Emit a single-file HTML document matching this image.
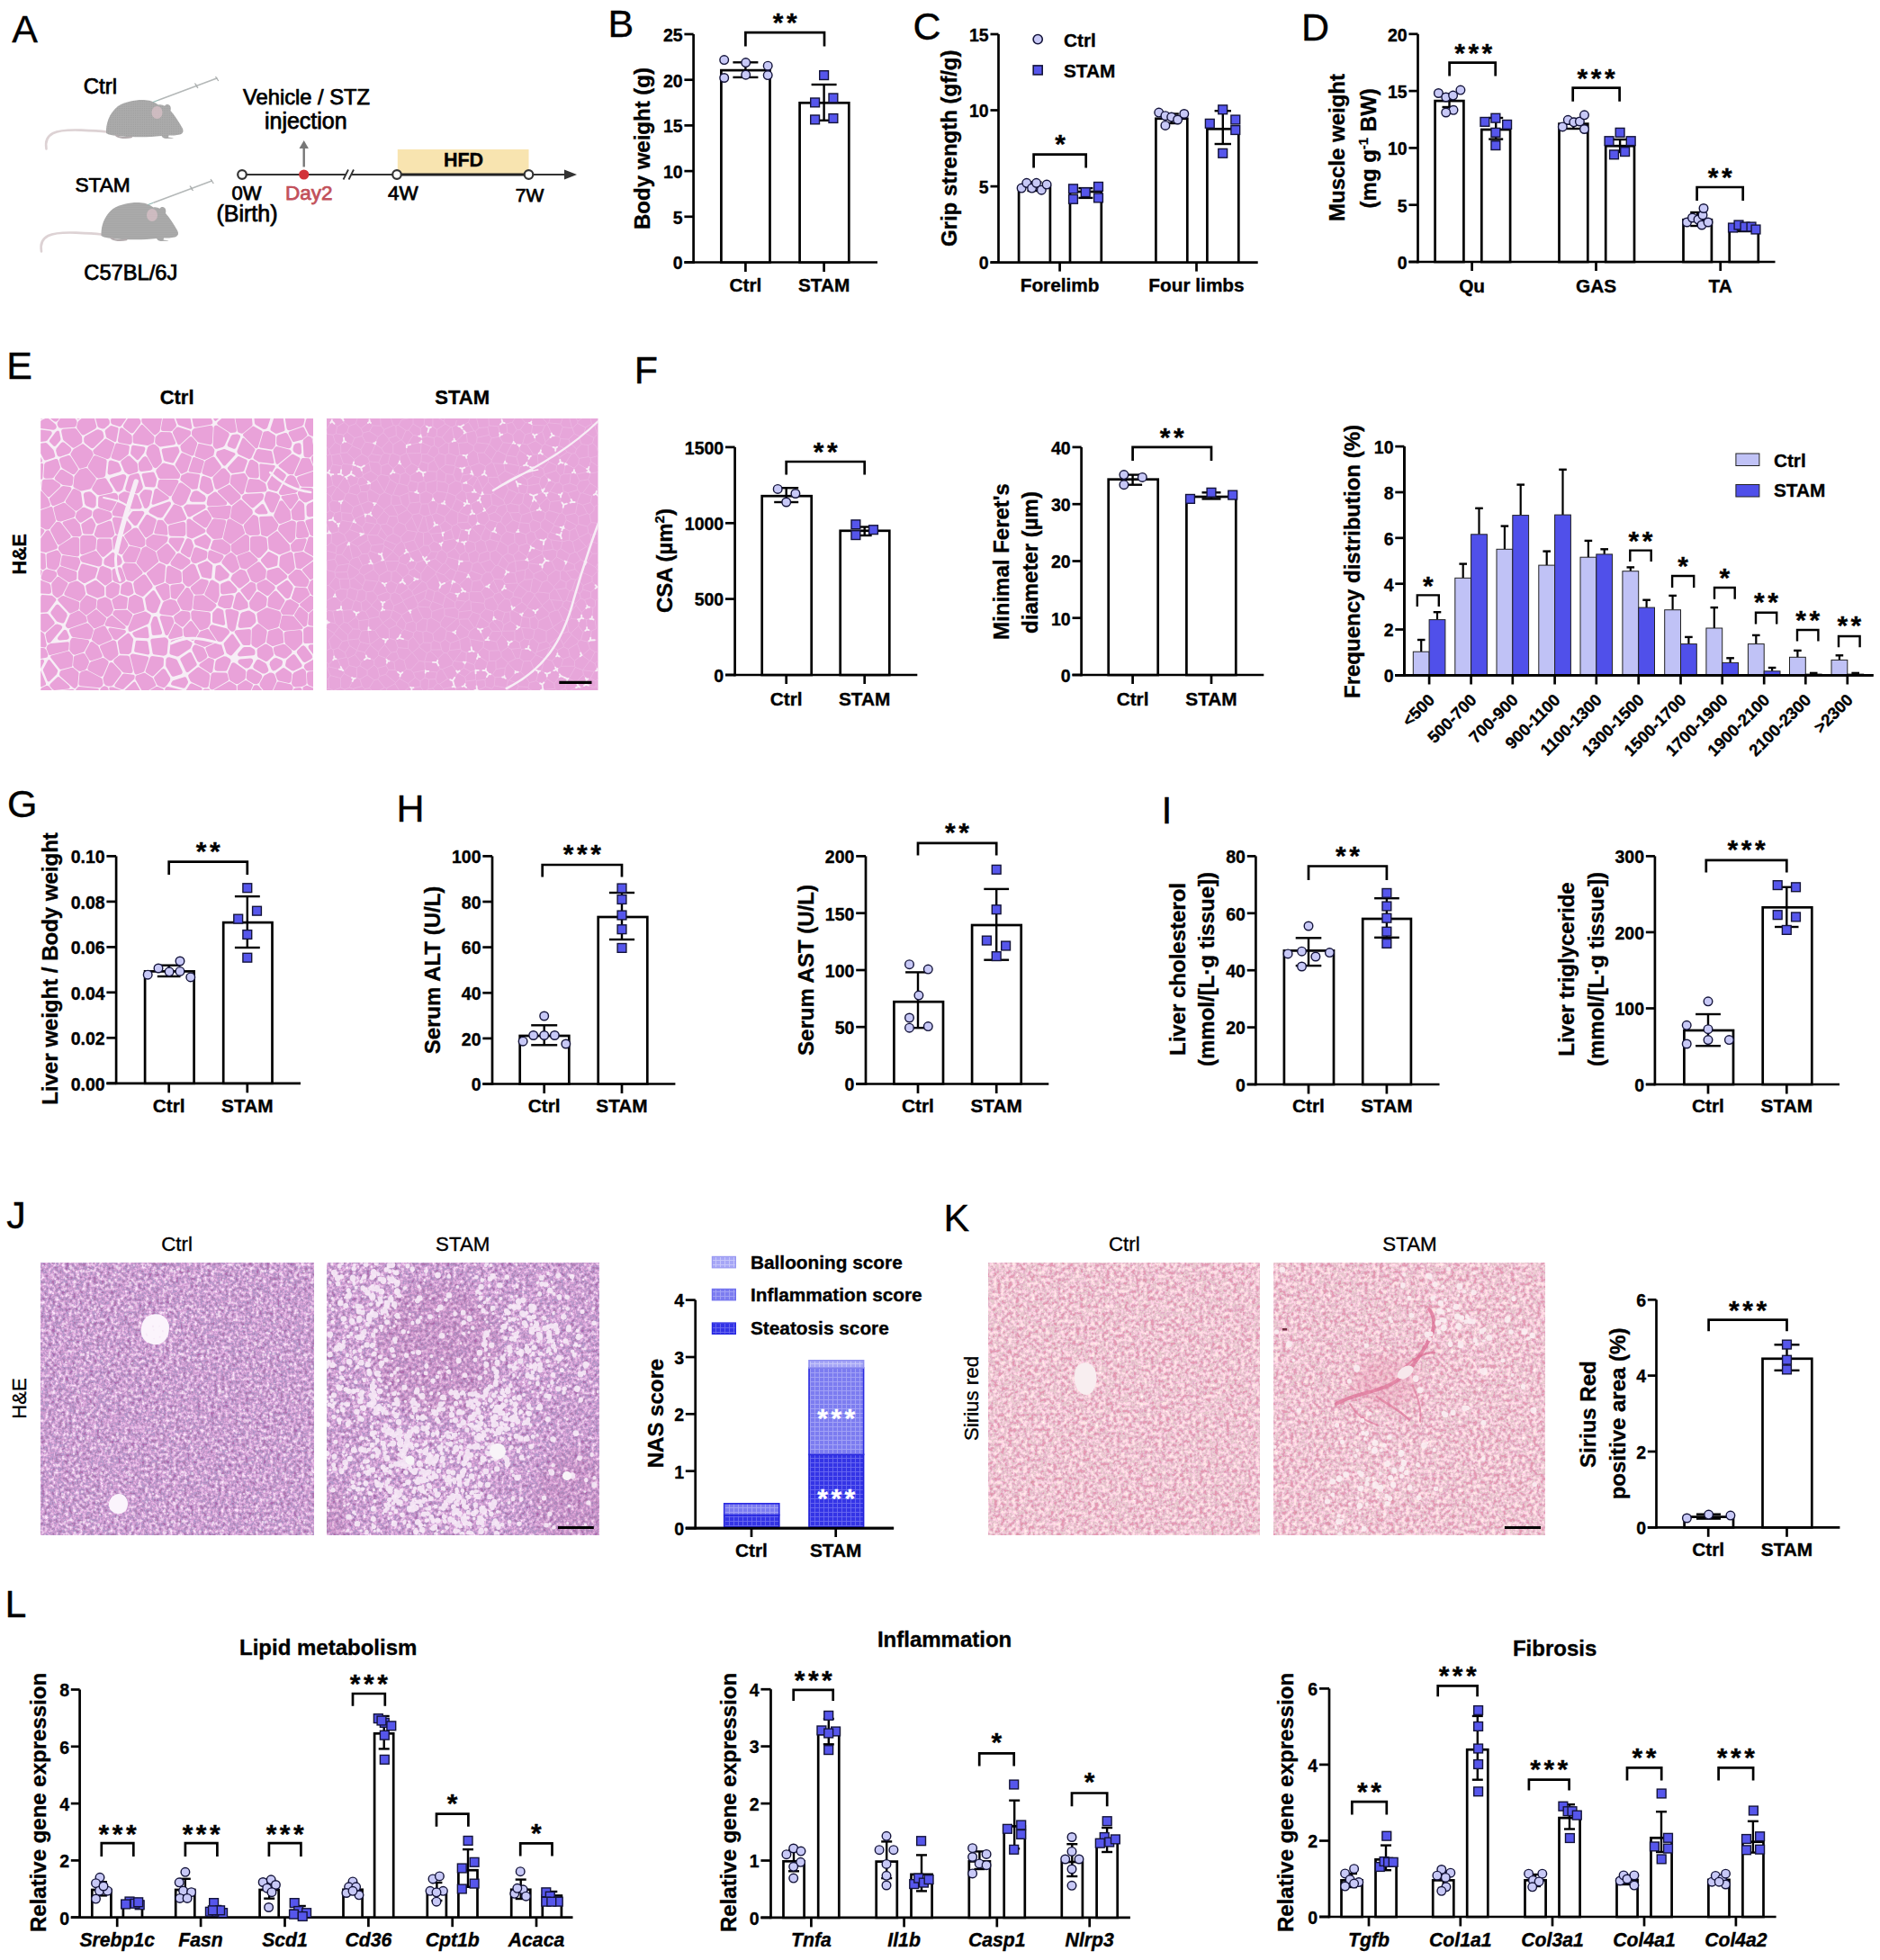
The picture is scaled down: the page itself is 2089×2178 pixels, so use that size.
<!DOCTYPE html><html><head><meta charset="utf-8"><title>Figure</title><style>html,body{margin:0;padding:0;background:#fff;width:2089px;height:2178px;overflow:hidden;}svg{display:block;}</style></head><body>
<svg width="2089" height="2178" viewBox="0 0 2089 2178" font-family="'Liberation Sans', Arial, Helvetica, sans-serif">
<rect width="2089" height="2178" fill="#fff"/>
<text x="13.2" y="46.8" font-size="43" stroke="#000" stroke-width="0.35">A</text>
<text x="675.5" y="40.7" font-size="43" stroke="#000" stroke-width="0.35">B</text>
<text x="1014.6" y="44.3" font-size="43" stroke="#000" stroke-width="0.35">C</text>
<text x="1445.9" y="44.7" font-size="43" stroke="#000" stroke-width="0.35">D</text>
<text x="7.3" y="420.5" font-size="43" stroke="#000" stroke-width="0.35">E</text>
<text x="704.8" y="426.4" font-size="43" stroke="#000" stroke-width="0.35">F</text>
<text x="8.0" y="907.5" font-size="43" stroke="#000" stroke-width="0.35">G</text>
<text x="440.5" y="913.3" font-size="43" stroke="#000" stroke-width="0.35">H</text>
<text x="1290.4" y="915.3" font-size="43" stroke="#000" stroke-width="0.35">I</text>
<text x="7.3" y="1364.5" font-size="43" stroke="#000" stroke-width="0.35">J</text>
<text x="1048.5" y="1367.9" font-size="43" stroke="#000" stroke-width="0.35">K</text>
<text x="5.5" y="1797.3" font-size="43" stroke="#000" stroke-width="0.35">L</text>
<line x1="770.6" y1="38.0" x2="770.6" y2="292.9" stroke="#000" stroke-width="2.7" stroke-linecap="butt"/>
<line x1="760.4" y1="291.5" x2="770.6" y2="291.5" stroke="#000" stroke-width="2.7" stroke-linecap="butt"/>
<text x="758.6" y="299.3" font-size="19.5" font-weight="bold" text-anchor="end" stroke="#000" stroke-width="0.35">0</text>
<line x1="760.4" y1="240.8" x2="770.6" y2="240.8" stroke="#000" stroke-width="2.7" stroke-linecap="butt"/>
<text x="758.6" y="248.6" font-size="19.5" font-weight="bold" text-anchor="end" stroke="#000" stroke-width="0.35">5</text>
<line x1="760.4" y1="190.1" x2="770.6" y2="190.1" stroke="#000" stroke-width="2.7" stroke-linecap="butt"/>
<text x="758.6" y="197.9" font-size="19.5" font-weight="bold" text-anchor="end" stroke="#000" stroke-width="0.35">10</text>
<line x1="760.4" y1="139.4" x2="770.6" y2="139.4" stroke="#000" stroke-width="2.7" stroke-linecap="butt"/>
<text x="758.6" y="147.2" font-size="19.5" font-weight="bold" text-anchor="end" stroke="#000" stroke-width="0.35">15</text>
<line x1="760.4" y1="88.7" x2="770.6" y2="88.7" stroke="#000" stroke-width="2.7" stroke-linecap="butt"/>
<text x="758.6" y="96.5" font-size="19.5" font-weight="bold" text-anchor="end" stroke="#000" stroke-width="0.35">20</text>
<line x1="760.4" y1="38.0" x2="770.6" y2="38.0" stroke="#000" stroke-width="2.7" stroke-linecap="butt"/>
<text x="758.6" y="45.8" font-size="19.5" font-weight="bold" text-anchor="end" stroke="#000" stroke-width="0.35">25</text>
<line x1="760.4" y1="291.5" x2="975.0" y2="291.5" stroke="#000" stroke-width="2.7" stroke-linecap="butt"/>
<line x1="828.4" y1="291.5" x2="828.4" y2="302.0" stroke="#000" stroke-width="2.7" stroke-linecap="butt"/>
<line x1="915.6" y1="291.5" x2="915.6" y2="302.0" stroke="#000" stroke-width="2.7" stroke-linecap="butt"/>
<rect x="801.4" y="78.1" width="54.1" height="213.4" fill="#fff" stroke="#000" stroke-width="2.7"/>
<rect x="888.6" y="114.3" width="54.7" height="177.2" fill="#fff" stroke="#000" stroke-width="2.7"/>
<line x1="828.4" y1="69.3" x2="828.4" y2="85.9" stroke="#000" stroke-width="2.4" stroke-linecap="butt"/>
<line x1="814.4" y1="69.3" x2="842.4" y2="69.3" stroke="#000" stroke-width="2.4" stroke-linecap="butt"/>
<line x1="814.4" y1="85.9" x2="842.4" y2="85.9" stroke="#000" stroke-width="2.4" stroke-linecap="butt"/>
<line x1="915.6" y1="94.0" x2="915.6" y2="133.8" stroke="#000" stroke-width="2.4" stroke-linecap="butt"/>
<line x1="901.6" y1="94.0" x2="929.6" y2="94.0" stroke="#000" stroke-width="2.4" stroke-linecap="butt"/>
<line x1="901.6" y1="133.8" x2="929.6" y2="133.8" stroke="#000" stroke-width="2.4" stroke-linecap="butt"/>
<circle cx="804.7" cy="66.6" r="4.8" fill="#c8c9f7" stroke="#14143a" stroke-width="1.4"/>
<circle cx="828.7" cy="69.6" r="4.8" fill="#c8c9f7" stroke="#14143a" stroke-width="1.4"/>
<circle cx="853.2" cy="73.2" r="4.8" fill="#c8c9f7" stroke="#14143a" stroke-width="1.4"/>
<circle cx="804.7" cy="86.5" r="4.8" fill="#c8c9f7" stroke="#14143a" stroke-width="1.4"/>
<circle cx="828.7" cy="83.2" r="4.8" fill="#c8c9f7" stroke="#14143a" stroke-width="1.4"/>
<circle cx="853.2" cy="83.6" r="4.8" fill="#c8c9f7" stroke="#14143a" stroke-width="1.4"/>
<rect x="910.7" y="78.7" width="9.8" height="9.8" fill="#5656ec" stroke="#14143a" stroke-width="1.4"/>
<rect x="900.7" y="109.0" width="9.8" height="9.8" fill="#5656ec" stroke="#14143a" stroke-width="1.4"/>
<rect x="921.0" y="104.0" width="9.8" height="9.8" fill="#5656ec" stroke="#14143a" stroke-width="1.4"/>
<rect x="900.7" y="128.0" width="9.8" height="9.8" fill="#5656ec" stroke="#14143a" stroke-width="1.4"/>
<rect x="921.0" y="126.6" width="9.8" height="9.8" fill="#5656ec" stroke="#14143a" stroke-width="1.4"/>
<polyline points="828.4,51.5 828.4,36.2 916.0,36.2 916.0,51.5" fill="none" stroke="#000" stroke-width="2.7" stroke-linejoin="miter"/>
<text x="874.0" y="35.0" font-size="30" font-weight="bold" text-anchor="middle" stroke="#000" stroke-width="0.35" letter-spacing="3.5">**</text>
<text x="828.4" y="323.7" font-size="20.8" font-weight="bold" text-anchor="middle" stroke="#000" stroke-width="0.35">Ctrl</text>
<text x="915.6" y="323.7" font-size="20.8" font-weight="bold" text-anchor="middle" stroke="#000" stroke-width="0.35">STAM</text>
<text transform="translate(722.4,165.0) rotate(-90)" font-size="24" font-weight="bold" text-anchor="middle" stroke="#000" stroke-width="0.35">Body weight (g)</text>
<line x1="1109.5" y1="38.0" x2="1109.5" y2="293.0" stroke="#000" stroke-width="2.7" stroke-linecap="butt"/>
<line x1="1100.5" y1="291.6" x2="1109.5" y2="291.6" stroke="#000" stroke-width="2.7" stroke-linecap="butt"/>
<text x="1098.7" y="299.4" font-size="19.5" font-weight="bold" text-anchor="end" stroke="#000" stroke-width="0.35">0</text>
<line x1="1100.5" y1="207.1" x2="1109.5" y2="207.1" stroke="#000" stroke-width="2.7" stroke-linecap="butt"/>
<text x="1098.7" y="214.9" font-size="19.5" font-weight="bold" text-anchor="end" stroke="#000" stroke-width="0.35">5</text>
<line x1="1100.5" y1="122.5" x2="1109.5" y2="122.5" stroke="#000" stroke-width="2.7" stroke-linecap="butt"/>
<text x="1098.7" y="130.3" font-size="19.5" font-weight="bold" text-anchor="end" stroke="#000" stroke-width="0.35">10</text>
<line x1="1100.5" y1="38.0" x2="1109.5" y2="38.0" stroke="#000" stroke-width="2.7" stroke-linecap="butt"/>
<text x="1098.7" y="45.8" font-size="19.5" font-weight="bold" text-anchor="end" stroke="#000" stroke-width="0.35">15</text>
<line x1="1100.5" y1="291.6" x2="1397.7" y2="291.6" stroke="#000" stroke-width="2.7" stroke-linecap="butt"/>
<line x1="1177.6" y1="291.6" x2="1177.6" y2="301.6" stroke="#000" stroke-width="2.7" stroke-linecap="butt"/>
<line x1="1329.5" y1="291.6" x2="1329.5" y2="301.6" stroke="#000" stroke-width="2.7" stroke-linecap="butt"/>
<rect x="1132.1" y="207.3" width="34.8" height="84.3" fill="#fff" stroke="#000" stroke-width="2.7"/>
<rect x="1189.0" y="213.0" width="34.8" height="78.6" fill="#fff" stroke="#000" stroke-width="2.7"/>
<rect x="1284.4" y="131.8" width="34.9" height="159.8" fill="#fff" stroke="#000" stroke-width="2.7"/>
<rect x="1341.4" y="143.3" width="34.9" height="148.3" fill="#fff" stroke="#000" stroke-width="2.7"/>
<line x1="1149.5" y1="202.5" x2="1149.5" y2="212.0" stroke="#000" stroke-width="2.4" stroke-linecap="butt"/>
<line x1="1141.5" y1="202.5" x2="1157.5" y2="202.5" stroke="#000" stroke-width="2.4" stroke-linecap="butt"/>
<line x1="1141.5" y1="212.0" x2="1157.5" y2="212.0" stroke="#000" stroke-width="2.4" stroke-linecap="butt"/>
<line x1="1206.4" y1="209.1" x2="1206.4" y2="219.9" stroke="#000" stroke-width="2.4" stroke-linecap="butt"/>
<line x1="1198.4" y1="209.1" x2="1214.4" y2="209.1" stroke="#000" stroke-width="2.4" stroke-linecap="butt"/>
<line x1="1198.4" y1="219.9" x2="1214.4" y2="219.9" stroke="#000" stroke-width="2.4" stroke-linecap="butt"/>
<line x1="1301.8" y1="126.5" x2="1301.8" y2="137.0" stroke="#000" stroke-width="2.4" stroke-linecap="butt"/>
<line x1="1293.8" y1="126.5" x2="1309.8" y2="126.5" stroke="#000" stroke-width="2.4" stroke-linecap="butt"/>
<line x1="1293.8" y1="137.0" x2="1309.8" y2="137.0" stroke="#000" stroke-width="2.4" stroke-linecap="butt"/>
<line x1="1358.8" y1="123.2" x2="1358.8" y2="160.0" stroke="#000" stroke-width="2.4" stroke-linecap="butt"/>
<line x1="1349.6" y1="123.2" x2="1368.0" y2="123.2" stroke="#000" stroke-width="2.4" stroke-linecap="butt"/>
<line x1="1349.6" y1="160.0" x2="1368.0" y2="160.0" stroke="#000" stroke-width="2.4" stroke-linecap="butt"/>
<circle cx="1135.1" cy="209.1" r="4.8" fill="#c8c9f7" stroke="#14143a" stroke-width="1.4"/>
<circle cx="1140.8" cy="203.3" r="4.8" fill="#c8c9f7" stroke="#14143a" stroke-width="1.4"/>
<circle cx="1146.6" cy="209.1" r="4.8" fill="#c8c9f7" stroke="#14143a" stroke-width="1.4"/>
<circle cx="1151.6" cy="203.3" r="4.8" fill="#c8c9f7" stroke="#14143a" stroke-width="1.4"/>
<circle cx="1157.3" cy="211.2" r="4.8" fill="#c8c9f7" stroke="#14143a" stroke-width="1.4"/>
<circle cx="1163.1" cy="205.1" r="4.8" fill="#c8c9f7" stroke="#14143a" stroke-width="1.4"/>
<rect x="1187.6" y="204.9" width="9.8" height="9.8" fill="#5656ec" stroke="#14143a" stroke-width="1.4"/>
<rect x="1187.6" y="216.4" width="9.8" height="9.8" fill="#5656ec" stroke="#14143a" stroke-width="1.4"/>
<rect x="1201.3" y="208.8" width="9.8" height="9.8" fill="#5656ec" stroke="#14143a" stroke-width="1.4"/>
<rect x="1215.6" y="202.5" width="9.8" height="9.8" fill="#5656ec" stroke="#14143a" stroke-width="1.4"/>
<rect x="1215.6" y="215.0" width="9.8" height="9.8" fill="#5656ec" stroke="#14143a" stroke-width="1.4"/>
<circle cx="1287.7" cy="125.1" r="4.8" fill="#c8c9f7" stroke="#14143a" stroke-width="1.4"/>
<circle cx="1294.9" cy="128.7" r="4.8" fill="#c8c9f7" stroke="#14143a" stroke-width="1.4"/>
<circle cx="1301.7" cy="130.1" r="4.8" fill="#c8c9f7" stroke="#14143a" stroke-width="1.4"/>
<circle cx="1308.6" cy="133.0" r="4.8" fill="#c8c9f7" stroke="#14143a" stroke-width="1.4"/>
<circle cx="1315.8" cy="126.5" r="4.8" fill="#c8c9f7" stroke="#14143a" stroke-width="1.4"/>
<circle cx="1294.9" cy="139.4" r="4.8" fill="#c8c9f7" stroke="#14143a" stroke-width="1.4"/>
<rect x="1353.8" y="116.9" width="9.8" height="9.8" fill="#5656ec" stroke="#14143a" stroke-width="1.4"/>
<rect x="1339.4" y="132.4" width="9.8" height="9.8" fill="#5656ec" stroke="#14143a" stroke-width="1.4"/>
<rect x="1367.9" y="128.1" width="9.8" height="9.8" fill="#5656ec" stroke="#14143a" stroke-width="1.4"/>
<rect x="1367.9" y="139.6" width="9.8" height="9.8" fill="#5656ec" stroke="#14143a" stroke-width="1.4"/>
<rect x="1353.8" y="165.4" width="9.8" height="9.8" fill="#5656ec" stroke="#14143a" stroke-width="1.4"/>
<polyline points="1148.6,186.5 1148.6,171.6 1206.7,171.6 1206.7,186.5" fill="none" stroke="#000" stroke-width="2.7" stroke-linejoin="miter"/>
<text x="1179.8" y="170.4" font-size="30" font-weight="bold" text-anchor="middle" stroke="#000" stroke-width="0.35" letter-spacing="3.5">*</text>
<circle cx="1153.2" cy="43.6" r="5.1" fill="#c8c9f7" stroke="#14143a" stroke-width="1.6"/>
<rect x="1148.2" y="72.9" width="10.0" height="10.0" fill="#5656ec" stroke="#14143a" stroke-width="1.6"/>
<text x="1182.0" y="51.8" font-size="20.8" font-weight="bold" stroke="#000" stroke-width="0.35">Ctrl</text>
<text x="1182.0" y="86.0" font-size="20.8" font-weight="bold" stroke="#000" stroke-width="0.35">STAM</text>
<text x="1177.6" y="324.4" font-size="20.8" font-weight="bold" text-anchor="middle" stroke="#000" stroke-width="0.35">Forelimb</text>
<text x="1329.5" y="324.4" font-size="20.8" font-weight="bold" text-anchor="middle" stroke="#000" stroke-width="0.35">Four limbs</text>
<text transform="translate(1063.0,164.8) rotate(-90)" font-size="24" font-weight="bold" text-anchor="middle" stroke="#000" stroke-width="0.35">Grip strength (gf/g)</text>
<line x1="1575.5" y1="37.8" x2="1575.5" y2="292.4" stroke="#000" stroke-width="2.7" stroke-linecap="butt"/>
<line x1="1565.4" y1="291.0" x2="1575.5" y2="291.0" stroke="#000" stroke-width="2.7" stroke-linecap="butt"/>
<text x="1563.6" y="298.8" font-size="19.5" font-weight="bold" text-anchor="end" stroke="#000" stroke-width="0.35">0</text>
<line x1="1565.4" y1="227.7" x2="1575.5" y2="227.7" stroke="#000" stroke-width="2.7" stroke-linecap="butt"/>
<text x="1563.6" y="235.5" font-size="19.5" font-weight="bold" text-anchor="end" stroke="#000" stroke-width="0.35">5</text>
<line x1="1565.4" y1="164.4" x2="1575.5" y2="164.4" stroke="#000" stroke-width="2.7" stroke-linecap="butt"/>
<text x="1563.6" y="172.2" font-size="19.5" font-weight="bold" text-anchor="end" stroke="#000" stroke-width="0.35">10</text>
<line x1="1565.4" y1="101.1" x2="1575.5" y2="101.1" stroke="#000" stroke-width="2.7" stroke-linecap="butt"/>
<text x="1563.6" y="108.9" font-size="19.5" font-weight="bold" text-anchor="end" stroke="#000" stroke-width="0.35">15</text>
<line x1="1565.4" y1="37.8" x2="1575.5" y2="37.8" stroke="#000" stroke-width="2.7" stroke-linecap="butt"/>
<text x="1563.6" y="45.6" font-size="19.5" font-weight="bold" text-anchor="end" stroke="#000" stroke-width="0.35">20</text>
<line x1="1565.4" y1="291.0" x2="1972.5" y2="291.0" stroke="#000" stroke-width="2.7" stroke-linecap="butt"/>
<line x1="1635.6" y1="291.0" x2="1635.6" y2="301.0" stroke="#000" stroke-width="2.7" stroke-linecap="butt"/>
<line x1="1773.5" y1="291.0" x2="1773.5" y2="301.0" stroke="#000" stroke-width="2.7" stroke-linecap="butt"/>
<line x1="1911.7" y1="291.0" x2="1911.7" y2="301.0" stroke="#000" stroke-width="2.7" stroke-linecap="butt"/>
<rect x="1594.6" y="112.1" width="31.8" height="178.9" fill="#fff" stroke="#000" stroke-width="2.7"/>
<rect x="1646.3" y="144.0" width="31.8" height="147.0" fill="#fff" stroke="#000" stroke-width="2.7"/>
<rect x="1732.5" y="137.6" width="31.8" height="153.4" fill="#fff" stroke="#000" stroke-width="2.7"/>
<rect x="1784.2" y="162.2" width="31.8" height="128.8" fill="#fff" stroke="#000" stroke-width="2.7"/>
<rect x="1870.5" y="244.2" width="31.4" height="46.8" fill="#fff" stroke="#000" stroke-width="2.7"/>
<rect x="1921.7" y="254.3" width="32.1" height="36.7" fill="#fff" stroke="#000" stroke-width="2.7"/>
<line x1="1610.5" y1="104.5" x2="1610.5" y2="119.0" stroke="#000" stroke-width="2.4" stroke-linecap="butt"/>
<line x1="1602.5" y1="104.5" x2="1618.5" y2="104.5" stroke="#000" stroke-width="2.4" stroke-linecap="butt"/>
<line x1="1602.5" y1="119.0" x2="1618.5" y2="119.0" stroke="#000" stroke-width="2.4" stroke-linecap="butt"/>
<line x1="1662.2" y1="131.0" x2="1662.2" y2="154.6" stroke="#000" stroke-width="2.4" stroke-linecap="butt"/>
<line x1="1654.2" y1="131.0" x2="1670.2" y2="131.0" stroke="#000" stroke-width="2.4" stroke-linecap="butt"/>
<line x1="1654.2" y1="154.6" x2="1670.2" y2="154.6" stroke="#000" stroke-width="2.4" stroke-linecap="butt"/>
<line x1="1748.4" y1="132.0" x2="1748.4" y2="143.0" stroke="#000" stroke-width="2.4" stroke-linecap="butt"/>
<line x1="1740.4" y1="132.0" x2="1756.4" y2="132.0" stroke="#000" stroke-width="2.4" stroke-linecap="butt"/>
<line x1="1740.4" y1="143.0" x2="1756.4" y2="143.0" stroke="#000" stroke-width="2.4" stroke-linecap="butt"/>
<line x1="1800.1" y1="155.0" x2="1800.1" y2="169.0" stroke="#000" stroke-width="2.4" stroke-linecap="butt"/>
<line x1="1792.1" y1="155.0" x2="1808.1" y2="155.0" stroke="#000" stroke-width="2.4" stroke-linecap="butt"/>
<line x1="1792.1" y1="169.0" x2="1808.1" y2="169.0" stroke="#000" stroke-width="2.4" stroke-linecap="butt"/>
<line x1="1886.2" y1="236.0" x2="1886.2" y2="251.0" stroke="#000" stroke-width="2.4" stroke-linecap="butt"/>
<line x1="1878.2" y1="236.0" x2="1894.2" y2="236.0" stroke="#000" stroke-width="2.4" stroke-linecap="butt"/>
<line x1="1878.2" y1="251.0" x2="1894.2" y2="251.0" stroke="#000" stroke-width="2.4" stroke-linecap="butt"/>
<line x1="1937.7" y1="250.0" x2="1937.7" y2="257.0" stroke="#000" stroke-width="2.4" stroke-linecap="butt"/>
<line x1="1929.7" y1="250.0" x2="1945.7" y2="250.0" stroke="#000" stroke-width="2.4" stroke-linecap="butt"/>
<line x1="1929.7" y1="257.0" x2="1945.7" y2="257.0" stroke="#000" stroke-width="2.4" stroke-linecap="butt"/>
<circle cx="1598.4" cy="103.5" r="4.8" fill="#c8c9f7" stroke="#14143a" stroke-width="1.4"/>
<circle cx="1606.7" cy="108.0" r="4.8" fill="#c8c9f7" stroke="#14143a" stroke-width="1.4"/>
<circle cx="1614.6" cy="106.1" r="4.8" fill="#c8c9f7" stroke="#14143a" stroke-width="1.4"/>
<circle cx="1622.9" cy="100.1" r="4.8" fill="#c8c9f7" stroke="#14143a" stroke-width="1.4"/>
<circle cx="1615.0" cy="122.3" r="4.8" fill="#c8c9f7" stroke="#14143a" stroke-width="1.4"/>
<circle cx="1606.7" cy="125.0" r="4.8" fill="#c8c9f7" stroke="#14143a" stroke-width="1.4"/>
<rect x="1645.0" y="130.5" width="9.8" height="9.8" fill="#5656ec" stroke="#14143a" stroke-width="1.4"/>
<rect x="1657.0" y="126.3" width="9.8" height="9.8" fill="#5656ec" stroke="#14143a" stroke-width="1.4"/>
<rect x="1669.7" y="133.5" width="9.8" height="9.8" fill="#5656ec" stroke="#14143a" stroke-width="1.4"/>
<rect x="1657.0" y="142.4" width="9.8" height="9.8" fill="#5656ec" stroke="#14143a" stroke-width="1.4"/>
<rect x="1657.0" y="156.7" width="9.8" height="9.8" fill="#5656ec" stroke="#14143a" stroke-width="1.4"/>
<circle cx="1736.3" cy="140.9" r="4.8" fill="#c8c9f7" stroke="#14143a" stroke-width="1.4"/>
<circle cx="1742.3" cy="133.3" r="4.8" fill="#c8c9f7" stroke="#14143a" stroke-width="1.4"/>
<circle cx="1748.8" cy="135.8" r="4.8" fill="#c8c9f7" stroke="#14143a" stroke-width="1.4"/>
<circle cx="1755.4" cy="135.0" r="4.8" fill="#c8c9f7" stroke="#14143a" stroke-width="1.4"/>
<circle cx="1760.5" cy="127.8" r="4.8" fill="#c8c9f7" stroke="#14143a" stroke-width="1.4"/>
<circle cx="1760.5" cy="143.5" r="4.8" fill="#c8c9f7" stroke="#14143a" stroke-width="1.4"/>
<rect x="1795.2" y="142.4" width="9.8" height="9.8" fill="#5656ec" stroke="#14143a" stroke-width="1.4"/>
<rect x="1783.1" y="151.8" width="9.8" height="9.8" fill="#5656ec" stroke="#14143a" stroke-width="1.4"/>
<rect x="1807.3" y="151.8" width="9.8" height="9.8" fill="#5656ec" stroke="#14143a" stroke-width="1.4"/>
<rect x="1800.7" y="163.7" width="9.8" height="9.8" fill="#5656ec" stroke="#14143a" stroke-width="1.4"/>
<rect x="1788.6" y="166.9" width="9.8" height="9.8" fill="#5656ec" stroke="#14143a" stroke-width="1.4"/>
<circle cx="1874.5" cy="247.0" r="4.8" fill="#c8c9f7" stroke="#14143a" stroke-width="1.4"/>
<circle cx="1880.5" cy="242.0" r="4.8" fill="#c8c9f7" stroke="#14143a" stroke-width="1.4"/>
<circle cx="1887.0" cy="244.0" r="4.8" fill="#c8c9f7" stroke="#14143a" stroke-width="1.4"/>
<circle cx="1892.0" cy="239.0" r="4.8" fill="#c8c9f7" stroke="#14143a" stroke-width="1.4"/>
<circle cx="1891.0" cy="250.0" r="4.8" fill="#c8c9f7" stroke="#14143a" stroke-width="1.4"/>
<circle cx="1898.0" cy="247.0" r="4.8" fill="#c8c9f7" stroke="#14143a" stroke-width="1.4"/>
<circle cx="1893.0" cy="231.5" r="4.8" fill="#c8c9f7" stroke="#14143a" stroke-width="1.4"/>
<rect x="1920.6" y="248.1" width="9.8" height="9.8" fill="#5656ec" stroke="#14143a" stroke-width="1.4"/>
<rect x="1927.1" y="245.1" width="9.8" height="9.8" fill="#5656ec" stroke="#14143a" stroke-width="1.4"/>
<rect x="1934.1" y="247.1" width="9.8" height="9.8" fill="#5656ec" stroke="#14143a" stroke-width="1.4"/>
<rect x="1941.1" y="247.1" width="9.8" height="9.8" fill="#5656ec" stroke="#14143a" stroke-width="1.4"/>
<rect x="1946.1" y="250.1" width="9.8" height="9.8" fill="#5656ec" stroke="#14143a" stroke-width="1.4"/>
<polyline points="1610.6,84.6 1610.6,69.6 1661.7,69.6 1661.7,84.6" fill="none" stroke="#000" stroke-width="2.7" stroke-linejoin="miter"/>
<text x="1639.0" y="69.1" font-size="30" font-weight="bold" text-anchor="middle" stroke="#000" stroke-width="0.35" letter-spacing="3.5">***</text>
<polyline points="1747.7,112.7 1747.7,97.7 1799.6,97.7 1799.6,112.7" fill="none" stroke="#000" stroke-width="2.7" stroke-linejoin="miter"/>
<text x="1775.3" y="96.6" font-size="30" font-weight="bold" text-anchor="middle" stroke="#000" stroke-width="0.35" letter-spacing="3.5">***</text>
<polyline points="1885.6,223.0 1885.6,208.0 1936.7,208.0 1936.7,223.0" fill="none" stroke="#000" stroke-width="2.7" stroke-linejoin="miter"/>
<text x="1913.0" y="207.1" font-size="30" font-weight="bold" text-anchor="middle" stroke="#000" stroke-width="0.35" letter-spacing="3.5">**</text>
<text x="1635.6" y="324.5" font-size="20.8" font-weight="bold" text-anchor="middle" stroke="#000" stroke-width="0.35">Qu</text>
<text x="1773.5" y="324.5" font-size="20.8" font-weight="bold" text-anchor="middle" stroke="#000" stroke-width="0.35">GAS</text>
<text x="1911.7" y="324.5" font-size="20.8" font-weight="bold" text-anchor="middle" stroke="#000" stroke-width="0.35">TA</text>
<text transform="translate(1493.5,164.0) rotate(-90)" font-size="24" font-weight="bold" text-anchor="middle" stroke="#000" stroke-width="0.35">Muscle weight</text>
<text transform="translate(1529.0,164.8) rotate(-90)" font-size="24" font-weight="bold" text-anchor="middle" stroke="#000" stroke-width="0.35">(mg g<tspan dy="-9" font-size="15">-1</tspan><tspan dy="9"> BW)</tspan></text>
<line x1="816.6" y1="496.9" x2="816.6" y2="751.4" stroke="#000" stroke-width="2.7" stroke-linecap="butt"/>
<line x1="806.0" y1="750.0" x2="816.6" y2="750.0" stroke="#000" stroke-width="2.7" stroke-linecap="butt"/>
<text x="804.2" y="757.8" font-size="19.5" font-weight="bold" text-anchor="end" stroke="#000" stroke-width="0.35">0</text>
<line x1="806.0" y1="665.6" x2="816.6" y2="665.6" stroke="#000" stroke-width="2.7" stroke-linecap="butt"/>
<text x="804.2" y="673.4" font-size="19.5" font-weight="bold" text-anchor="end" stroke="#000" stroke-width="0.35">500</text>
<line x1="806.0" y1="581.3" x2="816.6" y2="581.3" stroke="#000" stroke-width="2.7" stroke-linecap="butt"/>
<text x="804.2" y="589.1" font-size="19.5" font-weight="bold" text-anchor="end" stroke="#000" stroke-width="0.35">1000</text>
<line x1="806.0" y1="496.9" x2="816.6" y2="496.9" stroke="#000" stroke-width="2.7" stroke-linecap="butt"/>
<text x="804.2" y="504.7" font-size="19.5" font-weight="bold" text-anchor="end" stroke="#000" stroke-width="0.35">1500</text>
<line x1="806.0" y1="750.0" x2="1019.3" y2="750.0" stroke="#000" stroke-width="2.7" stroke-linecap="butt"/>
<line x1="873.7" y1="750.0" x2="873.7" y2="760.0" stroke="#000" stroke-width="2.7" stroke-linecap="butt"/>
<line x1="960.7" y1="750.0" x2="960.7" y2="760.0" stroke="#000" stroke-width="2.7" stroke-linecap="butt"/>
<rect x="846.7" y="551.2" width="55.0" height="198.8" fill="#fff" stroke="#000" stroke-width="2.7"/>
<rect x="933.7" y="589.8" width="54.6" height="160.2" fill="#fff" stroke="#000" stroke-width="2.7"/>
<line x1="873.7" y1="542.2" x2="873.7" y2="558.0" stroke="#000" stroke-width="2.4" stroke-linecap="butt"/>
<line x1="860.2" y1="542.2" x2="887.2" y2="542.2" stroke="#000" stroke-width="2.4" stroke-linecap="butt"/>
<line x1="860.2" y1="558.0" x2="887.2" y2="558.0" stroke="#000" stroke-width="2.4" stroke-linecap="butt"/>
<line x1="960.7" y1="585.5" x2="960.7" y2="595.0" stroke="#000" stroke-width="2.4" stroke-linecap="butt"/>
<line x1="952.7" y1="585.5" x2="968.7" y2="585.5" stroke="#000" stroke-width="2.4" stroke-linecap="butt"/>
<line x1="952.7" y1="595.0" x2="968.7" y2="595.0" stroke="#000" stroke-width="2.4" stroke-linecap="butt"/>
<circle cx="864.2" cy="543.4" r="4.8" fill="#c8c9f7" stroke="#14143a" stroke-width="1.4"/>
<circle cx="883.9" cy="548.5" r="4.8" fill="#c8c9f7" stroke="#14143a" stroke-width="1.4"/>
<circle cx="873.7" cy="558.0" r="4.8" fill="#c8c9f7" stroke="#14143a" stroke-width="1.4"/>
<rect x="946.0" y="577.9" width="9.8" height="9.8" fill="#5656ec" stroke="#14143a" stroke-width="1.4"/>
<rect x="946.0" y="589.7" width="9.8" height="9.8" fill="#5656ec" stroke="#14143a" stroke-width="1.4"/>
<rect x="965.6" y="583.8" width="9.8" height="9.8" fill="#5656ec" stroke="#14143a" stroke-width="1.4"/>
<polyline points="873.7,527.6 873.7,513.0 960.7,513.0 960.7,527.6" fill="none" stroke="#000" stroke-width="2.7" stroke-linejoin="miter"/>
<text x="919.0" y="511.6" font-size="30" font-weight="bold" text-anchor="middle" stroke="#000" stroke-width="0.35" letter-spacing="3.5">**</text>
<text x="873.7" y="783.5" font-size="20.8" font-weight="bold" text-anchor="middle" stroke="#000" stroke-width="0.35">Ctrl</text>
<text x="960.7" y="783.5" font-size="20.8" font-weight="bold" text-anchor="middle" stroke="#000" stroke-width="0.35">STAM</text>
<text transform="translate(746.5,623.0) rotate(-90)" font-size="24" font-weight="bold" text-anchor="middle" stroke="#000" stroke-width="0.35">CSA (µm<tspan dy="-9" font-size="15">2</tspan><tspan dy="9">)</tspan></text>
<line x1="1201.6" y1="496.9" x2="1201.6" y2="751.4" stroke="#000" stroke-width="2.7" stroke-linecap="butt"/>
<line x1="1191.5" y1="750.0" x2="1201.6" y2="750.0" stroke="#000" stroke-width="2.7" stroke-linecap="butt"/>
<text x="1189.7" y="757.8" font-size="19.5" font-weight="bold" text-anchor="end" stroke="#000" stroke-width="0.35">0</text>
<line x1="1191.5" y1="686.7" x2="1201.6" y2="686.7" stroke="#000" stroke-width="2.7" stroke-linecap="butt"/>
<text x="1189.7" y="694.5" font-size="19.5" font-weight="bold" text-anchor="end" stroke="#000" stroke-width="0.35">10</text>
<line x1="1191.5" y1="623.5" x2="1201.6" y2="623.5" stroke="#000" stroke-width="2.7" stroke-linecap="butt"/>
<text x="1189.7" y="631.2" font-size="19.5" font-weight="bold" text-anchor="end" stroke="#000" stroke-width="0.35">20</text>
<line x1="1191.5" y1="560.2" x2="1201.6" y2="560.2" stroke="#000" stroke-width="2.7" stroke-linecap="butt"/>
<text x="1189.7" y="568.0" font-size="19.5" font-weight="bold" text-anchor="end" stroke="#000" stroke-width="0.35">30</text>
<line x1="1191.5" y1="496.9" x2="1201.6" y2="496.9" stroke="#000" stroke-width="2.7" stroke-linecap="butt"/>
<text x="1189.7" y="504.7" font-size="19.5" font-weight="bold" text-anchor="end" stroke="#000" stroke-width="0.35">40</text>
<line x1="1191.5" y1="750.0" x2="1404.3" y2="750.0" stroke="#000" stroke-width="2.7" stroke-linecap="butt"/>
<line x1="1258.6" y1="750.0" x2="1258.6" y2="760.0" stroke="#000" stroke-width="2.7" stroke-linecap="butt"/>
<line x1="1346.0" y1="750.0" x2="1346.0" y2="760.0" stroke="#000" stroke-width="2.7" stroke-linecap="butt"/>
<rect x="1231.7" y="532.7" width="55.0" height="217.3" fill="#fff" stroke="#000" stroke-width="2.7"/>
<rect x="1318.4" y="552.0" width="54.9" height="198.0" fill="#fff" stroke="#000" stroke-width="2.7"/>
<line x1="1258.6" y1="527.6" x2="1258.6" y2="538.7" stroke="#000" stroke-width="2.4" stroke-linecap="butt"/>
<line x1="1248.1" y1="527.6" x2="1269.1" y2="527.6" stroke="#000" stroke-width="2.4" stroke-linecap="butt"/>
<line x1="1248.1" y1="538.7" x2="1269.1" y2="538.7" stroke="#000" stroke-width="2.4" stroke-linecap="butt"/>
<line x1="1346.0" y1="547.3" x2="1346.0" y2="554.4" stroke="#000" stroke-width="2.4" stroke-linecap="butt"/>
<line x1="1335.5" y1="547.3" x2="1356.5" y2="547.3" stroke="#000" stroke-width="2.4" stroke-linecap="butt"/>
<line x1="1335.5" y1="554.4" x2="1356.5" y2="554.4" stroke="#000" stroke-width="2.4" stroke-linecap="butt"/>
<circle cx="1248.9" cy="527.6" r="4.8" fill="#c8c9f7" stroke="#14143a" stroke-width="1.4"/>
<circle cx="1269.3" cy="530.4" r="4.8" fill="#c8c9f7" stroke="#14143a" stroke-width="1.4"/>
<circle cx="1248.9" cy="538.7" r="4.8" fill="#c8c9f7" stroke="#14143a" stroke-width="1.4"/>
<rect x="1317.6" y="549.5" width="9.8" height="9.8" fill="#5656ec" stroke="#14143a" stroke-width="1.4"/>
<rect x="1341.1" y="542.4" width="9.8" height="9.8" fill="#5656ec" stroke="#14143a" stroke-width="1.4"/>
<rect x="1364.8" y="545.2" width="9.8" height="9.8" fill="#5656ec" stroke="#14143a" stroke-width="1.4"/>
<polyline points="1258.6,511.9 1258.6,496.9 1346.0,496.9 1346.0,511.9" fill="none" stroke="#000" stroke-width="2.7" stroke-linejoin="miter"/>
<text x="1304.0" y="495.5" font-size="30" font-weight="bold" text-anchor="middle" stroke="#000" stroke-width="0.35" letter-spacing="3.5">**</text>
<text x="1258.6" y="783.5" font-size="20.8" font-weight="bold" text-anchor="middle" stroke="#000" stroke-width="0.35">Ctrl</text>
<text x="1346.0" y="783.5" font-size="20.8" font-weight="bold" text-anchor="middle" stroke="#000" stroke-width="0.35">STAM</text>
<text transform="translate(1121.0,624.0) rotate(-90)" font-size="24" font-weight="bold" text-anchor="middle" stroke="#000" stroke-width="0.35">Minimal Feret's</text>
<text transform="translate(1153.0,625.0) rotate(-90)" font-size="24" font-weight="bold" text-anchor="middle" stroke="#000" stroke-width="0.35">diameter (µm)</text>
<line x1="1560.4" y1="496.1" x2="1560.4" y2="751.8" stroke="#000" stroke-width="2.7" stroke-linecap="butt"/>
<line x1="1550.3" y1="750.4" x2="1560.4" y2="750.4" stroke="#000" stroke-width="2.7" stroke-linecap="butt"/>
<text x="1548.5" y="758.2" font-size="19.5" font-weight="bold" text-anchor="end" stroke="#000" stroke-width="0.35">0</text>
<line x1="1550.3" y1="699.5" x2="1560.4" y2="699.5" stroke="#000" stroke-width="2.7" stroke-linecap="butt"/>
<text x="1548.5" y="707.3" font-size="19.5" font-weight="bold" text-anchor="end" stroke="#000" stroke-width="0.35">2</text>
<line x1="1550.3" y1="648.7" x2="1560.4" y2="648.7" stroke="#000" stroke-width="2.7" stroke-linecap="butt"/>
<text x="1548.5" y="656.5" font-size="19.5" font-weight="bold" text-anchor="end" stroke="#000" stroke-width="0.35">4</text>
<line x1="1550.3" y1="597.8" x2="1560.4" y2="597.8" stroke="#000" stroke-width="2.7" stroke-linecap="butt"/>
<text x="1548.5" y="605.6" font-size="19.5" font-weight="bold" text-anchor="end" stroke="#000" stroke-width="0.35">6</text>
<line x1="1550.3" y1="547.0" x2="1560.4" y2="547.0" stroke="#000" stroke-width="2.7" stroke-linecap="butt"/>
<text x="1548.5" y="554.8" font-size="19.5" font-weight="bold" text-anchor="end" stroke="#000" stroke-width="0.35">8</text>
<line x1="1550.3" y1="496.1" x2="1560.4" y2="496.1" stroke="#000" stroke-width="2.7" stroke-linecap="butt"/>
<text x="1548.5" y="503.9" font-size="19.5" font-weight="bold" text-anchor="end" stroke="#000" stroke-width="0.35">10</text>
<line x1="1550.3" y1="750.4" x2="2081.6" y2="750.4" stroke="#000" stroke-width="2.7" stroke-linecap="butt"/>
<line x1="1579.2" y1="724.2" x2="1579.2" y2="711.0" stroke="#000" stroke-width="2.2" stroke-linecap="butt"/>
<line x1="1574.9" y1="711.0" x2="1583.5" y2="711.0" stroke="#000" stroke-width="2.4" stroke-linecap="butt"/>
<line x1="1597.0" y1="688.6" x2="1597.0" y2="680.2" stroke="#000" stroke-width="2.2" stroke-linecap="butt"/>
<line x1="1592.7" y1="680.2" x2="1601.3" y2="680.2" stroke="#000" stroke-width="2.4" stroke-linecap="butt"/>
<rect x="1570.3" y="724.2" width="17.8" height="26.2" fill="#c0c2f6" stroke="#222" stroke-width="1"/>
<rect x="1588.1" y="688.6" width="17.8" height="61.8" fill="#5050ea" stroke="#222" stroke-width="1"/>
<line x1="1625.7" y1="642.3" x2="1625.7" y2="626.6" stroke="#000" stroke-width="2.2" stroke-linecap="butt"/>
<line x1="1621.4" y1="626.6" x2="1630.0" y2="626.6" stroke="#000" stroke-width="2.4" stroke-linecap="butt"/>
<line x1="1643.5" y1="593.8" x2="1643.5" y2="564.8" stroke="#000" stroke-width="2.2" stroke-linecap="butt"/>
<line x1="1639.2" y1="564.8" x2="1647.8" y2="564.8" stroke="#000" stroke-width="2.4" stroke-linecap="butt"/>
<rect x="1616.8" y="642.3" width="17.8" height="108.1" fill="#c0c2f6" stroke="#222" stroke-width="1"/>
<rect x="1634.6" y="593.8" width="17.8" height="156.6" fill="#5050ea" stroke="#222" stroke-width="1"/>
<line x1="1671.9" y1="610.3" x2="1671.9" y2="584.6" stroke="#000" stroke-width="2.2" stroke-linecap="butt"/>
<line x1="1667.6" y1="584.6" x2="1676.2" y2="584.6" stroke="#000" stroke-width="2.4" stroke-linecap="butt"/>
<line x1="1689.7" y1="572.6" x2="1689.7" y2="538.6" stroke="#000" stroke-width="2.2" stroke-linecap="butt"/>
<line x1="1685.4" y1="538.6" x2="1694.0" y2="538.6" stroke="#000" stroke-width="2.4" stroke-linecap="butt"/>
<rect x="1663.0" y="610.3" width="17.8" height="140.1" fill="#c0c2f6" stroke="#222" stroke-width="1"/>
<rect x="1680.8" y="572.6" width="17.8" height="177.8" fill="#5050ea" stroke="#222" stroke-width="1"/>
<line x1="1718.7" y1="628.1" x2="1718.7" y2="612.6" stroke="#000" stroke-width="2.2" stroke-linecap="butt"/>
<line x1="1714.4" y1="612.6" x2="1723.0" y2="612.6" stroke="#000" stroke-width="2.4" stroke-linecap="butt"/>
<line x1="1736.5" y1="572.1" x2="1736.5" y2="521.8" stroke="#000" stroke-width="2.2" stroke-linecap="butt"/>
<line x1="1732.2" y1="521.8" x2="1740.8" y2="521.8" stroke="#000" stroke-width="2.4" stroke-linecap="butt"/>
<rect x="1709.8" y="628.1" width="17.8" height="122.3" fill="#c0c2f6" stroke="#222" stroke-width="1"/>
<rect x="1727.6" y="572.1" width="17.8" height="178.3" fill="#5050ea" stroke="#222" stroke-width="1"/>
<line x1="1764.9" y1="619.2" x2="1764.9" y2="600.9" stroke="#000" stroke-width="2.2" stroke-linecap="butt"/>
<line x1="1760.6" y1="600.9" x2="1769.2" y2="600.9" stroke="#000" stroke-width="2.4" stroke-linecap="butt"/>
<line x1="1782.7" y1="615.9" x2="1782.7" y2="610.3" stroke="#000" stroke-width="2.2" stroke-linecap="butt"/>
<line x1="1778.4" y1="610.3" x2="1787.0" y2="610.3" stroke="#000" stroke-width="2.4" stroke-linecap="butt"/>
<rect x="1756.0" y="619.2" width="17.8" height="131.2" fill="#c0c2f6" stroke="#222" stroke-width="1"/>
<rect x="1773.8" y="615.9" width="17.8" height="134.5" fill="#5050ea" stroke="#222" stroke-width="1"/>
<line x1="1811.8" y1="634.7" x2="1811.8" y2="630.4" stroke="#000" stroke-width="2.2" stroke-linecap="butt"/>
<line x1="1807.5" y1="630.4" x2="1816.1" y2="630.4" stroke="#000" stroke-width="2.4" stroke-linecap="butt"/>
<line x1="1829.6" y1="675.1" x2="1829.6" y2="666.7" stroke="#000" stroke-width="2.2" stroke-linecap="butt"/>
<line x1="1825.3" y1="666.7" x2="1833.9" y2="666.7" stroke="#000" stroke-width="2.4" stroke-linecap="butt"/>
<rect x="1802.9" y="634.7" width="17.8" height="115.7" fill="#c0c2f6" stroke="#222" stroke-width="1"/>
<rect x="1820.7" y="675.1" width="17.8" height="75.3" fill="#5050ea" stroke="#222" stroke-width="1"/>
<line x1="1858.6" y1="677.7" x2="1858.6" y2="661.9" stroke="#000" stroke-width="2.2" stroke-linecap="butt"/>
<line x1="1854.3" y1="661.9" x2="1862.9" y2="661.9" stroke="#000" stroke-width="2.4" stroke-linecap="butt"/>
<line x1="1876.4" y1="715.6" x2="1876.4" y2="707.9" stroke="#000" stroke-width="2.2" stroke-linecap="butt"/>
<line x1="1872.1" y1="707.9" x2="1880.7" y2="707.9" stroke="#000" stroke-width="2.4" stroke-linecap="butt"/>
<rect x="1849.7" y="677.7" width="17.8" height="72.7" fill="#c0c2f6" stroke="#222" stroke-width="1"/>
<rect x="1867.5" y="715.6" width="17.8" height="34.8" fill="#5050ea" stroke="#222" stroke-width="1"/>
<line x1="1904.8" y1="698.0" x2="1904.8" y2="675.1" stroke="#000" stroke-width="2.2" stroke-linecap="butt"/>
<line x1="1900.5" y1="675.1" x2="1909.1" y2="675.1" stroke="#000" stroke-width="2.4" stroke-linecap="butt"/>
<line x1="1922.6" y1="736.4" x2="1922.6" y2="731.3" stroke="#000" stroke-width="2.2" stroke-linecap="butt"/>
<line x1="1918.3" y1="731.3" x2="1926.9" y2="731.3" stroke="#000" stroke-width="2.4" stroke-linecap="butt"/>
<rect x="1895.9" y="698.0" width="17.8" height="52.4" fill="#c0c2f6" stroke="#222" stroke-width="1"/>
<rect x="1913.7" y="736.4" width="17.8" height="14.0" fill="#5050ea" stroke="#222" stroke-width="1"/>
<line x1="1951.3" y1="715.6" x2="1951.3" y2="705.9" stroke="#000" stroke-width="2.2" stroke-linecap="butt"/>
<line x1="1947.0" y1="705.9" x2="1955.6" y2="705.9" stroke="#000" stroke-width="2.4" stroke-linecap="butt"/>
<line x1="1969.1" y1="745.8" x2="1969.1" y2="742.0" stroke="#000" stroke-width="2.2" stroke-linecap="butt"/>
<line x1="1964.8" y1="742.0" x2="1973.4" y2="742.0" stroke="#000" stroke-width="2.4" stroke-linecap="butt"/>
<rect x="1942.4" y="715.6" width="17.8" height="34.8" fill="#c0c2f6" stroke="#222" stroke-width="1"/>
<rect x="1960.2" y="745.8" width="17.8" height="4.6" fill="#5050ea" stroke="#222" stroke-width="1"/>
<line x1="1997.4" y1="730.3" x2="1997.4" y2="722.9" stroke="#000" stroke-width="2.2" stroke-linecap="butt"/>
<line x1="1993.1" y1="722.9" x2="2001.7" y2="722.9" stroke="#000" stroke-width="2.4" stroke-linecap="butt"/>
<line x1="2015.2" y1="749.1" x2="2015.2" y2="747.9" stroke="#000" stroke-width="2.2" stroke-linecap="butt"/>
<line x1="2010.9" y1="747.9" x2="2019.5" y2="747.9" stroke="#000" stroke-width="2.4" stroke-linecap="butt"/>
<rect x="1988.5" y="730.3" width="17.8" height="20.1" fill="#c0c2f6" stroke="#222" stroke-width="1"/>
<rect x="2006.3" y="749.1" width="17.8" height="1.3" fill="#5050ea" stroke="#222" stroke-width="1"/>
<line x1="2043.9" y1="733.4" x2="2043.9" y2="728.3" stroke="#000" stroke-width="2.2" stroke-linecap="butt"/>
<line x1="2039.6" y1="728.3" x2="2048.2" y2="728.3" stroke="#000" stroke-width="2.4" stroke-linecap="butt"/>
<line x1="2061.7" y1="749.1" x2="2061.7" y2="747.9" stroke="#000" stroke-width="2.2" stroke-linecap="butt"/>
<line x1="2057.4" y1="747.9" x2="2066.0" y2="747.9" stroke="#000" stroke-width="2.4" stroke-linecap="butt"/>
<rect x="2035.0" y="733.4" width="17.8" height="17.0" fill="#c0c2f6" stroke="#222" stroke-width="1"/>
<rect x="2052.8" y="749.1" width="17.8" height="1.3" fill="#5050ea" stroke="#222" stroke-width="1"/>
<line x1="1550.3" y1="750.4" x2="2081.6" y2="750.4" stroke="#000" stroke-width="2.7" stroke-linecap="butt"/>
<line x1="1560.4" y1="496.1" x2="1560.4" y2="751.7" stroke="#000" stroke-width="2.7" stroke-linecap="butt"/>
<line x1="1588.1" y1="750.4" x2="1588.1" y2="760.5" stroke="#000" stroke-width="2.7" stroke-linecap="butt"/>
<line x1="1634.6" y1="750.4" x2="1634.6" y2="760.5" stroke="#000" stroke-width="2.7" stroke-linecap="butt"/>
<line x1="1680.8" y1="750.4" x2="1680.8" y2="760.5" stroke="#000" stroke-width="2.7" stroke-linecap="butt"/>
<line x1="1727.6" y1="750.4" x2="1727.6" y2="760.5" stroke="#000" stroke-width="2.7" stroke-linecap="butt"/>
<line x1="1773.8" y1="750.4" x2="1773.8" y2="760.5" stroke="#000" stroke-width="2.7" stroke-linecap="butt"/>
<line x1="1820.7" y1="750.4" x2="1820.7" y2="760.5" stroke="#000" stroke-width="2.7" stroke-linecap="butt"/>
<line x1="1867.5" y1="750.4" x2="1867.5" y2="760.5" stroke="#000" stroke-width="2.7" stroke-linecap="butt"/>
<line x1="1913.7" y1="750.4" x2="1913.7" y2="760.5" stroke="#000" stroke-width="2.7" stroke-linecap="butt"/>
<line x1="1960.2" y1="750.4" x2="1960.2" y2="760.5" stroke="#000" stroke-width="2.7" stroke-linecap="butt"/>
<line x1="2006.3" y1="750.4" x2="2006.3" y2="760.5" stroke="#000" stroke-width="2.7" stroke-linecap="butt"/>
<line x1="2052.8" y1="750.4" x2="2052.8" y2="760.5" stroke="#000" stroke-width="2.7" stroke-linecap="butt"/>
<polyline points="1574.8,674.1 1574.8,661.4 1598.8,661.4 1598.8,674.1" fill="none" stroke="#000" stroke-width="2.4" stroke-linejoin="miter"/>
<text x="1588.5" y="660.8" font-size="30" font-weight="bold" text-anchor="middle" stroke="#000" stroke-width="0.35" letter-spacing="3.5">*</text>
<polyline points="1811.3,624.0 1811.3,611.6 1834.7,611.6 1834.7,624.0" fill="none" stroke="#000" stroke-width="2.4" stroke-linejoin="miter"/>
<text x="1824.8" y="610.6" font-size="30" font-weight="bold" text-anchor="middle" stroke="#000" stroke-width="0.35" letter-spacing="3.5">**</text>
<polyline points="1858.1,653.0 1858.1,640.0 1882.2,640.0 1882.2,653.0" fill="none" stroke="#000" stroke-width="2.4" stroke-linejoin="miter"/>
<text x="1871.9" y="639.1" font-size="30" font-weight="bold" text-anchor="middle" stroke="#000" stroke-width="0.35" letter-spacing="3.5">*</text>
<polyline points="1905.0,665.8 1905.0,653.0 1927.7,653.0 1927.7,665.8" fill="none" stroke="#000" stroke-width="2.4" stroke-linejoin="miter"/>
<text x="1918.1" y="652.1" font-size="30" font-weight="bold" text-anchor="middle" stroke="#000" stroke-width="0.35" letter-spacing="3.5">*</text>
<polyline points="1951.0,693.5 1951.0,680.8 1974.2,680.8 1974.2,693.5" fill="none" stroke="#000" stroke-width="2.4" stroke-linejoin="miter"/>
<text x="1964.3" y="679.1" font-size="30" font-weight="bold" text-anchor="middle" stroke="#000" stroke-width="0.35" letter-spacing="3.5">**</text>
<polyline points="1997.0,712.6 1997.0,700.0 2020.4,700.0 2020.4,712.6" fill="none" stroke="#000" stroke-width="2.4" stroke-linejoin="miter"/>
<text x="2010.5" y="699.1" font-size="30" font-weight="bold" text-anchor="middle" stroke="#000" stroke-width="0.35" letter-spacing="3.5">**</text>
<polyline points="2043.0,719.3 2043.0,707.0 2066.6,707.0 2066.6,719.3" fill="none" stroke="#000" stroke-width="2.4" stroke-linejoin="miter"/>
<text x="2056.6" y="704.9" font-size="30" font-weight="bold" text-anchor="middle" stroke="#000" stroke-width="0.35" letter-spacing="3.5">**</text>
<rect x="1928.9" y="504" width="26" height="13.5" fill="#c0c2f6" stroke="#222" stroke-width="1"/>
<rect x="1928.9" y="538.5" width="26" height="13.5" fill="#5050ea" stroke="#222" stroke-width="1"/>
<text x="1970.9" y="518.5" font-size="20.8" font-weight="bold" stroke="#000" stroke-width="0.35">Ctrl</text>
<text x="1970.9" y="552.0" font-size="20.8" font-weight="bold" stroke="#000" stroke-width="0.35">STAM</text>
<text transform="translate(1510.5,624.0) rotate(-90)" font-size="24" font-weight="bold" text-anchor="middle" stroke="#000" stroke-width="0.35">Frequency distribution (%)</text>
<text transform="translate(1595.4,779.0) rotate(-45)" font-size="18.5" font-weight="bold" text-anchor="end" stroke="#000" stroke-width="0.35">&lt;500</text>
<text transform="translate(1641.9,779.0) rotate(-45)" font-size="18.5" font-weight="bold" text-anchor="end" stroke="#000" stroke-width="0.35">500-700</text>
<text transform="translate(1688.1,779.0) rotate(-45)" font-size="18.5" font-weight="bold" text-anchor="end" stroke="#000" stroke-width="0.35">700-900</text>
<text transform="translate(1734.9,779.0) rotate(-45)" font-size="18.5" font-weight="bold" text-anchor="end" stroke="#000" stroke-width="0.35">900-1100</text>
<text transform="translate(1781.1,779.0) rotate(-45)" font-size="18.5" font-weight="bold" text-anchor="end" stroke="#000" stroke-width="0.35">1100-1300</text>
<text transform="translate(1828.0,779.0) rotate(-45)" font-size="18.5" font-weight="bold" text-anchor="end" stroke="#000" stroke-width="0.35">1300-1500</text>
<text transform="translate(1874.8,779.0) rotate(-45)" font-size="18.5" font-weight="bold" text-anchor="end" stroke="#000" stroke-width="0.35">1500-1700</text>
<text transform="translate(1921.0,779.0) rotate(-45)" font-size="18.5" font-weight="bold" text-anchor="end" stroke="#000" stroke-width="0.35">1700-1900</text>
<text transform="translate(1967.5,779.0) rotate(-45)" font-size="18.5" font-weight="bold" text-anchor="end" stroke="#000" stroke-width="0.35">1900-2100</text>
<text transform="translate(2013.6,779.0) rotate(-45)" font-size="18.5" font-weight="bold" text-anchor="end" stroke="#000" stroke-width="0.35">2100-2300</text>
<text transform="translate(2060.1,779.0) rotate(-45)" font-size="18.5" font-weight="bold" text-anchor="end" stroke="#000" stroke-width="0.35">&gt;2300</text>
<line x1="129.1" y1="951.4" x2="129.1" y2="1205.1" stroke="#000" stroke-width="2.7" stroke-linecap="butt"/>
<line x1="118.4" y1="1203.8" x2="129.1" y2="1203.8" stroke="#000" stroke-width="2.7" stroke-linecap="butt"/>
<text x="116.6" y="1211.6" font-size="19.5" font-weight="bold" text-anchor="end" stroke="#000" stroke-width="0.35">0.00</text>
<line x1="118.4" y1="1153.3" x2="129.1" y2="1153.3" stroke="#000" stroke-width="2.7" stroke-linecap="butt"/>
<text x="116.6" y="1161.1" font-size="19.5" font-weight="bold" text-anchor="end" stroke="#000" stroke-width="0.35">0.02</text>
<line x1="118.4" y1="1102.8" x2="129.1" y2="1102.8" stroke="#000" stroke-width="2.7" stroke-linecap="butt"/>
<text x="116.6" y="1110.6" font-size="19.5" font-weight="bold" text-anchor="end" stroke="#000" stroke-width="0.35">0.04</text>
<line x1="118.4" y1="1052.4" x2="129.1" y2="1052.4" stroke="#000" stroke-width="2.7" stroke-linecap="butt"/>
<text x="116.6" y="1060.2" font-size="19.5" font-weight="bold" text-anchor="end" stroke="#000" stroke-width="0.35">0.06</text>
<line x1="118.4" y1="1001.9" x2="129.1" y2="1001.9" stroke="#000" stroke-width="2.7" stroke-linecap="butt"/>
<text x="116.6" y="1009.7" font-size="19.5" font-weight="bold" text-anchor="end" stroke="#000" stroke-width="0.35">0.08</text>
<line x1="118.4" y1="951.4" x2="129.1" y2="951.4" stroke="#000" stroke-width="2.7" stroke-linecap="butt"/>
<text x="116.6" y="959.2" font-size="19.5" font-weight="bold" text-anchor="end" stroke="#000" stroke-width="0.35">0.10</text>
<line x1="118.4" y1="1203.8" x2="334.0" y2="1203.8" stroke="#000" stroke-width="2.7" stroke-linecap="butt"/>
<line x1="187.7" y1="1203.8" x2="187.7" y2="1214.3" stroke="#000" stroke-width="2.7" stroke-linecap="butt"/>
<line x1="274.8" y1="1203.8" x2="274.8" y2="1214.3" stroke="#000" stroke-width="2.7" stroke-linecap="butt"/>
<rect x="161.1" y="1079.4" width="54.5" height="124.4" fill="#fff" stroke="#000" stroke-width="2.7"/>
<rect x="248.2" y="1025.1" width="54.3" height="178.7" fill="#fff" stroke="#000" stroke-width="2.7"/>
<line x1="187.7" y1="1072.7" x2="187.7" y2="1085.0" stroke="#000" stroke-width="2.4" stroke-linecap="butt"/>
<line x1="174.8" y1="1072.7" x2="200.5" y2="1072.7" stroke="#000" stroke-width="2.4" stroke-linecap="butt"/>
<line x1="174.8" y1="1085.0" x2="200.5" y2="1085.0" stroke="#000" stroke-width="2.4" stroke-linecap="butt"/>
<line x1="274.8" y1="996.1" x2="274.8" y2="1053.0" stroke="#000" stroke-width="2.4" stroke-linecap="butt"/>
<line x1="260.9" y1="996.1" x2="288.8" y2="996.1" stroke="#000" stroke-width="2.4" stroke-linecap="butt"/>
<line x1="260.9" y1="1053.0" x2="288.8" y2="1053.0" stroke="#000" stroke-width="2.4" stroke-linecap="butt"/>
<circle cx="164.2" cy="1083.2" r="4.8" fill="#c8c9f7" stroke="#14143a" stroke-width="1.4"/>
<circle cx="176.0" cy="1076.0" r="4.8" fill="#c8c9f7" stroke="#14143a" stroke-width="1.4"/>
<circle cx="188.1" cy="1079.8" r="4.8" fill="#c8c9f7" stroke="#14143a" stroke-width="1.4"/>
<circle cx="200.0" cy="1068.0" r="4.8" fill="#c8c9f7" stroke="#14143a" stroke-width="1.4"/>
<circle cx="200.0" cy="1079.4" r="4.8" fill="#c8c9f7" stroke="#14143a" stroke-width="1.4"/>
<circle cx="211.8" cy="1085.9" r="4.8" fill="#c8c9f7" stroke="#14143a" stroke-width="1.4"/>
<rect x="269.9" y="981.8" width="9.8" height="9.8" fill="#5656ec" stroke="#14143a" stroke-width="1.4"/>
<rect x="280.6" y="1007.3" width="9.8" height="9.8" fill="#5656ec" stroke="#14143a" stroke-width="1.4"/>
<rect x="259.8" y="1016.2" width="9.8" height="9.8" fill="#5656ec" stroke="#14143a" stroke-width="1.4"/>
<rect x="269.9" y="1033.6" width="9.8" height="9.8" fill="#5656ec" stroke="#14143a" stroke-width="1.4"/>
<rect x="269.9" y="1059.3" width="9.8" height="9.8" fill="#5656ec" stroke="#14143a" stroke-width="1.4"/>
<polyline points="187.7,972.0 187.7,957.6 274.8,957.6 274.8,972.0" fill="none" stroke="#000" stroke-width="2.7" stroke-linejoin="miter"/>
<text x="233.0" y="955.9" font-size="30" font-weight="bold" text-anchor="middle" stroke="#000" stroke-width="0.35" letter-spacing="3.5">**</text>
<text x="187.7" y="1236.2" font-size="20.8" font-weight="bold" text-anchor="middle" stroke="#000" stroke-width="0.35">Ctrl</text>
<text x="274.8" y="1236.2" font-size="20.8" font-weight="bold" text-anchor="middle" stroke="#000" stroke-width="0.35">STAM</text>
<text transform="translate(63.5,1076.5) rotate(-90)" font-size="24" font-weight="bold" text-anchor="middle" stroke="#000" stroke-width="0.35">Liver weight / Body weight</text>
<line x1="547.0" y1="951.4" x2="547.0" y2="1205.8" stroke="#000" stroke-width="2.7" stroke-linecap="butt"/>
<line x1="536.3" y1="1204.5" x2="547.0" y2="1204.5" stroke="#000" stroke-width="2.7" stroke-linecap="butt"/>
<text x="534.5" y="1212.3" font-size="19.5" font-weight="bold" text-anchor="end" stroke="#000" stroke-width="0.35">0</text>
<line x1="536.3" y1="1153.9" x2="547.0" y2="1153.9" stroke="#000" stroke-width="2.7" stroke-linecap="butt"/>
<text x="534.5" y="1161.7" font-size="19.5" font-weight="bold" text-anchor="end" stroke="#000" stroke-width="0.35">20</text>
<line x1="536.3" y1="1103.3" x2="547.0" y2="1103.3" stroke="#000" stroke-width="2.7" stroke-linecap="butt"/>
<text x="534.5" y="1111.1" font-size="19.5" font-weight="bold" text-anchor="end" stroke="#000" stroke-width="0.35">40</text>
<line x1="536.3" y1="1052.6" x2="547.0" y2="1052.6" stroke="#000" stroke-width="2.7" stroke-linecap="butt"/>
<text x="534.5" y="1060.4" font-size="19.5" font-weight="bold" text-anchor="end" stroke="#000" stroke-width="0.35">60</text>
<line x1="536.3" y1="1002.0" x2="547.0" y2="1002.0" stroke="#000" stroke-width="2.7" stroke-linecap="butt"/>
<text x="534.5" y="1009.8" font-size="19.5" font-weight="bold" text-anchor="end" stroke="#000" stroke-width="0.35">80</text>
<line x1="536.3" y1="951.4" x2="547.0" y2="951.4" stroke="#000" stroke-width="2.7" stroke-linecap="butt"/>
<text x="534.5" y="959.2" font-size="19.5" font-weight="bold" text-anchor="end" stroke="#000" stroke-width="0.35">100</text>
<line x1="536.3" y1="1204.5" x2="750.4" y2="1204.5" stroke="#000" stroke-width="2.7" stroke-linecap="butt"/>
<line x1="604.7" y1="1204.5" x2="604.7" y2="1215.0" stroke="#000" stroke-width="2.7" stroke-linecap="butt"/>
<line x1="691.0" y1="1204.5" x2="691.0" y2="1215.0" stroke="#000" stroke-width="2.7" stroke-linecap="butt"/>
<rect x="577.7" y="1151.0" width="54.6" height="53.5" fill="#fff" stroke="#000" stroke-width="2.7"/>
<rect x="664.7" y="1019.0" width="54.6" height="185.5" fill="#fff" stroke="#000" stroke-width="2.7"/>
<line x1="604.7" y1="1139.3" x2="604.7" y2="1161.3" stroke="#000" stroke-width="2.4" stroke-linecap="butt"/>
<line x1="590.2" y1="1139.3" x2="619.2" y2="1139.3" stroke="#000" stroke-width="2.4" stroke-linecap="butt"/>
<line x1="590.2" y1="1161.3" x2="619.2" y2="1161.3" stroke="#000" stroke-width="2.4" stroke-linecap="butt"/>
<line x1="691.0" y1="992.0" x2="691.0" y2="1044.0" stroke="#000" stroke-width="2.4" stroke-linecap="butt"/>
<line x1="676.9" y1="992.0" x2="705.1" y2="992.0" stroke="#000" stroke-width="2.4" stroke-linecap="butt"/>
<line x1="676.9" y1="1044.0" x2="705.1" y2="1044.0" stroke="#000" stroke-width="2.4" stroke-linecap="butt"/>
<circle cx="581.1" cy="1157.2" r="4.8" fill="#c8c9f7" stroke="#14143a" stroke-width="1.4"/>
<circle cx="592.7" cy="1150.5" r="4.8" fill="#c8c9f7" stroke="#14143a" stroke-width="1.4"/>
<circle cx="604.7" cy="1129.0" r="4.8" fill="#c8c9f7" stroke="#14143a" stroke-width="1.4"/>
<circle cx="604.7" cy="1150.5" r="4.8" fill="#c8c9f7" stroke="#14143a" stroke-width="1.4"/>
<circle cx="616.3" cy="1150.5" r="4.8" fill="#c8c9f7" stroke="#14143a" stroke-width="1.4"/>
<circle cx="628.8" cy="1160.0" r="4.8" fill="#c8c9f7" stroke="#14143a" stroke-width="1.4"/>
<rect x="686.1" y="982.1" width="9.8" height="9.8" fill="#5656ec" stroke="#14143a" stroke-width="1.4"/>
<rect x="686.1" y="994.6" width="9.8" height="9.8" fill="#5656ec" stroke="#14143a" stroke-width="1.4"/>
<rect x="686.1" y="1012.1" width="9.8" height="9.8" fill="#5656ec" stroke="#14143a" stroke-width="1.4"/>
<rect x="686.1" y="1027.8" width="9.8" height="9.8" fill="#5656ec" stroke="#14143a" stroke-width="1.4"/>
<rect x="686.1" y="1048.5" width="9.8" height="9.8" fill="#5656ec" stroke="#14143a" stroke-width="1.4"/>
<polyline points="602.7,974.6 602.7,961.0 691.0,961.0 691.0,974.6" fill="none" stroke="#000" stroke-width="2.7" stroke-linejoin="miter"/>
<text x="648.6" y="959.1" font-size="30" font-weight="bold" text-anchor="middle" stroke="#000" stroke-width="0.35" letter-spacing="3.5">***</text>
<text x="604.7" y="1236.2" font-size="20.8" font-weight="bold" text-anchor="middle" stroke="#000" stroke-width="0.35">Ctrl</text>
<text x="691.0" y="1236.2" font-size="20.8" font-weight="bold" text-anchor="middle" stroke="#000" stroke-width="0.35">STAM</text>
<text transform="translate(488.5,1078.0) rotate(-90)" font-size="24" font-weight="bold" text-anchor="middle" stroke="#000" stroke-width="0.35">Serum ALT (U/L)</text>
<line x1="962.0" y1="951.4" x2="962.0" y2="1205.8" stroke="#000" stroke-width="2.7" stroke-linecap="butt"/>
<line x1="951.2" y1="1204.5" x2="962.0" y2="1204.5" stroke="#000" stroke-width="2.7" stroke-linecap="butt"/>
<text x="949.4" y="1212.3" font-size="19.5" font-weight="bold" text-anchor="end" stroke="#000" stroke-width="0.35">0</text>
<line x1="951.2" y1="1141.2" x2="962.0" y2="1141.2" stroke="#000" stroke-width="2.7" stroke-linecap="butt"/>
<text x="949.4" y="1149.0" font-size="19.5" font-weight="bold" text-anchor="end" stroke="#000" stroke-width="0.35">50</text>
<line x1="951.2" y1="1078.0" x2="962.0" y2="1078.0" stroke="#000" stroke-width="2.7" stroke-linecap="butt"/>
<text x="949.4" y="1085.8" font-size="19.5" font-weight="bold" text-anchor="end" stroke="#000" stroke-width="0.35">100</text>
<line x1="951.2" y1="1014.7" x2="962.0" y2="1014.7" stroke="#000" stroke-width="2.7" stroke-linecap="butt"/>
<text x="949.4" y="1022.5" font-size="19.5" font-weight="bold" text-anchor="end" stroke="#000" stroke-width="0.35">150</text>
<line x1="951.2" y1="951.4" x2="962.0" y2="951.4" stroke="#000" stroke-width="2.7" stroke-linecap="butt"/>
<text x="949.4" y="959.2" font-size="19.5" font-weight="bold" text-anchor="end" stroke="#000" stroke-width="0.35">200</text>
<line x1="951.2" y1="1204.5" x2="1165.3" y2="1204.5" stroke="#000" stroke-width="2.7" stroke-linecap="butt"/>
<line x1="1020.0" y1="1204.5" x2="1020.0" y2="1215.0" stroke="#000" stroke-width="2.7" stroke-linecap="butt"/>
<line x1="1107.2" y1="1204.5" x2="1107.2" y2="1215.0" stroke="#000" stroke-width="2.7" stroke-linecap="butt"/>
<rect x="993.4" y="1113.2" width="54.6" height="91.3" fill="#fff" stroke="#000" stroke-width="2.7"/>
<rect x="1080.1" y="1028.0" width="54.6" height="176.5" fill="#fff" stroke="#000" stroke-width="2.7"/>
<line x1="1020.0" y1="1080.4" x2="1020.0" y2="1142.2" stroke="#000" stroke-width="2.4" stroke-linecap="butt"/>
<line x1="1006.1" y1="1080.4" x2="1033.9" y2="1080.4" stroke="#000" stroke-width="2.4" stroke-linecap="butt"/>
<line x1="1006.1" y1="1142.2" x2="1033.9" y2="1142.2" stroke="#000" stroke-width="2.4" stroke-linecap="butt"/>
<line x1="1107.2" y1="987.9" x2="1107.2" y2="1066.7" stroke="#000" stroke-width="2.4" stroke-linecap="butt"/>
<line x1="1093.3" y1="987.9" x2="1121.1" y2="987.9" stroke="#000" stroke-width="2.4" stroke-linecap="butt"/>
<line x1="1093.3" y1="1066.7" x2="1121.1" y2="1066.7" stroke="#000" stroke-width="2.4" stroke-linecap="butt"/>
<circle cx="1010.5" cy="1071.7" r="4.8" fill="#c8c9f7" stroke="#14143a" stroke-width="1.4"/>
<circle cx="1031.3" cy="1077.1" r="4.8" fill="#c8c9f7" stroke="#14143a" stroke-width="1.4"/>
<circle cx="1020.9" cy="1106.1" r="4.8" fill="#c8c9f7" stroke="#14143a" stroke-width="1.4"/>
<circle cx="1010.5" cy="1131.0" r="4.8" fill="#c8c9f7" stroke="#14143a" stroke-width="1.4"/>
<circle cx="1010.5" cy="1142.2" r="4.8" fill="#c8c9f7" stroke="#14143a" stroke-width="1.4"/>
<circle cx="1031.3" cy="1140.6" r="4.8" fill="#c8c9f7" stroke="#14143a" stroke-width="1.4"/>
<rect x="1102.3" y="961.4" width="9.8" height="9.8" fill="#5656ec" stroke="#14143a" stroke-width="1.4"/>
<rect x="1102.3" y="1005.8" width="9.8" height="9.8" fill="#5656ec" stroke="#14143a" stroke-width="1.4"/>
<rect x="1091.5" y="1040.2" width="9.8" height="9.8" fill="#5656ec" stroke="#14143a" stroke-width="1.4"/>
<rect x="1112.7" y="1046.1" width="9.8" height="9.8" fill="#5656ec" stroke="#14143a" stroke-width="1.4"/>
<rect x="1102.3" y="1057.7" width="9.8" height="9.8" fill="#5656ec" stroke="#14143a" stroke-width="1.4"/>
<polyline points="1020.0,950.5 1020.0,936.8 1107.2,936.8 1107.2,950.5" fill="none" stroke="#000" stroke-width="2.7" stroke-linejoin="miter"/>
<text x="1065.3" y="935.4" font-size="30" font-weight="bold" text-anchor="middle" stroke="#000" stroke-width="0.35" letter-spacing="3.5">**</text>
<text x="1020.0" y="1236.2" font-size="20.8" font-weight="bold" text-anchor="middle" stroke="#000" stroke-width="0.35">Ctrl</text>
<text x="1107.2" y="1236.2" font-size="20.8" font-weight="bold" text-anchor="middle" stroke="#000" stroke-width="0.35">STAM</text>
<text transform="translate(903.5,1078.0) rotate(-90)" font-size="24" font-weight="bold" text-anchor="middle" stroke="#000" stroke-width="0.35">Serum AST (U/L)</text>
<line x1="1395.4" y1="951.4" x2="1395.4" y2="1206.3" stroke="#000" stroke-width="2.7" stroke-linecap="butt"/>
<line x1="1385.7" y1="1205.0" x2="1395.4" y2="1205.0" stroke="#000" stroke-width="2.7" stroke-linecap="butt"/>
<text x="1383.9" y="1212.8" font-size="19.5" font-weight="bold" text-anchor="end" stroke="#000" stroke-width="0.35">0</text>
<line x1="1385.7" y1="1141.6" x2="1395.4" y2="1141.6" stroke="#000" stroke-width="2.7" stroke-linecap="butt"/>
<text x="1383.9" y="1149.4" font-size="19.5" font-weight="bold" text-anchor="end" stroke="#000" stroke-width="0.35">20</text>
<line x1="1385.7" y1="1078.2" x2="1395.4" y2="1078.2" stroke="#000" stroke-width="2.7" stroke-linecap="butt"/>
<text x="1383.9" y="1086.0" font-size="19.5" font-weight="bold" text-anchor="end" stroke="#000" stroke-width="0.35">40</text>
<line x1="1385.7" y1="1014.8" x2="1395.4" y2="1014.8" stroke="#000" stroke-width="2.7" stroke-linecap="butt"/>
<text x="1383.9" y="1022.6" font-size="19.5" font-weight="bold" text-anchor="end" stroke="#000" stroke-width="0.35">60</text>
<line x1="1385.7" y1="951.4" x2="1395.4" y2="951.4" stroke="#000" stroke-width="2.7" stroke-linecap="butt"/>
<text x="1383.9" y="959.2" font-size="19.5" font-weight="bold" text-anchor="end" stroke="#000" stroke-width="0.35">80</text>
<line x1="1385.7" y1="1205.0" x2="1599.5" y2="1205.0" stroke="#000" stroke-width="2.7" stroke-linecap="butt"/>
<line x1="1454.0" y1="1205.0" x2="1454.0" y2="1215.5" stroke="#000" stroke-width="2.7" stroke-linecap="butt"/>
<line x1="1540.9" y1="1205.0" x2="1540.9" y2="1215.5" stroke="#000" stroke-width="2.7" stroke-linecap="butt"/>
<rect x="1426.9" y="1056.4" width="55.1" height="148.6" fill="#fff" stroke="#000" stroke-width="2.7"/>
<rect x="1514.2" y="1021.0" width="53.7" height="184.0" fill="#fff" stroke="#000" stroke-width="2.7"/>
<line x1="1454.0" y1="1042.3" x2="1454.0" y2="1073.1" stroke="#000" stroke-width="2.4" stroke-linecap="butt"/>
<line x1="1439.7" y1="1042.3" x2="1468.3" y2="1042.3" stroke="#000" stroke-width="2.4" stroke-linecap="butt"/>
<line x1="1439.7" y1="1073.1" x2="1468.3" y2="1073.1" stroke="#000" stroke-width="2.4" stroke-linecap="butt"/>
<line x1="1540.9" y1="998.2" x2="1540.9" y2="1041.8" stroke="#000" stroke-width="2.4" stroke-linecap="butt"/>
<line x1="1527.1" y1="998.2" x2="1554.8" y2="998.2" stroke="#000" stroke-width="2.4" stroke-linecap="butt"/>
<line x1="1527.1" y1="1041.8" x2="1554.8" y2="1041.8" stroke="#000" stroke-width="2.4" stroke-linecap="butt"/>
<circle cx="1431.1" cy="1059.9" r="4.8" fill="#c8c9f7" stroke="#14143a" stroke-width="1.4"/>
<circle cx="1446.5" cy="1057.2" r="4.8" fill="#c8c9f7" stroke="#14143a" stroke-width="1.4"/>
<circle cx="1454.0" cy="1029.0" r="4.8" fill="#c8c9f7" stroke="#14143a" stroke-width="1.4"/>
<circle cx="1461.9" cy="1063.0" r="4.8" fill="#c8c9f7" stroke="#14143a" stroke-width="1.4"/>
<circle cx="1477.4" cy="1058.6" r="4.8" fill="#c8c9f7" stroke="#14143a" stroke-width="1.4"/>
<circle cx="1446.5" cy="1074.0" r="4.8" fill="#c8c9f7" stroke="#14143a" stroke-width="1.4"/>
<rect x="1536.0" y="987.5" width="9.8" height="9.8" fill="#5656ec" stroke="#14143a" stroke-width="1.4"/>
<rect x="1536.0" y="1002.1" width="9.8" height="9.8" fill="#5656ec" stroke="#14143a" stroke-width="1.4"/>
<rect x="1536.0" y="1015.3" width="9.8" height="9.8" fill="#5656ec" stroke="#14143a" stroke-width="1.4"/>
<rect x="1536.0" y="1030.3" width="9.8" height="9.8" fill="#5656ec" stroke="#14143a" stroke-width="1.4"/>
<rect x="1536.0" y="1043.5" width="9.8" height="9.8" fill="#5656ec" stroke="#14143a" stroke-width="1.4"/>
<polyline points="1454.0,977.9 1454.0,962.5 1540.9,962.5 1540.9,977.9" fill="none" stroke="#000" stroke-width="2.7" stroke-linejoin="miter"/>
<text x="1499.2" y="961.4" font-size="30" font-weight="bold" text-anchor="middle" stroke="#000" stroke-width="0.35" letter-spacing="3.5">**</text>
<text x="1454.0" y="1236.2" font-size="20.8" font-weight="bold" text-anchor="middle" stroke="#000" stroke-width="0.35">Ctrl</text>
<text x="1540.9" y="1236.2" font-size="20.8" font-weight="bold" text-anchor="middle" stroke="#000" stroke-width="0.35">STAM</text>
<text transform="translate(1316.5,1077.0) rotate(-90)" font-size="24" font-weight="bold" text-anchor="middle" stroke="#000" stroke-width="0.35">Liver cholesterol</text>
<text transform="translate(1349.0,1077.0) rotate(-90)" font-size="24" font-weight="bold" text-anchor="middle" stroke="#000" stroke-width="0.35">(mmol/[L·g tissue])</text>
<line x1="1838.9" y1="951.4" x2="1838.9" y2="1206.3" stroke="#000" stroke-width="2.7" stroke-linecap="butt"/>
<line x1="1828.8" y1="1205.0" x2="1838.9" y2="1205.0" stroke="#000" stroke-width="2.7" stroke-linecap="butt"/>
<text x="1827.0" y="1212.8" font-size="19.5" font-weight="bold" text-anchor="end" stroke="#000" stroke-width="0.35">0</text>
<line x1="1828.8" y1="1120.5" x2="1838.9" y2="1120.5" stroke="#000" stroke-width="2.7" stroke-linecap="butt"/>
<text x="1827.0" y="1128.3" font-size="19.5" font-weight="bold" text-anchor="end" stroke="#000" stroke-width="0.35">100</text>
<line x1="1828.8" y1="1035.9" x2="1838.9" y2="1035.9" stroke="#000" stroke-width="2.7" stroke-linecap="butt"/>
<text x="1827.0" y="1043.7" font-size="19.5" font-weight="bold" text-anchor="end" stroke="#000" stroke-width="0.35">200</text>
<line x1="1828.8" y1="951.4" x2="1838.9" y2="951.4" stroke="#000" stroke-width="2.7" stroke-linecap="butt"/>
<text x="1827.0" y="959.2" font-size="19.5" font-weight="bold" text-anchor="end" stroke="#000" stroke-width="0.35">300</text>
<line x1="1828.8" y1="1205.0" x2="2044.0" y2="1205.0" stroke="#000" stroke-width="2.7" stroke-linecap="butt"/>
<line x1="1898.0" y1="1205.0" x2="1898.0" y2="1215.5" stroke="#000" stroke-width="2.7" stroke-linecap="butt"/>
<line x1="1985.3" y1="1205.0" x2="1985.3" y2="1215.5" stroke="#000" stroke-width="2.7" stroke-linecap="butt"/>
<rect x="1871.4" y="1145.0" width="54.6" height="60.0" fill="#fff" stroke="#000" stroke-width="2.7"/>
<rect x="1958.7" y="1008.3" width="54.6" height="196.7" fill="#fff" stroke="#000" stroke-width="2.7"/>
<line x1="1898.0" y1="1127.0" x2="1898.0" y2="1162.2" stroke="#000" stroke-width="2.4" stroke-linecap="butt"/>
<line x1="1884.1" y1="1127.0" x2="1911.9" y2="1127.0" stroke="#000" stroke-width="2.4" stroke-linecap="butt"/>
<line x1="1884.1" y1="1162.2" x2="1911.9" y2="1162.2" stroke="#000" stroke-width="2.4" stroke-linecap="butt"/>
<line x1="1985.3" y1="985.8" x2="1985.3" y2="1030.0" stroke="#000" stroke-width="2.4" stroke-linecap="butt"/>
<line x1="1972.0" y1="985.8" x2="1998.5" y2="985.8" stroke="#000" stroke-width="2.4" stroke-linecap="butt"/>
<line x1="1972.0" y1="1030.0" x2="1998.5" y2="1030.0" stroke="#000" stroke-width="2.4" stroke-linecap="butt"/>
<circle cx="1898.0" cy="1112.8" r="4.8" fill="#c8c9f7" stroke="#14143a" stroke-width="1.4"/>
<circle cx="1874.2" cy="1139.3" r="4.8" fill="#c8c9f7" stroke="#14143a" stroke-width="1.4"/>
<circle cx="1898.0" cy="1143.7" r="4.8" fill="#c8c9f7" stroke="#14143a" stroke-width="1.4"/>
<circle cx="1921.4" cy="1155.6" r="4.8" fill="#c8c9f7" stroke="#14143a" stroke-width="1.4"/>
<circle cx="1874.2" cy="1160.0" r="4.8" fill="#c8c9f7" stroke="#14143a" stroke-width="1.4"/>
<circle cx="1898.0" cy="1155.6" r="4.8" fill="#c8c9f7" stroke="#14143a" stroke-width="1.4"/>
<rect x="1970.3" y="978.7" width="9.8" height="9.8" fill="#5656ec" stroke="#14143a" stroke-width="1.4"/>
<rect x="1990.6" y="980.9" width="9.8" height="9.8" fill="#5656ec" stroke="#14143a" stroke-width="1.4"/>
<rect x="1970.3" y="1011.8" width="9.8" height="9.8" fill="#5656ec" stroke="#14143a" stroke-width="1.4"/>
<rect x="1990.6" y="1014.0" width="9.8" height="9.8" fill="#5656ec" stroke="#14143a" stroke-width="1.4"/>
<rect x="1980.4" y="1028.5" width="9.8" height="9.8" fill="#5656ec" stroke="#14143a" stroke-width="1.4"/>
<polyline points="1895.8,969.5 1895.8,955.8 1985.3,955.8 1985.3,969.5" fill="none" stroke="#000" stroke-width="2.7" stroke-linejoin="miter"/>
<text x="1942.3" y="954.1" font-size="30" font-weight="bold" text-anchor="middle" stroke="#000" stroke-width="0.35" letter-spacing="3.5">***</text>
<text x="1898.0" y="1236.2" font-size="20.8" font-weight="bold" text-anchor="middle" stroke="#000" stroke-width="0.35">Ctrl</text>
<text x="1985.3" y="1236.2" font-size="20.8" font-weight="bold" text-anchor="middle" stroke="#000" stroke-width="0.35">STAM</text>
<text transform="translate(1749.0,1077.0) rotate(-90)" font-size="24" font-weight="bold" text-anchor="middle" stroke="#000" stroke-width="0.35">Liver triglyceride</text>
<text transform="translate(1781.5,1077.0) rotate(-90)" font-size="24" font-weight="bold" text-anchor="middle" stroke="#000" stroke-width="0.35">(mmol/[L·g tissue])</text>
<line x1="1840.5" y1="1444.3" x2="1840.5" y2="1698.6" stroke="#000" stroke-width="2.7" stroke-linecap="butt"/>
<line x1="1830.8" y1="1697.3" x2="1840.5" y2="1697.3" stroke="#000" stroke-width="2.7" stroke-linecap="butt"/>
<text x="1829.0" y="1705.1" font-size="19.5" font-weight="bold" text-anchor="end" stroke="#000" stroke-width="0.35">0</text>
<line x1="1830.8" y1="1613.0" x2="1840.5" y2="1613.0" stroke="#000" stroke-width="2.7" stroke-linecap="butt"/>
<text x="1829.0" y="1620.8" font-size="19.5" font-weight="bold" text-anchor="end" stroke="#000" stroke-width="0.35">2</text>
<line x1="1830.8" y1="1528.6" x2="1840.5" y2="1528.6" stroke="#000" stroke-width="2.7" stroke-linecap="butt"/>
<text x="1829.0" y="1536.4" font-size="19.5" font-weight="bold" text-anchor="end" stroke="#000" stroke-width="0.35">4</text>
<line x1="1830.8" y1="1444.3" x2="1840.5" y2="1444.3" stroke="#000" stroke-width="2.7" stroke-linecap="butt"/>
<text x="1829.0" y="1452.1" font-size="19.5" font-weight="bold" text-anchor="end" stroke="#000" stroke-width="0.35">6</text>
<line x1="1830.8" y1="1697.3" x2="2044.4" y2="1697.3" stroke="#000" stroke-width="2.7" stroke-linecap="butt"/>
<line x1="1898.2" y1="1697.3" x2="1898.2" y2="1707.8" stroke="#000" stroke-width="2.7" stroke-linecap="butt"/>
<line x1="1985.5" y1="1697.3" x2="1985.5" y2="1707.8" stroke="#000" stroke-width="2.7" stroke-linecap="butt"/>
<rect x="1871.6" y="1685.6" width="54.4" height="11.7" fill="#fff" stroke="#000" stroke-width="2.7"/>
<rect x="1958.5" y="1509.8" width="54.8" height="187.5" fill="#fff" stroke="#000" stroke-width="2.7"/>
<line x1="1898.5" y1="1682.7" x2="1898.5" y2="1687.6" stroke="#000" stroke-width="2.4" stroke-linecap="butt"/>
<line x1="1885.0" y1="1682.7" x2="1912.0" y2="1682.7" stroke="#000" stroke-width="2.4" stroke-linecap="butt"/>
<line x1="1885.0" y1="1687.6" x2="1912.0" y2="1687.6" stroke="#000" stroke-width="2.4" stroke-linecap="butt"/>
<line x1="1985.5" y1="1494.3" x2="1985.5" y2="1522.8" stroke="#000" stroke-width="2.4" stroke-linecap="butt"/>
<line x1="1971.5" y1="1494.3" x2="1999.5" y2="1494.3" stroke="#000" stroke-width="2.4" stroke-linecap="butt"/>
<line x1="1971.5" y1="1522.8" x2="1999.5" y2="1522.8" stroke="#000" stroke-width="2.4" stroke-linecap="butt"/>
<circle cx="1874.4" cy="1687.0" r="4.8" fill="#c8c9f7" stroke="#14143a" stroke-width="1.4"/>
<circle cx="1898.6" cy="1683.1" r="4.8" fill="#c8c9f7" stroke="#14143a" stroke-width="1.4"/>
<circle cx="1922.9" cy="1684.1" r="4.8" fill="#c8c9f7" stroke="#14143a" stroke-width="1.4"/>
<rect x="1980.6" y="1489.2" width="9.8" height="9.8" fill="#5656ec" stroke="#14143a" stroke-width="1.4"/>
<rect x="1980.6" y="1506.3" width="9.8" height="9.8" fill="#5656ec" stroke="#14143a" stroke-width="1.4"/>
<rect x="1980.6" y="1517.0" width="9.8" height="9.8" fill="#5656ec" stroke="#14143a" stroke-width="1.4"/>
<polyline points="1898.6,1479.2 1898.6,1466.6 1985.5,1466.6 1985.5,1479.2" fill="none" stroke="#000" stroke-width="2.7" stroke-linejoin="miter"/>
<text x="1943.8" y="1465.7" font-size="30" font-weight="bold" text-anchor="middle" stroke="#000" stroke-width="0.35" letter-spacing="3.5">***</text>
<text x="1898.2" y="1729.3" font-size="20.8" font-weight="bold" text-anchor="middle" stroke="#000" stroke-width="0.35">Ctrl</text>
<text x="1985.5" y="1729.3" font-size="20.8" font-weight="bold" text-anchor="middle" stroke="#000" stroke-width="0.35">STAM</text>
<text transform="translate(1773.0,1571.7) rotate(-90)" font-size="24" font-weight="bold" text-anchor="middle" stroke="#000" stroke-width="0.35">Sirius Red</text>
<text transform="translate(1805.5,1571.0) rotate(-90)" font-size="24" font-weight="bold" text-anchor="middle" stroke="#000" stroke-width="0.35">positive area (%)</text>
<defs>
<pattern id="gridS" width="5" height="5" patternUnits="userSpaceOnUse"><rect width="5" height="5" fill="#3434e6"/><path d="M0 0.5H5M0.5 0V5" stroke="#6a6af0" stroke-width="0.9"/></pattern>
<pattern id="gridI" width="5" height="5" patternUnits="userSpaceOnUse"><rect width="5" height="5" fill="#7c7cf0"/><path d="M0 0.5H5M0.5 0V5" stroke="#a4a4f6" stroke-width="0.9"/></pattern>
<pattern id="gridB" width="5" height="5" patternUnits="userSpaceOnUse"><rect width="5" height="5" fill="#a6a6f6"/><path d="M0 0.5H5M0.5 0V5" stroke="#c8c8fa" stroke-width="0.9"/></pattern>
</defs>
<line x1="772.7" y1="1444.6" x2="772.7" y2="1699.4" stroke="#000" stroke-width="2.7" stroke-linecap="butt"/>
<line x1="761.8" y1="1698.1" x2="772.7" y2="1698.1" stroke="#000" stroke-width="2.7" stroke-linecap="butt"/>
<text x="760.0" y="1705.9" font-size="19.5" font-weight="bold" text-anchor="end" stroke="#000" stroke-width="0.35">0</text>
<line x1="761.8" y1="1634.7" x2="772.7" y2="1634.7" stroke="#000" stroke-width="2.7" stroke-linecap="butt"/>
<text x="760.0" y="1642.5" font-size="19.5" font-weight="bold" text-anchor="end" stroke="#000" stroke-width="0.35">1</text>
<line x1="761.8" y1="1571.3" x2="772.7" y2="1571.3" stroke="#000" stroke-width="2.7" stroke-linecap="butt"/>
<text x="760.0" y="1579.1" font-size="19.5" font-weight="bold" text-anchor="end" stroke="#000" stroke-width="0.35">2</text>
<line x1="761.8" y1="1508.0" x2="772.7" y2="1508.0" stroke="#000" stroke-width="2.7" stroke-linecap="butt"/>
<text x="760.0" y="1515.8" font-size="19.5" font-weight="bold" text-anchor="end" stroke="#000" stroke-width="0.35">3</text>
<line x1="761.8" y1="1444.6" x2="772.7" y2="1444.6" stroke="#000" stroke-width="2.7" stroke-linecap="butt"/>
<text x="760.0" y="1452.4" font-size="19.5" font-weight="bold" text-anchor="end" stroke="#000" stroke-width="0.35">4</text>
<line x1="761.8" y1="1698.1" x2="993.1" y2="1698.1" stroke="#000" stroke-width="2.7" stroke-linecap="butt"/>
<line x1="835.0" y1="1698.1" x2="835.0" y2="1708.0" stroke="#000" stroke-width="2.7" stroke-linecap="butt"/>
<line x1="928.7" y1="1698.1" x2="928.7" y2="1708.0" stroke="#000" stroke-width="2.7" stroke-linecap="butt"/>
<rect x="804.7" y="1683.5" width="61.1" height="13.3" fill="url(#gridS)" stroke="#2020d8" stroke-width="1.6"/>
<rect x="804.7" y="1670.8" width="61.1" height="12.7" fill="url(#gridI)" stroke="#2a2ae0" stroke-width="1.6"/>
<rect x="899.0" y="1616.3" width="60.6" height="80.5" fill="url(#gridS)" stroke="#2020d8" stroke-width="1.6"/>
<rect x="899.0" y="1520.0" width="60.6" height="96.3" fill="url(#gridI)" stroke="#2a2ae0" stroke-width="1.6"/>
<rect x="899.0" y="1511.8" width="60.6" height="8.2" fill="url(#gridB)" stroke="#9090f0" stroke-width="1.6"/>
<line x1="761.8" y1="1698.1" x2="993.1" y2="1698.1" stroke="#000" stroke-width="2.7" stroke-linecap="butt"/>
<text x="931.0" y="1586.2" font-size="30" font-weight="bold" text-anchor="middle" fill="#fff" stroke="#fff" stroke-width="0.35" letter-spacing="3.5">***</text>
<text x="931.0" y="1674.6" font-size="30" font-weight="bold" text-anchor="middle" fill="#fff" stroke="#fff" stroke-width="0.35" letter-spacing="3.5">***</text>
<rect x="791.4" y="1396.4" width="26" height="12.4" fill="url(#gridB)" stroke="#9a9af2" stroke-width="1.2"/>
<text x="834.0" y="1409.8" font-size="20.8" font-weight="bold" stroke="#000" stroke-width="0.35">Ballooning score</text>
<rect x="791.4" y="1432.4" width="26" height="12.4" fill="url(#gridI)" stroke="#7070ee" stroke-width="1.2"/>
<text x="834.0" y="1445.8" font-size="20.8" font-weight="bold" stroke="#000" stroke-width="0.35">Inflammation score</text>
<rect x="791.4" y="1470.0" width="26" height="12.4" fill="url(#gridS)" stroke="#2a2ae0" stroke-width="1.2"/>
<text x="834.0" y="1483.4" font-size="20.8" font-weight="bold" stroke="#000" stroke-width="0.35">Steatosis score</text>
<text x="835.0" y="1729.6" font-size="20.8" font-weight="bold" text-anchor="middle" stroke="#000" stroke-width="0.35">Ctrl</text>
<text x="928.7" y="1729.6" font-size="20.8" font-weight="bold" text-anchor="middle" stroke="#000" stroke-width="0.35">STAM</text>
<text transform="translate(737.0,1570.6) rotate(-90)" font-size="24" font-weight="bold" text-anchor="middle" stroke="#000" stroke-width="0.35">NAS score</text>
<line x1="88.6" y1="1877.5" x2="88.6" y2="2132.0" stroke="#000" stroke-width="2.7" stroke-linecap="butt"/>
<line x1="78.8" y1="2130.7" x2="88.6" y2="2130.7" stroke="#000" stroke-width="2.7" stroke-linecap="butt"/>
<text x="77.0" y="2138.5" font-size="19.5" font-weight="bold" text-anchor="end" stroke="#000" stroke-width="0.35">0</text>
<line x1="78.8" y1="2067.4" x2="88.6" y2="2067.4" stroke="#000" stroke-width="2.7" stroke-linecap="butt"/>
<text x="77.0" y="2075.2" font-size="19.5" font-weight="bold" text-anchor="end" stroke="#000" stroke-width="0.35">2</text>
<line x1="78.8" y1="2004.1" x2="88.6" y2="2004.1" stroke="#000" stroke-width="2.7" stroke-linecap="butt"/>
<text x="77.0" y="2011.9" font-size="19.5" font-weight="bold" text-anchor="end" stroke="#000" stroke-width="0.35">4</text>
<line x1="78.8" y1="1940.8" x2="88.6" y2="1940.8" stroke="#000" stroke-width="2.7" stroke-linecap="butt"/>
<text x="77.0" y="1948.6" font-size="19.5" font-weight="bold" text-anchor="end" stroke="#000" stroke-width="0.35">6</text>
<line x1="78.8" y1="1877.5" x2="88.6" y2="1877.5" stroke="#000" stroke-width="2.7" stroke-linecap="butt"/>
<text x="77.0" y="1885.3" font-size="19.5" font-weight="bold" text-anchor="end" stroke="#000" stroke-width="0.35">8</text>
<line x1="78.8" y1="2130.7" x2="636.5" y2="2130.7" stroke="#000" stroke-width="2.7" stroke-linecap="butt"/>
<line x1="130.2" y1="2130.7" x2="130.2" y2="2141.2" stroke="#000" stroke-width="2.7" stroke-linecap="butt"/>
<line x1="223.1" y1="2130.7" x2="223.1" y2="2141.2" stroke="#000" stroke-width="2.7" stroke-linecap="butt"/>
<line x1="316.5" y1="2130.7" x2="316.5" y2="2141.2" stroke="#000" stroke-width="2.7" stroke-linecap="butt"/>
<line x1="409.4" y1="2130.7" x2="409.4" y2="2141.2" stroke="#000" stroke-width="2.7" stroke-linecap="butt"/>
<line x1="502.7" y1="2130.7" x2="502.7" y2="2141.2" stroke="#000" stroke-width="2.7" stroke-linecap="butt"/>
<line x1="596.0" y1="2130.7" x2="596.0" y2="2141.2" stroke="#000" stroke-width="2.7" stroke-linecap="butt"/>
<rect x="102.3" y="2100.0" width="21.1" height="30.7" fill="#fff" stroke="#000" stroke-width="2.7"/>
<rect x="136.9" y="2112.3" width="21.1" height="18.4" fill="#fff" stroke="#000" stroke-width="2.7"/>
<line x1="112.9" y1="2091.2" x2="112.9" y2="2106.4" stroke="#000" stroke-width="2.4" stroke-linecap="butt"/>
<line x1="106.9" y1="2091.2" x2="118.9" y2="2091.2" stroke="#000" stroke-width="2.4" stroke-linecap="butt"/>
<line x1="106.9" y1="2106.4" x2="118.9" y2="2106.4" stroke="#000" stroke-width="2.4" stroke-linecap="butt"/>
<line x1="147.5" y1="2110.0" x2="147.5" y2="2117.0" stroke="#000" stroke-width="2.4" stroke-linecap="butt"/>
<line x1="141.5" y1="2110.0" x2="153.5" y2="2110.0" stroke="#000" stroke-width="2.4" stroke-linecap="butt"/>
<line x1="141.5" y1="2117.0" x2="153.5" y2="2117.0" stroke="#000" stroke-width="2.4" stroke-linecap="butt"/>
<circle cx="111.0" cy="2086.3" r="4.8" fill="#c8c9f7" stroke="#14143a" stroke-width="1.4"/>
<circle cx="106.5" cy="2092.7" r="4.8" fill="#c8c9f7" stroke="#14143a" stroke-width="1.4"/>
<circle cx="110.5" cy="2101.2" r="4.8" fill="#c8c9f7" stroke="#14143a" stroke-width="1.4"/>
<circle cx="119.5" cy="2101.2" r="4.8" fill="#c8c9f7" stroke="#14143a" stroke-width="1.4"/>
<circle cx="106.5" cy="2110.1" r="4.8" fill="#c8c9f7" stroke="#14143a" stroke-width="1.4"/>
<circle cx="115.0" cy="2096.0" r="4.8" fill="#c8c9f7" stroke="#14143a" stroke-width="1.4"/>
<rect x="139.1" y="2108.1" width="9.8" height="9.8" fill="#5656ec" stroke="#14143a" stroke-width="1.4"/>
<rect x="150.3" y="2111.9" width="9.8" height="9.8" fill="#5656ec" stroke="#14143a" stroke-width="1.4"/>
<rect x="145.1" y="2110.4" width="9.8" height="9.8" fill="#5656ec" stroke="#14143a" stroke-width="1.4"/>
<rect x="134.7" y="2111.1" width="9.8" height="9.8" fill="#5656ec" stroke="#14143a" stroke-width="1.4"/>
<rect x="148.8" y="2108.9" width="9.8" height="9.8" fill="#5656ec" stroke="#14143a" stroke-width="1.4"/>
<polyline points="112.8,2063.0 112.8,2048.2 148.3,2048.2 148.3,2063.0" fill="none" stroke="#000" stroke-width="2.7" stroke-linejoin="miter"/>
<text x="132.3" y="2048.1" font-size="30" font-weight="bold" text-anchor="middle" stroke="#000" stroke-width="0.35" letter-spacing="3.5">***</text>
<text x="130.2" y="2163.2" font-size="21.2" font-weight="bold" text-anchor="middle" stroke="#000" stroke-width="0.35" font-style="italic">Srebp1c</text>
<rect x="195.2" y="2100.0" width="21.1" height="30.7" fill="#fff" stroke="#000" stroke-width="2.7"/>
<rect x="229.8" y="2121.7" width="21.1" height="9.0" fill="#fff" stroke="#000" stroke-width="2.7"/>
<line x1="205.8" y1="2087.8" x2="205.8" y2="2112.0" stroke="#000" stroke-width="2.4" stroke-linecap="butt"/>
<line x1="199.8" y1="2087.8" x2="211.8" y2="2087.8" stroke="#000" stroke-width="2.4" stroke-linecap="butt"/>
<line x1="199.8" y1="2112.0" x2="211.8" y2="2112.0" stroke="#000" stroke-width="2.4" stroke-linecap="butt"/>
<line x1="240.4" y1="2118.0" x2="240.4" y2="2125.0" stroke="#000" stroke-width="2.4" stroke-linecap="butt"/>
<line x1="234.4" y1="2118.0" x2="246.4" y2="2118.0" stroke="#000" stroke-width="2.4" stroke-linecap="butt"/>
<line x1="234.4" y1="2125.0" x2="246.4" y2="2125.0" stroke="#000" stroke-width="2.4" stroke-linecap="butt"/>
<circle cx="205.9" cy="2080.3" r="4.8" fill="#c8c9f7" stroke="#14143a" stroke-width="1.4"/>
<circle cx="199.2" cy="2091.8" r="4.8" fill="#c8c9f7" stroke="#14143a" stroke-width="1.4"/>
<circle cx="203.6" cy="2101.2" r="4.8" fill="#c8c9f7" stroke="#14143a" stroke-width="1.4"/>
<circle cx="212.6" cy="2102.7" r="4.8" fill="#c8c9f7" stroke="#14143a" stroke-width="1.4"/>
<circle cx="199.9" cy="2109.4" r="4.8" fill="#c8c9f7" stroke="#14143a" stroke-width="1.4"/>
<circle cx="208.1" cy="2109.4" r="4.8" fill="#c8c9f7" stroke="#14143a" stroke-width="1.4"/>
<rect x="232.7" y="2109.7" width="9.8" height="9.8" fill="#5656ec" stroke="#14143a" stroke-width="1.4"/>
<rect x="228.5" y="2119.4" width="9.8" height="9.8" fill="#5656ec" stroke="#14143a" stroke-width="1.4"/>
<rect x="236.0" y="2119.4" width="9.8" height="9.8" fill="#5656ec" stroke="#14143a" stroke-width="1.4"/>
<rect x="242.7" y="2120.8" width="9.8" height="9.8" fill="#5656ec" stroke="#14143a" stroke-width="1.4"/>
<rect x="239.7" y="2117.9" width="9.8" height="9.8" fill="#5656ec" stroke="#14143a" stroke-width="1.4"/>
<rect x="231.5" y="2117.9" width="9.8" height="9.8" fill="#5656ec" stroke="#14143a" stroke-width="1.4"/>
<polyline points="205.9,2063.0 205.9,2048.2 241.4,2048.2 241.4,2063.0" fill="none" stroke="#000" stroke-width="2.7" stroke-linejoin="miter"/>
<text x="225.4" y="2048.1" font-size="30" font-weight="bold" text-anchor="middle" stroke="#000" stroke-width="0.35" letter-spacing="3.5">***</text>
<text x="223.1" y="2163.2" font-size="21.2" font-weight="bold" text-anchor="middle" stroke="#000" stroke-width="0.35" font-style="italic">Fasn</text>
<rect x="288.6" y="2100.0" width="21.1" height="30.7" fill="#fff" stroke="#000" stroke-width="2.7"/>
<rect x="323.2" y="2122.8" width="21.1" height="7.9" fill="#fff" stroke="#000" stroke-width="2.7"/>
<line x1="299.2" y1="2090.5" x2="299.2" y2="2109.7" stroke="#000" stroke-width="2.4" stroke-linecap="butt"/>
<line x1="293.2" y1="2090.5" x2="305.2" y2="2090.5" stroke="#000" stroke-width="2.4" stroke-linecap="butt"/>
<line x1="293.2" y1="2109.7" x2="305.2" y2="2109.7" stroke="#000" stroke-width="2.4" stroke-linecap="butt"/>
<line x1="333.8" y1="2118.0" x2="333.8" y2="2127.0" stroke="#000" stroke-width="2.4" stroke-linecap="butt"/>
<line x1="327.8" y1="2118.0" x2="339.8" y2="2118.0" stroke="#000" stroke-width="2.4" stroke-linecap="butt"/>
<line x1="327.8" y1="2127.0" x2="339.8" y2="2127.0" stroke="#000" stroke-width="2.4" stroke-linecap="butt"/>
<circle cx="292.2" cy="2091.5" r="4.8" fill="#c8c9f7" stroke="#14143a" stroke-width="1.4"/>
<circle cx="301.2" cy="2088.8" r="4.8" fill="#c8c9f7" stroke="#14143a" stroke-width="1.4"/>
<circle cx="306.4" cy="2094.5" r="4.8" fill="#c8c9f7" stroke="#14143a" stroke-width="1.4"/>
<circle cx="296.7" cy="2098.2" r="4.8" fill="#c8c9f7" stroke="#14143a" stroke-width="1.4"/>
<circle cx="302.0" cy="2102.7" r="4.8" fill="#c8c9f7" stroke="#14143a" stroke-width="1.4"/>
<circle cx="298.6" cy="2119.5" r="4.8" fill="#c8c9f7" stroke="#14143a" stroke-width="1.4"/>
<rect x="322.3" y="2109.7" width="9.8" height="9.8" fill="#5656ec" stroke="#14143a" stroke-width="1.4"/>
<rect x="326.8" y="2118.6" width="9.8" height="9.8" fill="#5656ec" stroke="#14143a" stroke-width="1.4"/>
<rect x="335.7" y="2120.8" width="9.8" height="9.8" fill="#5656ec" stroke="#14143a" stroke-width="1.4"/>
<rect x="321.6" y="2122.3" width="9.8" height="9.8" fill="#5656ec" stroke="#14143a" stroke-width="1.4"/>
<rect x="331.3" y="2124.6" width="9.8" height="9.8" fill="#5656ec" stroke="#14143a" stroke-width="1.4"/>
<polyline points="298.9,2063.0 298.9,2048.2 334.4,2048.2 334.4,2063.0" fill="none" stroke="#000" stroke-width="2.7" stroke-linejoin="miter"/>
<text x="318.4" y="2048.1" font-size="30" font-weight="bold" text-anchor="middle" stroke="#000" stroke-width="0.35" letter-spacing="3.5">***</text>
<text x="316.5" y="2163.2" font-size="21.2" font-weight="bold" text-anchor="middle" stroke="#000" stroke-width="0.35" font-style="italic">Scd1</text>
<rect x="381.5" y="2099.8" width="21.1" height="30.9" fill="#fff" stroke="#000" stroke-width="2.7"/>
<rect x="416.1" y="1926.3" width="21.1" height="204.4" fill="#fff" stroke="#000" stroke-width="2.7"/>
<line x1="392.1" y1="2095.0" x2="392.1" y2="2104.0" stroke="#000" stroke-width="2.4" stroke-linecap="butt"/>
<line x1="386.1" y1="2095.0" x2="398.1" y2="2095.0" stroke="#000" stroke-width="2.4" stroke-linecap="butt"/>
<line x1="386.1" y1="2104.0" x2="398.1" y2="2104.0" stroke="#000" stroke-width="2.4" stroke-linecap="butt"/>
<line x1="426.7" y1="1907.0" x2="426.7" y2="1943.4" stroke="#000" stroke-width="2.4" stroke-linecap="butt"/>
<line x1="420.7" y1="1907.0" x2="432.7" y2="1907.0" stroke="#000" stroke-width="2.4" stroke-linecap="butt"/>
<line x1="420.7" y1="1943.4" x2="432.7" y2="1943.4" stroke="#000" stroke-width="2.4" stroke-linecap="butt"/>
<circle cx="392.0" cy="2090.9" r="4.8" fill="#c8c9f7" stroke="#14143a" stroke-width="1.4"/>
<circle cx="387.6" cy="2096.8" r="4.8" fill="#c8c9f7" stroke="#14143a" stroke-width="1.4"/>
<circle cx="395.6" cy="2096.8" r="4.8" fill="#c8c9f7" stroke="#14143a" stroke-width="1.4"/>
<circle cx="384.9" cy="2103.5" r="4.8" fill="#c8c9f7" stroke="#14143a" stroke-width="1.4"/>
<circle cx="399.0" cy="2105.8" r="4.8" fill="#c8c9f7" stroke="#14143a" stroke-width="1.4"/>
<circle cx="392.0" cy="2101.3" r="4.8" fill="#c8c9f7" stroke="#14143a" stroke-width="1.4"/>
<rect x="415.4" y="1904.7" width="9.8" height="9.8" fill="#5656ec" stroke="#14143a" stroke-width="1.4"/>
<rect x="422.4" y="1909.5" width="9.8" height="9.8" fill="#5656ec" stroke="#14143a" stroke-width="1.4"/>
<rect x="429.9" y="1912.9" width="9.8" height="9.8" fill="#5656ec" stroke="#14143a" stroke-width="1.4"/>
<rect x="422.4" y="1923.3" width="9.8" height="9.8" fill="#5656ec" stroke="#14143a" stroke-width="1.4"/>
<rect x="422.4" y="1950.4" width="9.8" height="9.8" fill="#5656ec" stroke="#14143a" stroke-width="1.4"/>
<rect x="419.1" y="1907.1" width="9.8" height="9.8" fill="#5656ec" stroke="#14143a" stroke-width="1.4"/>
<polyline points="392.0,1895.7 392.0,1882.0 427.8,1882.0 427.8,1895.7" fill="none" stroke="#000" stroke-width="2.7" stroke-linejoin="miter"/>
<text x="411.6" y="1881.1" font-size="30" font-weight="bold" text-anchor="middle" stroke="#000" stroke-width="0.35" letter-spacing="3.5">***</text>
<text x="409.4" y="2163.2" font-size="21.2" font-weight="bold" text-anchor="middle" stroke="#000" stroke-width="0.35" font-style="italic">Cd36</text>
<rect x="474.8" y="2104.3" width="21.1" height="26.4" fill="#fff" stroke="#000" stroke-width="2.7"/>
<rect x="509.4" y="2078.2" width="21.1" height="52.5" fill="#fff" stroke="#000" stroke-width="2.7"/>
<line x1="485.4" y1="2092.0" x2="485.4" y2="2112.0" stroke="#000" stroke-width="2.4" stroke-linecap="butt"/>
<line x1="479.4" y1="2092.0" x2="491.4" y2="2092.0" stroke="#000" stroke-width="2.4" stroke-linecap="butt"/>
<line x1="479.4" y1="2112.0" x2="491.4" y2="2112.0" stroke="#000" stroke-width="2.4" stroke-linecap="butt"/>
<line x1="520.0" y1="2055.1" x2="520.0" y2="2096.8" stroke="#000" stroke-width="2.4" stroke-linecap="butt"/>
<line x1="514.0" y1="2055.1" x2="526.0" y2="2055.1" stroke="#000" stroke-width="2.4" stroke-linecap="butt"/>
<line x1="514.0" y1="2096.8" x2="526.0" y2="2096.8" stroke="#000" stroke-width="2.4" stroke-linecap="butt"/>
<circle cx="481.0" cy="2087.9" r="4.8" fill="#c8c9f7" stroke="#14143a" stroke-width="1.4"/>
<circle cx="488.4" cy="2084.9" r="4.8" fill="#c8c9f7" stroke="#14143a" stroke-width="1.4"/>
<circle cx="478.0" cy="2101.3" r="4.8" fill="#c8c9f7" stroke="#14143a" stroke-width="1.4"/>
<circle cx="492.4" cy="2101.3" r="4.8" fill="#c8c9f7" stroke="#14143a" stroke-width="1.4"/>
<circle cx="485.0" cy="2102.8" r="4.8" fill="#c8c9f7" stroke="#14143a" stroke-width="1.4"/>
<circle cx="485.0" cy="2113.2" r="4.8" fill="#c8c9f7" stroke="#14143a" stroke-width="1.4"/>
<rect x="515.2" y="2040.5" width="9.8" height="9.8" fill="#5656ec" stroke="#14143a" stroke-width="1.4"/>
<rect x="522.2" y="2064.4" width="9.8" height="9.8" fill="#5656ec" stroke="#14143a" stroke-width="1.4"/>
<rect x="508.4" y="2071.1" width="9.8" height="9.8" fill="#5656ec" stroke="#14143a" stroke-width="1.4"/>
<rect x="522.2" y="2088.2" width="9.8" height="9.8" fill="#5656ec" stroke="#14143a" stroke-width="1.4"/>
<rect x="508.4" y="2094.1" width="9.8" height="9.8" fill="#5656ec" stroke="#14143a" stroke-width="1.4"/>
<polyline points="485.0,2029.8 485.0,2015.6 520.4,2015.6 520.4,2029.8" fill="none" stroke="#000" stroke-width="2.7" stroke-linejoin="miter"/>
<text x="504.4" y="2014.1" font-size="30" font-weight="bold" text-anchor="middle" stroke="#000" stroke-width="0.35" letter-spacing="3.5">*</text>
<text x="502.7" y="2163.2" font-size="21.2" font-weight="bold" text-anchor="middle" stroke="#000" stroke-width="0.35" font-style="italic">Cpt1b</text>
<rect x="568.2" y="2099.8" width="21.1" height="30.9" fill="#fff" stroke="#000" stroke-width="2.7"/>
<rect x="602.8" y="2106.5" width="21.1" height="24.2" fill="#fff" stroke="#000" stroke-width="2.7"/>
<line x1="578.7" y1="2088.6" x2="578.7" y2="2110.0" stroke="#000" stroke-width="2.4" stroke-linecap="butt"/>
<line x1="572.7" y1="2088.6" x2="584.7" y2="2088.6" stroke="#000" stroke-width="2.4" stroke-linecap="butt"/>
<line x1="572.7" y1="2110.0" x2="584.7" y2="2110.0" stroke="#000" stroke-width="2.4" stroke-linecap="butt"/>
<line x1="613.3" y1="2102.0" x2="613.3" y2="2111.0" stroke="#000" stroke-width="2.4" stroke-linecap="butt"/>
<line x1="607.3" y1="2102.0" x2="619.3" y2="2102.0" stroke="#000" stroke-width="2.4" stroke-linecap="butt"/>
<line x1="607.3" y1="2111.0" x2="619.3" y2="2111.0" stroke="#000" stroke-width="2.4" stroke-linecap="butt"/>
<circle cx="578.2" cy="2079.7" r="4.8" fill="#c8c9f7" stroke="#14143a" stroke-width="1.4"/>
<circle cx="581.2" cy="2099.8" r="4.8" fill="#c8c9f7" stroke="#14143a" stroke-width="1.4"/>
<circle cx="571.8" cy="2104.3" r="4.8" fill="#c8c9f7" stroke="#14143a" stroke-width="1.4"/>
<circle cx="584.5" cy="2107.2" r="4.8" fill="#c8c9f7" stroke="#14143a" stroke-width="1.4"/>
<circle cx="574.8" cy="2098.3" r="4.8" fill="#c8c9f7" stroke="#14143a" stroke-width="1.4"/>
<rect x="601.9" y="2097.9" width="9.8" height="9.8" fill="#5656ec" stroke="#14143a" stroke-width="1.4"/>
<rect x="606.4" y="2102.3" width="9.8" height="9.8" fill="#5656ec" stroke="#14143a" stroke-width="1.4"/>
<rect x="615.3" y="2108.3" width="9.8" height="9.8" fill="#5656ec" stroke="#14143a" stroke-width="1.4"/>
<rect x="601.9" y="2108.3" width="9.8" height="9.8" fill="#5656ec" stroke="#14143a" stroke-width="1.4"/>
<rect x="607.9" y="2108.3" width="9.8" height="9.8" fill="#5656ec" stroke="#14143a" stroke-width="1.4"/>
<polyline points="578.2,2062.6 578.2,2048.4 613.5,2048.4 613.5,2062.6" fill="none" stroke="#000" stroke-width="2.7" stroke-linejoin="miter"/>
<text x="597.6" y="2046.9" font-size="30" font-weight="bold" text-anchor="middle" stroke="#000" stroke-width="0.35" letter-spacing="3.5">*</text>
<text x="596.0" y="2163.2" font-size="21.2" font-weight="bold" text-anchor="middle" stroke="#000" stroke-width="0.35" font-style="italic">Acaca</text>
<text x="364.7" y="1838.5" font-size="24" font-weight="bold" text-anchor="middle" stroke="#000" stroke-width="0.35">Lipid metabolism</text>
<text transform="translate(50.5,2003.0) rotate(-90)" font-size="24" font-weight="bold" text-anchor="middle" stroke="#000" stroke-width="0.35">Relative gene expression</text>
<line x1="856.5" y1="1877.2" x2="856.5" y2="2132.2" stroke="#000" stroke-width="2.7" stroke-linecap="butt"/>
<line x1="845.4" y1="2130.9" x2="856.5" y2="2130.9" stroke="#000" stroke-width="2.7" stroke-linecap="butt"/>
<text x="843.6" y="2138.7" font-size="19.5" font-weight="bold" text-anchor="end" stroke="#000" stroke-width="0.35">0</text>
<line x1="845.4" y1="2067.5" x2="856.5" y2="2067.5" stroke="#000" stroke-width="2.7" stroke-linecap="butt"/>
<text x="843.6" y="2075.3" font-size="19.5" font-weight="bold" text-anchor="end" stroke="#000" stroke-width="0.35">1</text>
<line x1="845.4" y1="2004.1" x2="856.5" y2="2004.1" stroke="#000" stroke-width="2.7" stroke-linecap="butt"/>
<text x="843.6" y="2011.9" font-size="19.5" font-weight="bold" text-anchor="end" stroke="#000" stroke-width="0.35">2</text>
<line x1="845.4" y1="1940.6" x2="856.5" y2="1940.6" stroke="#000" stroke-width="2.7" stroke-linecap="butt"/>
<text x="843.6" y="1948.4" font-size="19.5" font-weight="bold" text-anchor="end" stroke="#000" stroke-width="0.35">3</text>
<line x1="845.4" y1="1877.2" x2="856.5" y2="1877.2" stroke="#000" stroke-width="2.7" stroke-linecap="butt"/>
<text x="843.6" y="1885.0" font-size="19.5" font-weight="bold" text-anchor="end" stroke="#000" stroke-width="0.35">4</text>
<line x1="845.4" y1="2130.9" x2="1255.9" y2="2130.9" stroke="#000" stroke-width="2.7" stroke-linecap="butt"/>
<line x1="901.4" y1="2130.9" x2="901.4" y2="2141.4" stroke="#000" stroke-width="2.7" stroke-linecap="butt"/>
<line x1="1004.6" y1="2130.9" x2="1004.6" y2="2141.4" stroke="#000" stroke-width="2.7" stroke-linecap="butt"/>
<line x1="1107.8" y1="2130.9" x2="1107.8" y2="2141.4" stroke="#000" stroke-width="2.7" stroke-linecap="butt"/>
<line x1="1210.7" y1="2130.9" x2="1210.7" y2="2141.4" stroke="#000" stroke-width="2.7" stroke-linecap="butt"/>
<rect x="870.5" y="2068.3" width="23.1" height="62.6" fill="#fff" stroke="#000" stroke-width="2.7"/>
<rect x="909.2" y="1927.1" width="23.1" height="203.8" fill="#fff" stroke="#000" stroke-width="2.7"/>
<line x1="882.0" y1="2056.0" x2="882.0" y2="2079.3" stroke="#000" stroke-width="2.4" stroke-linecap="butt"/>
<line x1="876.0" y1="2056.0" x2="888.0" y2="2056.0" stroke="#000" stroke-width="2.4" stroke-linecap="butt"/>
<line x1="876.0" y1="2079.3" x2="888.0" y2="2079.3" stroke="#000" stroke-width="2.4" stroke-linecap="butt"/>
<line x1="920.8" y1="1910.0" x2="920.8" y2="1938.3" stroke="#000" stroke-width="2.4" stroke-linecap="butt"/>
<line x1="914.8" y1="1910.0" x2="926.8" y2="1910.0" stroke="#000" stroke-width="2.4" stroke-linecap="butt"/>
<line x1="914.8" y1="1938.3" x2="926.8" y2="1938.3" stroke="#000" stroke-width="2.4" stroke-linecap="butt"/>
<circle cx="881.7" cy="2054.0" r="4.8" fill="#c8c9f7" stroke="#14143a" stroke-width="1.4"/>
<circle cx="873.9" cy="2060.7" r="4.8" fill="#c8c9f7" stroke="#14143a" stroke-width="1.4"/>
<circle cx="890.0" cy="2057.1" r="4.8" fill="#c8c9f7" stroke="#14143a" stroke-width="1.4"/>
<circle cx="889.6" cy="2069.3" r="4.8" fill="#c8c9f7" stroke="#14143a" stroke-width="1.4"/>
<circle cx="881.7" cy="2074.3" r="4.8" fill="#c8c9f7" stroke="#14143a" stroke-width="1.4"/>
<circle cx="881.7" cy="2087.1" r="4.8" fill="#c8c9f7" stroke="#14143a" stroke-width="1.4"/>
<rect x="915.8" y="1901.5" width="9.8" height="9.8" fill="#5656ec" stroke="#14143a" stroke-width="1.4"/>
<rect x="908.0" y="1918.0" width="9.8" height="9.8" fill="#5656ec" stroke="#14143a" stroke-width="1.4"/>
<rect x="923.7" y="1919.1" width="9.8" height="9.8" fill="#5656ec" stroke="#14143a" stroke-width="1.4"/>
<rect x="915.8" y="1921.1" width="9.8" height="9.8" fill="#5656ec" stroke="#14143a" stroke-width="1.4"/>
<rect x="915.8" y="1939.7" width="9.8" height="9.8" fill="#5656ec" stroke="#14143a" stroke-width="1.4"/>
<polyline points="881.7,1890.0 881.7,1877.9 925.7,1877.9 925.7,1890.0" fill="none" stroke="#000" stroke-width="2.7" stroke-linejoin="miter"/>
<text x="905.5" y="1877.1" font-size="30" font-weight="bold" text-anchor="middle" stroke="#000" stroke-width="0.35" letter-spacing="3.5">***</text>
<text x="901.4" y="2163.2" font-size="21.2" font-weight="bold" text-anchor="middle" stroke="#000" stroke-width="0.35" font-style="italic">Tnfa</text>
<rect x="973.7" y="2068.6" width="23.1" height="62.3" fill="#fff" stroke="#000" stroke-width="2.7"/>
<rect x="1012.5" y="2082.9" width="23.1" height="48.0" fill="#fff" stroke="#000" stroke-width="2.7"/>
<line x1="985.2" y1="2046.4" x2="985.2" y2="2087.1" stroke="#000" stroke-width="2.4" stroke-linecap="butt"/>
<line x1="979.2" y1="2046.4" x2="991.2" y2="2046.4" stroke="#000" stroke-width="2.4" stroke-linecap="butt"/>
<line x1="979.2" y1="2087.1" x2="991.2" y2="2087.1" stroke="#000" stroke-width="2.4" stroke-linecap="butt"/>
<line x1="1024.0" y1="2061.4" x2="1024.0" y2="2101.4" stroke="#000" stroke-width="2.4" stroke-linecap="butt"/>
<line x1="1018.0" y1="2061.4" x2="1030.0" y2="2061.4" stroke="#000" stroke-width="2.4" stroke-linecap="butt"/>
<line x1="1018.0" y1="2101.4" x2="1030.0" y2="2101.4" stroke="#000" stroke-width="2.4" stroke-linecap="butt"/>
<circle cx="985.0" cy="2040.3" r="4.8" fill="#c8c9f7" stroke="#14143a" stroke-width="1.4"/>
<circle cx="977.1" cy="2055.7" r="4.8" fill="#c8c9f7" stroke="#14143a" stroke-width="1.4"/>
<circle cx="992.9" cy="2055.7" r="4.8" fill="#c8c9f7" stroke="#14143a" stroke-width="1.4"/>
<circle cx="985.0" cy="2071.4" r="4.8" fill="#c8c9f7" stroke="#14143a" stroke-width="1.4"/>
<circle cx="985.0" cy="2084.3" r="4.8" fill="#c8c9f7" stroke="#14143a" stroke-width="1.4"/>
<circle cx="985.0" cy="2095.0" r="4.8" fill="#c8c9f7" stroke="#14143a" stroke-width="1.4"/>
<rect x="1018.7" y="2040.8" width="9.8" height="9.8" fill="#5656ec" stroke="#14143a" stroke-width="1.4"/>
<rect x="1010.8" y="2088.7" width="9.8" height="9.8" fill="#5656ec" stroke="#14143a" stroke-width="1.4"/>
<rect x="1015.8" y="2082.2" width="9.8" height="9.8" fill="#5656ec" stroke="#14143a" stroke-width="1.4"/>
<rect x="1021.5" y="2087.2" width="9.8" height="9.8" fill="#5656ec" stroke="#14143a" stroke-width="1.4"/>
<rect x="1027.2" y="2083.7" width="9.8" height="9.8" fill="#5656ec" stroke="#14143a" stroke-width="1.4"/>
<text x="1004.6" y="2163.2" font-size="21.2" font-weight="bold" text-anchor="middle" stroke="#000" stroke-width="0.35" font-style="italic">Il1b</text>
<rect x="1076.8" y="2068.4" width="23.1" height="62.5" fill="#fff" stroke="#000" stroke-width="2.7"/>
<rect x="1115.7" y="2029.4" width="23.1" height="101.5" fill="#fff" stroke="#000" stroke-width="2.7"/>
<line x1="1088.4" y1="2057.4" x2="1088.4" y2="2077.0" stroke="#000" stroke-width="2.4" stroke-linecap="butt"/>
<line x1="1082.4" y1="2057.4" x2="1094.4" y2="2057.4" stroke="#000" stroke-width="2.4" stroke-linecap="butt"/>
<line x1="1082.4" y1="2077.0" x2="1094.4" y2="2077.0" stroke="#000" stroke-width="2.4" stroke-linecap="butt"/>
<line x1="1127.2" y1="2000.7" x2="1127.2" y2="2054.3" stroke="#000" stroke-width="2.4" stroke-linecap="butt"/>
<line x1="1121.2" y1="2000.7" x2="1133.2" y2="2000.7" stroke="#000" stroke-width="2.4" stroke-linecap="butt"/>
<line x1="1121.2" y1="2054.3" x2="1133.2" y2="2054.3" stroke="#000" stroke-width="2.4" stroke-linecap="butt"/>
<circle cx="1080.6" cy="2053.7" r="4.8" fill="#c8c9f7" stroke="#14143a" stroke-width="1.4"/>
<circle cx="1080.6" cy="2063.5" r="4.8" fill="#c8c9f7" stroke="#14143a" stroke-width="1.4"/>
<circle cx="1096.1" cy="2060.4" r="4.8" fill="#c8c9f7" stroke="#14143a" stroke-width="1.4"/>
<circle cx="1088.2" cy="2070.9" r="4.8" fill="#c8c9f7" stroke="#14143a" stroke-width="1.4"/>
<circle cx="1096.1" cy="2072.7" r="4.8" fill="#c8c9f7" stroke="#14143a" stroke-width="1.4"/>
<circle cx="1080.6" cy="2081.9" r="4.8" fill="#c8c9f7" stroke="#14143a" stroke-width="1.4"/>
<rect x="1121.8" y="1978.1" width="9.8" height="9.8" fill="#5656ec" stroke="#14143a" stroke-width="1.4"/>
<rect x="1114.5" y="2027.4" width="9.8" height="9.8" fill="#5656ec" stroke="#14143a" stroke-width="1.4"/>
<rect x="1129.8" y="2023.1" width="9.8" height="9.8" fill="#5656ec" stroke="#14143a" stroke-width="1.4"/>
<rect x="1129.8" y="2033.5" width="9.8" height="9.8" fill="#5656ec" stroke="#14143a" stroke-width="1.4"/>
<rect x="1121.8" y="2050.4" width="9.8" height="9.8" fill="#5656ec" stroke="#14143a" stroke-width="1.4"/>
<polyline points="1088.2,1962.5 1088.2,1948.4 1126.7,1948.4 1126.7,1962.5" fill="none" stroke="#000" stroke-width="2.7" stroke-linejoin="miter"/>
<text x="1109.2" y="1946.3" font-size="30" font-weight="bold" text-anchor="middle" stroke="#000" stroke-width="0.35" letter-spacing="3.5">*</text>
<text x="1107.8" y="2163.2" font-size="21.2" font-weight="bold" text-anchor="middle" stroke="#000" stroke-width="0.35" font-style="italic">Casp1</text>
<rect x="1179.8" y="2069.0" width="23.1" height="61.9" fill="#fff" stroke="#000" stroke-width="2.7"/>
<rect x="1218.6" y="2044.5" width="23.1" height="86.4" fill="#fff" stroke="#000" stroke-width="2.7"/>
<line x1="1191.3" y1="2049.2" x2="1191.3" y2="2085.0" stroke="#000" stroke-width="2.4" stroke-linecap="butt"/>
<line x1="1185.3" y1="2049.2" x2="1197.3" y2="2049.2" stroke="#000" stroke-width="2.4" stroke-linecap="butt"/>
<line x1="1185.3" y1="2085.0" x2="1197.3" y2="2085.0" stroke="#000" stroke-width="2.4" stroke-linecap="butt"/>
<line x1="1230.1" y1="2031.0" x2="1230.1" y2="2058.0" stroke="#000" stroke-width="2.4" stroke-linecap="butt"/>
<line x1="1224.1" y1="2031.0" x2="1236.1" y2="2031.0" stroke="#000" stroke-width="2.4" stroke-linecap="butt"/>
<line x1="1224.1" y1="2058.0" x2="1236.1" y2="2058.0" stroke="#000" stroke-width="2.4" stroke-linecap="butt"/>
<circle cx="1191.0" cy="2041.5" r="4.8" fill="#c8c9f7" stroke="#14143a" stroke-width="1.4"/>
<circle cx="1191.0" cy="2057.4" r="4.8" fill="#c8c9f7" stroke="#14143a" stroke-width="1.4"/>
<circle cx="1183.7" cy="2066.0" r="4.8" fill="#c8c9f7" stroke="#14143a" stroke-width="1.4"/>
<circle cx="1199.0" cy="2066.0" r="4.8" fill="#c8c9f7" stroke="#14143a" stroke-width="1.4"/>
<circle cx="1191.0" cy="2077.0" r="4.8" fill="#c8c9f7" stroke="#14143a" stroke-width="1.4"/>
<circle cx="1191.0" cy="2095.3" r="4.8" fill="#c8c9f7" stroke="#14143a" stroke-width="1.4"/>
<rect x="1225.3" y="2018.8" width="9.8" height="9.8" fill="#5656ec" stroke="#14143a" stroke-width="1.4"/>
<rect x="1222.3" y="2036.6" width="9.8" height="9.8" fill="#5656ec" stroke="#14143a" stroke-width="1.4"/>
<rect x="1217.4" y="2043.3" width="9.8" height="9.8" fill="#5656ec" stroke="#14143a" stroke-width="1.4"/>
<rect x="1227.8" y="2042.1" width="9.8" height="9.8" fill="#5656ec" stroke="#14143a" stroke-width="1.4"/>
<rect x="1234.5" y="2039.0" width="9.8" height="9.8" fill="#5656ec" stroke="#14143a" stroke-width="1.4"/>
<polyline points="1191.0,2007.2 1191.0,1992.5 1230.2,1992.5 1230.2,2007.2" fill="none" stroke="#000" stroke-width="2.7" stroke-linejoin="miter"/>
<text x="1212.3" y="1990.4" font-size="30" font-weight="bold" text-anchor="middle" stroke="#000" stroke-width="0.35" letter-spacing="3.5">*</text>
<text x="1210.7" y="2163.2" font-size="21.2" font-weight="bold" text-anchor="middle" stroke="#000" stroke-width="0.35" font-style="italic">Nlrp3</text>
<text x="1049.6" y="1829.8" font-size="24" font-weight="bold" text-anchor="middle" stroke="#000" stroke-width="0.35">Inflammation</text>
<text transform="translate(817.5,2003.0) rotate(-90)" font-size="24" font-weight="bold" text-anchor="middle" stroke="#000" stroke-width="0.35">Relative gene expression</text>
<line x1="1477.0" y1="1876.4" x2="1477.0" y2="2131.3" stroke="#000" stroke-width="2.7" stroke-linecap="butt"/>
<line x1="1466.0" y1="2130.0" x2="1477.0" y2="2130.0" stroke="#000" stroke-width="2.7" stroke-linecap="butt"/>
<text x="1464.2" y="2137.8" font-size="19.5" font-weight="bold" text-anchor="end" stroke="#000" stroke-width="0.35">0</text>
<line x1="1466.0" y1="2045.5" x2="1477.0" y2="2045.5" stroke="#000" stroke-width="2.7" stroke-linecap="butt"/>
<text x="1464.2" y="2053.3" font-size="19.5" font-weight="bold" text-anchor="end" stroke="#000" stroke-width="0.35">2</text>
<line x1="1466.0" y1="1960.9" x2="1477.0" y2="1960.9" stroke="#000" stroke-width="2.7" stroke-linecap="butt"/>
<text x="1464.2" y="1968.7" font-size="19.5" font-weight="bold" text-anchor="end" stroke="#000" stroke-width="0.35">4</text>
<line x1="1466.0" y1="1876.4" x2="1477.0" y2="1876.4" stroke="#000" stroke-width="2.7" stroke-linecap="butt"/>
<text x="1464.2" y="1884.2" font-size="19.5" font-weight="bold" text-anchor="end" stroke="#000" stroke-width="0.35">6</text>
<line x1="1466.0" y1="2130.0" x2="1973.6" y2="2130.0" stroke="#000" stroke-width="2.7" stroke-linecap="butt"/>
<line x1="1521.0" y1="2130.0" x2="1521.0" y2="2140.5" stroke="#000" stroke-width="2.7" stroke-linecap="butt"/>
<line x1="1622.8" y1="2130.0" x2="1622.8" y2="2140.5" stroke="#000" stroke-width="2.7" stroke-linecap="butt"/>
<line x1="1725.0" y1="2130.0" x2="1725.0" y2="2140.5" stroke="#000" stroke-width="2.7" stroke-linecap="butt"/>
<line x1="1827.0" y1="2130.0" x2="1827.0" y2="2140.5" stroke="#000" stroke-width="2.7" stroke-linecap="butt"/>
<line x1="1928.9" y1="2130.0" x2="1928.9" y2="2140.5" stroke="#000" stroke-width="2.7" stroke-linecap="butt"/>
<rect x="1490.5" y="2089.4" width="23.1" height="40.6" fill="#fff" stroke="#000" stroke-width="2.7"/>
<rect x="1528.5" y="2066.3" width="23.1" height="63.7" fill="#fff" stroke="#000" stroke-width="2.7"/>
<line x1="1502.0" y1="2082.0" x2="1502.0" y2="2097.0" stroke="#000" stroke-width="2.4" stroke-linecap="butt"/>
<line x1="1496.0" y1="2082.0" x2="1508.0" y2="2082.0" stroke="#000" stroke-width="2.4" stroke-linecap="butt"/>
<line x1="1496.0" y1="2097.0" x2="1508.0" y2="2097.0" stroke="#000" stroke-width="2.4" stroke-linecap="butt"/>
<line x1="1540.0" y1="2050.6" x2="1540.0" y2="2078.2" stroke="#000" stroke-width="2.4" stroke-linecap="butt"/>
<line x1="1534.0" y1="2050.6" x2="1546.0" y2="2050.6" stroke="#000" stroke-width="2.4" stroke-linecap="butt"/>
<line x1="1534.0" y1="2078.2" x2="1546.0" y2="2078.2" stroke="#000" stroke-width="2.4" stroke-linecap="butt"/>
<circle cx="1504.6" cy="2076.7" r="4.8" fill="#c8c9f7" stroke="#14143a" stroke-width="1.4"/>
<circle cx="1494.6" cy="2081.9" r="4.8" fill="#c8c9f7" stroke="#14143a" stroke-width="1.4"/>
<circle cx="1500.1" cy="2088.6" r="4.8" fill="#c8c9f7" stroke="#14143a" stroke-width="1.4"/>
<circle cx="1509.8" cy="2091.6" r="4.8" fill="#c8c9f7" stroke="#14143a" stroke-width="1.4"/>
<circle cx="1504.6" cy="2093.1" r="4.8" fill="#c8c9f7" stroke="#14143a" stroke-width="1.4"/>
<circle cx="1494.6" cy="2096.1" r="4.8" fill="#c8c9f7" stroke="#14143a" stroke-width="1.4"/>
<rect x="1535.9" y="2035.3" width="9.8" height="9.8" fill="#5656ec" stroke="#14143a" stroke-width="1.4"/>
<rect x="1528.4" y="2069.6" width="9.8" height="9.8" fill="#5656ec" stroke="#14143a" stroke-width="1.4"/>
<rect x="1533.2" y="2063.6" width="9.8" height="9.8" fill="#5656ec" stroke="#14143a" stroke-width="1.4"/>
<rect x="1537.7" y="2064.4" width="9.8" height="9.8" fill="#5656ec" stroke="#14143a" stroke-width="1.4"/>
<rect x="1543.3" y="2064.4" width="9.8" height="9.8" fill="#5656ec" stroke="#14143a" stroke-width="1.4"/>
<polyline points="1502.3,2016.4 1502.3,2002.2 1540.8,2002.2 1540.8,2016.4" fill="none" stroke="#000" stroke-width="2.7" stroke-linejoin="miter"/>
<text x="1523.3" y="2000.9" font-size="30" font-weight="bold" text-anchor="middle" stroke="#000" stroke-width="0.35" letter-spacing="3.5">**</text>
<text x="1521.0" y="2163.2" font-size="21.2" font-weight="bold" text-anchor="middle" stroke="#000" stroke-width="0.35" font-style="italic">Tgfb</text>
<rect x="1592.2" y="2089.4" width="23.1" height="40.6" fill="#fff" stroke="#000" stroke-width="2.7"/>
<rect x="1630.2" y="1944.2" width="23.1" height="185.8" fill="#fff" stroke="#000" stroke-width="2.7"/>
<line x1="1603.8" y1="2080.0" x2="1603.8" y2="2098.0" stroke="#000" stroke-width="2.4" stroke-linecap="butt"/>
<line x1="1597.8" y1="2080.0" x2="1609.8" y2="2080.0" stroke="#000" stroke-width="2.4" stroke-linecap="butt"/>
<line x1="1597.8" y1="2098.0" x2="1609.8" y2="2098.0" stroke="#000" stroke-width="2.4" stroke-linecap="butt"/>
<line x1="1641.8" y1="1906.9" x2="1641.8" y2="1977.7" stroke="#000" stroke-width="2.4" stroke-linecap="butt"/>
<line x1="1635.8" y1="1906.9" x2="1647.8" y2="1906.9" stroke="#000" stroke-width="2.4" stroke-linecap="butt"/>
<line x1="1635.8" y1="1977.7" x2="1647.8" y2="1977.7" stroke="#000" stroke-width="2.4" stroke-linecap="butt"/>
<circle cx="1601.8" cy="2077.5" r="4.8" fill="#c8c9f7" stroke="#14143a" stroke-width="1.4"/>
<circle cx="1596.9" cy="2084.2" r="4.8" fill="#c8c9f7" stroke="#14143a" stroke-width="1.4"/>
<circle cx="1611.8" cy="2081.2" r="4.8" fill="#c8c9f7" stroke="#14143a" stroke-width="1.4"/>
<circle cx="1606.3" cy="2086.4" r="4.8" fill="#c8c9f7" stroke="#14143a" stroke-width="1.4"/>
<circle cx="1606.9" cy="2096.8" r="4.8" fill="#c8c9f7" stroke="#14143a" stroke-width="1.4"/>
<circle cx="1601.8" cy="2101.3" r="4.8" fill="#c8c9f7" stroke="#14143a" stroke-width="1.4"/>
<rect x="1637.7" y="1895.6" width="9.8" height="9.8" fill="#5656ec" stroke="#14143a" stroke-width="1.4"/>
<rect x="1637.7" y="1913.5" width="9.8" height="9.8" fill="#5656ec" stroke="#14143a" stroke-width="1.4"/>
<rect x="1637.7" y="1938.1" width="9.8" height="9.8" fill="#5656ec" stroke="#14143a" stroke-width="1.4"/>
<rect x="1637.7" y="1955.6" width="9.8" height="9.8" fill="#5656ec" stroke="#14143a" stroke-width="1.4"/>
<rect x="1637.7" y="1985.9" width="9.8" height="9.8" fill="#5656ec" stroke="#14143a" stroke-width="1.4"/>
<polyline points="1597.7,1885.3 1597.7,1873.4 1641.6,1873.4 1641.6,1885.3" fill="none" stroke="#000" stroke-width="2.7" stroke-linejoin="miter"/>
<text x="1621.4" y="1872.1" font-size="30" font-weight="bold" text-anchor="middle" stroke="#000" stroke-width="0.35" letter-spacing="3.5">***</text>
<text x="1622.8" y="2163.2" font-size="21.2" font-weight="bold" text-anchor="middle" stroke="#000" stroke-width="0.35" font-style="italic">Col1a1</text>
<rect x="1694.5" y="2089.4" width="23.1" height="40.6" fill="#fff" stroke="#000" stroke-width="2.7"/>
<rect x="1732.5" y="2020.1" width="23.1" height="109.9" fill="#fff" stroke="#000" stroke-width="2.7"/>
<line x1="1706.0" y1="2083.0" x2="1706.0" y2="2096.0" stroke="#000" stroke-width="2.4" stroke-linecap="butt"/>
<line x1="1700.0" y1="2083.0" x2="1712.0" y2="2083.0" stroke="#000" stroke-width="2.4" stroke-linecap="butt"/>
<line x1="1700.0" y1="2096.0" x2="1712.0" y2="2096.0" stroke="#000" stroke-width="2.4" stroke-linecap="butt"/>
<line x1="1744.0" y1="2005.2" x2="1744.0" y2="2032.5" stroke="#000" stroke-width="2.4" stroke-linecap="butt"/>
<line x1="1738.0" y1="2005.2" x2="1750.0" y2="2005.2" stroke="#000" stroke-width="2.4" stroke-linecap="butt"/>
<line x1="1738.0" y1="2032.5" x2="1750.0" y2="2032.5" stroke="#000" stroke-width="2.4" stroke-linecap="butt"/>
<circle cx="1698.6" cy="2082.2" r="4.8" fill="#c8c9f7" stroke="#14143a" stroke-width="1.4"/>
<circle cx="1713.8" cy="2082.2" r="4.8" fill="#c8c9f7" stroke="#14143a" stroke-width="1.4"/>
<circle cx="1703.4" cy="2089.4" r="4.8" fill="#c8c9f7" stroke="#14143a" stroke-width="1.4"/>
<circle cx="1710.1" cy="2090.9" r="4.8" fill="#c8c9f7" stroke="#14143a" stroke-width="1.4"/>
<circle cx="1702.7" cy="2096.8" r="4.8" fill="#c8c9f7" stroke="#14143a" stroke-width="1.4"/>
<rect x="1732.0" y="2002.3" width="9.8" height="9.8" fill="#5656ec" stroke="#14143a" stroke-width="1.4"/>
<rect x="1737.2" y="2007.8" width="9.8" height="9.8" fill="#5656ec" stroke="#14143a" stroke-width="1.4"/>
<rect x="1742.1" y="2007.8" width="9.8" height="9.8" fill="#5656ec" stroke="#14143a" stroke-width="1.4"/>
<rect x="1747.4" y="2012.2" width="9.8" height="9.8" fill="#5656ec" stroke="#14143a" stroke-width="1.4"/>
<rect x="1739.5" y="2037.6" width="9.8" height="9.8" fill="#5656ec" stroke="#14143a" stroke-width="1.4"/>
<polyline points="1698.9,1989.6 1698.9,1977.7 1743.6,1977.7 1743.6,1989.6" fill="none" stroke="#000" stroke-width="2.7" stroke-linejoin="miter"/>
<text x="1723.0" y="1976.4" font-size="30" font-weight="bold" text-anchor="middle" stroke="#000" stroke-width="0.35" letter-spacing="3.5">***</text>
<text x="1725.0" y="2163.2" font-size="21.2" font-weight="bold" text-anchor="middle" stroke="#000" stroke-width="0.35" font-style="italic">Col3a1</text>
<rect x="1796.5" y="2088.9" width="23.1" height="41.1" fill="#fff" stroke="#000" stroke-width="2.7"/>
<rect x="1834.5" y="2042.3" width="23.1" height="87.7" fill="#fff" stroke="#000" stroke-width="2.7"/>
<line x1="1808.0" y1="2084.0" x2="1808.0" y2="2094.0" stroke="#000" stroke-width="2.4" stroke-linecap="butt"/>
<line x1="1802.0" y1="2084.0" x2="1814.0" y2="2084.0" stroke="#000" stroke-width="2.4" stroke-linecap="butt"/>
<line x1="1802.0" y1="2094.0" x2="1814.0" y2="2094.0" stroke="#000" stroke-width="2.4" stroke-linecap="butt"/>
<line x1="1846.0" y1="2013.2" x2="1846.0" y2="2058.0" stroke="#000" stroke-width="2.4" stroke-linecap="butt"/>
<line x1="1840.0" y1="2013.2" x2="1852.0" y2="2013.2" stroke="#000" stroke-width="2.4" stroke-linecap="butt"/>
<line x1="1840.0" y1="2058.0" x2="1852.0" y2="2058.0" stroke="#000" stroke-width="2.4" stroke-linecap="butt"/>
<circle cx="1800.2" cy="2090.0" r="4.8" fill="#c8c9f7" stroke="#14143a" stroke-width="1.4"/>
<circle cx="1804.1" cy="2083.9" r="4.8" fill="#c8c9f7" stroke="#14143a" stroke-width="1.4"/>
<circle cx="1808.0" cy="2088.0" r="4.8" fill="#c8c9f7" stroke="#14143a" stroke-width="1.4"/>
<circle cx="1815.9" cy="2083.9" r="4.8" fill="#c8c9f7" stroke="#14143a" stroke-width="1.4"/>
<circle cx="1815.9" cy="2095.1" r="4.8" fill="#c8c9f7" stroke="#14143a" stroke-width="1.4"/>
<rect x="1841.3" y="1988.1" width="9.8" height="9.8" fill="#5656ec" stroke="#14143a" stroke-width="1.4"/>
<rect x="1848.6" y="2037.4" width="9.8" height="9.8" fill="#5656ec" stroke="#14143a" stroke-width="1.4"/>
<rect x="1833.5" y="2047.0" width="9.8" height="9.8" fill="#5656ec" stroke="#14143a" stroke-width="1.4"/>
<rect x="1848.6" y="2049.2" width="9.8" height="9.8" fill="#5656ec" stroke="#14143a" stroke-width="1.4"/>
<rect x="1841.3" y="2061.0" width="9.8" height="9.8" fill="#5656ec" stroke="#14143a" stroke-width="1.4"/>
<polyline points="1808.0,1978.4 1808.0,1964.3 1846.2,1964.3 1846.2,1978.4" fill="none" stroke="#000" stroke-width="2.7" stroke-linejoin="miter"/>
<text x="1828.8" y="1963.1" font-size="30" font-weight="bold" text-anchor="middle" stroke="#000" stroke-width="0.35" letter-spacing="3.5">**</text>
<text x="1827.0" y="2163.2" font-size="21.2" font-weight="bold" text-anchor="middle" stroke="#000" stroke-width="0.35" font-style="italic">Col4a1</text>
<rect x="1898.4" y="2088.9" width="23.1" height="41.1" fill="#fff" stroke="#000" stroke-width="2.7"/>
<rect x="1936.4" y="2046.7" width="23.1" height="83.3" fill="#fff" stroke="#000" stroke-width="2.7"/>
<line x1="1909.9" y1="2085.0" x2="1909.9" y2="2093.0" stroke="#000" stroke-width="2.4" stroke-linecap="butt"/>
<line x1="1903.9" y1="2085.0" x2="1915.9" y2="2085.0" stroke="#000" stroke-width="2.4" stroke-linecap="butt"/>
<line x1="1903.9" y1="2093.0" x2="1915.9" y2="2093.0" stroke="#000" stroke-width="2.4" stroke-linecap="butt"/>
<line x1="1947.9" y1="2023.8" x2="1947.9" y2="2058.6" stroke="#000" stroke-width="2.4" stroke-linecap="butt"/>
<line x1="1941.9" y1="2023.8" x2="1953.9" y2="2023.8" stroke="#000" stroke-width="2.4" stroke-linecap="butt"/>
<line x1="1941.9" y1="2058.6" x2="1953.9" y2="2058.6" stroke="#000" stroke-width="2.4" stroke-linecap="butt"/>
<circle cx="1902.3" cy="2091.2" r="4.8" fill="#c8c9f7" stroke="#14143a" stroke-width="1.4"/>
<circle cx="1906.3" cy="2084.4" r="4.8" fill="#c8c9f7" stroke="#14143a" stroke-width="1.4"/>
<circle cx="1913.6" cy="2087.8" r="4.8" fill="#c8c9f7" stroke="#14143a" stroke-width="1.4"/>
<circle cx="1917.5" cy="2082.2" r="4.8" fill="#c8c9f7" stroke="#14143a" stroke-width="1.4"/>
<circle cx="1917.5" cy="2094.0" r="4.8" fill="#c8c9f7" stroke="#14143a" stroke-width="1.4"/>
<circle cx="1910.2" cy="2091.2" r="4.8" fill="#c8c9f7" stroke="#14143a" stroke-width="1.4"/>
<rect x="1943.5" y="2007.1" width="9.8" height="9.8" fill="#5656ec" stroke="#14143a" stroke-width="1.4"/>
<rect x="1935.6" y="2038.6" width="9.8" height="9.8" fill="#5656ec" stroke="#14143a" stroke-width="1.4"/>
<rect x="1950.7" y="2035.8" width="9.8" height="9.8" fill="#5656ec" stroke="#14143a" stroke-width="1.4"/>
<rect x="1935.6" y="2050.9" width="9.8" height="9.8" fill="#5656ec" stroke="#14143a" stroke-width="1.4"/>
<rect x="1950.7" y="2050.3" width="9.8" height="9.8" fill="#5656ec" stroke="#14143a" stroke-width="1.4"/>
<polyline points="1909.6,1978.4 1909.6,1964.3 1948.1,1964.3 1948.1,1978.4" fill="none" stroke="#000" stroke-width="2.7" stroke-linejoin="miter"/>
<text x="1930.6" y="1963.1" font-size="30" font-weight="bold" text-anchor="middle" stroke="#000" stroke-width="0.35" letter-spacing="3.5">***</text>
<text x="1928.9" y="2163.2" font-size="21.2" font-weight="bold" text-anchor="middle" stroke="#000" stroke-width="0.35" font-style="italic">Col4a2</text>
<text x="1727.6" y="1840.3" font-size="24" font-weight="bold" text-anchor="middle" stroke="#000" stroke-width="0.35">Fibrosis</text>
<text transform="translate(1437.0,2003.0) rotate(-90)" font-size="24" font-weight="bold" text-anchor="middle" stroke="#000" stroke-width="0.35">Relative gene expression</text>
<defs>
<filter id="fJ1" x="0" y="0" width="1" height="1" color-interpolation-filters="sRGB"><feTurbulence type="fractalNoise" baseFrequency="0.26" numOctaves="3" seed="3"/><feColorMatrix type="matrix" values="1 0 0 0 0 1 0 0 0 0 1 0 0 0 0 0 0 0 0 1"/><feComponentTransfer><feFuncR type="table" tableValues="0.6 0.6 0.7 0.7 0.7 0.8 0.9 0.9 1 1 1"/><feFuncG type="table" tableValues="0.4 0.4 0.4 0.5 0.6 0.6 0.7 0.8 0.9 0.9 1"/><feFuncB type="table" tableValues="0.6 0.7 0.7 0.7 0.8 0.8 0.9 0.9 1 1 1"/></feComponentTransfer><feGaussianBlur stdDeviation="0.45"/></filter>
<filter id="fJ2" x="0" y="0" width="1" height="1" color-interpolation-filters="sRGB"><feTurbulence type="fractalNoise" baseFrequency="0.26" numOctaves="3" seed="9"/><feColorMatrix type="matrix" values="1 0 0 0 0 1 0 0 0 0 1 0 0 0 0 0 0 0 0 1"/><feComponentTransfer><feFuncR type="table" tableValues="0.6 0.6 0.7 0.7 0.7 0.8 0.9 0.9 1 1 1"/><feFuncG type="table" tableValues="0.4 0.4 0.4 0.5 0.6 0.6 0.7 0.8 0.9 0.9 1"/><feFuncB type="table" tableValues="0.6 0.7 0.7 0.7 0.8 0.8 0.9 0.9 1 1 1"/></feComponentTransfer><feGaussianBlur stdDeviation="0.45"/></filter>
<filter id="fK1" x="0" y="0" width="1" height="1" color-interpolation-filters="sRGB"><feTurbulence type="fractalNoise" baseFrequency="0.24" numOctaves="3" seed="4"/><feColorMatrix type="matrix" values="1 0 0 0 0 1 0 0 0 0 1 0 0 0 0 0 0 0 0 1"/><feComponentTransfer><feFuncR type="table" tableValues="0.8 0.8 0.9 0.9 0.9 0.9 1 1 1 1 1"/><feFuncG type="table" tableValues="0.5 0.6 0.6 0.6 0.7 0.8 0.8 0.9 0.9 1 1"/><feFuncB type="table" tableValues="0.6 0.6 0.7 0.7 0.8 0.8 0.9 0.9 0.9 1 1"/></feComponentTransfer><feGaussianBlur stdDeviation="0.6"/></filter>
<filter id="fK2" x="0" y="0" width="1" height="1" color-interpolation-filters="sRGB"><feTurbulence type="fractalNoise" baseFrequency="0.24" numOctaves="3" seed="12"/><feColorMatrix type="matrix" values="1 0 0 0 0 1 0 0 0 0 1 0 0 0 0 0 0 0 0 1"/><feComponentTransfer><feFuncR type="table" tableValues="0.8 0.8 0.9 0.9 0.9 0.9 1 1 1 1 1"/><feFuncG type="table" tableValues="0.5 0.6 0.6 0.6 0.7 0.8 0.8 0.9 0.9 1 1"/><feFuncB type="table" tableValues="0.6 0.6 0.7 0.7 0.8 0.8 0.9 0.9 0.9 1 1"/></feComponentTransfer><feGaussianBlur stdDeviation="0.6"/></filter>
<filter id="blur1" x="-0.2" y="-0.2" width="1.4" height="1.4"><feGaussianBlur stdDeviation="0.6"/></filter>
<filter id="blur05" x="-0.05" y="-0.05" width="1.1" height="1.1"><feGaussianBlur stdDeviation="0.45"/></filter>
<filter id="blur3" x="-0.5" y="-0.5" width="2" height="2"><feGaussianBlur stdDeviation="6"/></filter>
</defs>
<clipPath id="cE1"><rect x="45.2" y="465" width="302.8" height="302"/></clipPath>
<g clip-path="url(#cE1)"><rect x="45.2" y="465" width="302.8" height="302" fill="#f7eef6"/>
<path d="M41.5,445.1L42.3,446.1L51.3,451.6L52.4,451.8L53.4,451.4L57.9,447.9L58.6,446.4L57.5,425.6L56.9,424.3L55.5,423.9L54.3,424.6L41.2,441.5L40.9,443.1ZM191.6,428.2L190.4,427.6L189,428L188.3,429.2L185.4,442.7L185.5,443.7L189.1,455.1L190,456.2L191.5,456.4L192.6,455.5L201.5,441.2L201.8,440L201.3,438.8ZM40.1,446.8L40.5,444.9L40,443.1L39.1,442L29.5,436.5L28,436.4L26.8,437.4L18.3,455.9L18.3,457.5L19.5,458.6L20.3,458.8L21.4,458.7L31.8,455.1L32.5,454.6ZM42.4,447.4L41.4,447.1L40.4,447.6L34.3,454L33.8,455.2L34.4,456.4L44.4,465.2L46.1,465.4L51.3,462.9L52.2,461.4L52,454L51.2,452.7ZM53.9,452.2L52.8,454.4L53,461.3L54,463.4L60.1,468.2L62.2,468.8L64.1,467.6L73.4,453.8L73.9,452.1L73.1,450.4L71.5,449.5L60.4,448.1L58.4,448.6ZM75.8,449.4L75.5,450.6L75.5,451.8L75.9,452.7L85.6,465.2L86.7,465.8L88,465.4L91.4,462.5L91.9,460.8L87.6,444.5L86.9,443.5L83.9,441.8L82.8,441.6L81.8,442.2ZM93.1,459.9L94,461.2L95.6,461.5L103.1,460.7L104.6,460L109.1,454.7L109.6,453.7L110.5,448.7L110.4,447.4L109.5,446.4L106.6,444.6L105.5,444.2L91.9,443.7L90.1,444.5L89.7,446.5ZM130.2,456.4L130.6,455.1L128.9,448.1L127.9,447L118.3,444.5L117.3,444.6L112.4,447.1L111.6,448.1L110.6,453.5L111.1,454.8L121.2,464.2L122.3,464.6L123.3,464.1ZM146.7,462.3L148.2,461.3L148.5,459.5L145.7,445.9L144.7,444.4L141,441.9L138.5,441.8L131.3,446.1L130.3,447.2L130.2,448.7L131.6,454.9L132.5,456.2L140.9,462.8L142.9,463.2ZM165,442L164.4,441.3L163.4,441.2L147.8,444.6L146.9,445.2L146.7,446.3L149.8,461.1L150.6,462.1L155.6,464.3L157.1,464L166.7,456.2L167.2,454.9L165.4,443L165.3,442.6ZM184.3,445.7L183.7,444.9L182.9,444.6L169.3,444.2L168.1,444.7L167.7,446L168.9,453.8L169.9,455L180.7,458.6L181.7,458.6L186.3,456.9L187.1,456.1L187.2,455ZM195.3,454.1L195,455.1L195.5,456L196.4,456.4L210.5,458.1L211.9,457.5L214.4,454.1L214.7,453.4L216.1,443.3L215.8,442.1L214.7,441.6L204.2,441.1L202.9,441.8ZM221.7,441.5L220.1,441.8L219.3,443.1L218.1,451.5L218.4,452.8L219.3,453.6L229.1,457.8L231,457.7L231.9,456.1L232.4,446L231.7,444.3L230.5,443.3L229.5,442.8ZM238.1,467.1L239.1,467.9L240.3,467.5L251.2,457.9L251.7,457.2L251.6,456.4L248.5,447.6L247.3,446.7L237.5,446L236.5,446.3L236,447.3L235.3,461.2L235.5,461.9ZM259.3,456.9L260.6,456.9L265.1,455.7L266.4,454.8L267,453.3L267.2,451.1L266.6,449.2L259,440.1L256.7,439.1L254.7,440.4L252.3,444.3L252.1,446.5L255,454.7L256.9,456.4ZM269.2,455.3L269.5,456.4L270.3,457.1L279,461.2L281,460.9L286.9,455.7L287.5,454.1L286.5,445.3L286,444.2L280.3,438.6L278.8,438.1L277.5,438.8L270,449.1L269.7,450ZM308.2,454.9L309,453.7L309.5,446.3L308.9,445L300.4,438.6L299.6,438.3L298.8,438.5L288.6,444.5L287.9,445.9L288.7,453.2L289.1,454.1L290,454.5L304.5,456.4L305.4,456.3ZM315.3,456.8L316.2,457L328.3,456.7L329.3,456.2L329.8,455.2L331,440.5L330.5,439.2L329.1,438.9L315.7,442.3L315,442.8L312.5,445.3L312.1,446.3L311.6,453.5L312.3,454.9ZM337.4,438.1L336.2,437.9L335.1,438.5L334.6,439.6L333.3,456.2L334,457.8L339,461.4L340.8,461.6L346.1,459.3L347.2,458L349.9,446.5L349.8,445.3L349,444.4ZM355.8,463.9L356.9,464.2L361.2,464.4L362.7,464L363.7,462.7L369.3,444.9L369,442.7L367.1,441.6L360,441L358.6,441.3L353.8,443.8L352.5,445.5L349.5,458.3L349.6,459.9L350.7,461.1ZM34,474.8L35.7,475.7L37.5,474.9L43,468.2L43.6,466.6L42.8,465L33.3,456.7L31.1,456.2L24.7,458.5L23.2,460L23.6,462.1ZM62.1,476.2L62.8,475L62.7,473.6L61.9,471.7L61.2,470.9L53.6,464.8L51.3,464.6L46.2,467.1L45.5,467.7L41.6,472.3L41.1,473.8L41.7,475.2L43.1,475.9L59.2,477.8L60.9,477.2ZM64.7,474.2L65.9,475.4L66.5,475.6L67.6,475.8L82.5,474.7L83.8,474.2L84.6,473L85.6,469.4L85.2,467.3L76.5,456.2L74.6,455.3L72.8,456.3L63.8,469.6L63.6,471.8ZM94.3,462.4L92.9,463L87.4,467.8L86.5,469.1L85.2,473.8L85.6,476.1L90.4,482.5L91.9,483.5L93.8,483.2L105.9,476.4L107.1,475.1L107.2,473.4L104.6,463.5L103.5,462L101.7,461.6ZM106,460.3L105.5,462.4L108.5,473.7L110,475.3L113.8,476.6L116.1,476.2L121,472.1L121.9,470L121.6,467.3L120.8,465.9L111.7,457.4L110,456.8L108.3,457.6ZM139.9,465.7L140.2,464.2L139.4,463L132.9,457.9L131.5,457.5L130.2,458.1L123.5,465.5L123,467.1L123.3,469.9L124.7,471.6L132.4,473.9L133.6,473.9L133.9,473.8L134.9,473ZM156.1,467L154.5,465L150.3,463.3L148.7,463.1L143.1,464.4L141.6,465.5L137.3,471.9L136.8,473.7L137.8,475.4L144.9,481L146.8,481.5L148.6,480.5L156,470.8L156.4,468.8ZM158.1,464.2L157.2,466.7L157.6,469.1L158.4,470.5L170.3,482.6L172.2,483.4L174,482.6L177,479.7L177.7,478.3L180.4,462.8L180.1,461L178.7,459.9L169.2,456.7L166.7,457.2ZM191.3,459.2L190.2,458L188.6,458L182.7,460.2L181.4,461.8L178.8,476.5L179.3,478.2L180.8,479L189.7,479.3L191.3,478.7L195.6,474.2L196.1,472ZM195.6,458.8L194.5,459.1L193.8,459.9L193.8,461.1L197.7,471.6L198.8,472.6L211.2,476.7L212.2,476.7L213.1,476.1L213.1,476L213.4,474.7L211,461.8L210.5,460.9L209.5,460.5ZM214.9,472.7L215.9,474.4L217.9,474.8L234.3,471.8L236.2,470.4L236.2,468.1L233.7,463.2L232.4,461.9L217.8,455.6L216.1,455.5L214.6,456.5L213.1,458.6L212.6,460.6ZM259.9,460.7L259.4,459.7L258.5,459.2L254.9,458.4L253.3,458.8L241.7,469.1L241.1,470.6L241.9,471.9L255.6,480.8L256.9,481.1L261.4,480.4L262.6,479.6L262.9,478.3ZM280.1,473.2L280.6,471.8L279.8,463.3L278.9,462L269.3,457.5L268.2,457.4L261.9,459.1L261,459.8L260.7,460.9L263.9,479.2L264.9,480.4L268.4,481.7L269.9,481.4ZM292.2,476.7L293.5,477L295.3,476.8L297.1,475.3L301.5,461.8L301.3,459.9L299.7,458.9L289.6,457.5L287.9,458.1L283.1,462.2L282.4,464.1L283,470.4L284.1,472.1ZM306.1,481.7L307.9,481.8L315.2,479.3L316.4,478.4L316.6,477L314.1,460.4L313.2,459L310.8,457.5L308.8,457.3L307.1,458.2L306,459.4L300.5,476.3L300.5,477.7L301.4,478.7ZM318.5,476.1L319.8,478L322.1,478.2L335.6,473.5L337.3,471.5L338.5,466.3L337.5,463.4L331.7,459.3L330,458.8L319,459.1L317,460.1L316.4,462.3ZM355.2,466.2L354.2,464.4L349.5,461.8L347.7,461.7L341.3,464.5L340.2,465.9L338.6,472.6L338.8,473.9L343,482.5L343.8,483.4L346.1,484.6L347.7,484.7L353.4,482.7L354.3,482L354.7,480.9ZM359.1,465.1L357.4,465.8L356.6,467.5L356.1,480.6L356.6,482.1L358,483L362.4,484.1L364.4,483.7L375.4,475.6L376.3,474.2L376.1,472.6L375,471.5L363.7,465.6L362.7,465.3ZM35.2,490.1L36.3,491.5L38,491.9L50.9,490.2L52.6,489.2L57.3,482.8L57.8,481.1L57.1,479.5L55.5,478.8L38.3,476.8L36.5,477.3L35.5,478.8L34.2,485.4L34.2,486.7ZM65.9,479.8L65.3,478.9L64.3,478.5L63.2,478.9L61.9,480L61.7,480.3L55.2,489.1L54.8,490.2L55.3,491.3L59.4,495.5L60.6,496L61.9,495.4L67.2,489.2L67.5,487.7ZM70.1,476.8L68.5,477.6L68.1,479.4L69.9,487.9L70.6,489.2L80.2,497.2L81.4,497.7L82.7,497.4L90.4,492.8L91.4,490.8L91.1,485.6L90.7,484.5L85,476.7L83.1,475.8ZM109.2,477.3L107.3,477.5L94.3,484.8L93.1,487L93.3,490.8L94.2,492.4L100.9,497.8L102.4,498.3L104,497.7L114.9,487.3L115.5,485.1L114.4,480.3L112.9,478.6ZM123.9,473L122.6,473.3L117.1,477.8L116.6,479.3L118,485.5L118.7,486.4L127.2,490.9L128.5,490.9L129.3,489.9L131.6,476.7L131.4,475.7L130.6,475.1ZM136.4,475.7L135.1,475.3L133.7,475.8L133,477L130.9,489.5L131.2,491L132.5,491.9L143.6,494.1L145.3,493.8L145.9,493.3L146.8,491.6L146.7,484.9L145.9,483.3ZM163.5,495.1L164.5,495L170,492.5L171,491.2L171.6,485.9L171.1,484.6L158.8,472.2L157.6,471.7L156.4,472.4L147.9,483.4L147.6,484.4L147.7,491.1L148.1,492.1L149.1,492.7ZM179.1,479.9L177.5,480.5L173.3,484.7L172.6,486L172.1,491.1L172.8,492.9L176.6,496.1L178.2,496.6L193.5,494.3L195,493.3L195.1,491.4L190.9,481.5L189.1,480.3ZM212.1,480.4L211.8,479.3L210.9,478.5L198.2,474.4L196.4,474.8L192.3,479L191.9,481L197.2,493.2L198.2,494.2L198.3,494.2L200.1,493.9L211.3,483.7L211.9,482.6ZM216.1,476L214.6,476.9L213.6,478.2L213.1,479.4L212.9,482.3L213.5,484.2L219.7,491.1L221,491.8L233,494.3L234.9,493.9L235.9,492.1L236.8,475.2L235.9,473.3L233.9,472.7ZM241.8,472.9L240,472.5L238.4,473.3L237.6,475L236.6,494.4L237.1,496L238.1,497.6L239.5,498.7L241.2,498.7L247.8,496.7L249.5,495.2L254.6,483.9L254.7,482L253.6,480.5ZM267.1,486L267,484.3L265.8,483.2L264,482.5L262.9,482.4L258.5,483L256.9,484.3L252.7,493.6L252.7,495.3L253.9,496.5L259.5,498.7L261.2,498.7L262.3,497.5ZM291.6,480.6L291.5,479.6L290.9,478.8L282.1,473.8L281.3,473.6L280.4,474L270.4,482.1L269.9,483.6L270,483.8L270.4,484.6L283.7,497.9L284.6,498.3L285.5,498.1L286,497.8L286.7,496.9ZM293.8,479.6L292.5,480.6L288,495.7L288.2,496.9L289.2,497.6L301.6,499.6L303.1,499L305.6,495.5L305.9,494.6L306.2,484.9L305.5,483.5L298.6,479.3L297.6,479.1ZM319.7,482.4L318.3,481.1L316.3,481L309.1,483.5L307.8,484.5L307.3,486.1L307.1,492.6L307.6,494.3L309.1,495.4L320.2,498.2L322.4,497.9L323.6,496.2L324.4,493L324.1,491.1ZM335.5,488.8L336.2,488.4L340.9,484.4L341.5,483.5L341.3,482.5L337.9,475.4L337,474.6L335.9,474.6L321.6,479.6L320.7,480.5L320.7,481.9L324.9,490.1L325.7,490.9L326.8,491ZM349.5,498.8L350.4,500.4L352.1,501L353.8,500.3L363.1,492L363.9,489.7L363.5,487L362.9,485.6L361.6,484.8L356.3,483.5L354.8,483.6L349.3,485.5L347.9,486.6L347.6,488.4ZM37.3,494.1L35.8,493.1L34,493.6L30.2,497.2L29.6,498.4L27.1,510.9L27.4,512.5L28.6,514.3L30.6,515.2L45,514L46.3,513.4L47,512.2L46.7,510.8ZM59.6,500.5L59.2,499.7L52.2,492.6L50.7,492.1L41.9,493.2L40.5,494.2L40.5,495.9L48.9,510.7L49.8,511.5L51,511.5L60.1,508.4L61.2,507.5L61.3,506.2ZM63.5,505.7L64.8,507.2L66.8,507.4L76.2,504.2L77.5,503.2L79,500.9L79.3,499.2L78.5,497.6L71.5,491.8L69.7,491.3L68,492.1L62.6,498.5L62.1,500.8ZM87.8,520.2L88.5,520.8L89.4,520.8L95.7,519.1L96.6,518.4L103.6,505.7L103.7,504.4L102.4,501.4L102,500.8L92.8,493.5L92,493.2L91.2,493.4L81.9,499L81.4,499.4L78.5,503.9L78.5,505.4ZM103.8,500.1L103.3,501L103.4,502L104.3,504.1L105.3,505.1L118.7,509.9L119.9,509.9L121.4,509.3L122.4,508.3L127.2,494.1L127.2,492.9L126.4,492.1L118.4,487.8L117.4,487.6L116.4,488.1ZM143.9,497L143.6,495.5L142.3,494.7L130.7,492.4L129.5,492.5L129.3,492.6L128.1,493.8L123.6,507.1L123.7,508.7L124.9,509.7L132,512.1L133.8,511.8L142.2,505.3L142.9,504ZM159.9,503.6L160.2,503L161.4,498.9L161.2,497.5L160,496.6L148.4,494.7L147,495L146.8,495.2L146.1,496.4L145.1,503.5L145.6,505L151.6,510.7L153,511.2L154.2,510.6ZM162.4,503L162.6,505.1L170.4,518.9L172.3,520.3L174.6,519.5L179.3,514.7L180,512.3L176.9,498.4L176,497L172.5,494L169.7,493.6L165.6,495.5L164.1,497.2ZM198.3,497.5L197.6,496.5L196.3,496.2L181.1,498.5L179.9,499.2L179.6,500.7L182,511.2L183.4,512.6L191.4,514.4L192.6,514.3L193.4,513.5L199.3,502.5L199.4,501.1ZM213.8,485.7L212.3,485L210.8,485.5L200.9,494.5L200.3,496.6L201.5,500.8L202.7,502.1L212.7,506.5L214.4,506.5L215.5,505.2L219.2,493.3L218.7,491.2ZM236.1,496.4L235.2,495.7L221.7,492.9L220.6,493.1L220,493.9L216.4,505.5L216.5,506.6L217.4,507.4L227,510.9L228.3,510.8L236.6,506.4L237.4,505.4L238.4,500.6L238.2,499.4ZM240.1,505.3L240.3,506.5L248,517.1L248.8,517.6L249,517.7L250.5,517.3L261.1,505.7L261.5,504.9L261.3,504.1L261.3,504L260.6,503.3L249.7,499.1L248.8,499.1L241.7,501.2L240.7,502.3ZM283.3,500.2L283.5,499.4L283.1,498.6L271.4,487L270.6,486.6L269.7,486.8L269.1,487.5L263.4,501.2L263.5,502.4L264.6,504.4L265.3,505L276.3,509.9L277.5,509.9L278.8,509.3L279.5,508.6ZM287.6,498.9L286.6,499.1L285.6,499.7L285,500.3L281.5,508L281.5,509L282.1,509.9L287.7,513.4L288.3,513.6L303,515.3L304.3,514.8L304.6,513.5L302.2,502.2L301.7,501.4L300.9,501ZM306.4,514.5L307,515.5L308.2,515.9L309.3,515.5L323.2,504.2L323.8,503.3L323.8,502.2L323.4,501L322.1,499.8L307.8,496.1L306.7,496.2L305.8,496.8L303.8,499.7L303.5,501.2ZM334.6,494.5L333.6,492.6L331.5,492.2L328.2,493L326.4,494.9L325.5,498.8L325.6,500.2L326,501.3L327.2,502.7L331.4,505L333.2,505.3L334.6,504.3L335.1,502.6ZM337.3,488.6L336.6,490.4L337.5,506.1L338.2,507.5L339.6,508.2L343.5,508.4L345.1,507.8L348.8,504.1L349.4,502.2L346.7,487.2L345.6,485.7L343.9,484.8L342.6,484.6L341.5,485.1ZM370,508.7L372.3,508.3L374.1,507L375.2,505.2L374.5,503.2L366.2,493.8L364.4,492.9L362.5,493.6L355.3,500L354.5,501.6L354.9,503.4L356.3,504.5ZM45.3,532.7L46.6,532.5L47.3,531.3L48.2,516.4L47.7,515.2L46.5,514.8L30.9,516.2L29.9,516.7L29.5,517.7L29.3,526.9L29.6,527.9L30.4,528.4ZM50.8,513.7L49.2,515.8L48.4,529.3L49,531.1L50.9,531.8L57.6,531.6L59.5,530.7L66.6,521.1L67,518.9L64.7,511.5L63.4,510.1L61.6,510ZM86.4,522.8L86.9,521.4L86.6,520L78.4,507L77.1,506L75.5,506L67.4,508.7L66.1,509.9L65.9,511.7L68.2,518.9L69.2,520.3L80.3,527L82,527.3L83.4,526.4ZM97.9,517.6L97.6,519.1L98.2,520.5L106.9,530.6L109.3,531.4L115.1,530.4L116.4,529.6L117.1,528.2L118.7,512.7L118.3,511.1L117,510.1L106.5,506.3L104.8,506.3L103.5,507.5ZM119.5,524.9L119.8,526.4L121,527.4L122.6,527.4L133.2,524.2L134.7,522.9L134.7,521L132.3,515.2L130.9,513.8L123.8,511.4L121.7,511.7L120.6,513.5ZM152.7,515.5L152.1,514.2L144.5,507L143.2,506.4L141.8,506.8L135,512.1L134.3,513.2L134.4,514.5L138.1,523.5L138.8,524.4L142.2,526.9L144,527.2L152.1,524.7L153.2,523.8L153.5,522.5ZM154.4,521.7L155.4,523.5L157.4,524L167.3,522.8L169.4,521.3L169.4,518.8L163.5,508.3L161.4,506.9L159,507.9L154.3,513.7L153.7,515.7ZM176,530.7L177.8,531.9L197.7,532.1L198.9,531.7L199.6,530.7L200.2,528.7L200,527L193.8,517.7L192.5,516.9L182.1,514.6L180.2,515.2L173.7,521.8L173.2,523.9ZM202.9,503.3L201.9,503.3L201.1,504L194.7,515.8L194.8,517.3L200.6,526L201.3,526.6L202.3,526.5L207.3,524.3L208.1,523.5L212.9,509.1L212.8,508.1L212.1,507.3ZM216,507.9L214.9,508L214.1,508.9L209.6,522.4L209.7,523.7L210.8,524.4L221.8,525.9L222.9,525.7L223.5,524.8L226.8,513.3L226.6,512.2L225.8,511.5ZM238.7,508.3L237.5,507.5L236,507.7L228.8,511.4L227.7,512.8L224.5,524.3L224.6,525.8L225.8,526.9L234,530L236.3,529.5L245.3,520.5L245.9,519.2L245.5,517.7ZM253.2,519.2L252.7,520.4L253.2,521.6L256.4,525.3L258,526L269.9,524.2L271.3,523L274.8,513L274.8,511.7L273.8,510.8L265.9,507.3L264.8,507.1L263.8,507.7ZM272.9,523.8L273.3,526.2L275.6,529.6L277.5,530.8L284.9,531.6L287,530.9L287.9,528.8L287.2,516.3L285.9,514.1L280.9,511L278.6,510.7L276.9,512.4ZM305.7,519.1L305.9,518.2L305.5,517.4L304.7,517L289.8,515.3L288.7,515.6L288.3,516.7L289,531.6L289.7,532.7L294.1,535.5L295.2,535.7L296.1,535ZM325.8,504.7L324.1,504.9L310,516.4L309.4,517.6L310.1,518.8L320.1,526.6L320.9,526.9L324.8,527.2L325.8,527L326.4,526.3L333.4,510.4L333.4,509.3L332.7,508.4ZM327.4,526.6L327.4,528L328.3,529L329.7,529L347.7,522.9L348.7,522L348.8,520.6L344.7,510.4L343.1,509.2L337.6,508.9L337.1,508.9L336,509.1L334.7,510.2ZM351.9,504L349.2,504.7L346.3,507.7L345.7,510.5L349.8,520.8L351,522.1L352.7,522.5L365.2,520.5L367.2,518.8L369.8,512.4L369.7,510.3L368.1,508.9ZM30,529.7L28,529.9L27.3,530.4L26.2,532.7L27.1,541.4L27.7,542.8L29.2,543.6L41.7,545L43.1,544.7L43.5,544.5L44.9,542.5L45.4,536.2L45,534.6L43.7,533.7ZM48.8,532.8L47.5,533.4L46.8,534.7L46,543.4L46.5,545L52.4,551.6L53.9,552.3L55.4,551.8L66.7,541.1L67.4,539.4L66.5,537.8L59.5,532.9L58.2,532.5ZM81.6,530.6L80.4,528.3L70,522L68.2,521.7L66.7,522.6L61.2,530L60.7,531.8L61.7,533.5L68.9,538.5L69.9,538.9L78,540.1L79.9,539.7L80.8,538ZM81.4,539.9L81.7,541.2L82.7,542.1L89.5,545.4L91,545.6L99.8,543.5L101.2,542.5L106.5,533.6L106.8,532.2L106.3,531L97.3,520.6L95.1,519.9L89.1,521.6L87.9,522.3L83,528.5L82.5,529.6ZM118.2,532.3L117.1,531.3L115.6,531.2L109.1,532.4L107.4,533.5L102.5,541.8L102.2,543.4L102.9,544.9L108.1,549.7L110.3,550.3L123.6,547.5L125.4,546.1L125.2,543.8ZM140.3,530.4L140.2,529L139.5,528L138.4,527.2L136.4,526.9L123.3,530.9L121.9,532.2L122.1,534.2L128.8,545.2L129.6,546L130.5,546.5L132.8,546.5L135.5,544.8L136.4,543.5ZM144.7,528.1L143,529.9L139.3,542.6L139.5,544.6L141.1,545.9L151.5,548.5L154,547.8L158.2,543.5L158.9,541L155,527.7L153.8,526.1L151.8,525.9ZM171.5,525.6L170.8,524.8L169.8,524.6L158.9,525.9L157.7,526.7L157.5,528.1L160.9,539.8L161.4,540.7L162.4,541L170.4,541.6L171.2,541.5L171.9,541.1L172.8,540L174.3,533.1L174.2,532.1ZM174.9,540.4L175.8,542.6L187.5,551.2L189.3,551.6L190.8,550.4L198.2,536.3L198.4,534.8L197.6,533.5L196.2,533L178.3,532.8L176.9,533.3L176.1,534.6ZM200.3,532.4L200.3,533L200.3,533.1L200.8,534L213,543.4L214,543.7L218.3,543.4L219.2,543L219.6,542.2L222.2,528.5L222,527.4L221,526.9L208.8,525.2L208.1,525.3L202.1,527.9L201.3,528.8ZM227,529L224.8,529.1L223.6,530.9L221.6,541.6L222.6,544.2L229.4,548.8L230.8,549.2L232.3,548.7L236.3,546L237.2,544.8L237.3,543.3L234.7,533.1L233.2,531.3ZM238.7,542.1L240.1,543.8L242.3,543.7L253.6,537.7L254.9,535.9L255.9,528.7L255.3,526.7L250.7,521.3L249.6,520.5L248.6,520.2L246.1,520.8L236.9,530L236.3,532.4ZM258,527.6L257.2,528L256.7,528.9L255.6,536.5L256,537.8L267.5,549.2L268.5,549.6L269.5,549.3L270.5,548.5L271,547.7L275.3,531.9L275.1,530.7L272.2,526.3L270.8,525.7ZM295.9,545.5L296.5,543.4L295.2,538.1L294.2,536.8L288.8,533.4L287.9,533.1L278.3,532L276.8,532.4L275.9,533.6L272.8,544.7L273.2,546.7L275.1,547.6L294.1,546.5L295.5,545.9ZM309.4,520.7L307.8,520.3L306.5,521.2L297.3,536.4L297.1,537.9L298.3,542.7L299.6,544.1L306.5,546L307.7,545.9L308.7,545.1L317.7,529.2L317.9,527.9L317.2,526.7ZM332.5,542.4L332.6,539.9L328.4,530.8L327.7,529.9L326.8,529L325.2,528.3L322.2,528.1L319.6,529.5L310.2,546L309.9,547.8L310.7,549.3L310.9,549.6L313.3,550.3L328.2,547.8L330.2,546.5ZM347.1,540.9L348.7,540.3L350.1,538.9L350.8,537.2L350.4,526L349.4,524.3L347.4,524L331.5,529.4L330.1,530.7L330.1,532.5L333.4,539.5L335.4,540.8ZM367.3,522.5L366.4,521.6L365.2,521.4L353,523.3L351.8,524L351.3,525.4L351.7,536.1L352.3,537.4L353.5,538.1L372.6,540.4L374,540L374.9,538.8L374.7,537.4ZM38.7,550.2L39.3,548.4L38.5,546.6L36.8,545.8L28.1,544.8L25.7,545.7L20.2,552.5L19.6,554.6L20.9,556.5L24.8,559L26.5,559.4L30.7,559L32.5,558ZM46.8,546.3L45.4,545.5L43.7,545.8L43.3,546L42.4,546.7L34.1,557.3L33.6,559.2L34.5,560.9L41.1,566.2L43.5,566.6L54.2,563L55.7,561.7L55.8,559.7L53.7,554.4L53.2,553.6ZM57.2,560.9L58.5,562.2L60.2,562.1L70.6,557.7L71.6,556.8L79.1,544.5L79.5,543.1L78.9,541.8L77.6,541.1L70.4,540L68.5,540.6L55.6,552.9L54.9,554L55,555.3ZM83.6,543.3L81.8,543.1L80.4,544.2L73.1,555.9L72.8,557.6L73.6,559.2L83.1,567.2L84.6,567.8L86.2,567.3L91,563.5L92,561.2L90.1,547.6L88.7,545.7ZM101.3,546.8L99,546.2L94.8,547.1L93.3,548.2L92.8,550L94.2,559.8L95.8,561.9L101.8,564.5L104.1,564.4L105.3,563.8L106.7,561.5L106.8,553.1L106,551.1ZM131.2,551.2L129.9,548.8L128.6,548L126.7,547.7L111.3,550.9L109.8,551.8L109.2,553.4L109,562L109.5,563.6L110.9,564.6L121.8,567.9L123.5,567.8L124.9,566.6L130.7,555.7L131.1,554.6ZM138.8,546.2L137.1,546.4L132.9,549L131.9,550.7L131.8,554L132.6,555.8L145.5,565.2L146.8,565.6L155.7,565.5L157.4,564.6L157.7,562.7L153.2,550.8L151.8,549.5ZM159.8,563.6L160.7,564.8L162.2,565.1L163.6,564.4L165.5,562.3L166.1,561.2L169.1,547.1L168.7,545.3L167,544.4L161.5,544L159.6,544.6L155.6,548.8L155.1,551.2ZM174.9,543.1L173.2,543L172.3,543.4L171.5,544.6L168.5,558.8L168.6,559.9L169.5,560.7L170.6,560.7L186.8,555L187.7,554.2L187.8,553.1L187.2,552.1ZM190.8,552.3L190.9,555.1L192.9,558.3L194.2,559.4L200.5,561.9L203.2,561.5L206.1,559.3L207,558.1L211.9,546.4L212,544.6L211,543.1L202.6,536.7L200.3,536.2L198.4,537.6ZM228.9,553.6L227.8,550.8L220.3,545.8L218.6,545.3L215.9,545.5L213.6,547.2L210.7,554L211,556.5L213.2,557.7L225.9,557.8L227.6,557.2L228.5,555.6ZM240.7,547L239.4,546.4L237.9,546.7L231.9,550.9L231,552.3L229.7,558.8L229.7,559.6L230,560.8L230.8,562.1L232.2,562.5L250.3,561.4L251.8,560.7L252.3,559.1L251.7,557.6ZM242.6,544.7L241.8,545.8L242.2,547.1L256.2,560.7L257.2,561.2L258.2,560.8L266.7,554.2L267.2,553.3L267.6,551.7L267.2,550.3L255.8,538.9L254.9,538.5L254,538.7ZM268.8,552.5L269.5,554.8L279.1,563.8L280.7,564.4L282.3,563.8L291.4,555.7L292.2,554.6L293.2,551.1L292.7,548.9L290.7,548L272.3,549.1L270.9,549.7L269.8,550.6L269,551.9ZM300,568.4L301.5,569.6L303.5,569.6L304.8,568.2L311,553.5L311.2,551.9L310.4,550.6L308.7,548.9L307.6,548.3L299.1,545.9L296.5,546.5L296.2,546.8L295.5,548L293.6,554.6L293.8,556.6ZM313.7,551.1L312.8,551.6L312.5,552.4L312.8,553.3L321.7,565.2L322.8,565.8L324,565.2L331.5,555.1L331.6,553.8L330,549.5L329.4,548.8L328.4,548.6ZM348.1,543.9L347.3,542.5L345.7,541.9L335.5,541.8L333.3,543.1L331,547.1L330.9,549.2L332.6,553.6L333.4,554.6L337.5,558.1L340.1,558.4L348.1,554.7L349.3,553.6L349.6,552ZM353.3,540.3L351,541.1L350.3,543.4L351.9,552.4L352.8,554L355.7,556.4L358.1,556.9L365.3,555.1L367.1,553.5L370.2,545.7L370,543.3L368,542ZM28.4,560.2L26.7,561.1L26,562.9L26.3,574L26.9,575.6L28.3,576.5L34.4,578.1L36.3,578L37.5,576.7L40.7,569.4L40.8,567.8L39.9,566.4L32.7,560.5L30.8,560ZM58.5,564.2L57.9,563.3L57.8,563.3L56.4,563.1L43.1,567.6L42.1,568.4L37.7,578.6L37.8,580L39.1,582.3L39.8,582.9L50.9,588.4L51.7,588.5L54.1,588.3L55.1,587.7L61.7,579.5L62,578.2ZM60.6,563L59.6,563.9L59.5,565.2L62.6,577.5L64.1,579L67,579.5L67.9,579.4L81.8,575.1L83.1,573.7L83.9,570.3L83.3,568.3L72.4,559L70.4,558.7ZM93.7,563.8L91.6,564.1L85.6,568.8L84.8,569.9L83.9,573.8L84.3,575.7L87.9,580L89.2,580.7L90.7,580.4L101.1,573.9L102.1,572.3L102.4,569.1L102.2,567.8L101.2,566.9ZM124.1,570.8L122.1,568.7L109.8,565L107.7,565.2L104.8,566.8L103.3,569L103,572.7L103.3,574.3L106.6,580.5L108.1,581.8L110.1,581.8L122.5,577.1L124.2,575.2L124.5,574.2L124.5,572.8ZM133.2,557.1L131.7,556.8L130.5,557.7L124.8,568.3L124.6,569.6L125.1,571.9L125.7,572.8L126.7,573.3L138,575L139.8,574.2L144.4,567.6L144.7,566.2L144,565ZM147.9,567.9L146.6,568.7L142.5,574.5L142.2,575.5L142.6,576.5L148.5,583.6L150,584.2L151.1,584.1L152.4,583.3L160.1,570.9L160.4,569.7L159.8,568.7L159,568.1L157.9,567.8ZM165.8,566.7L165.2,568.6L166.4,570.3L174.9,574.8L175.8,575.1L178.9,575.4L180.9,574.4L189.8,560.8L190.1,559L189,557.6L187.2,557.5L168.8,564L167.9,564.6ZM182.4,576.6L182.2,577.5L182.5,578.3L185.7,582.2L187.2,582.7L205.8,578L206.7,577.3L207.1,576.6L207.1,575.3L201.9,563.9L201.1,563.1L194.4,560.5L193.4,560.4L192.6,561ZM228.3,561.8L227.8,560.9L226.9,560.6L208,560.5L207.1,560.8L204.7,562.7L204.2,563.5L204.3,564.4L208.5,573.7L209.9,574.6L210.4,574.6L211.1,574.4L227.9,564.9L228.6,563.7L228.6,563.3L228.6,563ZM235,577L235,574.6L230.9,568L229.5,566.9L227.8,567.1L215.3,574.2L214.3,575.3L214.2,576.9L215.1,578.1L226.8,586.2L228.6,586.6L230.1,585.5ZM232,563.2L230.9,563.7L230.4,564.7L230.6,565.8L236,574.8L237.4,575.6L251.6,577L252.6,576.8L254.3,575.9L255.2,574.6L256.9,563.8L256.5,562.3L255.1,561.8ZM258.4,561.9L257.6,563.2L256,574L256.2,575.3L257.1,576.2L268.1,582.4L269.5,582.7L270.7,582L280.4,571.5L280.9,569.6L280.5,567.3L279.8,566.1L269,555.9L267.6,555.3L266.2,555.7ZM283.5,566.5L283,568.1L283.1,568.6L284,569.8L287.4,571.4L288.2,571.5L296,571.2L297,570.8L297.5,569.9L297.3,568.8L293.1,560.8L291.9,559.9L290.6,560.3ZM322.5,568.1L322,567L314.6,557.1L313.2,556.2L311.5,556.4L310.4,557.6L304.2,572.2L304.5,574.6L309.2,581.2L310.5,582.1L312.1,582L321.9,578.2L323.1,577.2L323.4,575.6ZM338.1,560.8L337.4,559.4L334,556.6L332.5,556.2L331.3,556.9L323.8,566.9L323.5,568.2L324.5,576L325,577.1L325.9,577.6L329.3,578.4L329.8,578.4L336.9,578L338.2,577.4L338.7,576.1ZM351.6,557.4L348.7,557L342,560L340.4,562.6L340.7,572L341.8,574.1L344.1,574.6L349.7,573.3L351.7,571.2L354.1,561.4L353.1,558.7ZM358.8,560.3L357.6,561.5L355,572.2L355.1,573.2L355.8,574L365.4,579.5L366.9,579.6L375.6,575.4L376.5,574.3L376.3,573L367.7,559.2L366.9,558.6L365.8,558.5ZM37.1,580.5L35.7,579.5L26.8,577.1L25.1,577.3L14.4,583.5L13.3,585L13.7,586.8L21,596.6L22.5,597.5L24.1,597.1L30.6,592.5L31,592.1L37.5,584.2L38,582.9L37.7,581.6ZM49.1,591.1L49.4,589.5L48.4,588.2L40.6,584.3L39.3,584.2L38.2,584.9L33.4,590.7L33,592.3L34,593.6L42,598L43.3,598.2L44.5,597.4ZM67.7,580.9L66.5,580.2L64,579.7L62.1,580.4L56.3,587.7L56.1,589.8L63.7,604.4L65,605.4L66.6,605.2L77.9,597.7L78.8,596.3L78.4,594.8ZM88.7,582.6L88.3,581.9L83.7,576.4L81.8,575.9L70.7,579.4L69.5,580.6L69.8,582.2L80.1,595.5L81.4,596.2L87.9,596.3L89.1,595.9L90.2,594.9L90.9,593.1ZM103.1,576.8L101.9,575.8L100.3,576.1L91.2,581.7L90.4,582.6L90.3,583.8L92,591.9L92.7,593.1L93.9,593.5L101.5,593.8L102.7,593.4L103.5,592.4L106.3,584.1L106.2,582.5ZM123.2,597.4L124.9,596.7L126.5,595.2L127.3,592.7L124.4,580.5L123.1,578.8L121,578.7L109.2,583.2L107.6,584.7L104.9,592.9L104.8,594.4L105.7,595.7L107.2,597L108.8,597.6ZM127.8,574.4L125.5,575.2L124.8,577.6L128.2,591.9L129,593.4L130.6,594L135.7,594.3L137.4,593.8L145.3,588L146.3,586.2L145.7,584.1L139.7,576.8L138,575.9ZM160.9,596.6L162.2,597.4L163.7,597.1L169,593.6L169.8,592.5L173.8,578.8L173.7,577.4L172.8,576.4L164.6,572L163.1,571.8L161.9,572.7L154.3,584.8L154.4,587ZM171.3,591.2L171.4,592.5L172.6,593.2L184.7,594.8L186,594.4L186.5,593.1L185.6,584.2L185.2,583.3L181.3,578.6L180.2,578L176.5,577.7L175.5,578L174.8,578.8ZM187.6,593.6L188.5,595.2L190.1,595.8L203.9,595.9L205.7,595.1L206.4,593.3L206.3,582.1L205.3,580.2L203.2,579.7L188.8,583.3L187.3,584.3L186.9,586ZM207.6,578L207.4,578.9L207.5,595.1L207.8,596.1L208.7,596.8L212.4,598.3L213.9,598.2L227.4,591.9L228.4,590.2L228.5,589.7L227.7,588.2L211.4,576.8L210.4,576.5L209.5,576.5L207.8,577.5ZM251.2,580.1L250.8,578.3L249.3,577.5L237.9,576.3L235.8,577.4L229.7,588.1L229.4,589.1L229.4,590.7L230,592.2L236.2,598.5L237.8,599.1L245.3,598.5L246.5,598L247.2,596.9ZM256.1,576.5L254.7,576.5L253.1,577.3L252.4,578.3L247.8,597.7L248.4,599.2L255.2,604.2L256.1,604.5L257,604.2L271.5,593.6L272.1,592.9L272.1,591.9L269.5,584.5L268.9,583.7ZM283.1,572.2L281.7,572L280.4,572.7L271.2,582.8L270.7,585.1L273,591.9L274.1,593.2L276.9,594.7L278.1,595L286.7,594.7L288.4,593.9L288.9,592.1L287,575.2L285.7,573.4ZM309.3,584.1L309.1,582.6L303.1,574.3L302.5,573.8L302.1,573.6L301.4,573.5L289.5,574L288.4,574.5L288.1,575.7L290.1,593.7L290.5,594.5L291.2,595L296.1,596.3L297.4,596.1L307.2,588.9L307.7,588.3ZM324.9,578.4L323.6,578.5L311.5,583.2L310.2,584.5L309,587.6L309.4,589.9L320.8,602.6L322.4,603.3L324.1,602.7L327.4,599.3L328.1,597.8L328.9,581.3L328.4,579.8L327.1,578.9ZM338.6,580.5L337.6,579.3L336.2,578.9L332,579.2L330.4,579.9L329.7,581.5L329,595.7L329.8,597.6L331.7,598.2L341.1,597.3L342.5,596.6L342.7,596.4L343.3,593.8ZM340.8,577.7L339.5,578.7L339.4,580.2L344.4,594.1L345.6,595.2L355.9,598.8L357.1,598.8L358.1,598.1L362.9,591.7L363.2,591L365.1,583.6L365,582.4L364.2,581.5L353.3,575.2L351.9,575ZM25.3,598.6L24.4,599.9L24.6,601.4L25.7,602.5L36.2,607.3L38,607.4L39.2,606.2L41,602L41,600.4L40,599.1L32.5,595.1L30.1,595.2ZM62.8,610.1L63.7,608.9L63.9,607.6L63.8,606.7L55.1,590.1L54.5,589.5L53.6,589.3L52.2,589.5L51.2,590.1L44.2,599.6L44.1,599.9L40,609.6L40.1,610.9L40.3,611.2L41.2,611.9L50.4,614.1L51.3,614.1ZM68.3,615.1L69.8,616L85.6,618.5L87.5,617.9L88.3,616.1L88.3,599.4L87.6,597.8L86,597.1L81.2,597L79.9,597.4L65.8,606.6L64.8,608.3L64.7,609.1L65.1,610.9ZM107.2,599.4L106.5,597.6L104.1,595.6L102.8,595.1L92.5,594.8L91.1,595.3L89.9,596.3L89.1,597.9L89.1,614.4L90,616.1L91.9,616.3L105.1,611.3L106.4,609.5ZM124.1,600.6L123.4,599.1L121.8,598.5L110.3,598.6L108.7,599.2L108,600.7L107.3,610.1L107.8,611.7L112.7,618L114.3,618.9L116,618.4L124.1,611.6L125,609.7ZM125.7,597.3L125,599.2L125.9,609.7L126.9,611.5L133.5,615.8L135.2,616.2L136.7,615.2L142.2,607.3L142.3,604.7L137.2,596.3L135.3,595.2L129.4,594.8L127.6,595.5ZM161.4,599.7L161,598.5L153.5,587.4L151.6,586.5L149,586.8L147.9,587.2L138.9,593.9L138.1,595.1L138.4,596.6L143.4,604.8L144.7,605.8L156.7,608.4L158.2,608.1L160.4,606.8L161.4,605.1ZM163.1,598.5L162.2,600.2L162.2,605.1L163.3,606.9L172.1,611.8L173.3,612.1L174.4,611.6L185,602.8L185.7,601.8L186.7,598.4L186.5,596.7L185,595.8L170.8,593.9L169.4,594.2ZM187.4,601.5L187.8,602.9L196.3,612.4L197.7,612.9L197.9,612.8L199,612L204.7,599.7L204.8,598.8L204.3,597.9L203.4,597.6L189.7,597.6L188.8,597.9L188.3,598.6ZM209.4,598.3L208,598.3L206.9,599.2L200.9,612.1L200.8,613.4L201.6,614.5L208.9,619.2L210.6,619.4L211.8,618.2L215.2,607.4L215.1,606.2L213,600.4L211.9,599.3ZM216.4,599.4L215.6,600.2L215.6,601.3L216.9,604.9L217.9,605.8L229.5,610.2L230.5,610.2L231.3,609.6L231.4,609.6L231.6,609.1L234.5,600.9L234.2,599.3L229.4,594.5L228.6,594L227.6,594.1ZM255.9,606.3L255.1,605L247.6,599.5L246.4,599.2L238.2,599.8L236.5,601.1L234,608.2L234,609.6L235,610.6L249.7,616.4L251.5,616.2L255.5,613.3L256.3,611.6ZM261.7,616.5L263.5,616.9L275.8,612.5L276.7,611.8L277.1,610.7L277,596.9L276.1,595.2L273.9,594.1L271.9,594.2L257.3,604.8L256.5,606.5L257,611.9L257.7,613.1ZM277.9,610.8L278.8,612.9L285.7,619.4L287.7,620.1L289.7,619.2L296.8,611.6L297.5,609.4L296.6,599.4L296,597.9L294.6,597L290.2,595.7L289.3,595.6L280.6,595.9L278.7,596.8L277.9,598.7ZM321.6,612.3L322.4,611.6L322.6,610.6L321.9,605.8L321.5,604.9L308.8,590.8L307.8,590.3L306.7,590.6L298.2,596.8L297.6,598.2L298.6,609.6L299.5,610.9L310,616.3L311.3,616.3ZM325.4,613.1L326.6,613.4L335.7,612.2L337.2,611L340.6,600.7L340.6,599.5L339.8,598.6L338.7,598.3L329.3,599.3L328.2,599.8L323.5,604.5L322.9,606.1L323.6,611.2L324.4,612.4ZM345.3,596.3L343.7,596.6L342.8,597.5L342.4,598.2L338.2,611L338.2,612L338.9,612.9L347.8,618L348.8,618.1L349.7,617.7L358.2,609.8L358.6,608.3L357.2,601.1L356.1,599.9ZM365.9,593.5L364,593.2L362.3,594.3L358.8,599L358.3,601.2L359.6,607.6L361.2,609.5L366.6,612L368.7,612.1L380.9,607.4L382.4,606L382.6,604L381.3,602.4ZM32.8,625.6L34,624.3L38.9,613.9L39,611.7L37.5,610.2L24.9,604.4L23.1,604.2L21.6,605.2L12.4,616.5L11.9,618.8L13.2,620.7L25.8,627.9L28.5,628ZM50.2,632.1L51.2,630.5L50.5,616.5L50.1,615.5L49.2,614.9L41.9,613.2L40.7,613.3L39.9,614.1L35.3,624L35.2,625.2L36,626.1L46.9,632.9L48.6,633ZM67.9,617.5L67.4,615.4L65.1,612.3L63.8,611.4L62.1,611.4L53.3,614.5L51.9,615.5L51.5,617.2L52.1,629.5L52.7,631.1L54.2,632L60.5,633.4L62.1,633.2L63.3,632.2L65.6,628.9L66,627.8ZM70.4,616.9L69.3,617.2L68.7,618.1L67.1,627.1L67.3,628.1L68.1,628.7L84.4,634L85.4,633.9L86.2,633.2L89.2,625.3L89.2,624.3L88,620.5L86.9,619.5ZM90.5,617.7L89.1,619L89,620.8L89.7,623.1L91.5,624.8L109.3,629.6L111.4,629.3L112.1,628.8L113.2,626.9L113.6,621.7L113,619.9L107.7,613.1L106.4,612.2L104.8,612.3ZM133.1,627.9L134.3,627.1L135.4,625.8L135.7,623.6L134.4,619.5L133.5,618.3L127.1,614.1L125.7,613.7L124.3,614.2L116.4,620.8L115.6,622.4L115.3,625.5L115.7,626.9L116.8,627.9L123.2,630.3L124.7,630.4ZM137.8,623.5L138.5,624.4L139.6,624.8L149.3,625.1L150.4,624.7L151.1,623.8L156.2,611.5L156.1,609.8L154.8,608.8L145,606.7L143.9,606.8L143,607.5L136.4,616.9L136.2,618.7ZM159.7,635.8L160.8,636.3L161.9,636L175.6,624.7L176.1,623.9L176.1,623.1L173.2,613.7L172.5,612.8L162.7,607.3L161.1,607.4L158.3,609L157.7,609.8L151.6,624.6L151.8,626.1ZM175.1,611.9L174.3,613.1L174.3,614.6L176.8,622.8L178.2,624.3L184.4,627L185.8,627.2L185.9,627.2L187.5,626.2L194.7,616L195.2,614.4L194.6,612.9L187.4,604.9L185.7,604.1L183.9,604.7ZM197.8,614.7L196.1,615.7L189.8,624.6L189.4,626.8L190.8,628.5L200.4,633L203.1,632.6L210.8,626.4L211.6,625.1L211.5,623.5L211.2,622.6L210.2,621.4L200.2,615L198.4,614.6ZM212.8,624L214.3,625.5L216.3,626.1L218.1,626.1L228.4,621.7L230,619.6L230.5,614.6L230.1,613L228.9,612L218.7,608.2L216.7,608.3L215.4,609.8L212,620.5L212.1,622.2ZM234.8,611.4L232.7,611.6L231.5,613.4L230.8,619.8L231.8,621.9L237.1,625.9L239.2,626.3L243.9,624.9L245.2,624L248.2,619.9L248.5,617.8L247.1,616.3ZM265,632.4L265.9,631.2L265.9,629.8L262.3,618.5L261.6,617.4L258.2,614.5L256.7,613.9L255.3,614.4L251.3,617.2L250.8,617.7L246.7,623.5L246.3,625.1L246.9,626.5L256.4,636.1L257.9,636.8L259.4,636.4ZM285.8,623.8L286.6,622.4L286,620.9L278.1,613.5L276.2,613.1L264.6,617.2L263.6,618.2L263.4,619.6L266.9,630.3L268.2,631.5L272.5,632.6L274,632.3ZM290.3,621.3L289.8,622.6L290.3,623.9L296.1,630.8L298,631.5L306.9,629L307.9,628.4L308.3,627.3L309,619.3L308.8,618.2L308,617.4L299.8,613.2L298.6,613L297.5,613.6ZM318.6,637.3L320.1,637.9L321.7,637.4L327,632.8L327.8,630.7L325.5,615.2L324.5,613.7L324.3,613.5L322.1,613.3L312.5,617L311,619L310.2,628.4L310.9,630.3ZM328.2,614.2L327.1,614.9L326.8,616.2L328.9,630.3L329.4,631.3L330.4,631.8L333.6,632.2L334.8,631.9L347.6,622.6L348.3,621.3L348.3,620.5L347.4,619L337.5,613.4L336.4,613.1ZM367.6,614.2L366.5,612.9L360.6,610.3L359.5,610.1L358.5,610.6L349.8,618.8L349.2,620.1L349.2,621.7L349.5,622.9L357.2,634.5L358.5,635.4L360,635L369.6,627.7L370.3,625.7ZM46.6,636L46.6,634.4L45.6,633.1L35.3,626.7L32.8,626.6L28.7,628.9L27.5,631L27.5,635.8L28.4,637.6L37.7,645.7L39.3,646.3L40.8,645.8L43.3,644L44.1,642.9ZM62.6,636.1L60.7,634.4L52.7,632.6L51,632.8L49,633.9L47.7,635.2L45.6,641.2L45.7,643.1L47.1,644.4L54.8,647.2L56.3,647.3L57.6,646.5L62.7,640.4L63.2,638.1ZM63.5,633.5L63.2,635.3L64.2,638.5L65.1,639.7L75.7,646.8L77.6,647L83.9,644.8L84.9,644.1L85.3,642.9L85.5,636.8L85.1,635.6L84,634.8L68.1,629.6L66.7,629.6L65.7,630.4ZM86.8,643L87.6,644.6L92.8,648L94.7,648.1L105.1,642.6L105.9,641.5L108.5,633L108.4,631.6L107.3,630.7L92.1,626.6L90.8,626.7L89.9,627.7L87.2,634.9L87,635.5ZM123.8,646.2L124.5,644.7L123.6,633.7L122.5,632.2L114.4,629.1L112.8,629.3L111.3,630.3L110.7,631.2L107.5,641.8L107.5,642.8L108,643.6L116.1,650.2L117.1,650.5L118.2,650.2ZM135.5,632L134.1,630.5L132.1,630.3L126.4,631.9L124.9,633L124.4,634.8L125.2,643.9L126.9,646.2L132.5,648.3L134.9,648.1L138.2,646.2L139.3,644.7L139.3,642.9ZM136,628.4L135.7,630.3L140.5,643.7L141.9,645L146.1,646L147.8,645.7L157.8,638L158.6,636.6L158.1,635.1L151.2,626.7L149.7,625.9L139.2,625.6L137.6,626.4ZM170.9,650L171.8,650.6L172.8,650.6L181.7,647.2L182.7,645.9L184,629.4L183.8,628.4L183.1,627.8L177.8,625.5L176.2,625.7L163.4,636.3L162.9,637.2L163.1,638.3ZM189,628.7L186.5,628.8L185.2,630.9L184,645.3L184.4,646.9L185.6,648L187.9,648.9L189.2,649.1L199.7,647.7L201.5,646.7L202.1,644.9L201.6,636.2L200,633.9ZM206.7,650.9L207.7,651.5L209.1,651.9L211.3,651.5L221.2,643.6L222,642.4L221.9,640.9L217.2,628.4L215.7,626.9L214.3,626.5L212,626.9L203.5,633.8L202.6,635.8L203.2,646.6L203.9,648.1ZM233.8,643L234.7,642.5L235.1,641.6L236.3,628.8L235.7,627.4L230.7,623.6L229.1,623.4L220.6,627L219.7,627.9L219.7,629.1L224,640.6L225.2,641.6L233.1,643.1L233.7,643.1ZM252.8,642.6L253.8,641.6L254.7,639.6L254.9,638.5L254.4,637.5L245.2,628.2L243.4,627.7L241,628.4L240.1,629L239.7,630.1L238.6,641.8L239.5,643.6L243.2,645.7L244.9,645.8ZM273.2,635L271.7,633.7L268.1,632.7L266.2,633.1L258.9,638.3L258.2,639.1L256.6,642.3L256.4,643.6L257,644.9L264.6,653L266.1,653.7L267.7,653.2L276.4,646.4L277.3,645.1L277.1,643.6ZM293.9,643.4L295.2,641.5L295.9,634.5L295.4,632.7L289.1,625.1L287.5,624.2L285.8,624.7L275.4,632.2L274.4,633.5L274.6,635.1L278.8,644.5L279.9,645.7L283.5,647.4L285.6,647.4ZM296.1,641.6L296.9,643.5L305.3,649.7L306.5,650.2L307.7,649.8L318.4,642.5L319.3,641.1L319.3,640.8L318.7,638.9L310.2,631.1L308.2,630.7L298.2,633.4L297.2,634.1L296.7,635.2ZM339.3,652.4L340.7,652.1L341.7,651L343.5,646.5L343.2,644.1L334.8,634L333.3,633.2L329.8,632.7L327.9,633.3L321.1,639.2L320.4,640.6L320.3,641.2L320.8,643L327.1,650.8L328.7,651.6ZM356.8,638.6L357.7,637.4L357.7,637.4L357.4,636.4L349.6,624.5L348.6,623.9L347.4,624.1L336.5,632L335.9,633.1L336.2,634.2L344,643.5L344.8,644L345.8,643.9ZM358.5,637.9L358.8,639L361.3,642.3L362.6,642.9L402.2,641.2L403.2,640.8L403.6,639.9L403.4,638.9L402.6,638.2L371.8,627.8L370.4,628L359.1,636.5L358.5,637.6ZM21.6,661L24.2,661L35.9,654.7L37.3,652.7L37.8,649.3L36.9,646.8L29.1,640.1L27.3,639.4L25.4,640.2L12.7,652.5L11.9,654.8L13.4,656.9ZM45.4,644.8L43.2,645.1L40.5,647.1L39.6,648.7L38.9,653.1L39.7,655.3L44.3,659L45.6,659.5L54.6,660L56.5,659.3L57.1,657.4L56.2,650.2L54.7,648.3ZM57.6,647.8L57.1,649.4L58.4,659.8L59.1,661.1L62.5,663.9L63.7,664.3L64.9,664L68.9,661.3L69.6,660.6L75.2,649.6L75.4,648.1L74.5,647L65.7,641L64.3,640.7L63,641.4ZM87.2,667.7L88.7,667.8L90,666.9L94.6,661.4L95.1,659.3L93.5,651.2L92.4,649.7L86.6,645.8L84.4,645.5L77.8,647.8L76.4,649.1L71.5,658.7L71.4,660.7L72.9,662.1ZM114.7,662.5L115.7,661.8L116.1,660.5L116,653L115.3,651.4L107.6,645.2L105.3,645L96.2,649.8L95.3,650.8L95.2,652.1L96.6,658.8L97.8,660.3L107.3,664.3L108.7,664.4ZM131.2,660.9L132.3,659.1L133.1,651.4L132.7,649.9L131.5,648.9L126.3,646.9L124,647.2L118.6,651L117.6,653L117.7,661.2L118.9,663.2L122.2,665.1L124.7,665ZM133.8,658.4L134.1,659.6L135.1,660.3L141.9,662.3L143.3,662.2L147.5,660L148.3,659.1L148.5,658L146.6,648.7L145.3,647.3L141.4,646.3L140,646.5L135.5,649.3L134.6,650.7ZM162.3,639.5L160.4,638.3L158.3,638.9L149.1,645.9L148.1,648.7L150,658.1L151.5,660.1L156.9,662.6L158.6,662.9L160.1,662.1L168.9,653.5L169.7,651.8L169.2,649.9ZM174,651.4L172.9,652.5L173,654L180.4,666.6L181.3,667.4L182.6,667.4L187.8,665.3L188.6,664.6L188.9,663.6L188.2,650.9L187.1,649.4L184,648.1L182.7,648.1ZM189.8,663L190.3,664.3L191.5,665L194.1,665.7L195.4,665.7L196.5,664.9L204.9,653.5L205.4,652L204.7,650.6L203.2,649.1L201.4,648.5L191.1,649.8L189.7,650.6L189.2,652.2ZM212.5,651.8L211.7,653.2L212,654.8L215,659.6L217,660.7L224.7,660.6L226.8,659.2L231.7,647.5L231.6,645.6L230,644.4L224.4,643.3L222.5,643.8ZM239,669.7L240.5,669.9L241.6,668.8L243.7,662L243.8,661.5L243.5,649.6L242.7,648.2L236.8,644.8L235.7,644.6L234.6,644.8L233.4,645.8L227.5,659.6L227.4,660.7L228,661.6ZM262.8,657.5L263.6,655.7L263,653.8L255.9,646.2L254.6,645.5L253,645.6L246.4,648.3L245.2,649.3L244.8,650.8L245,658L245.9,659.9L247.9,660.5L260.3,659.1L261.7,658.5ZM267.8,654.9L267.3,655.9L267.6,657L275,666.5L276.2,667.1L277.4,666.4L284.6,655.9L284.8,654.9L284.1,649.5L283.3,648.3L279.8,646.7L278.2,646.8ZM296.5,644.5L294.1,644.3L286.6,647.8L285.6,648.8L285.3,650.2L285.9,654.2L286.9,655.8L296,661.7L297.5,662.1L298.9,661.4L305.1,655L305.7,653.6L305.8,652.8L304.9,650.8ZM308.6,651.4L307.6,653.1L307.6,653.2L308.2,655L317.1,664.6L319.4,665.2L320.9,664.8L322.4,663.3L325.7,653.4L325.3,651.3L320.7,645.7L319.3,644.8L317.6,645.2ZM343.5,661.7L344.1,660.8L344,659.7L341.4,654.3L340,653.3L329.1,652.5L328,652.8L327.4,653.7L324,664L324,665.1L324.7,665.9L331.4,670L332.4,670.3L333.3,669.9ZM345,660L346.1,661.1L351.3,663.8L353.7,663.7L362.4,658.3L363.3,657.3L363.5,655.9L361.3,644L360.8,643L359.1,640.7L357.8,639.8L356.1,640L345.8,645L344.6,646.3L342.2,652L342.2,653.9ZM39.1,677.4L40.7,677.4L41.6,676.1L44.1,661.1L43.5,659.5L38.9,655.8L37,655.6L24.7,662.3L23.9,663.2L23.8,664.4L26,670.3L26.8,671.3ZM52,680.3L53.2,679.6L62.1,667.4L62.5,666.2L61.8,665.1L58.1,662.1L57.2,661.7L47,661.1L45.8,661.4L45.2,662.5L42.6,678L42.9,679.3L43.6,680.2L45.1,680.8ZM65,664.9L64.1,666.3L64.6,667.8L76.7,680.9L77.7,681.5L78.9,681.4L86.6,678L87.7,676.4L88.4,670.5L88.1,669.3L87.2,668.5L70.7,662.1L68.9,662.3ZM105.9,676.5L106.6,675.5L107.5,667.1L107.3,666.2L106.6,665.5L97,661.4L96,661.4L95.2,661.9L89.6,668.6L89.2,669.4L88.4,676.8L88.9,678.2L94.8,683.2L95.8,683.5L96.7,683.3ZM117.8,685.2L119.1,685.7L120.4,685.3L123.5,682.8L124.1,682L125.9,678.2L126,676.8L123.3,667.4L122.4,666.2L117.9,663.8L116.3,663.6L109.6,665.7L108.2,667.4L107.4,675.1L108.1,676.8ZM133.5,661.3L132.1,661.5L125.1,665.8L124.4,666.7L124.4,667.8L126.7,675.8L127.4,676.7L128.4,677L139.2,676.8L140.4,676.4L140.9,675.3L142,665.3L141.8,664.2L140.8,663.5ZM144.1,663.5L143.1,664.9L141.9,676L142.5,677.6L147.5,681.6L149.2,681.9L159.3,679L160.4,678.2L160.7,676.9L158.5,665.4L157.4,664.1L150.7,660.9L149,660.9ZM172.1,656.9L170.8,656L169.3,656.5L161.6,664.1L161.1,665.7L163.2,676.9L164,678.2L168.7,681L169.8,681.2L172.9,680.9L174.4,679.8L178.5,669.3L178.4,667.7ZM177.3,679.4L177.4,681.6L179.3,682.8L190.9,684.3L192.6,683.8L199,679.3L200,677.8L199.8,676.1L195.9,668.3L194.3,667L190.2,665.9L188.6,666L182.5,668.3L181,669.8ZM208.7,652.9L207.2,652.9L205.9,653.9L197.3,665.6L197,668.2L201.2,676.5L203.2,677.9L210.5,678.7L212.3,678.2L212.4,678.1L213.4,676.4L214.9,662.1L214.6,660.4L210.6,654.2L209.2,653ZM239.9,674.3L240.5,672.6L239.6,671.1L226.9,661.7L225.7,661.3L217.7,661.4L216.3,662L215.6,663.3L214.3,675.3L214.8,676.8L216.2,677.6L233.5,679.4L235.2,678.9ZM242.1,670.5L242.2,672.4L243.6,673.7L249.2,675.9L250.2,676L254.8,675.9L256.4,675.4L257.3,674L259.8,664.1L259.3,661.8L257.1,660.9L246.3,662.1L244.1,663.9ZM275.4,670L275,669L267.1,658.9L265.7,658.1L264.2,658.6L262.7,660L262.1,660.9L258.7,674.1L258.9,675.5L260,676.4L265.6,678.3L266.8,678.3L274.4,676.1L275.5,675.3L275.8,674.1ZM296.8,665.4L295.6,662.9L287.9,657.8L285.9,657.4L284.2,658.6L277.4,668.4L277,670.2L277.4,674.6L278.7,676.7L283.5,679.6L286.2,679.6L294.7,674.8L296,672.8ZM298.7,663.1L298.1,664.5L297.2,672.2L297.6,673.7L298.8,674.7L309,677.8L310.6,677.7L311.7,676.7L316.2,668.6L316.5,667.2L315.9,665.9L307.8,657.2L306.1,656.5L304.4,657.2ZM323.5,666.2L322.4,666.1L318.5,667.3L317.7,667.9L311.9,678.3L311.8,679.6L313.1,682.1L314.3,682.9L325,683.6L326.3,682.9L332,673.2L332.2,672.3L332.1,672.1L331.5,671.1ZM333.5,670.8L333,671.9L333.5,673.1L341.9,680.2L342.9,680.5L343.9,680.2L352.5,672.8L353,671.4L352.3,666L351.5,664.8L346,661.9L344.3,662.1ZM353.8,671.4L354.4,672.8L361.6,680.1L362.9,680.8L364.3,680.6L386.5,670.1L387.8,668.7L387.6,666.8L386.3,665.6L365.4,658.5L363.4,658.7L354.3,664.4L353.2,666.7ZM19.7,685.9L19.6,688L21,689.5L32.7,694.6L34.9,694.6L35.5,694.3L36.8,693.1L41.7,683.5L41.5,680.7L41.1,680.2L40.2,679.5L28.8,673.8L26.7,673.6L25.2,674.9ZM60.1,693.8L60.8,692.4L60.3,690.8L53.8,682.6L51.9,681.8L45.2,682.3L43.4,683.5L38.6,692.9L38.4,694.4L39.2,695.6L48.1,702.2L49.5,702.6L50.9,702.1ZM62.9,690.2L64.1,691L68.8,692.5L70.6,692.4L71.8,691.1L74.7,684.2L74.2,681.6L65.7,672.4L63.7,671.6L61.9,672.6L56.8,679.6L56.3,681.1L56.9,682.6ZM95.7,691.6L96.7,690.8L96.8,689.6L95.6,685.1L95,684.2L88.7,678.9L86.9,678.6L78.4,682.4L77.6,683.3L72.9,694.4L72.8,695.4L73.2,696.3L74.9,697.9L76.7,698.3ZM114.8,694.4L115.6,693.7L118.1,688L118.2,687.1L117.7,686.3L107.7,677.6L106.8,677.2L105.8,677.5L97,683.9L96.5,684.6L96.5,685.5L97.9,690.8L98.2,691.4L104.1,697.9L104.9,698.3L105.8,698.3ZM116.7,693.1L116.6,694.3L117.2,695.3L117.3,695.4L118.2,695.8L137.7,698.9L139.2,698.5L139.8,697.1L139.1,695.7L125.4,684.3L124.3,683.8L123.1,684.2L119.7,686.9L119.2,687.6ZM139.8,695.2L141.5,695.6L142.8,694.5L147.1,684.2L147.2,683L146.5,682L141.6,678.1L140.3,677.7L128.2,677.9L126.5,679L125.4,681.3L125.3,682.6L125.9,683.6ZM142.6,697.3L142.4,698L142.5,699.7L142.6,700.2L142.8,700.8L143.4,701.7L143.5,701.7L145.1,701.9L164.2,693.6L165.2,692.6L167.8,684.7L167.7,683.6L167,682.8L162.2,679.8L160.8,679.6L149.3,682.9L148.2,683.9ZM183.4,704.7L184.4,705.9L186,706L187.2,705L193.3,692.3L193.4,690.8L192,686.6L190.3,685.2L179.8,683.9L178.5,684.2L177.6,685.2L177.6,686.6ZM194.1,684.1L193.2,685.4L193.2,687L194.3,690.5L195.2,691.7L200.9,696.1L202.7,696.7L204.4,695.8L210.9,688.6L211.6,686.7L211.3,681.9L210.5,680.3L209,679.5L202.6,678.8L200.8,679.3ZM214.9,678.3L213,679L212.2,680.9L212.6,687.1L213.1,688.4L221.3,699.4L222.5,700.3L224,700.2L230.2,697.9L231.4,696.9L233.5,693.6L233.8,692.4L234,682.6L233.4,681L231.9,680.2ZM248,695L249.6,694.6L250.2,693.1L248.2,678.8L247.1,677.4L242.8,675.7L240.9,676.1L236.8,680.2L236.2,681.4L236,690.5L236.4,691.6L237.3,692.2ZM261,700.3L261.6,699.3L265.4,681.4L265.2,680L264.1,679.1L257.5,676.9L256.8,676.8L252.2,676.9L250.8,677.5L250.3,679.1L252.8,697.1L253.3,698.2L256.3,701.2L257.8,701.8L258.9,701.7L260,701.2ZM283.5,683.2L282.3,681.5L277.6,678.7L275.7,678.4L268.9,680.4L267.2,682.2L264.5,695.1L265.1,697.2L267.1,698L277.7,697.1L279.2,696.5L283.8,692.3L284.5,690.1ZM297.4,675.2L295.6,675.4L286.6,680.5L285.6,681.5L285.4,682.8L286.6,690.9L287.5,692.4L296.7,699.5L298.7,699.9L308.4,697.3L310,695.6L312.7,684.1L312.5,682.5L311.3,680.1L309.9,678.9ZM335,699.2L336.1,698.7L336.6,697.6L336.2,696.5L326.4,685L325.2,684.4L314.9,683.7L313.8,684L313.1,685L310.6,696.1L311.1,697.8L314.4,700.5L315.6,700.9ZM340.4,695.6L341.2,694.3L342.4,682.5L341.8,681.1L334.3,674.8L332.9,674.4L331.8,675.2L327.2,683.1L327,684L327.4,685L336.8,696L337.7,696.6L338.8,696.4ZM342.2,692.8L342.7,694.5L344.3,695.3L355.6,696.3L356.9,696L359.1,694.9L360.3,693.2L362,683.1L361.4,681.1L355,674.5L353.4,673.8L351.8,674.4L344,681.1L343.2,682.6ZM30.5,708.3L31,710.1L38.2,717.4L39.2,717.9L49.4,719.5L50.5,719.2L51.3,718.3L51.7,717.2L51.8,716.2L49.3,704.8L48.6,703.8L37.9,695.9L36.1,695.7L34.9,696.2L34,697.3ZM63.7,693.5L61.3,694L51.2,703.2L50.5,705.5L52.1,712.8L53.4,714.5L55.6,714.4L55.6,714.4L56.3,713.8L68.8,698.6L69.3,696.4L67.7,694.7ZM74.2,701.1L73.2,700L71.8,699.8L70.5,700.6L64.4,708L63.9,709.6L64.7,711.1L66.3,711.6L74.7,710.8L76.5,709.5L76.7,709L76.8,707.2ZM99.1,710.4L100.5,710.1L101.4,708.9L103.9,700.4L103.4,698.4L98.4,692.9L96.2,692.3L78.3,698.6L77,699.7L77,701.4L79.2,706.6L80.8,707.9ZM101.9,709.9L102,710.9L102.6,711.8L108.8,716.5L110.6,716.7L123.5,711.3L124.5,710.3L124.4,708.8L117.4,696.6L117,696.2L116.4,695.6L114.5,695.4L105.8,699.1L104.7,700.2ZM125.9,709.7L127,710.6L128.3,711L130.2,710.7L139.2,703.6L140,702.2L139.6,700.8L138.3,700L122.7,697.5L121.3,697.8L120.4,699L120.6,700.5ZM164.5,697.8L163.6,696.5L162.1,696.4L148.2,702.5L147.2,703.6L147.5,705L149.6,707.8L150.9,708.5L164,709.2L165.3,708.7L165.7,707.3ZM174.8,686.2L174.1,685.2L172.9,685L171.4,685.1L169.9,686.3L167.5,693.4L167.5,694.2L168.8,704.5L169.5,705.7L170.8,706.1L178.6,705.2L179.9,704.3L180.1,702.8ZM195.7,693.3L194.4,693L193.5,693.8L187.1,707.2L187.3,708.8L188.1,709.8L189.6,710.3L201.9,707.2L202.8,706.6L203,705.6L202.5,699.2L201.9,698.1ZM203.9,698L203.5,699.2L204.1,705.9L204.9,707.3L213.4,711.8L214.6,712L215.6,711.2L220.9,702.5L220.8,700.6L213.4,690.5L212.1,689.9L210.8,690.4ZM215.9,712.6L215.8,714L216.8,715L226.5,718.7L227.8,718.7L239.1,713.7L240,712.7L239.8,711.3L231.9,699.6L231,699L230,699L223,701.6L222.1,702.3ZM254.5,704L255.1,702.3L254.4,700.6L252.7,698.9L251.6,698.3L236.3,694.3L234.8,694.4L233.6,695.4L232.8,696.7L232.8,699.3L241.3,712L242.6,712.9L244.3,713.5L246.9,712.8ZM262.5,700.3L261.5,700.8L261.2,701L260.6,702.1L260.9,703.3L269.5,716.2L270.9,717L276.8,716.9L278,716.4L278.5,715.3L278.9,700.8L278.3,699.5L277,699.1ZM287.8,693.6L286.5,693.2L285.3,693.7L280.3,698.3L279.7,699.6L279.3,715.8L280.3,717.5L283.9,719.7L285.9,719.7L294.1,714.6L295,713.3L296.8,701.9L296.1,700.1ZM302.4,718L303.6,718.1L314.3,714.8L315.1,714.2L315.3,713.3L314.3,702.2L313.8,701.2L310.4,698.3L309.2,698L298.9,700.7L297.9,701.9L296.1,713.2L296.2,714.1L296.8,714.7ZM324.8,722.3L326.8,723L328.7,722.2L335.3,715.7L336.1,713.7L336,702.9L335.1,700.8L332.9,700.1L318,701.4L316.1,702.4L315.5,704.4L316.3,713.6L317.2,715.4ZM342.3,696.3L341.2,696.5L338.5,697.9L337.8,698.6L337.4,699.1L337.1,700.2L337.2,713.1L337.6,714.3L338.6,715L338.6,715L339.3,715.1L353.9,714.7L355.3,714L355.8,712.6L355.6,699.3L355.1,698L353.8,697.3ZM360.7,719.3L362.2,720.1L363.8,719.8L383.4,709L384.6,707.5L384.5,705.7L383.2,704.3L361.6,695.5L359.4,695.6L358.1,696.2L356.8,698.6L357,714.2L357.7,715.9ZM14.3,716.5L13.2,717.6L13.5,719.1L22.6,730.5L23.8,731.2L25.1,730.6L35,719.5L35.4,718.4L35,717.3L29.9,712.1L28.2,711.7ZM27.4,731.1L26.8,733L27.8,734.7L29.7,735.1L51.4,730.8L52.6,730.2L52.8,730L53.4,727.4L51.3,721.9L49.4,720.3L39.8,718.9L37.6,719.7ZM53.2,716.7L52.5,717.5L51.7,719.7L51.7,720.8L54.1,727.2L54.9,728L56,728.1L75.3,722.9L76.1,722.3L76.4,721.5L76.8,714.8L76.3,713.6L75.1,713.2L56.8,714.9L56.2,715.1ZM99.1,714.1L99.2,712.2L97.6,711.1L81.1,708.8L79.8,709.1L79,710L77.9,712.3L77.7,713.1L77.2,721.9L77.7,723.3L80.9,727.1L83.1,727.8L92.6,724.8L93.8,723.8ZM109.4,718.3L108.8,717.5L103.3,713.3L101.6,713L100.2,714L94.8,723.9L94.8,725.9L99.1,733.2L100.2,734.1L101.5,734.2L112.4,730.7L113.7,729.6L113.7,727.9ZM126.7,711.5L125.2,711.5L112,717L111,718.1L111,719.6L115.4,729.5L116,730.3L121.1,734L122.7,734.3L123.7,734.1L124.5,733.7L130.9,728.5L131.6,726.6L129.2,713.5L128,712ZM131.5,711.8L130.8,713.5L132.9,725.4L133.5,726.4L134.7,726.8L142.9,726.9L143.9,726.6L145.2,725.6L145.9,724.5L148.1,710.8L147.8,709.5L143.9,704.3L142.8,703.6L141.4,703.9ZM152.3,711.7L151.2,712.1L150.7,713L149.1,722.9L149.4,724L150.4,724.7L164.4,727.4L165.8,727L166.3,725.6L164.3,713.6L163.8,712.7L162.8,712.3ZM168.9,709.8L167.7,710.6L167.3,712L169.6,725.7L170.1,726.8L171.1,727.3L181.7,728.8L182.9,728.5L184.8,727.5L185.7,726L187,712.2L186.6,710.8L185.5,709.5L184.9,709.1L183.8,708.4L182.7,708.2ZM210.9,721.1L211.7,720.2L213.5,716.1L213.6,714.6L212.6,713.4L204.1,708.9L202.6,708.7L191.1,711.6L190.1,712.2L189.6,713.4L188.4,725.3L188.8,726.7L189.9,727.5L196.7,729.6L198.5,729.3ZM229.3,731.4L230.3,730L230.2,728.3L227.2,720.9L225.7,719.5L218,716.5L216.1,716.5L214.7,717.9L213.5,720.5L213.6,722.7L219.5,734.7L221.2,736L223.3,735.6ZM246,715.9L244.7,714.6L242.2,713.8L240.8,713.9L229.5,718.9L228.5,719.9L228.5,721.4L231.7,729.2L232.9,730.3L237.8,732L239.3,731.9L248,727.8L249,726.8L249,725.4ZM259.4,705.2L258.2,704.6L257,705.1L248.8,714.4L248.6,715.9L251.6,725.4L252.3,726.3L255.9,728.4L256.9,728.6L257.8,728.1L266.5,718L266.9,717.1L266.7,716.2ZM264.5,726L264,727.6L264.7,729.1L266.4,729.6L281.5,728.3L283,727.5L283.5,726L283.4,723.1L282.3,721.3L278.9,719.2L277.7,718.9L271.6,718.9L269.9,719.7ZM285.9,728.7L286.9,730.4L295.1,734.9L296.3,735.1L297.5,734.6L303.6,728.7L304.1,726.8L302.6,720.1L301.6,718.9L296.4,715.8L294.3,715.8L286.5,720.6L285.6,722.4ZM305.6,718.4L304.1,719.6L303.8,721.5L305,726.5L306.6,728.4L315.2,731.8L318,731.3L323.7,726.2L324.6,724.2L323.7,722.2L317.1,716.2L314.5,715.7ZM339.2,718.4L337.3,717.3L335.2,718.1L330.5,722.8L329.7,724.4L330.2,726.2L336.4,735L338,736L339.8,735.7L345.9,732.2L347.2,730.5L346.7,728.3ZM357.9,730.4L359.6,729.7L360.4,728.2L361.2,722.6L360.6,720.5L357.2,716.8L355.2,716L344.9,716.3L343.3,717L342.5,718.6L343,720.4L349.9,729.5L352,730.5ZM30.9,736L29.6,736.8L29.3,738.3L30.1,739.6L36.2,743.9L37.6,744.3L43.9,743.6L45.4,742.5L48.9,735.8L49.1,734.3L48.2,733.1L46.7,732.8ZM52.7,756.8L53.7,757.6L54.9,757.3L62.8,749.6L63.1,749.1L64.2,745.8L64,744.5L55.4,733.6L54.7,733.1L53.8,733.2L53.1,733.9L47.9,743.7L47.9,744.9ZM57,728.6L56.3,729.1L56,730L56.3,730.8L66.3,743.5L67.7,744L79.4,740.9L80.1,740.5L80.4,739.7L81.2,729.4L80.9,728.4L77.2,724L75.7,723.5ZM87.2,745.5L89.6,746L94.6,744.4L96.2,742.9L98.9,736.5L98.7,734.1L94.6,727.1L93.3,726L91.5,725.9L83.7,728.4L82.4,729.3L81.8,730.7L81.1,739.4L82.2,741.7ZM120.5,737L120.6,735.3L119.6,733.9L116.2,731.5L113.9,731.1L101.2,735.2L99.6,736.7L97.4,741.9L97.4,743.8L98.6,745.2L111.1,751.8L113.2,751.9L114.7,750.5ZM127,732.7L126.1,734.5L126.7,736.5L136,746.6L137.6,747.5L144.9,748.3L147.2,747.5L147.7,745.1L144,730.3L143.1,728.9L141.5,728.4L133.3,728.3L131.7,728.9ZM145.4,727.5L144.7,728.3L144.7,729.5L149.4,748.1L150.3,749.3L151.9,749.5L159.2,746.9L160.4,745.8L165.1,732.1L165,730.5L163.7,729.6L147.7,726.5L146.3,726.8ZM169.3,729.1L168.1,729.3L167.5,729.7L166.8,730.6L161.7,745.3L161.7,746.6L162.5,747.6L168.5,751.3L169.7,751.6L170.8,751.1L181.1,740.8L181.7,739.6L182,732.6L181.5,731.3L180.3,730.6ZM196.9,733.7L195.5,732.5L188.2,730.2L186.3,730.4L185.6,730.8L184.4,732.8L184.2,739.4L184.5,740.7L190.5,750.8L191.7,751.8L193.2,751.8L201.3,749.2L202.7,748L202.7,746ZM206.6,746.2L207.8,747.2L209.4,746.8L218.1,739.8L218.7,738.8L218.6,737.6L212.7,725.6L211.6,724.7L210.1,724.9L201,730.9L200.3,731.9L200.4,733.2ZM221.9,737.8L221.2,739.2L222,740.6L233.1,747.7L234.1,748L235.1,747.6L235.8,747L236.3,746L238,734.3L237.7,733.2L236.8,732.5L232.6,731.1L231.1,731.3ZM241.1,732.8L239.5,735L238.4,742.5L239,744.7L241.1,745.7L250,745.8L251.6,745.4L252.6,744.1L256.4,735.2L256.4,733.3L255.2,731.7L251.3,729.4L248.7,729.3ZM266.8,732.6L264.9,733.6L264.3,735.7L265.5,737.6L272.6,742.4L275.6,742.5L277.1,741.6L278.1,740.6L280.9,735.7L281.2,733.8L280.2,732.1L278.3,731.6ZM281.5,739.6L281.3,741.5L282.4,743L291.7,748.4L294.2,748.5L297.1,746.9L298.3,745.6L298.3,743.8L296,738L294.8,736.7L288.2,733L286.2,732.8L284.7,734ZM303.5,745.4L306,745.1L312.5,740.3L313.5,738.8L314.1,736.1L313.8,734.4L312.5,733.2L307,731L304.3,731.6L300.1,735.6L299.5,738.4L301.6,743.8L303.1,745.3ZM317.1,738.8L317.2,740L318,741L324.2,745.3L326.4,745.4L334.5,741.5L335.7,740.1L335.3,738.3L328.1,728L326.5,727.1L324.8,727.7L318.7,733.1L318,734.3ZM357.2,734L357,732.2L355.4,731.4L351,731.5L350.1,731.7L338.7,738.3L337.8,739.9L337.8,741.1L338.1,742.2L340,744.8L341.6,745.6L352,745.3L353,744.9L353.7,744ZM361.8,732.1L360.3,731.8L359.2,732.8L355.1,744.6L355.3,746.1L359.1,751.2L360.3,751.8L361.5,751.4L372,742.4L372.5,741.1L371.9,739.8ZM25.9,738.3L24.5,738L23.2,738.8L14.1,753L13.8,754.3L14.5,755.5L16.6,757.1L17.8,757.5L33,757.3L34.2,756.8L34.8,755.6L35.9,746.5L35.1,744.8ZM38.4,745.4L37.3,745.9L36.8,747L35.8,756.5L36.6,758.2L44.5,763.2L46.2,763.3L50,761.6L51,760.7L51,759.3L45.6,745.9L44.9,745L43.8,744.8ZM76,765.4L77.3,764.7L77.7,763.4L77.1,762.1L66.1,752.5L64.9,752L63.6,752.5L55.8,760.1L55.2,761.4L55.7,762.7L58.7,766.3L60.4,767ZM81.6,764.6L83,765.1L84.2,764.4L85.8,762.6L86.3,761.6L87.6,748L86.8,746.4L81.3,742.1L79.7,741.8L68.1,744.9L66.8,746.1L65.9,749.2L66.4,751.1ZM87.4,759.7L87.9,761.5L89.6,762.3L110.3,764.2L112.1,763.6L113.8,762.1L114.6,759.8L113.7,755L112.5,753.3L96.9,745.1L95,745L90.1,746.5L88.4,748.6ZM125.8,736.9L124.2,736L122.4,736.3L121.2,737.7L114.7,752.9L114.5,754.5L115.5,759.3L117.3,761.4L120,762.4L120.9,762.5L123.6,762.4L125.7,761.3L134.4,749.6L134.9,747.8L134.2,746.1ZM137.8,748.5L136.1,749.2L127.6,760.8L127.3,762.3L128.4,763.5L135.3,766.1L137.2,765.7L148.9,754.8L149.4,753.8L149.7,751.8L149.4,750.4L148.2,749.7ZM150.4,754.1L150.5,755.1L158.5,769L159.5,769.7L160.6,769.6L172.7,762.6L173.4,761.8L173.3,760.7L169.8,753.5L169.2,752.9L161,747.8L159.8,747.7L151.7,750.4L150.7,751.6ZM183.8,744.2L181.9,743L179.9,743.7L171.8,751.7L171.1,753.1L171.3,754.6L174.4,760.8L175.6,762L180.7,764.1L182.1,764.2L183.4,763.5L184.9,762L185.2,761.7L189.1,756L189.2,753.3ZM207,753.1L206.1,752.3L204.9,752.2L192.4,756.2L191.5,756.9L190.2,758.9L190,760.5L191.2,761.5L203.9,764.7L204.9,764.6L205.8,763.9L208.9,758.9L209,757.2ZM210.1,748.9L209.1,750.4L209.4,752.2L211.7,756.9L213,758.1L225.9,764.1L227.1,764.3L229.2,764.3L230.9,763.6L231.8,762L233.4,750.9L232.2,748.3L221.9,741.7L220.3,741.3L218.8,741.9ZM252.7,749L252,747.9L250.8,747.4L237.6,747.2L236.1,747.7L235.1,748.6L234.5,749.9L232.6,763.4L233.4,765.3L234.2,766L234.8,766.3L235,766.3L236.7,766.2L253,756.8L253.9,755.9L254,754.6ZM273.4,746.7L272.4,744.4L260.8,736.5L258.7,736.2L257.1,737.6L253.4,746.3L253.3,747.9L254.9,755L256.1,756.6L262,760L264.6,760L271.5,755.6L272.7,753.7ZM275.6,744.6L274.3,746.6L273.6,753.2L274.9,755.8L281.7,759.7L282.8,760.1L285.1,760.3L287.7,758.9L291.1,752.9L291.3,750.9L290.1,749.3L280.1,743.5L277.4,743.5ZM288.5,759.5L288.7,762.1L295.6,770.8L297.1,771.6L299,771.8L300.4,771.6L301.4,770.5L307.2,757.4L307.3,755.7L305.1,749.6L303.8,748.2L301.5,747.4L299.6,747.5L293.9,750.5L293,751.4ZM308.1,755.1L309.7,756.5L320.7,759L322.5,758.6L323.5,757.1L324.4,749.3L323.5,747.2L316.4,742.4L315.1,742L313.8,742.4L307,747.4L306.2,748.6L306.3,750ZM324,758.9L324.6,760.9L325.7,762.5L328.2,763.5L335.3,763L336.2,762.8L339,761.6L340.3,760.5L340.7,758.8L340.1,746.9L339.6,745.5L338.6,744.2L337,743.1L335.1,743.3L326.8,747.3L325.2,749.5ZM341.4,759.2L343,761.5L351.5,765.1L354.1,764.8L357.4,762.5L358.5,760.7L359.5,755.4L359,753.3L354.3,747.1L352,746L343.5,746.2L341.6,747.1L340.9,749.1ZM43.7,766.4L43.9,764.5L42.8,763L35.7,758.6L34.3,758.2L21.4,758.4L19.8,758.9L18.9,760.3L19.1,762L25.8,777L27.8,778.5L35.1,779.3L36.6,779L37.6,777.9ZM39.4,776.4L39.1,778.1L40.1,779.6L41.7,780.2L58.7,779.9L60.7,778.9L61.1,776.7L58.8,768.5L58.3,767.5L54.4,762.8L53,762L51.4,762.1L46.5,764.2L45.2,765.4ZM80.4,780.5L82.4,779.8L83.2,777.9L83.2,768.4L82.4,766.5L80.4,765.8L62.6,767.7L60.7,768.8L60.4,770.9L62.1,777.2L63,778.5L64.4,779.1ZM84.6,765.8L84.1,767L84.1,778.4L84.4,779.4L85.2,780L95.4,784L97.3,783.7L106.9,775L107.4,774.3L109.9,767.3L109.7,765.7L108.4,764.9L87.9,763.1L86.4,763.7ZM112.3,764.6L111.7,765.4L108.7,773.9L109.1,775.8L118.4,786.4L120.2,787L123.4,786.3L124.7,785.5L124.9,784L120.1,764.5L118.9,763.2L116.4,762.3L114.6,762.7ZM125.4,763.5L124.9,763.4L122.6,763.4L121.5,764L121.3,765.2L126.3,785.4L127.1,786.4L133.1,788.7L134.1,788.7L134.8,788.1L140.7,778.4L140.7,777L136.5,768L135.7,767.3ZM138.8,766.7L138.3,767.5L138.4,768.5L141.8,775.6L143.3,776.5L155.2,776.2L156.1,775.9L156.6,775.1L157.7,771.6L157.6,770.4L150.6,758.2L149.5,757.5L148.2,757.9ZM160.3,770.7L159.3,771.9L157.9,776.3L158.1,778.1L158.2,778.3L159.7,779.3L176.7,782.1L177.9,781.9L183.5,779.3L184.6,778.3L184.8,776.8L182.2,766.7L180.9,765.2L175.4,763L173.5,763.1ZM185.8,777.3L186.8,778.7L188.5,779.1L201.1,777.4L203.1,775.7L204.8,770.1L204.6,768.2L203,767L186.9,763L184.6,763.6L183.8,764.5L183.1,766.8ZM224.3,767L224.6,765.4L223.5,764.1L213.5,759.5L212.1,759.4L211,760.2L206.6,767.3L206.4,767.8L203.9,776.1L203.9,777.3L204.5,778.3L208.3,781.3L210.2,781.7L214.8,780.3L215.9,779.5ZM233.2,767.9L233.2,766.8L232.6,765.9L232.3,765.7L231.2,765.4L227.6,765.5L226.1,766.2L217.6,778.9L217.3,780.2L218.1,781.3L224.7,785.8L226.3,786L227.4,784.9ZM238.3,766.3L237.6,767.3L238,768.6L248.9,781L249.8,781.5L250.7,781.4L262.1,776.2L263,774.8L262.8,762.5L262.1,761.2L255.6,757.3L254.1,757.3ZM280.9,762.1L281,760.8L280.2,759.9L273.9,756.2L272.1,756.3L264.6,761L263.8,762.5L264,774.8L264.9,776.3L271,779.4L272.4,779.5L273.4,778.6ZM274.7,778.2L274.8,780.3L276.6,781.4L281.5,781.6L283,781.2L293.3,773.3L294.1,771.8L293.7,770.1L287.4,762.2L285.8,761.3L284.1,761.2L282.7,761.5L281.8,762.5ZM302,771.2L301.8,772.5L302.4,773.6L304.1,775.3L305.6,775.9L319.4,776L321.4,774.7L325.6,765.2L325.4,763.1L323.8,761L322.6,760.2L310.1,757.4L308.6,757.6L307.6,758.6ZM322.2,775.1L322.4,777.3L326.5,783.8L327.9,784.8L329.6,784.6L335.6,781.3L336.7,779.1L335.5,766.1L334.7,764.6L333.1,764.1L328.3,764.5L326.3,765.8ZM342,761.9L340.3,761.8L337.8,762.9L336.7,763.8L336.4,765.1L337.7,778.4L338.4,779.8L339.9,780.4L349.3,780L350.5,779.6L351.7,778.7L352.5,776.9L352.5,767.8L351.2,765.8ZM354.6,765.6L353.5,767.7L353.5,776.6L354.7,778.7L359.3,781.7L361.9,781.8L378.5,772.4L379.7,770.9L379.4,768.9L377.9,767.7L359.9,762.9L357.8,763.3ZM108.7,777L107.7,776.5L106.6,776.9L98.1,784.5L97.6,785.3L97.7,786.2L103.8,801L104.4,801.8L105.4,801.9L106.3,801.5L117.3,788.8L117.7,787.8L117.3,786.8ZM237.6,769.6L236.1,768.8L234.5,769.1L233.4,770.4L227.7,787.2L227.7,788.8L236.3,813.7L237.7,815.2L239.7,815.1L241,813.5L248.7,783.9L248.2,781.6ZM301.4,773.7L299.9,772.9L297,772.6L295.2,773.1L285,780.9L284,782.5L284.4,784.3L298,805.3L299.7,806.4L301.8,805.9L302.7,804L304.1,777.5L303.3,775.6Z" fill="#e9a2d9"/>
<g stroke="#f7eef6" fill="none" stroke-linecap="round"><path d="M151.2,535 C143.2,560 135.2,585 129.2,613" stroke-width="5.5"/><path d="M129.2,613 C127.2,625 129.2,635 133.2,645" stroke-width="3"/><path d="M143.2,563 C135.2,557 125.2,555 115.2,553" stroke-width="2.2"/><path d="M190.2,715 C210.2,705 225.2,710 245.2,715" stroke-width="3"/><path d="M300.2,525 C315.2,540 330.2,545 345.2,547" stroke-width="2.5"/></g>
</g>
<clipPath id="cE2"><rect x="362.8" y="465" width="301.9" height="302"/></clipPath>
<g clip-path="url(#cE2)"><rect x="362.8" y="465" width="301.9" height="302" fill="#e7a6da"/>
<path d="M360.2,684.1L364.2,678.4M360.2,684.1L364,691.3M364,691.3L372.4,692.6M372.4,692.6L369.8,679M369.8,679L364.2,678.4M603.2,766L604.1,766.6M603.2,766L602.5,760.6M604.1,766.6L616.6,765.2M616.6,765.2L615.8,759.5M615.8,759.5L607.8,754.3M602.5,760.6L607.8,754.3M513.2,723.3L504.7,734.6M513.2,723.3L518.2,725.1M518.2,725.1L517.9,735.4M504.7,734.6L516.9,736M516.9,736L517.9,735.4M549.2,762L550.1,752.6M549.2,762L562.7,764.4M550.1,752.6L560.3,752.5M560.3,752.5L564.6,756.2M562.7,764.4L564.6,756.2M563.1,766.1L559.4,772.2M563.1,766.1L562.7,764.4M549.2,762L546.6,765.3M530,766.3L531.4,766.8M530,766.3L529,756.3M531.4,766.8L539.6,763M539.6,763L538.9,755.4M538.9,755.4L529,756.3M362.3,697.9L371.4,703.8M365.2,711.4L371.3,704.8M371.3,704.8L371.4,703.8M360.2,684.1L358,684.8M364,691.3L362.3,697.9M358,684.8L350.6,688.9M420.4,724.3L411.4,716.7M420.4,724.3L427.4,716.4M427.4,716.4L429,711.1M421.8,708.5L429,711.1M421.8,708.5L411.3,716.2M411.3,716.2L411.4,716.7M434.6,725.2L427.4,716.4M434.6,725.2L428.7,731.3M420.4,724.3L420.7,728.3M420.7,728.3L428.7,731.3M440.5,724.1L434.6,725.2M440.5,724.1L443.5,731.4M428.7,731.3L430.4,734.2M430.4,734.2L437.9,735.5M443.5,731.4L437.9,735.5M668.8,722.8L679.3,718.3M668.8,722.8L666.8,711M666.8,711L670.2,705.9M572.6,770.1L575.3,774.6M572.6,770.1L576.2,762.8M576.2,762.8L587.1,763.6M587.1,763.6L587.5,765.3M587.5,765.3L581.8,774.5M603.2,766L595.4,769.6M602.5,760.6L595.8,756.7M595.8,756.7L588.2,758.6M587.1,763.6L588.2,758.6M587.5,765.3L595.4,769.6M515.6,602.7L520,600.7M515.6,602.7L517.4,612.7M528.7,611.2L527.8,603M528.7,611.2L520.4,615.1M517.4,612.7L520.4,615.1M527.8,603L520,600.7M524.4,585.5L530.9,581.8M524.4,585.5L524.1,586.4M530.9,581.8L538.8,583.6M538.8,583.6L539.3,586M524.1,586.4L534.3,596.6M539.3,586L534.3,596.6M527.8,603L534.4,599.5M520,600.7L521.2,589.8M524.1,586.4L521.2,589.8M534.3,596.6L534.4,599.5M360.4,578.1L351.1,581.8M360.4,578.1L360.1,571.9M496.5,614.9L497.4,619.1M496.5,614.9L505.3,609.1M497.4,619.1L509.8,622.6M505.3,609.1L511.1,616.8M511.1,616.8L509.8,622.6M515.6,602.7L509.1,601.8M509.1,601.8L505.3,609.1M517.4,612.7L511.1,616.8M358.1,635.9L357.6,641.3M598.9,715L607.1,712.6M598.9,715L592.3,709.2M607.1,712.6L607,701.2M592.3,709.2L594.1,699.8M607,701.2L597.6,697.9M597.6,697.9L594.1,699.8M621.4,707.6L610.4,715.4M621.4,707.6L621.8,704.9M610.4,715.4L607.1,712.6M614.3,697.3L621.8,704.9M614.3,697.3L607,701.2M611.5,718.2L610.4,715.4M611.5,718.2L611,719.1M598.9,715L596,724.8M611,719.1L596,724.8M588.9,711.1L586.9,720.6M588.9,711.1L592.3,709.2M586.9,720.6L595.1,726.6M596,724.8L595.1,726.6M568.1,721.4L573,731.9M568.1,721.4L578.5,720.1M578.5,720.1L579.5,721.5M579.5,721.5L577.4,731.4M573,731.9L577.4,731.4M588.9,711.1L582.4,709.8M586.9,720.6L579.5,721.5M578.5,720.1L577.1,713.8M577.1,713.8L582.4,709.8M564.2,719.2L568.1,721.4M564.2,719.2L565.6,714.3M565.6,714.3L572,711.1M577.1,713.8L572,711.1M589.2,698.1L579.5,697.4M589.2,698.1L594.1,699.8M582.4,709.8L579.5,697.4M589.2,698.1L588.5,686.7M580.2,685L578,696.5M580.2,685L588.5,686.7M579.5,697.4L578,696.5M531.4,728.9L526.9,738.6M531.4,728.9L530.8,725.3M518.2,725.1L524.3,723.2M526.9,738.6L517.9,735.4M530.8,725.3L524.3,723.2M563.1,766.1L572.6,770.1M573.4,746.7L565.7,755.8M573.4,746.7L578.6,746.7M578.6,746.7L582.8,751.1M582.8,751.1L574.5,758.8M565.7,755.8L574.5,758.8M576.2,762.8L574.5,758.8M583.9,751.4L588.2,758.6M583.9,751.4L582.8,751.1M564.6,756.2L565.7,755.8M564.2,719.2L556.6,724.6M565.6,714.3L557.6,705.1M557.6,705.1L551.6,713.1M556.6,724.6L554.5,722.8M551.6,713.1L554.5,722.8M556.6,724.6L557.2,729.9M573,731.9L564.4,736.4M557.2,729.9L564.4,736.4M560.3,752.5L561.4,742M573.4,746.7L564.4,736.8M561.4,742L564.4,736.8M581.6,734.8L577.4,731.4M581.6,734.8L578.6,746.7M564.4,736.4L564.4,736.8M503.7,735.1L502.5,739M503.7,735.1L504.7,734.6M516.9,736L515.4,742.3M502.5,739L508.3,747.1M515.4,742.3L508.3,747.1M528.5,744.8L523,746.5M528.5,744.8L528.5,744.9M528.5,744.9L528.6,755.6M523,746.5L516.6,752.3M528.6,755.6L517.8,757M517.8,757L516.6,752.3M526.9,738.6L528.5,744.8M515.4,742.3L523,746.5M508.3,747.1L508.4,747.8M508.4,747.8L516.6,752.3M524.8,646.1L523.2,657.3M524.8,646.1L520.6,640M523.2,657.3L521.2,658.8M520.6,640L510.6,649.6M510.6,649.6L514.8,656.6M521.2,658.8L514.8,656.6M499.5,658.3L508.8,660.3M499.5,658.3L503.1,645.7M510.6,649.6L503.1,645.7M514.8,656.6L508.8,660.3M360.6,543L355.8,538.1M360.6,543L360.6,546M370.1,539.2L360.6,543M370.1,539.2L374,541.5M374,541.5L368,551.8M360.6,546L368,551.8M358.5,730.9L359,724.3M358.5,730.9L365.3,738.2M365.3,738.2L371.5,731.9M371.5,731.9L370.2,721.9M359,724.3L367.9,720.5M367.9,720.5L370.2,721.9M365.2,711.4L367.9,720.5M371.3,704.8L380.4,712.5M375.8,720.1L380.4,712.5M375.8,720.1L370.2,721.9M360.7,670.5L351.6,670.6M360.7,670.5L361.4,668.4M361.4,668.4L356.8,655.5M360.7,670.5L364.2,678.4M358,684.8L349.5,675.3M396.6,722.6L400.4,713.4M396.6,722.6L388.5,717.5M388.5,717.5L386.5,711.5M398.6,709.9L400.4,713.4M398.6,709.9L386.7,711.2M386.7,711.2L386.5,711.5M411.3,716.2L411.2,716M411.4,716.7L405.4,724.9M405.4,724.9L396.7,722.8M396.7,722.8L396.6,722.6M411.2,716L400.4,713.4M375.8,720.1L383.4,725.3M383.4,725.3L388.5,717.5M380.4,712.5L386.5,711.5M411.2,716L409,700.3M409,700.3L401.5,701.1M401.5,701.1L398.6,709.9M402.3,762.6L405.4,765.6M402.3,762.6L399.9,754.9M415.8,755.7L410.2,764.7M415.8,755.7L408.1,750M408.1,750L399.9,754.9M405.4,765.6L410.2,764.7M408.1,745L399.9,739.8M408.1,745L415.9,738.9M407.7,731.1L415.7,733.5M407.7,731.1L401.2,735.7M401.2,735.7L399.9,739.8M415.7,733.5L415.9,738.9M408.1,750L408.1,745M399.9,754.9L396.5,753.1M396.5,753.1L396.3,741.7M396.3,741.7L399.9,739.8M421.8,751.4L420,754.8M421.8,751.4L419.6,742.5M420,754.8L415.8,755.7M419.6,742.5L415.9,738.9M405.4,724.9L407.7,731.1M420.7,728.3L415.7,733.5M396.7,722.8L394.5,727.5M394.5,727.5L401.2,735.7M419.6,742.5L429.1,739.7M429.1,739.7L430.4,734.2M420,754.8L427.3,764M410.2,764.7L416.6,770.3M416.6,770.3L427.3,764M393.1,754.1L396.5,753.1M393.1,754.1L388,764.1M402.3,762.6L392.4,765.3M388,764.1L392.4,765.3M393.1,754.1L382.1,748.5M378.5,753.6L382.1,748.5M378.5,753.6L378.6,764.1M388,764.1L383,766.2M378.6,764.1L383,766.2M384.9,730.4L375.2,732.7M384.9,730.4L386.5,731.6M386.5,731.6L388,739.5M375.2,732.7L380.2,744.4M388,739.5L382.2,745.7M380.2,744.4L382.2,745.7M383.4,725.3L384.9,730.4M371.5,731.9L375.2,732.7M394.5,727.5L386.5,731.6M396.3,741.7L388,739.5M365,740.8L380.2,744.4M365,740.8L365.3,738.2M382.1,748.5L382.2,745.7M365,740.8L363.8,742.8M378.5,753.6L366.9,750.5M363.8,742.8L366.9,750.5M363.8,742.8L358.2,744.3M365.6,765.2L370.7,767.2M365.6,765.2L365.1,754.7M370.7,767.2L378.6,764.1M365.1,754.7L366.9,750.5M663.7,482.6L660.9,473.3M668.8,469.1L660.9,473.3M662.7,496.2L658.4,492.3M658.4,492.3L660.1,486.5M660.1,486.5L663.7,482.6M655.7,463.8L657.5,470.9M657.5,470.9L660.9,473.3M531.4,766.8L537.7,777.2M539.6,763L546.6,765.3M416.7,771.8L416.6,770.3M416.7,771.8L426.2,777M427.3,764L429.5,764.8M429.5,764.8L430.6,774.3M537.3,461.4L542.9,464.1M655.6,536.8L647.5,547.8M655.6,536.8L663.8,542.2M647.5,547.8L657.5,551.1M663.8,542.2L662.2,548.6M657.5,551.1L662.2,548.6M659.9,763.9L651,760.6M645.6,764.4L651,760.6M595.4,769.6L595.1,778.9M604.1,766.6L606.1,773.5M619.6,768.1L619.1,771.1M619.6,768.1L616.6,765.2M619.1,771.1L612.1,775.6M619.1,771.1L623.6,780.2M647,728.2L655.1,734.3M647,728.2L646.1,728.1M646.1,728.1L638.4,734.4M638.4,734.4L638.6,740.2M655.1,734.3L647.5,744.7M647.5,744.7L639.2,741.5M639.2,741.5L638.6,740.2M641.5,715.2L646.1,728.1M641.5,715.2L631.4,721.2M638.4,734.4L633.3,729.5M631.4,721.2L633.3,729.5M621.4,707.6L626,716.4M626,716.4L626.3,718.9M611.5,718.2L619.8,722.2M626.3,718.9L619.8,722.2M647.6,744.8L660.1,746.1M647.6,744.8L648.3,749.7M648.3,749.7L651.7,754.9M651.7,754.9L656.1,753.8M656.1,753.8L660.1,746.1M519.8,580.1L520.4,573.1M519.8,580.1L508.6,581M509.7,569.3L520.4,573.1M509.7,569.3L508.9,569.5M508.9,569.5L508.6,581M476.4,606.2L482,601.3M476.4,606.2L479,612.8M491,610.7L487,613.1M491,610.7L490,604.7M479,612.8L487,613.1M482,601.3L490,604.7M509.1,601.8L508.8,601.4M521.2,589.8L512.3,588.2M512.3,588.2L508.8,601.4M524.4,585.5L519.8,580.1M508.6,581L507.6,582.5M512.3,588.2L507.6,582.5M509.7,569.3L517.6,559.9M517.6,559.9L506.9,554.1M508.9,569.5L501.7,565.9M506.9,554.1L501.7,565.9M572.4,528.4L561.2,523.3M572.4,528.4L571.4,530.6M571.4,530.6L562.9,538.8M561.2,523.3L553.5,529.2M562.9,538.8L556.6,537.4M556.6,537.4L553.2,530.2M553.5,529.2L553.2,530.2M575.8,525.9L577.7,518.8M575.8,525.9L572.4,528.4M577.7,518.8L576.7,517.6M559.8,515.3L560.8,514.4M559.8,515.3L561.2,523.3M576.7,517.6L560.8,514.4M559.8,515.3L548.3,514.9M548.3,514.9L553.5,529.2M565.1,543.8L574.8,548M565.1,543.8L562.9,538.8M574.8,548L577.1,547.7M571.4,530.6L574.8,537.3M574.8,537.3L577.1,547.7M565.1,543.8L559.5,555.9M574.8,548L567.1,559.5M567.1,559.5L562.4,561.2M562.4,561.2L561,560.2M559.5,555.9L561,560.2M550.3,543.5L556.6,537.4M550.3,543.5L548.1,548.3M559.5,555.9L548.1,548.3M549,590.4L545.8,590.8M549,590.4L552.8,580.4M538.8,583.6L543.7,577.8M539.3,586L545.8,590.8M543.7,577.8L552.8,580.4M545.8,590.8L544.2,599.4M534.4,599.5L538.8,601.6M544.2,599.4L538.8,601.6M557.5,595.5L555.7,601.1M557.5,595.5L549,590.4M555.7,601.1L554.3,602.1M544.2,599.4L554.3,602.1M532.8,615.6L528.7,611.2M532.8,615.6L541.8,612.2M538.8,601.6L541.8,612.2M608,644.8L608.8,639.8M608,644.8L602.6,646.9M608.8,639.8L602.5,633.4M602.6,646.9L593.1,641.9M593.1,641.9L592.9,637.8M592.9,637.8L602.5,633.4M574.8,537.3L586.7,539.9M577.1,547.7L582.4,549M586.7,539.9L585.3,547.6M585.3,547.6L582.4,549M608.8,639.8L617.4,633.3M606.2,622.7L613.1,624M606.2,622.7L602.6,627.6M602.5,633.4L602.6,627.6M613.1,624L617.4,633.3M557.5,595.5L562.9,590.5M552.8,580.4L556.4,579.9M556.4,579.9L561.2,585.1M561.2,585.1L562.9,590.5M555.7,601.1L564.3,606.9M564.3,606.9L572,602.6M562.9,590.5L571.6,592.8M572,602.6L571.6,592.8M608,644.8L615.3,651.8M615.3,651.8L622.6,643.9M617.4,633.3L622.6,634.7M622.6,643.9L622.6,634.7M618.3,618.9L613.1,624M618.3,618.9L629.3,624.5M629.3,624.5L625.6,633.4M625.6,633.4L622.6,634.7M360.4,578.1L362.1,579.2M366.1,592.1L362.1,579.2M371.6,570L378.2,568.2M371.6,570L366.7,567.4M378.2,568.2L379,557.6M366.7,567.4L365.3,559.5M379,557.6L369.3,556.2M365.3,559.5L369.3,556.2M360.1,571.9L366.7,567.4M362.1,579.2L369.6,577.5M369.6,577.5L371.6,570M368,551.8L369.3,556.2M376.1,582.9L369.6,577.5M376.1,582.9L379.8,578.3M378.2,568.2L379.7,569.7M379.8,578.3L379.7,569.7M374,541.5L375.1,541.6M375.1,541.6L384.1,549.2M379,557.6L382,555.2M382,555.2L384.1,549.2M379.7,569.7L390.5,570.4M390.5,570.4L392.8,563.4M382,555.2L392.8,563.4M511.8,721.2L499.3,722.7M511.8,721.2L510.7,710.9M510.7,710.9L500.4,714.6M499.3,722.7L500.4,714.6M503.7,735.1L496.7,725.8M496.7,725.8L499.3,722.7M513.2,723.3L511.8,721.2M490,696L480.8,704M490,696L494.6,698.8M480.8,704L481.9,711.4M494.6,710.5L496.3,701M494.6,710.5L488.9,714M488.9,714L481.9,711.4M494.6,698.8L496.3,701M510.8,710.7L505.1,702.8M510.8,710.7L510.7,710.9M494.6,710.5L500.4,714.6M496.3,701L505.1,702.8M490,696L488.9,692M475.2,688.1L479.1,686.5M475.2,688.1L473.7,701.2M473.7,701.2L480.8,704M488.9,692L479.1,686.5M464.2,670.7L471.8,665.3M464.2,670.7L460.1,661.8M460.1,661.8L474.1,655.8M471.8,665.3L474.1,655.8M361.4,668.4L372.1,662.2M362.4,650.6L365.4,650.6M372.1,662.2L372.5,657M365.4,650.6L372.5,657M369.8,679L378.9,677.1M372.1,662.2L379,669.3M378.9,677.1L379,669.3M386.3,655.1L385.4,663.9M386.3,655.1L378.5,654.3M378.5,654.3L372.5,657M379,669.3L385.4,663.9M371.4,703.8L376.7,696.8M386.7,711.2L386.7,705.8M386.7,705.8L376.7,696.8M399,699.2L392.1,698.9M399,699.2L401.5,701.1M386.7,705.8L392.1,698.9M372.4,692.6L376.8,696.2M376.8,696.2L376.7,696.8M421.8,708.5L416.6,700.5M409,700.3L409.5,700M409.5,700L416.6,700.5M448,667.4L444.2,660.9M448,667.4L459.4,661.3M444.2,660.9L454,654.1M454,654.1L457.8,657M459.4,661.3L457.8,657M580.2,685L579.5,683.1M588.5,686.7L594.7,684.7M579.5,683.1L586.2,675.3M586.2,675.3L595,679.3M595,679.3L594.7,684.7M597.6,697.9L598.3,689.9M594.7,684.7L598.3,689.9M614.3,697.3L614.5,696.7M629.9,690.2L625.5,689.1M629.9,690.2L631.7,701.9M631.7,701.9L621.8,704.9M614.5,696.7L625.5,689.1M598.3,689.9L609.6,684.3M614.5,696.7L609.6,684.3M602.4,673.6L610.4,680.9M602.4,673.6L595,679.3M609.6,684.3L610.4,680.9M586.2,675.3L585.9,673.5M585.9,673.5L594.2,661.5M602.4,673.6L602.4,672.7M602.4,672.7L594.2,661.5M602.6,646.9L597.6,657.9M593.1,641.9L591.5,643.7M591.5,643.7L589.3,657.4M589.3,657.4L594,660.2M597.6,657.9L594,660.2M625.5,689.1L620.3,678M610.4,680.9L617.2,678.3M620.3,678L617.2,678.3M634.7,687.5L633.7,680.6M634.7,687.5L643.5,688.3M633.7,680.6L640.2,672.6M643.5,688.3L646.3,686.7M646.3,686.7L646.2,680.4M646.2,680.4L640.2,672.6M629.9,690.2L634.7,687.5M624.5,673.4L620.3,678M624.5,673.4L633.7,680.6M629.3,667.4L639.7,670.3M629.3,667.4L626.1,668.8M639.7,670.3L640.2,672.6M624.5,673.4L626.1,668.8M569.2,677.9L569.3,676.6M569.2,677.9L579.5,683.1M585.9,673.5L580,669.1M569.3,676.6L580,669.1M586,657.1L589.3,657.4M586,657.1L579.2,665M594.2,661.5L594,660.2M579.2,665L580,669.1M533.3,682.6L539.5,676.6M533.3,682.6L525.2,680.2M523.1,668.8L523.6,678.3M523.1,668.8L537.9,670.3M537.9,670.3L539.5,676.6M523.6,678.3L525.2,680.2M539.1,666.1L534.5,657.6M539.1,666.1L537.9,670.3M534.5,657.6L523.2,657.3M521.3,666.3L521.2,658.8M521.3,666.3L523.1,668.8M539.1,666.1L547.8,663M547.8,663L553.3,673M553.3,673L552.5,677.3M552.5,677.3L548.5,679.3M548.5,679.3L539.5,676.6M550.9,734.3L551.1,743.5M550.9,734.3L543.6,734.6M541.8,735.6L539.6,745.1M541.8,735.6L543.6,734.6M551.1,743.5L547.1,749.7M539.6,745.1L543,748.8M547.1,749.7L543,748.8M557.2,729.9L550.9,734.3M561.4,742L551.1,743.5M554.5,722.8L543.6,723.2M543.6,723.2L543.6,734.6M531.4,728.9L541.8,735.6M528.5,744.9L539.6,745.1M530.8,725.3L536.9,719.5M543.6,723.2L536.9,719.5M550.1,752.6L547.1,749.7M538.9,755.4L543,748.8M529,756.3L528.6,755.6M510.6,623.8L521.7,623.6M510.6,623.8L508.3,634.2M508.3,634.2L520.3,637.5M525.2,626.3L523.2,634.1M525.2,626.3L521.7,623.6M523.2,634.1L520.3,637.5M520.4,615.1L521.7,623.6M509.8,622.6L510.6,623.8M532.8,615.6L530.8,624.3M530.8,624.3L525.2,626.3M483.8,620.7L473.7,624.3M483.8,620.7L491.7,627.1M485,635.6L474.8,627.7M485,635.6L485.1,635.6M473.7,624.3L474.8,627.7M485.1,635.6L491.7,627.1M491,610.7L496.5,614.9M497.4,619.1L494.8,625.5M487,613.1L483.8,620.7M494.8,625.5L491.7,627.1M500,644.9L493.3,638.9M500,644.9L502.9,645.4M502.9,645.4L507.2,634.8M493.3,638.9L500.6,631.5M507.2,634.8L500.6,631.5M520.6,640L520.3,637.5M503.1,645.7L502.9,645.4M508.3,634.2L507.2,634.8M485.1,635.6L493.3,638.9M494.8,625.5L500.6,631.5M499.5,658.3L494.7,661.7M494.7,661.7L494.9,662.5M494.9,662.5L505.6,669.4M508.8,660.3L507.6,666.9M505.6,669.4L507.6,666.9M521.3,666.3L517.7,668.3M507.6,666.9L517.7,668.3M564.3,606.9L564.3,614.8M554.3,602.1L550.8,611.4M564.3,614.8L558.6,617.9M558.6,617.9L558.5,617.9M558.5,617.9L550.8,611.4M530.8,624.3L533.4,625.6M533.4,625.6L544.8,621.7M541.8,612.2L544.3,613.5M544.8,621.7L544.3,613.5M544.3,613.5L550.8,611.4M403.2,771.7L398,774.8M416.7,771.8L412.4,781.7M405.4,765.6L403.2,771.7M392.4,765.3L398,774.8M383,766.2L384.4,770.6M439.5,758.5L443.9,754.1M439.5,758.5L428.7,749.4M443.9,754.1L445.1,749M445.1,749L439.1,744.5M439.1,744.5L431.6,744.4M428.7,749.4L431.6,744.4M439,759.7L445.9,771.3M439,759.7L439.5,758.5M445.9,771.3L454.9,763M454.9,763L453.6,759.5M453.6,759.5L443.9,754.1M421.8,751.4L428.7,749.4M439,759.7L429.5,764.8M443.5,731.4L449,733.7M437.9,735.5L439.1,744.5M449,733.7L451.5,743.6M451.5,743.6L445.1,749M429.1,739.7L431.6,744.4M358.2,744.3L354.1,752M365.6,765.2L357.4,766.8M365.1,754.7L354.9,754.7M370.6,770.8L375.5,784.3M370.6,770.8L360.5,782.7M370.7,767.2L370.6,770.8M384.4,770.6L375.5,784.3M644.2,534.4L653.7,532.8M644.2,534.4L640.7,526.9M640.7,526.9L654.5,524M653.7,532.8L656.2,525.9M656.2,525.9L654.5,524M640.9,539.8L642,544.4M640.9,539.8L644.2,534.4M655.6,536.8L653.7,532.8M647.5,547.8L644.8,548.1M644.8,548.1L642,544.4M640.9,539.8L632.9,537.1M632.9,537.1L634.3,526.5M634.3,526.5L637.8,524M637.8,524L640.7,526.9M663.1,524.9L656.2,525.9M663.8,542.2L669.7,538.5M666.7,519.7L656.4,512.6M665.7,506.2L656.1,508.8M656.4,512.6L656.1,508.8M663.1,524.9L666.7,519.7M653.5,521.8L654.5,524M653.5,521.8L656.4,512.6M662.7,496.2L665.7,506.2M637.8,524L638.1,520.3M653.5,521.8L642.7,515.5M642.7,515.5L638.1,520.3M634.3,526.5L626.3,526.8M626.3,526.8L628.3,515.2M638.1,520.3L628.3,515.2M618.5,517.3L622.8,513.8M618.5,517.3L618,522.9M626.3,526.8L622.5,528.7M622.8,513.8L628.1,515.1M622.5,528.7L618,522.9M628.3,515.2L628.1,515.1M655.7,463.8L650.7,462M650.7,462L644.3,450.8M658.4,492.3L653.7,494.6M656.1,508.8L653.8,507.6M653.7,494.6L653.8,507.6M642.7,515.5L643.4,509.4M653.8,507.6L643.4,509.4M638.2,481.9L643.1,484.6M638.2,481.9L636,475.9M641.6,470.4L650.7,475M641.6,470.4L636,475.9M643.1,484.6L649.1,480.9M649.1,480.9L650.7,475M642.1,468L650.7,462M642.1,468L641.6,470.4M657.5,470.9L650.7,475M660.1,486.5L649.1,480.9M653.7,494.6L645.9,493.6M645.9,493.6L643.1,484.6M669.7,538.5L679,545.2M668.1,554.2L662.2,548.6M445.9,771.3L446.3,775.3M486.9,731.8L478.2,723.6M486.9,731.8L493.1,725.5M493.1,725.5L490.6,721.9M490.6,721.9L478.9,722.2M478.9,722.2L478.2,723.6M496.7,725.8L493.1,725.5M488.9,714L490.6,721.9M479.1,714.3L481.9,711.4M479.1,714.3L478.9,722.2M445.4,488.9L446.4,488.9M445.4,488.9L440.3,484M451,478.3L446.4,488.9M451,478.3L442.7,472.5M440.3,484L439.9,473.1M442.7,472.5L439.9,473.1M603.1,546.1L599.2,537.5M603.1,546.1L603.2,546.9M603.2,546.9L592.7,551M586.7,539.9L586.7,539.7M592.7,551L585.3,547.6M586.7,539.7L599.2,537.5M575.8,525.9L585.7,533.2M586.7,539.7L585.7,533.2M539.5,518L538.1,526.6M539.5,518L546.2,513.7M546.2,513.7L548.3,514.9M553.2,530.2L542.7,530.4M538.1,526.6L542.7,530.4M550.3,543.5L542.4,535.3M542.4,535.3L542.7,530.4M536.2,543L530.7,531.4M536.2,543L542.4,535.3M538.1,526.6L530.7,530.5M530.7,530.5L530.7,531.4M576.7,517.6L573.8,507.7M560.8,514.4L562.7,505.9M573.8,507.7L562.7,505.9M584.3,516.5L577.7,518.8M584.3,516.5L588.5,507.8M588.5,507.8L577.3,500.2M573.8,507.7L577.3,500.2M546.2,511L551.7,501.4M546.2,511L546.2,513.7M553.7,501L551.7,501.4M553.7,501L562.5,505.4M562.5,505.4L562.7,505.9M645.3,621.9L640.7,613.9M645.3,621.9L638,627.3M633.1,616L639,613.3M633.1,616L629.9,624M629.9,624L638,627.3M639,613.3L640.7,613.9M668.1,554.2L668.1,558.1M636,557.8L641.2,558.2M636,557.8L626.2,560.8M639.5,570.3L641.6,558.9M639.5,570.3L628.1,572.8M641.2,558.2L641.6,558.9M626.2,560.8L624.5,569.8M628.1,572.8L624.5,569.8M630.9,547.6L636,557.8M630.9,547.6L642,544.4M644.8,548.1L641.2,558.2M609.8,567.3L611.3,557.5M609.8,567.3L621.7,570.7M621.7,570.7L624.5,569.8M611.3,557.5L622.7,556.3M622.7,556.3L626.2,560.8M662.5,698.7L657.2,701.2M662.5,698.7L661.2,689.3M661.2,689.3L657.6,687.6M657.2,701.2L652.3,699.6M652.3,699.6L651.5,688.3M657.6,687.6L651.5,688.3M666.8,711L655.8,711.5M655.8,711.5L657.2,701.2M642.7,695.6L647.9,702.4M642.7,695.6L634.3,703.5M635.2,705.1L634.3,703.5M635.2,705.1L643,712.1M647.9,702.4L645.4,711.3M643,712.1L645.4,711.3M643.5,688.3L642.7,695.6M646.3,686.7L651.5,688.3M652.3,699.6L647.9,702.4M631.7,701.9L634.3,703.5M626,716.4L635.2,705.1M641.5,715.2L643,712.1M631.4,721.2L626.3,718.9M653,713.2L645.4,711.3M653,713.2L655.8,711.5M655.5,721L647,728.2M655.5,721L653,713.2M646.2,680.4L652.9,674.4M657.6,687.6L659,675.3M652.9,674.4L659,675.3M661.3,673.7L659,675.3M664.6,652.6L669.7,657.4M669.7,657.4L667.2,663.2M661.3,673.7L661.6,667.4M667.2,663.2L661.6,667.4M639.9,758.2L643,762.8M639.9,758.2L632.2,753.8M643,762.8L631.5,768.2M630.6,754.4L632.2,753.8M630.6,754.4L627.8,765.1M627.8,765.1L631.5,768.2M645.6,764.4L643,762.8M651,760.6L651.7,754.9M648.3,749.7L639.9,758.2M647.5,744.7L647.6,744.8M639.2,741.5L632.2,753.8M619.6,768.1L627.8,765.1M615.8,759.5L622.8,750.8M622.8,750.8L630.6,754.4M595.3,727.8L605.2,732.1M595.3,727.8L589.6,734.5M605.2,732.1L601.6,745.3M589.6,734.5L593.3,743.8M593.3,743.8L598.5,745.9M598.5,745.9L601.6,745.3M611,719.1L606.1,731.9M595.1,726.6L595.3,727.8M606.1,731.9L605.2,732.1M581.6,734.8L589.6,734.5M583.9,751.4L593.3,743.8M595.8,756.7L598.5,745.9M607.8,754.3L607.8,748.9M607.8,748.9L601.6,745.3M619.3,728.1L625.8,732.2M619.3,728.1L613.5,734.4M625.8,732.2L623.6,740.3M613.5,734.4L618.2,743.8M623.6,740.3L618.4,743.8M618.4,743.8L618.2,743.8M633.3,729.5L625.8,732.2M619.8,722.2L619.3,728.1M606.1,731.9L613.5,734.4M638.6,740.2L623.6,740.3M607.8,748.9L618.2,743.8M622.8,750.8L618.4,743.8M662.1,762.9L670.9,766.2M662.1,762.9L662.3,756.9M662.3,756.9L667.7,749.1M667.7,749.1L676.7,755.6M659.9,763.9L662.1,762.9M656.1,753.8L662.3,756.9M660.1,746.1L664.4,744.7M666.3,745.5L664.4,744.7M666.3,745.5L667.7,749.1M656.1,734.2L660.9,737.5M656.1,734.2L661.1,724.5M660.9,737.5L670.7,728.1M661.1,724.5L668.5,723.6M668.5,723.6L670.7,728.1M655.1,734.3L656.1,734.2M664.4,744.7L660.9,737.5M655.5,721L661.1,724.5M668.8,722.8L668.5,723.6M504.3,598.7L501.4,588.1M504.3,598.7L493,600.8M501.4,588.1L491.6,592.3M493,600.8L491.6,592.3M507.6,582.5L502.4,584.5M502.4,584.5L501.4,588.1M508.8,601.4L504.3,598.7M490,604.7L493,600.8M438.7,658.3L444.2,660.9M438.7,658.3L441.8,649.3M452.9,651.4L454,654.1M452.9,651.4L447.2,646M441.8,649.3L447.2,646M548.1,548.3L545.3,549.4M536.2,543L535.8,549.1M545.3,549.4L535.8,549.1M527.5,546.4L534.4,550.1M527.5,546.4L525.6,540.5M525.6,540.5L530.7,531.4M535.8,549.1L534.4,550.1M606.2,622.7L602.6,615.4M602.6,615.4L587.2,623.8M602.6,627.6L587.8,625.9M587.2,623.8L587.8,625.9M592.9,637.8L586.9,631.1M587.8,625.9L586.9,631.1M558.5,617.9L553.1,628M544.8,621.7L550.6,628.6M553.1,628L550.6,628.6M567.1,559.5L577,561.4M582.4,549L580.5,559M577,561.4L580.5,559M603.2,546.9L606.5,548.7M592.7,551L593.2,553.9M606.5,548.7L608,553.2M608,553.2L599.3,561.1M599.3,561.1L593.2,553.9M580.5,559L588.4,565.5M593.2,553.9L588.4,565.5M602.9,612.2L604.5,600.9M602.9,612.2L614.6,610.4M604.5,600.9L608.5,597.3M608.5,597.3L611.9,599.8M611.9,599.8L614.6,610.4M618.3,618.9L619.2,612.2M629.3,624.5L629.9,624M633.1,616L622.9,609.6M622.9,609.6L619.2,612.2M602.6,615.4L602.6,612.6M602.6,612.6L602.9,612.2M619.2,612.2L614.6,610.4M596.4,598.7L593.7,591.4M596.4,598.7L589.2,606.1M589.2,606.1L585.7,603.9M585.7,603.9L584.1,593.8M584.1,593.8L589.7,590.6M589.7,590.6L593.7,591.4M600.8,586.7L609.1,593.2M600.8,586.7L593.7,591.4M604.5,600.9L596.4,598.7M608.5,597.3L609.1,593.2M602.6,612.6L590.2,608.3M590.2,608.3L589.2,606.1M576.7,606.6L585.7,603.9M576.7,606.6L572,602.6M571.6,592.8L575.4,590.6M575.4,590.6L584.1,593.8M625.6,633.4L628.7,635M638,627.3L639,632.6M639,632.6L628.7,635M376.1,590.8L368.6,592.9M376.1,590.8L382.4,594.1M368.6,592.9L368,602.9M382.4,594.1L385.3,600.9M385.3,600.9L374.2,607.2M368,602.9L374.2,607.2M366.1,592.1L368.6,592.9M376.1,582.9L376.1,590.8M357.9,604.6L361.1,608.6M361.1,608.6L360.9,611.4M360.9,611.4L360.7,611.7M359.2,619.8L360.7,611.7M368,602.9L361.1,608.6M373.1,614.7L374.2,607.2M373.1,614.7L360.9,611.4M358,513.5L361.2,525.5M362.5,506.5L351.2,503.7M362.5,506.5L358,513.5M370.1,539.2L367.5,527.2M367.5,527.2L365,525.4M365,525.4L361.2,525.5M440.5,724.1L442.3,719.7M432.6,709.2L429,711.1M432.6,709.2L439.5,711.3M442.3,719.7L439.5,711.3M442.3,719.7L453.6,720.6M439.5,711.3L443.4,708.9M443.4,708.9L453.9,712M453.9,712L453.6,720.6M449,733.7L457.7,725.1M453.6,720.6L457.7,725.1M494,684.4L493.7,676.5M494,684.4L507.8,687.5M493.7,676.5L505.9,675.2M505.9,675.2L509.1,678.1M509.1,687.2L507.8,687.5M509.1,687.2L509.9,679.9M509.9,679.9L509.1,678.1M494.6,698.8L507.8,687.5M488.9,692L494,684.4M505.6,669.4L505.9,675.2M517.7,668.3L509.1,678.1M505.1,702.8L511.1,693.5M511.1,693.5L509.9,688.2M509.9,688.2L509.1,687.2M520.4,687.8L509.9,688.2M520.4,687.8L525.2,680.2M523.6,678.3L509.9,679.9M492.1,672.7L480.6,668.3M492.1,672.7L492.7,675.4M492.7,675.4L479.8,679.5M479.7,669.1L480.6,668.3M479.7,669.1L477.2,675M477.2,675L479.8,679.5M494.9,662.5L492.1,672.7M493.7,676.5L492.7,675.4M479.1,686.5L479.8,679.5M464.1,674L477.2,675M464.1,674L464.2,670.7M471.8,665.3L479.7,669.1M464.1,674L463.6,674.7M475.2,688.1L470,687.1M470,687.1L463.6,674.7M473.4,647.9L484.1,637.7M473.4,647.9L475.9,653.9M475.9,653.9L483,657.3M484.1,637.7L489.8,650M489.8,650L486.9,656.8M486.9,656.8L483,657.3M460.1,661.8L459.4,661.3M474.1,655.8L475.9,653.9M469.2,645.8L457.8,657M469.2,645.8L473.4,647.9M480.6,668.3L483,657.3M485,635.6L484.1,637.7M500,644.9L489.8,650M494.7,661.7L486.9,656.8M479,612.8L471.6,621.7M473.7,624.3L471.7,622.1M471.6,621.7L471.7,622.1M476.4,606.2L470.8,606.1M470.8,606.1L465.3,610.3M471.6,621.7L465.3,610.3M454.4,614L465.1,610.2M454.4,614L457.2,621.9M471.7,622.1L463.1,625.1M465.3,610.3L465.1,610.2M457.2,621.9L463.1,625.1M467.8,644L462.1,643.4M467.8,644L467.8,637.6M467.8,637.6L460.3,631.7M462.1,643.4L453.6,637.8M460.3,631.7L454.9,634M453.6,637.8L454.9,634M469.2,645.8L467.8,644M452.9,651.4L462.1,643.4M474.8,627.7L467.8,637.6M463.1,625.1L460.3,631.7M447.2,646L447.8,641.8M447.8,641.8L453.6,637.8M451.1,627.9L454.9,634M451.1,627.9L457.2,621.9M447.8,641.8L439.7,634.3M443.5,625.2L439.7,634.3M443.5,625.2L451.1,627.9M387.8,603L385.3,600.9M387.8,603L387.7,603.3M373.1,614.7L374,616.3M387.7,603.3L379.7,616.3M374,616.3L379.7,616.3M462.4,692.7L459.2,690.1M462.4,692.7L470,687.1M463.6,674.7L455.3,678.8M455.3,678.8L459.2,690.1M447.8,668.5L453.9,678.7M447.8,668.5L448,667.4M455.3,678.8L453.9,678.7M447.8,668.5L437.6,673.1M437.6,673.1L436.7,678.1M436.7,678.1L446.5,683.3M453.9,678.7L446.5,683.3M624.5,667.4L612.1,666.6M624.5,667.4L618,655.2M615.8,653.9L618,655.2M615.8,653.9L610.7,659.3M610.7,659.3L610.5,665.6M610.5,665.6L612.1,666.6M617.2,678.3L612.1,666.6M626.1,668.8L624.5,667.4M615.3,651.8L615.8,653.9M597.6,657.9L610.7,659.3M602.4,672.7L610.5,665.6M506.6,764.6L506.1,772.6M506.6,764.6L516,762.2M516,762.2L523.8,768.7M523.8,768.7L522.5,772.3M503.1,756.3L508.4,747.8M503.1,756.3L504.9,762.8M517.8,757L516,762.2M504.9,762.8L506.6,764.6M530,766.3L523.8,768.7M503.1,756.3L497.5,754.2M502.5,739L491.3,743.7M491.3,743.7L497.5,754.2M485.5,736.1L489.2,743.4M485.5,736.1L486.9,731.8M491.3,743.7L489.2,743.4M451.5,743.6L456.4,744.3M461.3,752.9L453.6,759.5M461.3,752.9L459.2,747.3M459.2,747.3L456.4,744.3M569.2,677.9L566.6,679.8M578,696.5L576.3,697M566.6,679.8L567.2,690M567.2,690L576.3,697M572,711.1L571.9,701.1M576.3,697L571.9,701.1M533.3,699.9L538.5,711.6M533.3,699.9L528.5,697.3M537.7,713L538.5,711.6M537.7,713L522.2,710M528.5,697.3L527.1,697.6M527.1,697.6L521.8,701.6M521.8,701.6L519.8,707.3M519.8,707.3L522.2,710M551.6,713.1L541,710.8M536.9,719.5L537.7,713M541,710.8L538.5,711.6M524.3,723.2L522.2,710M520.4,687.8L527.1,697.6M533.5,685.5L533.3,682.6M533.5,685.5L528.5,697.3M511.1,693.5L521.8,701.6M510.8,710.7L519.8,707.3M635.1,504.2L639.1,503.6M635.1,504.2L630.3,502.5M633.3,492L640.6,499M633.3,492L627.2,498.4M640.6,499L639.1,503.6M627.2,498.4L630.3,502.5M628.1,515.1L635.1,504.2M643.4,509.4L639.1,503.6M621.8,508.2L622.8,513.8M621.8,508.2L630.3,502.5M632,488.1L638.2,481.9M632,488.1L633.3,492M645.9,493.6L640.6,499M625.9,545.7L623.2,550.1M625.9,545.7L625.2,539.4M623.2,550.1L610.9,546.3M610.9,546.3L617.4,536.8M625.2,539.4L621.3,535.9M617.4,536.8L621.3,535.9M630.9,547.6L625.9,545.7M622.7,556.3L623.2,550.1M632.9,537.1L625.2,539.4M611.3,557.5L608,553.2M606.5,548.7L610.9,546.3M603.1,546.1L610.2,533.3M610.2,533.3L617.4,536.8M622.5,528.7L621.3,535.9M642.1,468L637.4,461.5M637.4,461.5L642.7,451.2M635.6,475.7L632,462.1M635.6,475.7L636,475.9M637.4,461.5L632,462.1M485.5,736.1L471.8,735.4M489.2,743.4L485.7,747M471.8,735.4L472.5,744.9M472.5,744.9L473,745.6M473,745.6L485.7,747M461.3,752.9L467,757M467,757L472,753.1M472.5,744.9L459.2,747.3M473,745.6L472,753.1M504.9,762.8L492.7,765.4M492.7,765.4L491,775.1M497.5,754.2L488.4,760.2M492.7,765.4L488.4,760.2M454.9,763L457.4,764.5M467,757L467.2,763M457.4,764.5L467.2,763M457.4,764.5L457.6,775.9M398.5,531.4L389.8,526.7M398.5,531.4L397.1,537.3M389.2,540.7L397.1,537.3M389.2,540.7L384.7,530M389.8,526.7L384.7,530M367.5,527.2L378.6,526.8M369.4,516L365,525.4M369.4,516L379.5,517.7M378.6,526.8L379.5,517.7M375.1,541.6L382.7,529.8M378.6,526.8L382.7,529.8M384.1,549.2L387,547.6M389.2,540.7L387,547.6M382.7,529.8L384.7,530M423.8,498.1L432.3,489.4M423.8,498.1L417.3,493.8M417.3,493.8L416.8,492.8M416.8,492.8L420.1,485.3M420.1,485.3L426,480.7M426,480.7L431.7,487.2M431.7,487.2L432.3,489.4M445.4,488.9L436.8,493.9M440.3,484L431.7,487.2M436.8,493.9L432.3,489.4M632,488.1L622.7,487.6M635.6,475.7L625.3,474.6M625.3,474.6L621.6,485.5M622.7,487.6L621.6,485.5M627.2,498.4L621,495.1M622.7,487.6L621,495.1M591.8,464.6L589.8,470.1M589.8,470.1L583.7,469.6M579.3,464.6L583.7,469.6M571.6,465.2L564.3,457M571.6,465.2L575.7,463.6M575.7,463.6L575.9,454.4M600.4,531L592.2,528.9M600.4,531L605.1,527.5M605.2,527.1L605.1,527.5M605.2,527.1L603.5,520.8M603.5,520.8L598.1,518M592.2,528.9L591.1,519.8M598.1,518L591.1,519.8M585.7,533.2L592.2,528.9M599.2,537.5L600.4,531M610.2,533.3L605.1,527.5M618,522.9L605.2,527.1M609.5,513.1L618.5,517.3M609.5,513.1L603.5,520.8M584.3,516.5L591.1,519.8M558.4,469.4L556.4,462.3M558.4,469.4L553.6,473.8M542.9,464.1L543.4,472.9M553.6,473.8L543.4,472.9M539.5,518L532.5,514.6M546.2,511L537.9,503.1M532.5,514.6L530.2,503.2M537.9,503.1L530.2,503.2M532.5,514.6L522.4,518.3M522.4,518.3L521,517.6M521,517.6L517.7,506.5M530.2,503.2L526.2,499.8M526.2,499.8L517.7,506.5M517.7,547.5L519.3,559.3M517.7,547.5L513.6,544.6M517.6,559.9L519.3,559.3M506.9,554.1L506.2,551M506.2,551L513.6,544.6M668.8,601.5L666.9,604.6M667.7,613L666.9,604.6M667.5,591.7L680.8,593.8M667.5,591.7L666.5,593.1M666.5,593.1L668.8,601.5M668.3,581.5L678.1,583.3M668.3,581.5L670.2,571.2M668.1,581.7L668.3,581.5M668.1,581.7L667.5,591.7M668.1,581.7L656.8,580.6M666.5,593.1L656.2,594.3M656.8,580.6L652.7,584.9M652.7,584.9L653.8,592M653.8,592L656.2,594.3M666.9,604.6L656.4,601.7M656.2,594.3L656.4,601.7M660.1,563.3L660,567.4M660.1,563.3L656.1,558.4M656.1,558.4L647.6,561.2M647.6,561.2L652.6,570.7M660,567.4L655.1,571.7M655.1,571.7L652.6,570.7M668.1,558.1L660.1,563.3M657.5,551.1L656.1,558.4M641.6,558.9L647.6,561.2M642.7,573.8L652.6,570.7M642.7,573.8L639.5,570.3M656.8,580.6L655.1,571.7M652.7,584.9L642.8,582.5M642.8,582.5L642.7,573.8M664.6,652.6L663.5,652.3M663.5,652.3L656.6,657.8M661.6,667.4L656.2,664.2M656.6,657.8L656.2,664.2M652.9,674.4L649.5,666.5M656.2,664.2L649.5,666.5M639.7,670.3L645.1,664.8M645.1,664.8L649.5,666.5M482,601.3L478.6,593.3M491.6,592.3L491.4,592.1M491.4,592.1L478.6,593.3M502.4,584.5L494.6,578.7M494.6,578.7L488.7,583.4M491.4,592.1L488.7,583.4M441.8,649.3L434.6,645.5M439.7,634.3L435.1,635.5M434.6,645.5L435.1,635.5M443.5,625.2L443,623.5M443,623.5L427.9,623.7M427.9,623.7L430.8,634.2M430.8,634.2L435.1,635.5M443,623.5L443.6,619.2M454.4,614L451.9,613.2M443.6,619.2L451.9,613.2M460.1,600.1L465.1,610.2M460.1,600.1L448.6,603.3M451.9,613.2L448.6,603.3M426.1,604.3L427.4,600.6M426.1,604.3L427,606.6M427.9,600.2L427.4,600.6M427.9,600.2L440.9,605.4M440.9,605.4L436.5,612.2M427,606.6L436.5,612.2M427.9,623.7L426.8,622.5M443.6,619.2L436.7,612.9M426.8,622.5L436.7,612.9M440.9,605.4L446.2,601.3M446.2,601.3L448.6,603.3M436.7,612.9L436.5,612.2M523.1,560.4L524.9,570.1M523.1,560.4L532.6,555.3M532.6,555.3L539,567.2M539,567.2L529.4,572M529.4,572L524.9,570.1M520.4,573.1L524.9,570.1M519.3,559.3L523.1,560.4M517.7,547.5L527.5,546.4M534.4,550.1L532.6,555.3M530.9,581.8L529.4,572M553.6,562.7L546.7,560.9M553.6,562.7L550.2,569.1M546.7,560.9L539.1,567.2M550.2,569.1L542.7,572M542.7,572L539.1,567.2M561,560.2L553.6,562.7M545.3,549.4L546.7,560.9M563.6,568L558,574.8M563.6,568L562.4,561.2M558,574.8L550.2,569.1M539,567.2L539.1,567.2M543.7,577.8L542.7,572M556.4,579.9L558,574.8M362,495L350.5,498.1M362,495L361.1,484.7M361.1,484.7L349,485.3M368.7,467.8L362.7,477M368.7,467.8L368.9,465.3M368.9,465.3L361.1,459.1M359.5,474L362.7,477M359.5,474L357.5,461.1M374.6,474.1L368.7,467.8M374.6,474.1L373.3,481.8M373.3,481.8L369.9,483.2M369.9,483.2L363.7,482.4M363.7,482.4L362.7,477M376,462.8L368.9,465.3M361.1,484.7L363.7,482.4M590.2,608.3L585.5,618.9M576.7,606.6L576.2,611.7M585.5,618.9L576.2,611.7M587.2,623.8L585.9,622.1M585.5,618.9L585.9,622.1M564.3,614.8L570.1,617M576.2,611.7L570.1,617M591.5,643.7L582.7,644.2M586.9,631.1L583.8,633M583.8,633L582.7,644.2M561.6,632.9L563.3,635.6M561.6,632.9L565.6,626.1M563.3,635.6L572.1,636.8M565.6,626.1L572.4,623.2M572.1,636.8L573.7,634.9M573.7,634.9L572.5,623.3M572.4,623.2L572.5,623.3M558.6,617.9L565.6,626.1M553.1,628L561.6,632.9M570.1,617L572.4,623.2M585.9,622.1L572.5,623.3M583.8,633L573.7,634.9M553.3,673L561.1,665.1M552.5,677.3L561,680.4M569.3,676.6L566.5,666.4M566.6,679.8L561,680.4M561.1,665.1L566.5,666.4M579.2,665L570,662.7M570,662.7L566.5,666.4M547.8,663L549.9,660M549.9,660L554.6,658.2M561.1,665.1L555.9,658.2M554.6,658.2L555.9,658.2M536.1,639L540.2,635.8M536.1,639L534,644.4M540.2,635.8L545.3,636M545.3,636L549.1,643.4M548.4,645L549.1,643.4M548.4,645L542.1,651.5M534,644.4L538.4,652.2M538.4,652.2L542.1,651.5M533.4,625.6L540.2,635.8M523.2,634.1L536.1,639M524.8,646.1L534,644.4M550.6,628.6L545.3,636M563.3,635.6L558.4,644M558.4,644L549.1,643.4M549.9,660L542.1,651.5M554.6,658.2L548.4,645M534.5,657.6L538.4,652.2M561.2,585.1L569.8,577.8M575.4,590.6L577.5,580.8M577.5,580.8L569.8,577.8M563.6,568L566.4,569.9M577,561.4L576.9,569.5M576.9,569.5L566.4,569.9M566.4,569.9L569.8,577.8M609.8,567.3L606.2,569.7M599.3,561.1L599.6,566.2M599.6,566.2L606.2,569.7M621.7,570.7L615.2,582.5M615.2,582.5L605.3,576.3M606.2,569.7L605.3,576.3M600.8,586.7L600.7,580.7M609.1,593.2L611.3,591.4M615.2,582.5L615.6,584M611.3,591.4L615.6,584M605.3,576.3L600.7,580.7M656.6,657.8L647.7,655.1M645.1,664.8L644.5,659.6M644.5,659.6L647.7,655.1M392,580.3L393.2,579.4M392,580.3L388.3,588.4M393.2,579.4L402.3,586M388.3,588.4L402.7,593.6M402.3,586L404.9,592.9M404.9,592.9L402.7,593.6M379.8,578.3L392,580.3M390.5,570.4L393.7,576.8M393.7,576.8L393.2,579.4M382.4,594.1L388.3,588.4M393.7,576.8L405.2,571.4M406.1,580.4L405.9,571.7M406.1,580.4L402.3,586M405.9,571.7L405.2,571.4M387.8,603L388.9,602.9M388.9,602.9L402.7,593.6M388.9,602.9L397.4,607.4M408.2,594.5L409.1,600M408.2,594.5L404.9,592.9M409.1,600L397.4,607.4M405.9,491.2L416.8,492.8M405.9,491.2L401,499.6M401,499.6L401.9,504.4M401.9,504.4L408.7,508M417.3,493.8L412.4,504.4M412.4,504.4L408.7,508M408.2,594.5L408.5,594.3M406.1,580.4L417.4,582.4M417.4,582.4L408.5,594.3M426.1,604.3L412.5,606.1M427.4,600.6L419.5,594.9M412.5,606.1L409.1,600M408.5,594.3L419.5,594.9M427.9,600.2L430.4,596.3M419.5,594.9L423.3,586.9M430.4,596.3L423.3,586.9M445,597.1L437,592.5M445,597.1L446.2,601.3M430.4,596.3L437,592.5M460.1,600.1L463.4,591.2M445,597.1L452.3,589.3M452.3,589.3L463.4,591.2M369.4,516L368.4,505.7M362.5,506.5L366.9,504.9M368.4,505.7L366.9,504.9M362,495L365.5,499.8M366.9,504.9L365.5,499.8M369.9,483.2L372.5,491.5M365.5,499.8L372.5,491.5M409.2,557L400.8,560.4M409.2,557L408,546.4M408,546.4L400.9,546.6M400.4,560.3L396.8,550.1M400.4,560.3L400.8,560.4M396.8,550.1L400.9,546.6M405.9,571.7L411.1,571.3M405.2,571.4L400.8,560.4M411.1,571.3L416.9,559.6M416.9,559.6L409.2,557M392.8,563.4L400.4,560.3M387,547.6L396.8,550.1M397.1,537.3L399.4,539.9M399.4,539.9L400.9,546.6M459,707.6L466.3,717M459,707.6L459.8,702.9M469.9,702.2L470.4,714.1M469.9,702.2L462.6,700.7M470.4,714.1L466.3,717M462.6,700.7L459.8,702.9M473.7,701.2L469.9,702.2M479.1,714.3L470.4,714.1M462.4,692.7L462.6,700.7M365.4,650.6L372.8,640.8M378.5,654.3L376.9,643.3M372.8,640.8L376.9,643.3M387.7,603.3L391.6,620.5M379.7,616.3L388.6,623.8M391.6,620.5L388.6,623.8M402.1,615.5L397.4,607.4M402.1,615.5L398.3,618.8M391.6,620.5L398.3,618.8M363.1,623L372.1,621.4M363.1,623L363.7,633.6M372.1,621.4L375.1,628.4M375.1,628.4L371.6,635.5M363.7,633.6L371.6,635.5M359.2,619.8L363.1,623M374,616.3L372.1,621.4M358.1,635.9L363.7,633.6M388.6,623.8L388,626.4M388,626.4L375.1,628.4M372.8,640.8L371.9,636.1M371.9,636.1L371.6,635.5M386.3,655.1L389.1,652.9M389.1,652.9L398.1,655.9M385.4,663.9L393.4,668.1M398.1,655.9L395.4,667.1M393.4,668.1L395.4,667.1M432.6,709.2L432.2,698.9M416.6,700.5L425.4,692.4M432.2,698.9L425.4,692.4M451.2,692.6L446.3,684.9M451.2,692.6L449.7,699.6M447.5,700.3L449.7,699.6M447.5,700.3L440.4,694.8M446.3,684.9L440.8,691.9M440.4,694.8L440.8,691.9M459.2,690.1L451.2,692.6M446.5,683.3L446.3,684.9M459.8,702.9L449.7,699.6M443.4,708.9L447.5,700.3M453.9,712L459,707.6M432.2,698.9L440.4,694.8M436.1,678.4L436.7,678.1M436.1,678.4L433.5,686.3M433.5,686.3L440.8,691.9M433.5,686.3L425.4,692.1M425.4,692.4L425.4,692.1M465.6,734.5L471.7,735.3M465.6,734.5L458.2,725.2M471.7,735.3L474.4,725.7M474.4,725.7L465.7,719M465.7,719L458.2,725.2M471.8,735.4L471.7,735.3M456.4,744.3L465.6,734.5M457.7,725.1L458.2,725.2M478.2,723.6L474.4,725.7M466.3,717L465.7,719M557.6,705.1L557.7,701.8M571.9,701.1L558.3,701.2M557.7,701.8L558.3,701.2M567.2,690L559.7,694.5M558.3,701.2L559.7,694.5M561,680.4L557.8,690.5M557.8,690.5L559.7,694.5M548.5,679.3L548.7,687.5M557.8,690.5L548.7,687.5M642.8,582.5L640.8,583.8M628.1,572.8L629.1,577.7M629.1,577.7L640.8,583.8M626.4,461.3L627.1,460.6M632,462.1L627.1,460.6M599.8,461.2L608.4,470.7M609.7,469.9L608.4,470.7M609.7,469.9L612.8,459.2M622.8,471.1L609.7,469.9M622.8,471.1L626.4,461.3M625.3,474.6L622.8,471.1M472,753.1L476.6,754.9M485.7,747L484,754.7M476.6,754.9L484,754.7M488.4,760.2L486,759.4M484,754.7L486,759.4M467.2,763L471,768.4M476.6,754.9L476,765.9M471,768.4L476,765.9M486,759.4L481.2,764.7M476,765.9L481.2,764.7M481.2,764.7L487.5,774.9M537.3,461.4L529.3,461.5M532.1,475.5L528.9,461.8M532.1,475.5L542,474.7M543.4,472.9L542,474.7M529.3,461.5L528.9,461.8M393.7,510.6L385.6,503M393.7,510.6L392.5,516.4M392.5,516.4L392.3,516.6M392.3,516.6L381.5,515.4M381.5,515.4L377.7,504.2M385.6,503L378.8,503.3M377.7,504.2L378.8,503.3M391.3,495.4L385.6,503M391.3,495.4L401,499.6M401.9,504.4L393.7,510.6M410.6,512.9L408.7,508M410.6,512.9L410,514.3M401.1,519.7L410,514.3M401.1,519.7L392.5,516.4M389.8,526.7L392.3,516.6M379.5,517.7L381.5,515.4M368.4,505.7L377.7,504.2M372.5,491.5L378.6,494.8M378.6,494.8L378.8,503.3M621.6,485.5L613.8,483.8M608.4,470.7L608,471.4M613.8,483.8L608,471.4M621,495.1L617.4,498M606.2,491.1L613.8,483.8M606.2,491.1L605.3,493.5M605.3,493.5L617.4,498M609.5,513.1L608.8,509.2M621.8,508.2L617.1,503.3M608.8,509.2L617.1,503.3M617.1,503.3L617.4,498M595,489.9L585.9,494.1M595,489.9L602.5,495M585.9,494.1L592.7,505.1M602.5,495L600.3,502.9M600.3,502.9L597.2,504.9M597.2,504.9L592.7,505.1M605.3,493.5L602.5,495M608.8,509.2L600.3,502.9M598.1,518L597.2,504.9M588.5,507.8L592.7,505.1M577.3,500.2L577,494.9M585.9,494.1L580.6,493.1M577,494.9L580.6,493.1M591.8,464.6L599.8,461.2M575.7,463.6L579.3,464.6M525.6,540.5L517.3,536.3M530.7,530.5L526.2,528.6M526.2,528.6L517.3,536.3M522.4,518.3L524.8,526.3M526.2,528.6L524.8,526.3M513.6,544.6L513.1,537.5M517.3,536.3L513.1,537.5M521,517.6L513.6,520.8M524.8,526.3L513.9,528M513.6,520.8L513.9,528M513.1,537.5L511,535.5M513.9,528L511,535.5M546.2,486.8L543.7,483.3M546.2,486.8L543.8,493.4M543.7,483.3L530.2,486.2M543.8,493.4L543.6,493.4M543.6,493.4L529.5,491.8M530.2,486.2L529.5,491.8M528.3,479.2L532.1,475.5M528.3,479.2L530.2,486.2M542,474.7L543.7,483.3M551.7,501.4L543.8,493.4M537.9,503.1L543.6,493.4M526.3,495.5L526.2,499.8M526.3,495.5L529.5,491.8M490.9,486.1L500.8,474.5M490.9,486.1L485.1,484.6M500.8,474.5L494.7,471.1M494.7,471.1L485.6,477.3M485.6,477.3L485.1,484.6M482.7,494.8L479.3,496.5M482.7,494.8L482.2,486.6M468.9,486.4L468.1,491.5M468.9,486.4L474,485M468.1,491.5L468.1,491.5M474,485L482.2,486.6M468.1,491.5L479.3,496.5M482.7,494.8L487,498.2M490.9,486.1L495.6,491.8M485.1,484.6L482.2,486.6M495.6,491.8L487,498.2M506.2,551L497.2,547.4M506.2,534.1L511,535.5M506.2,534.1L498.8,538.7M498.8,538.7L497.2,547.4M667.9,618.6L666.4,614.8M667.9,618.6L662,630.6M666.4,614.8L658.2,615.3M658.2,615.3L652.1,624.6M662,630.6L652.1,624.6M667.7,613L666.4,614.8M664.1,634.6L671.5,635.8M664.1,634.6L662,630.6M656.4,601.7L652.1,607.6M652.1,607.6L658.2,615.3M651.1,624.9L645.3,621.9M651.1,624.9L652.1,624.6M640.7,613.9L651.5,607.6M651.5,607.6L652.1,607.6M446.5,560.6L452.2,565.1M446.5,560.6L443.8,551.4M455.4,559.1L452.2,565.1M455.4,559.1L453.8,547.5M443.8,551.4L453.8,547.5M458.3,571.9L452.4,566.6M458.3,571.9L465.8,570.6M455.4,559.1L466.7,557.8M452.4,566.6L452.2,565.1M466.7,557.8L468.3,560.1M465.8,570.6L468.3,560.1M411,612.3L408.8,615.2M411,612.3L423.8,616.4M408.8,615.2L412.6,625.6M425.6,622.1L423.8,616.4M425.6,622.1L414.7,627.4M414.7,627.4L412.6,625.6M412.5,606.1L411,612.3M402.1,615.5L408.8,615.2M427,606.6L423.8,616.4M398.3,618.8L402.7,628.4M402.7,628.4L412.6,625.6M426.8,622.5L425.6,622.1M415.2,632.7L421.2,639.7M415.2,632.7L414.7,627.4M421.2,639.7L430.8,634.2M561.2,648.6L560.1,653.1M561.2,648.6L574.8,648M560.1,653.1L570.4,658.8M570.4,658.8L576.1,649.6M574.8,648L576,649.2M576.1,649.6L576,649.2M558.4,644L561.2,648.6M555.9,658.2L560.1,653.1M572.1,636.8L574.8,648M570,662.7L570.4,658.8M586,657.1L576.1,649.6M582.7,644.2L576,649.2M577.6,580.7L579.6,572.3M577.6,580.7L588.1,581.7M579.6,572.3L589.6,569M588.1,581.7L591.9,577.4M591.9,577.4L589.6,569M589.6,569L589.6,569M577.5,580.8L577.6,580.7M576.9,569.5L579.6,572.3M589.7,590.6L588.1,581.7M588.4,565.5L589.6,569M600.7,580.7L591.9,577.4M599.6,566.2L589.6,569M634.9,643.2L639.6,644.1M634.9,643.2L629.1,647M639.6,644.1L635.5,655.9M629.1,647L628.9,653.6M628.9,653.6L632.9,656.7M632.9,656.7L635.5,655.9M622.6,643.9L629.1,647M628.7,635L634.9,643.2M618,655.2L628.9,653.6M629.3,667.4L632.9,656.7M644.5,659.6L635.5,655.9M641.5,643.4L648,650.6M641.5,643.4L644.4,637.7M647.3,636.2L644.4,637.7M647.3,636.2L657.9,640.9M648,650.6L658.1,646.3M657.9,640.9L658.1,646.3M647.7,655.1L648,650.6M639.6,644.1L641.5,643.4M639,632.6L644.4,637.7M651.1,624.9L647.3,636.2M664.1,634.6L657.9,640.9M663.5,652.3L658.1,646.3M437,592.5L436.8,587M449.9,583.1L452.3,589.3M449.9,583.1L442.6,580.1M442.6,580.1L436.8,587M385.8,635.5L387.5,643.1M385.8,635.5L388.2,626.8M388.2,626.8L398.9,633.8M393.3,641.9L399.8,636.8M393.3,641.9L388.5,644.1M398.9,633.8L399.8,636.8M388.5,644.1L387.5,643.1M371.9,636.1L385.8,635.5M376.9,643.3L387.5,643.1M388,626.4L388.2,626.8M402.7,628.4L398.9,633.8M404.1,639.4L405.7,644.5M404.1,639.4L399.8,636.8M403.1,651.2L405.7,644.5M403.1,651.2L393.3,641.9M389.1,652.9L388.5,644.1M398.1,655.9L402.4,654.7M402.4,654.7L403.1,651.2M415.2,632.7L404.1,639.4M399,699.2L398.6,689.7M409.5,700L409.9,688.2M398.6,689.7L409.9,688.2M420.9,685.3L425.4,692.1M420.9,685.3L410.3,687.4M410.3,687.4L409.9,688.2M390.6,677.6L396,681.4M390.6,677.6L380.6,678.4M380.6,678.4L382,691.5M395.8,685.6L396,681.4M395.8,685.6L386.5,692.4M382,691.5L386.5,692.4M393.4,668.1L390.6,677.6M395.4,667.1L401.1,669.4M401.1,669.4L402.2,678.7M402.2,678.7L396,681.4M378.9,677.1L380.6,678.4M376.8,696.2L382,691.5M398.6,689.7L395.8,685.6M402.2,678.7L406.1,679.4M406.1,679.4L410.3,687.4M392.1,698.9L386.5,692.4M434.6,645.5L427.1,649.1M421.2,639.7L420.8,645.4M420.8,645.4L427.1,649.1M405.7,644.5L419.7,646.2M420.8,645.4L419.7,646.2M546.9,701.3L543,696M546.9,701.3L557.5,701.8M557.5,701.8L547.5,689.7M543,696L543.8,692.6M543.8,692.6L547.5,689.7M541,710.8L546.9,701.3M533.3,699.9L543,696M557.7,701.8L557.5,701.8M548.7,687.5L547.5,689.7M533.5,685.5L543.8,692.6M611.3,591.4L622.8,595M615.6,584L625.2,586.5M625.2,586.5L622.8,595M629.1,577.7L625.6,586.4M625.2,586.5L625.6,586.4M611.9,599.8L624.9,601.7M622.8,595L624.9,601.7M622.9,609.6L624.9,601.8M624.9,601.8L624.9,601.7M470.8,770.4L477.7,779.5M470.8,770.4L461.7,776.5M471,768.4L470.8,770.4M528.9,461.8L522.6,462.9M522.6,462.9L517.4,459.8M528.3,479.2L526.7,478.8M526.7,478.8L520.5,469M522.6,462.9L520.5,469M467.5,485.1L459.2,483.4M467.5,485.1L467.2,475.8M467.2,475.8L459,471M459.2,483.4L454,478.1M454,478.1L459,471M451.9,494.9L451.8,494.8M451.9,494.9L468.1,491.5M451.8,494.8L459.2,483.4M468.9,486.4L467.5,485.1M451,478.3L454,478.1M446.4,488.9L451.8,494.8M442.7,472.5L446,466.7M459,471L459,463.6M446,466.7L459,463.6M464,461L459.6,462.6M459.6,462.6L453.8,455.3M459,463.6L459.6,462.6M398.4,462L397.8,462.4M376,462.8L380.7,465.3M374.6,474.1L382.5,469.3M382.5,469.3L380.7,465.3M410.1,462.8L398.4,462M410.1,462.8L410.7,468.5M410.7,468.5L401.1,476.3M397.8,462.4L395.3,470.7M401.1,476.3L395.3,470.7M414.1,472.9L410.5,479.2M414.1,472.9L410.7,468.5M410.5,479.2L403.3,481M401.1,476.3L403.3,481M405.9,491.2L402.5,484.5M410.5,479.2L420.1,485.3M402.5,484.5L403.3,481M382.5,469.3L387.8,473.6M395.3,470.7L387.8,473.6M410.1,462.8L415.7,458.1M602.6,479.6L605.5,472.9M602.6,479.6L593.8,484.1M605.5,472.9L591.7,472.5M591.7,472.5L590.5,480.8M593.8,484.1L590.5,480.8M606.2,491.1L602.6,479.6M608,471.4L605.5,472.9M595,489.9L593.8,484.1M589.8,470.1L591.7,472.5M583.7,469.6L578.1,477.6M583.5,482.9L578.1,477.6M583.5,482.9L590.5,480.8M583.5,482.9L580.6,493.1M571.6,465.2L569.4,469.2M578.1,477.6L574.4,477.8M574.4,477.8L569.4,469.2M558.4,469.4L562.8,470.9M562.8,470.9L569.4,469.2M569,492.8L570.8,492.1M569,492.8L558.9,491.7M570.8,492.1L569.8,483.4M569.8,483.4L563.8,480.6M563.8,480.6L555.8,483.6M558.9,491.7L554.8,485.3M555.8,483.6L554.8,485.3M562.5,505.4L569,492.8M577,494.9L570.8,492.1M553.7,501L558.9,491.7M574.4,477.8L569.8,483.4M562.8,470.9L563.8,480.6M553.6,473.8L555.8,483.6M546.2,486.8L554.8,485.3M513.6,520.8L505.9,518.8M506.2,534.1L503.5,527.5M503.5,527.5L505.9,518.8M500.8,474.5L502.3,474.7M495.6,491.8L498.8,492.6M498.8,492.6L504.9,489.6M504.9,489.6L502.3,474.7M520.5,469L511.8,474.3M507.4,466.9L506.1,472.6M511.8,474.3L506.1,472.6M471.2,471.8L471.6,465.6M471.2,471.8L476.8,475.5M471.6,465.6L478.5,463.8M476.8,475.5L480.9,473.9M480.9,473.9L480.9,464.3M478.5,463.8L480.9,464.3M464,461L471.6,465.6M467.2,475.8L471.2,471.8M474,485L476.8,475.5M485.6,477.3L480.9,473.9M483.8,463.1L493,467.7M483.8,463.1L487.1,451.2M493,467.7L499.1,453.8M494.7,471.1L493,467.7M480.9,464.3L483.8,463.1M502.3,474.7L506.1,472.6M485.5,545.8L485.9,534.6M485.5,545.8L497,547.6M498.8,538.7L494.7,535.8M497,547.6L497.2,547.4M485.9,534.6L494.7,535.8M485.5,545.8L480.7,549.4M473.2,536.6L473.3,545.7M473.2,536.6L485.1,533.6M480.7,549.4L473.3,545.7M485.9,534.6L485.1,533.6M503.5,527.5L495.7,526.6M494.7,535.8L495.7,526.6M441.6,537.8L443.2,537.3M441.6,537.8L433.4,532.6M436.3,524.4L431.8,528.8M436.3,524.4L445,527.4M433.4,532.6L431.8,528.8M443.2,537.3L445,527.4M501.7,565.9L501.2,566M497,547.6L493.2,559.2M493.2,559.2L501.2,566M494.6,578.7L494.2,574.3M501.2,566L494.2,574.3M449.9,521.2L443.9,514.1M449.9,521.2L457.3,514.8M443.9,514.1L444.5,506.7M457.3,514.8L452.3,503.9M444.5,506.7L451.4,503.5M451.4,503.5L452.3,503.9M436.3,524.4L437,520.7M437,520.7L443.9,514.1M445,527.4L450.6,525M450.6,525L449.9,521.2M465.5,522.6L464.9,518.9M465.5,522.6L455.9,528.7M464.9,518.9L457.3,514.8M455.9,528.7L450.6,525M436.8,493.9L436.8,503.7M451.9,494.9L451.4,503.5M436.8,503.7L444.5,506.7M468.1,491.5L467.4,503.5M467.4,503.5L452.3,503.9M431.2,515.2L423.4,517.7M431.2,515.2L433.7,504.6M424.2,506.3L420.8,513.9M424.2,506.3L427,503.4M420.8,513.9L423.4,517.7M427,503.4L433.7,504.6M437,520.7L431.2,515.2M423.2,527.3L431.8,528.8M423.2,527.3L423.4,517.7M436.8,503.7L433.7,504.6M410.6,512.9L420.8,513.9M412.4,504.4L424.2,506.3M423.8,498.1L427,503.4M423.3,586.9L422.3,583.2M436.8,587L429.4,582.2M429.4,582.2L422.3,583.2M417.4,582.4L419,581.2M422.3,583.2L419,581.2M411.1,571.3L418.5,577.6M419,581.2L418.5,577.6M410,514.3L412.2,523.3M423.2,527.3L420.3,529M420.3,529L412.2,523.3M401.1,519.7L403.5,527.8M412.2,523.3L403.5,527.8M398.5,531.4L402.9,529.6M399.4,539.9L411,536.9M411,536.9L402.9,529.6M402.9,529.6L403.5,527.8M427.3,547.1L422.2,550M427.3,547.1L427.2,546.9M427.2,546.9L418.7,532.4M422.2,550L411,543.6M411,543.6L411.3,537.1M411.3,537.1L418.7,532.4M435.1,550.4L427.3,547.1M435.1,550.4L436.6,549.8M441.6,537.8L436.6,549.8M433.4,532.6L427.2,546.9M420.3,529L418.7,532.4M416.9,559.6L418.1,559.2M408,546.4L411,543.6M418.1,559.2L422.2,550M411,536.9L411.3,537.1M438.7,658.3L434.2,660.1M437.6,673.1L433.5,665.5M433.5,665.5L434.2,660.1M427.1,649.1L430.4,657.8M434.2,660.1L430.4,657.8M420.9,685.3L421.8,680.1M406.1,679.4L412.8,673.2M412.8,673.2L421.8,680.1M436.1,678.4L425,677.5M433.5,665.5L425.3,670.1M425.3,670.1L425,677.5M421.8,680.1L425,677.5M407.1,657.8L414.5,656.8M407.1,657.8L406.7,666.2M414.5,656.8L419.2,661.9M406.7,666.2L412.8,672.1M412.8,672.1L419.3,665.2M419.2,661.9L419.3,665.2M402.4,654.7L407.1,657.8M419.7,646.2L414.5,656.8M401.1,669.4L406.7,666.2M430.4,657.8L419.2,661.9M412.8,673.2L412.8,672.1M425.3,670.1L419.3,665.2M639.4,586.5L633,590.1M639.4,586.5L643.6,597.2M633,590.1L632.6,600.2M643.6,597.2L643.1,598.3M643.1,598.3L636.2,601.8M636.2,601.8L632.6,600.2M640.8,583.8L639.4,586.5M625.6,586.4L633,590.1M653.8,592L643.6,597.2M624.9,601.8L632.6,600.2M651.5,607.6L643.1,598.3M639,613.3L636.2,601.8M390.9,494.1L382.3,490M390.9,494.1L394,486.7M394,486.7L385.8,480M382.3,490L381.6,483.2M381.6,483.2L385.8,480M391.3,495.4L390.9,494.1M378.6,494.8L382.3,490M402.5,484.5L394,486.7M387.8,473.6L385.8,480M373.3,481.8L381.6,483.2M439.9,473.1L437.1,472.6M426,480.7L426.7,477.4M437.1,472.6L426.7,477.4M414.1,472.9L423.3,473.2M423.3,473.2L426.7,477.4M433.3,461.9L422.4,462.4M421.2,461L422.4,462.4M437.1,472.6L433.3,461.9M423.3,473.2L422.4,462.4M505,517.4L495,516.4M505,517.4L508,507M495,516.4L494.9,505.7M508,507L498.7,503.7M498.7,503.7L494.9,505.7M505.9,518.8L505,517.4M495.7,526.6L488.8,521M488.8,521L495,516.4M517.7,506.5L510.9,505.3M510.9,505.3L508,507M498.8,492.6L498.7,503.7M487,498.2L487.8,503.7M487.8,503.7L494.9,505.7M509.2,492.4L519.4,491.6M509.2,492.4L506.9,490.4M506.9,490.4L516.9,480.4M519.4,491.6L518.1,480.9M518.1,480.9L516.9,480.4M526.3,495.5L519.4,491.6M510.9,505.3L509.2,492.4M504.9,489.6L506.9,490.4M511.8,474.3L516.9,480.4M526.7,478.8L518.1,480.9M485.1,533.6L485.2,524.1M488.8,521L487.9,521.1M487.9,521.1L485.2,524.1M471.2,534.4L473.2,536.6M471.2,534.4L470,525.4M470,525.4L475.2,523.7M485.2,524.1L475.2,523.7M452.8,539.7L455.8,534.1M452.8,539.7L454.6,546.3M462.9,547.2L464.8,536.3M462.9,547.2L454.6,546.3M464.8,536.3L455.8,534.1M443.2,537.3L452.8,539.7M455.9,528.7L455.8,534.1M436.6,549.8L443.8,551.4M453.8,547.5L454.6,546.3M471.2,534.4L464.8,536.3M466.7,548.7L473.3,545.7M466.7,548.7L462.9,547.2M466.7,557.8L466.7,548.7M470,525.4L465.5,522.6M470.2,573.3L472.5,573.6M470.2,573.3L464.4,590M472.5,573.6L476.2,590.4M470.3,591.9L464.5,590.6M470.3,591.9L476.1,590.7M476.1,590.7L476.2,590.4M464.5,590.6L464.4,590M458.3,571.9L457.7,574.6M457.7,574.6L464.4,590M465.8,570.6L470.2,573.3M470.8,606.1L470.3,591.9M463.4,591.2L464.5,590.6M478.6,593.3L476.1,590.7M488.7,583.4L483.6,583.3M483.6,583.3L476.2,590.4M457.7,574.6L449.9,583.1M484.5,569.9L487,560M484.5,569.9L479.7,572.2M479.7,572.2L478.4,572M478.4,572L475.6,559.8M487,560L481.3,555.3M481.3,555.3L475.6,559.8M493.2,559.2L487,560M494.2,574.3L484.5,569.9M483.6,583.3L479.7,572.2M472.5,573.6L478.4,572M468.3,560.1L475.6,559.8M480.7,549.4L481.3,555.3M426.6,566.2L434.5,560.3M426.6,566.2L426.7,567.8M426.7,567.8L432.7,573.4M437.1,562L442,572.5M437.1,562L434.5,560.3M432.7,573.4L441.3,573.8M442,572.5L441.3,573.8M435.1,550.4L434.5,560.3M418.1,559.2L426.6,566.2M418.5,577.6L426.7,567.8M429.4,582.2L432.7,573.4M446.5,560.6L437.1,562M452.4,566.6L442,572.5M442.6,580.1L441.3,573.8M476,515.1L482.4,511.1M476,515.1L467.9,512.7M474.6,504.7L468.5,504.7M474.6,504.7L482.3,508.8M482.3,508.8L482.4,511.1M468.5,504.7L467.9,512.7M487.9,521.1L482.4,511.1M475.2,523.7L476,515.1M464.9,518.9L467.9,512.7M479.3,496.5L474.6,504.7M467.4,503.5L468.5,504.7M487.8,503.7L482.3,508.8" stroke="#eebde5" stroke-width="0.6" fill="none"/>
<path d="M530,766.3L530.7,766.6M530,766.3L529.6,762.5M530,766.3L527.1,767.4M531.4,728.9L530,732M531.4,728.9L531.1,727.1M531.4,728.9L533.2,730.1M364,691.3L363.1,689.6M364,691.3L365.9,691.6M364,691.3L363.6,692.6M393.1,754.1L394.8,753.6M393.1,754.1L391.6,757M393.1,754.1L391.1,753.1M646.1,728.1L646.5,728.1M646.1,728.1L644.7,729.3M646.1,728.1L645.2,725.6M515.6,602.7L517.8,601.7M515.6,602.7L516,604.9M515.6,602.7L513.2,602.4M603.1,546.1L602.3,544.3M603.1,546.1L603.2,546.5M603.1,546.1L604.7,543.2M530.9,581.8L529.6,582.6M530.9,581.8L532.4,582.1M530.9,581.8L530.7,580.8M549,590.4L547.4,590.6M549,590.4L550.3,586.8M549,590.4L551.2,591.7M603.2,766L603.7,766.3M603.2,766L603.1,764.7M603.2,766L601.2,766.9M602.5,760.6L602.9,763.2M602.5,760.6L604.4,758.4M602.5,760.6L600.2,759.3M586.9,720.6L587.5,717.9M586.9,720.6L589.4,722.4M586.9,720.6L584.2,720.9M565.6,714.3L564.9,716.7M565.6,714.3L568.8,712.7M565.6,714.3L564.3,712.8M516.9,736L515,735.8M516.9,736L517.4,735.7M516.9,736L516.5,737.3M560.3,752.5L558.2,752.5M560.3,752.5L561.7,753.7M560.3,752.5L560.5,751.2M429,711.1L428.2,713.8M429,711.1L425.6,709.9M429,711.1L430.8,710.1M430.4,734.2L429.5,732.8M430.4,734.2L432.5,734.6M430.4,734.2L429.8,736.7M517.6,559.9L515.7,562.1M517.6,559.9L515.7,558.9M517.6,559.9L518.4,559.6M519.3,559.3L518.8,556M519.3,559.3L518.4,559.6M519.3,559.3L521.2,559.9M521.2,589.8L520.8,593.1M521.2,589.8L522.6,588.1M521.2,589.8L517.5,589.1M606.2,622.7L609.6,623.4M606.2,622.7L604.5,625.1M606.2,622.7L605,620.4M590.2,608.3L593.4,609.4M590.2,608.3L589.7,607.2M590.2,608.3L588.5,612.3M503.1,756.3L505.2,752.9M503.1,756.3L504,759.6M503.1,756.3L500.3,755.3M579.5,683.1L579.8,684.1M579.5,683.1L580.9,681.4M579.5,683.1L578.1,682.4M524.3,723.2L521.3,724.2M524.3,723.2L526.5,723.9M524.3,723.2L523.7,719.3M573.4,746.7L572.4,747.8M573.4,746.7L575.7,746.7M573.4,746.7L572.6,745.9M508.3,747.1L507.3,745.6M508.3,747.1L510.6,745.6M508.3,747.1L508.4,747.4M528.5,744.9L528.5,744.8M528.5,744.9L528.6,748.2M528.5,744.9L531.7,744.9M520.6,640L521.6,641.5M520.6,640L519.1,641.4M520.6,640L520.4,638.8M503.1,645.7L502.3,648.5M503.1,645.7L505.3,646.8M503.1,645.7L503,645.5M514.8,656.6L513.2,653.9M514.8,656.6L517.2,657.5M514.8,656.6L512.9,657.8M508.8,660.3L506.5,659.8M508.8,660.3L510.1,659.5M508.8,660.3L508.3,662.9M367.5,527.2L367.8,528.5M367.5,527.2L366.2,526.3M367.5,527.2L370.2,527.1M371.5,731.9L370.2,733.3M371.5,731.9L371.2,729.4M371.5,731.9L373.4,732.3M407.7,731.1L411,732.1M407.7,731.1L405,733M407.7,731.1L406.8,728.6M380.2,744.4L378.7,741.1M380.2,744.4L381.2,745.1M380.2,744.4L377,743.6M637.8,524L636,525.3M637.8,524L639.2,525.5M637.8,524L637.9,522.2M653.5,521.8L654,522.9M653.5,521.8L654.4,519M653.5,521.8L652.1,521M622.8,513.8L620.7,515.6M622.8,513.8L625.5,514.5M622.8,513.8L622.3,511M558.4,469.4L557.6,466.5M558.4,469.4L556,471.6M558.4,469.4L560.6,470.1M584.3,516.5L581.9,517.3M584.3,516.5L585.4,514.2M584.3,516.5L586.8,517.7M527.5,546.4L528.7,547M527.5,546.4L526.9,544.3M527.5,546.4L525,546.7M560.8,514.4L560.3,514.9M560.8,514.4L562.9,514.9M560.8,514.4L561.2,512.7M588.5,507.8L587.5,509.8M588.5,507.8L586.1,506.2M588.5,507.8L589.8,506.9M651.1,624.9L649.6,624.1M651.1,624.9L651.6,624.7M651.1,624.9L650.3,627.3M662.2,548.6L662.9,546M662.2,548.6L659.8,549.8M662.2,548.6L665,551.2M651,760.6L653.9,761.7M651,760.6L649,762M651,760.6L651.4,757.8M651.7,754.9L650.8,753.5M651.7,754.9L653.3,754.5M651.7,754.9L651.6,756.2M622.8,750.8L621.7,752.2M622.8,750.8L625,751.8M622.8,750.8L621.9,749.3M607.8,748.9L607.8,751.6M607.8,748.9L605.8,747.7M607.8,748.9L611.2,747.3M664.4,744.7L662.2,745.4M664.4,744.7L665.3,745.1M664.4,744.7L663.6,743.2M490,604.7L490.3,606.4M490,604.7L488.6,604.1M490,604.7L491.5,602.8M508.8,601.4L508.9,601.6M508.8,601.4L509.2,599.8M508.8,601.4L507.5,600.6M574.8,537.3L573.7,535.1M574.8,537.3L575.5,540.5M574.8,537.3L578.7,538.1M602.6,627.6L603.7,626.2M602.6,627.6L602.6,630.5M602.6,627.6L599.9,627.3M592.7,551L596.9,549.3M592.7,551L589,549.3M592.7,551L592.9,552.4M629.3,624.5L627.6,623.6M629.3,624.5L628.5,626.5M629.3,624.5L629.6,624.3M575.4,590.6L574.3,591.2M575.4,590.6L576.5,591M575.4,590.6L575.8,588.9M604.5,600.9L603.9,605.1M604.5,600.9L606.5,599.1M604.5,600.9L600.5,599.8M366.1,592.1L363.8,592.6M366.1,592.1L365.5,590.3M366.1,592.1L367.3,592.5M376.1,582.9L374.9,581.9M376.1,582.9L377.1,581.7M376.1,582.9L376.1,585M369.6,577.5L365.8,578.3M369.6,577.5L370.2,575.3M369.6,577.5L372.8,580.2M379,557.6L378.9,559.4M379,557.6L376.9,557.3M379,557.6L380.4,556.5M365,525.4L366.2,526.3M365,525.4L363.1,525.4M365,525.4L366.2,522.7M505.1,702.8L506.1,704.1M505.1,702.8L503.4,702.4M505.1,702.8L506.3,700.9M473.7,624.3L477.1,623.1M473.7,624.3L474.3,626M473.7,624.3L472.7,623.2M387.7,603.3L387.8,603.1M387.7,603.3L386.4,605.4M387.7,603.3L388.2,605.4M372.1,662.2L370.9,662.9M372.1,662.2L372.2,660.5M372.1,662.2L372.9,663M378.9,677.1L374.4,678.1M378.9,677.1L379,674M378.9,677.1L379.8,677.8M409.5,700L409.3,700.2M409.5,700L411.7,700.1M409.5,700L409.6,697.2M595,679.3L592.5,678.2M595,679.3L594.9,681.1M595,679.3L597.6,677.3M643.5,688.3L642.1,688.2M643.5,688.3L644.8,687.6M643.5,688.3L643.3,690.3M646.3,686.7L644.9,687.5M646.3,686.7L646.2,683.6M646.3,686.7L648.2,687.3M504.9,762.8L504.1,760M504.9,762.8L505.8,763.7M504.9,762.8L502.7,763.3M485.5,736.1L487.3,739.5M485.5,736.1L486.2,734M485.5,736.1L481,735.9M569.3,676.6L569.3,677.3M569.3,676.6L571.7,675M569.3,676.6L568.5,673.7M541,710.8L543.5,711.4M541,710.8L539.7,711.2M541,710.8L542.6,708.2M539.6,745.1L540,743.2M539.6,745.1L541.3,746.9M539.6,745.1L536.6,745M543,748.8L541.3,746.9M543,748.8L545,749.2M543,748.8L541,752.1M510.6,623.8L513.7,623.8M510.6,623.8L509.9,627.2M510.6,623.8L510.2,623.2M445.1,749L444.5,751.5M445.1,749L442.1,746.7M445.1,749L447.2,747.2M610.2,533.3L609.7,534.2M610.2,533.3L611.2,533.7M610.2,533.3L609.5,532.5M654.5,524L652.4,524.4M654.5,524L655.4,525M654.5,524L654,522.9M628.3,515.2L628,516.5M628.3,515.2L629.8,516M628.3,515.2L628.2,515.1M606.5,548.7L604.9,547.8M606.5,548.7L607.2,550.9M606.5,548.7L608.5,547.6M538.1,526.6L538.7,523.1M538.1,526.6L540.4,528.5M538.1,526.6L535.9,527.7M636,557.8L638.6,558M636,557.8L633.7,558.5M636,557.8L634.6,554.9M626.2,560.8L629.8,559.7M626.2,560.8L625.7,563.8M626.2,560.8L624.5,558.6M655.8,711.5L660.8,711.3M655.8,711.5L656.2,708.8M655.8,711.5L654.4,712.4M652.3,699.6L654.2,700.2M652.3,699.6L652.1,697.1M652.3,699.6L650.4,700.8M657.6,687.6L659.4,688.4M657.6,687.6L655.7,687.8M657.6,687.6L657.9,685.1M652.9,674.4L651.4,675.8M652.9,674.4L654.9,674.7M652.9,674.4L652.3,673M663.5,652.3L664.1,652.4M663.5,652.3L661.6,653.8M663.5,652.3L661.6,650.2M643,762.8L641.5,760.5M643,762.8L640.1,764.2M643,762.8L644.3,763.6M630.6,754.4L631.4,754.1M630.6,754.4L630.1,756.5M630.6,754.4L626.7,752.6M598.5,745.9L595.9,744.8M598.5,745.9L600.1,745.6M598.5,745.9L598.1,747.6M619.3,728.1L621.6,729.6M619.3,728.1L618.1,729.3M619.3,728.1L619.4,726.2M618.4,743.8L619.4,743.1M618.4,743.8L618.3,743.8M618.4,743.8L619.3,745.4M618.2,743.8L617.2,741.7M618.2,743.8L618.3,743.8M618.2,743.8L615.5,745.1M491.6,592.3L493.2,591.6M491.6,592.3L492.1,595.4M491.6,592.3L491.5,592.2M447.2,646L450.1,648.7M447.2,646L444.5,647.6M447.2,646L447.5,643.9M535.8,549.1L536,547.1M535.8,549.1L537,549.1M535.8,549.1L535.1,549.6M593.2,553.9L592.9,552.4M593.2,553.9L595.6,556.7M593.2,553.9L591.9,556.9M405.9,571.7L405.9,573.8M405.9,571.7L405.5,571.5M405.9,571.7L407.1,571.6M443.4,708.9L441.4,710.1M443.4,708.9L447.9,710.2M443.4,708.9L444.9,705.6M489.8,650L488.5,647.2M489.8,650L488.5,653.2M489.8,650L494.1,647.9M471.6,621.7L473.9,619M471.6,621.7L471.7,621.9M471.6,621.7L470,618.7M457.2,621.9L456.7,620.5M457.2,621.9L459,622.9M457.2,621.9L455.6,623.5M462.1,643.4L464.4,643.6M462.1,643.4L460.4,642.3M462.1,643.4L460.1,645.1M455.3,678.8L456.6,678.2M455.3,678.8L456,680.8M455.3,678.8L454.6,678.8M516,762.2L513.6,762.8M516,762.2L518,763.9M516,762.2L516.7,760.2M576.3,697L577.1,696.8M576.3,697L574.4,695.5M576.3,697L574.1,699M533.3,699.9L534.5,702.7M533.3,699.9L530.9,698.6M533.3,699.9L536.3,698.7M623.2,550.1L624.5,547.9M623.2,550.1L620.9,549.4M623.2,550.1L623,552.3M473,745.6L472.8,745.2M473,745.6L476.1,745.9M473,745.6L472.7,747.7M457.4,764.5L456.2,763.7M457.4,764.5L459.5,764.1M457.4,764.5L457.4,766.4M451.9,494.9L451.9,494.9M451.9,494.9L456,494M451.9,494.9L451.8,497.1M389.8,526.7L393.8,528.9M389.8,526.7L387.3,528.4M389.8,526.7L390.5,523.9M378.6,526.8L375.8,526.9M378.6,526.8L379.1,522.3M378.6,526.8L380.7,528.3M384.7,530L385.5,532M384.7,530L386.1,529.1M384.7,530L383.7,529.9M416.8,492.8L417,493.3M416.8,492.8L417.5,491.2M416.8,492.8L415.2,492.5M589.8,470.1L590.3,468.7M589.8,470.1L588,469.9M589.8,470.1L590.7,471.3M591.1,519.8L591.4,522.2M591.1,519.8L592.7,519.3M591.1,519.8L589.1,518.8M468.1,491.5L468.3,490M468.1,491.5L468.1,491.5M468.1,491.5L466.4,491.8M517.7,506.5L518.4,508.9M517.7,506.5L519.2,505.4M517.7,506.5L514.5,505.9M451.9,613.2L453.2,613.6M451.9,613.2L449.6,614.9M451.9,613.2L451.1,610.9M532.6,555.3L530.7,556.3M532.6,555.3L534.2,558.2M532.6,555.3L533.5,552.7M539,567.2L537.8,564.9M539,567.2L537.2,568M539,567.2L539.1,567.2M524.9,570.1L524.3,567.2M524.9,570.1L527.1,571M524.9,570.1L522.7,571.6M368.7,467.8L367.4,469.8M368.7,467.8L368.8,466.6M368.7,467.8L371.4,470.7M585.9,622.1L586.6,622.9M585.9,622.1L585.8,620.8M585.9,622.1L584.3,622.2M563.3,635.6L562.4,634.2M563.3,635.6L565.3,635.8M563.3,635.6L561.5,638.6M542.1,651.5L543.9,649.6M542.1,651.5L540.3,651.8M542.1,651.5L543.3,652.9M599.6,566.2L599.5,564.4M599.6,566.2L600.9,566.9M599.6,566.2L596.9,566.9M393.2,579.4L392.6,579.9M393.2,579.4L395,580.7M393.2,579.4L393.5,578.1M402.7,593.6L400.2,592.7M402.7,593.6L403.8,593.3M402.7,593.6L400.6,595M401.1,519.7L404.9,517.4M401.1,519.7L397.1,518.1M401.1,519.7L402,522.8M411.1,571.3L409.3,571.4M411.1,571.3L412,569.5M411.1,571.3L413,572.9M416.9,559.6L416.1,561.1M416.9,559.6L415,559M416.9,559.6L417.5,559.4M548.7,687.5L548.7,685.8M548.7,687.5L550.5,688.1M548.7,687.5L548.1,688.5M392.5,516.4L393.1,513.5M392.5,516.4L392.4,516.5M392.5,516.4L394.7,517.2M410.7,468.5L410.5,466.4M410.7,468.5L408.9,469.9M410.7,468.5L411.8,469.9M613.8,483.8L615.6,484.2M613.8,483.8L612.7,481.6M613.8,483.8L611.5,486M617.4,498L619,496.7M617.4,498L614.6,496.9M617.4,498L617.2,500.7M600.3,502.9L601,500.3M600.3,502.9L598.7,503.9M600.3,502.9L602.8,504.8M577,494.9L577,496.1M577,494.9L578,494.4M577,494.9L575.5,494.3M524.8,526.3L523.9,523.5M524.8,526.3L525.5,527.5M524.8,526.3L523,526.6M517.3,536.3L518.4,536.9M517.3,536.3L518.1,535.6M517.3,536.3L515.4,536.8M513.6,520.8L516.3,519.6M513.6,520.8L513.7,524.4M513.6,520.8L511.3,520.2M425.6,622.1L425.1,620.3M425.6,622.1L424.3,622.7M425.6,622.1L426.2,622.3M423.8,616.4L420.8,615.5M423.8,616.4L424.7,619.2M423.8,616.4L424.3,614.9M412.6,625.6L411.5,622.6M412.6,625.6L413.7,626.5M412.6,625.6L410.2,626.3M560.1,653.1L560.6,650.8M560.1,653.1L561.9,654.1M560.1,653.1L558,655.6M436.3,524.4L434,526.6M436.3,524.4L438.4,525.2M436.3,524.4L436.6,522.6M396,681.4L393.3,679.5M396,681.4L395.9,683.5M396,681.4L398.6,680.3M427.1,649.1L429.2,648M427.1,649.1L424.8,647.7M427.1,649.1L427.8,650.9M625.2,586.5L622.6,585.9M625.2,586.5L624.4,589.4M625.2,586.5L625.4,586.5M625.6,586.4L626.2,584.9M625.6,586.4L625.4,586.5M625.6,586.4L626.7,586.9M622.8,595L618.4,593.6M622.8,595L623.7,591.9M622.8,595L623.8,598.3M467.5,485.1L465.3,484.6M467.5,485.1L467.5,483.4M467.5,485.1L468.2,485.7M380.7,465.3L378.4,464.1M380.7,465.3L382.6,463.3M380.7,465.3L381.6,467.3M593.8,484.1L596.6,482.7M593.8,484.1L592.2,482.5M593.8,484.1L594.2,486.3M570.8,492.1L569.9,492.5M570.8,492.1L570.7,490.9M570.8,492.1L572.3,492.8M555.8,483.6L558.2,482.7M555.8,483.6L555.3,484.4M555.8,483.6L555.2,481.1M504.9,489.6L502.7,490.7M504.9,489.6L504.6,487.7M504.9,489.6L505.9,490M511.8,474.3L515.1,472.3M511.8,474.3L509.4,473.6M511.8,474.3L513.6,476.5M476.8,475.5L474,473.7M476.8,475.5L478.9,474.7M476.8,475.5L475.5,480.1M470,525.4L470.4,528.7M470,525.4L472.6,524.6M470,525.4L468,524.1M465.5,522.6L465.3,521M465.5,522.6L463.4,523.9M465.5,522.6L467.2,523.6M483.6,583.3L486.1,583.3M483.6,583.3L482.3,584.5M483.6,583.3L482.6,580.5M493.2,559.2L493.9,557.1M493.2,559.2L494.5,560.3M493.2,559.2L491,559.5M443.9,514.1L445.2,515.6M443.9,514.1L444.1,512.5M443.9,514.1L443.1,514.9M411,536.9L408.5,537.6M411,536.9L408.9,535M411,536.9L411.2,537M425.3,670.1L427.4,668.9M425.3,670.1L425.2,672.9M425.3,670.1L423.6,668.7M425,677.5L427.1,677.6M425,677.5L425.1,675.6M425,677.5L423.9,678.4M382.3,490L384,490.8M382.3,490L382,486.8M382.3,490L381,491.8M516.9,480.4L515.7,481.6M516.9,480.4L517.5,480.6M516.9,480.4L515.4,478.6M462.9,547.2L463.2,545.4M462.9,547.2L461.2,547M462.9,547.2L464.8,548M481.3,555.3L482.3,556.1M481.3,555.3L480.5,556M481.3,555.3L481.2,553.9" stroke="#f7eef6" stroke-width="1.9" stroke-linecap="round" fill="none"/>
<g stroke="#f7eef6" fill="none" stroke-linecap="round"><path d="M562.8,765 C602.8,745 624.8,715 637.8,665 C647.8,630 662.8,585 667.8,575" stroke-width="2.6"/><path d="M547.8,545 C582.8,525 627.8,505 667.8,465" stroke-width="2.2"/><path d="M547.8,545 C562.8,535 577.8,525 597.8,522" stroke-width="1.4"/></g>
</g>
<line x1="621.3" y1="758.3" x2="657.5" y2="758.3" stroke="#000" stroke-width="3.2" stroke-linecap="butt"/>
<text x="196.6" y="448.7" font-size="22" font-weight="bold" text-anchor="middle" stroke="#000" stroke-width="0.35">Ctrl</text>
<text x="513.7" y="448.7" font-size="22" font-weight="bold" text-anchor="middle" stroke="#000" stroke-width="0.35">STAM</text>
<text transform="translate(29.0,615.8) rotate(-90)" font-size="21.6" font-weight="bold" text-anchor="middle" stroke="#000" stroke-width="0.35">H&amp;E</text>
<rect x="45.9" y="1403.3" width="302.2" height="302.3" filter="url(#fJ1)"/>
<rect x="363" y="1403.3" width="302.4" height="302.3" filter="url(#fJ2)"/>
<g fill="#fbf4fc">
<path d="M168,1461 c10,-3 20,3 20,14 c0,13 -8,21 -18,19 c-10,-2 -15,-10 -13,-19 c1,-7 5,-12 11,-14z"/>
<path d="M128,1661 c7,-3 14,2 14,10 c0,8 -6,12 -12,11 c-6,-1 -10,-6 -9,-12 c1,-4 3,-7 7,-9z"/>
</g>
<defs>
<pattern id="pJdots" width="101" height="93" patternUnits="userSpaceOnUse"><path d="M11.5,24a0.9,0.9 0 1,0 1.8,0a0.9,0.9 0 1,0 -1.8,0M96.6,15.1a1.3,1.3 0 1,0 2.6,0a1.3,1.3 0 1,0 -2.6,0M15.3,31.4a1.1,1.1 0 1,0 2.3,0a1.1,1.1 0 1,0 -2.3,0M61.3,88.8a0.9,0.9 0 1,0 1.9,0a0.9,0.9 0 1,0 -1.9,0M93.7,86.2a1.2,1.2 0 1,0 2.3,0a1.2,1.2 0 1,0 -2.3,0M0.6,74.2a1.3,1.3 0 1,0 2.6,0a1.3,1.3 0 1,0 -2.6,0M52.2,18.3a0.7,0.7 0 1,0 1.5,0a0.7,0.7 0 1,0 -1.5,0M84.3,8.1a1,1 0 1,0 2.1,0a1,1 0 1,0 -2.1,0M19.2,28a1.4,1.4 0 1,0 2.8,0a1.4,1.4 0 1,0 -2.8,0M26.7,63.6a1.2,1.2 0 1,0 2.4,0a1.2,1.2 0 1,0 -2.4,0M27.9,13.6a1.2,1.2 0 1,0 2.4,0a1.2,1.2 0 1,0 -2.4,0M45,26.8a0.8,0.8 0 1,0 1.5,0a0.8,0.8 0 1,0 -1.5,0M98.3,60.1a1,1 0 1,0 2,0a1,1 0 1,0 -2,0M10.7,84.9a0.9,0.9 0 1,0 1.7,0a0.9,0.9 0 1,0 -1.7,0M79.1,84.2a0.8,0.8 0 1,0 1.5,0a0.8,0.8 0 1,0 -1.5,0M97.7,83.2a1.1,1.1 0 1,0 2.1,0a1.1,1.1 0 1,0 -2.1,0M72,25.8a1.2,1.2 0 1,0 2.4,0a1.2,1.2 0 1,0 -2.4,0M42.4,30.3a1.2,1.2 0 1,0 2.3,0a1.2,1.2 0 1,0 -2.3,0M37.4,65.5a1.3,1.3 0 1,0 2.6,0a1.3,1.3 0 1,0 -2.6,0M26.5,19.2a0.9,0.9 0 1,0 1.7,0a0.9,0.9 0 1,0 -1.7,0M41.8,67.7a0.9,0.9 0 1,0 1.9,0a0.9,0.9 0 1,0 -1.9,0M69.3,92.6a0.8,0.8 0 1,0 1.6,0a0.8,0.8 0 1,0 -1.6,0M69.3,-0.4a0.8,0.8 0 1,0 1.6,0a0.8,0.8 0 1,0 -1.6,0M75.7,44.3a0.9,0.9 0 1,0 1.9,0a0.9,0.9 0 1,0 -1.9,0M59.9,11a0.9,0.9 0 1,0 1.7,0a0.9,0.9 0 1,0 -1.7,0M26.9,56.8a0.8,0.8 0 1,0 1.6,0a0.8,0.8 0 1,0 -1.6,0M3.6,3.8a1.2,1.2 0 1,0 2.4,0a1.2,1.2 0 1,0 -2.4,0M67.9,79a1.1,1.1 0 1,0 2.3,0a1.1,1.1 0 1,0 -2.3,0M4.2,65.2a1,1 0 1,0 2.1,0a1,1 0 1,0 -2.1,0M96.5,21.4a0.7,0.7 0 1,0 1.3,0a0.7,0.7 0 1,0 -1.3,0M83.1,39.3a1,1 0 1,0 2,0a1,1 0 1,0 -2,0M71.5,17a1,1 0 1,0 1.9,0a1,1 0 1,0 -1.9,0M79.7,55.2a1.3,1.3 0 1,0 2.6,0a1.3,1.3 0 1,0 -2.6,0M86.2,25.4a1.2,1.2 0 1,0 2.5,0a1.2,1.2 0 1,0 -2.5,0M63.4,11.3a0.8,0.8 0 1,0 1.6,0a0.8,0.8 0 1,0 -1.6,0M75.4,78.7a0.7,0.7 0 1,0 1.4,0a0.7,0.7 0 1,0 -1.4,0M70.4,30.3a0.7,0.7 0 1,0 1.5,0a0.7,0.7 0 1,0 -1.5,0M9,9.2a1,1 0 1,0 1.9,0a1,1 0 1,0 -1.9,0M10.5,56.4a1.3,1.3 0 1,0 2.5,0a1.3,1.3 0 1,0 -2.5,0M41.4,57.6a1.3,1.3 0 1,0 2.5,0a1.3,1.3 0 1,0 -2.5,0M82.2,29.2a1.1,1.1 0 1,0 2.1,0a1.1,1.1 0 1,0 -2.1,0M47.2,11.1a0.8,0.8 0 1,0 1.5,0a0.8,0.8 0 1,0 -1.5,0M7.2,20.7a1.4,1.4 0 1,0 2.7,0a1.4,1.4 0 1,0 -2.7,0M90.3,76.6a1.3,1.3 0 1,0 2.6,0a1.3,1.3 0 1,0 -2.6,0M91.8,17.5a1.1,1.1 0 1,0 2.1,0a1.1,1.1 0 1,0 -2.1,0M37.3,17.9a0.7,0.7 0 1,0 1.4,0a0.7,0.7 0 1,0 -1.4,0M86.5,59.4a1.2,1.2 0 1,0 2.3,0a1.2,1.2 0 1,0 -2.3,0M88.6,17.5a1.4,1.4 0 1,0 2.8,0a1.4,1.4 0 1,0 -2.8,0M48.3,32a1.3,1.3 0 1,0 2.7,0a1.3,1.3 0 1,0 -2.7,0M25.6,79.9a0.7,0.7 0 1,0 1.5,0a0.7,0.7 0 1,0 -1.5,0M59.8,57.7a0.9,0.9 0 1,0 1.7,0a0.9,0.9 0 1,0 -1.7,0M60.8,87.4a0.9,0.9 0 1,0 1.8,0a0.9,0.9 0 1,0 -1.8,0M11.4,42.6a0.7,0.7 0 1,0 1.4,0a0.7,0.7 0 1,0 -1.4,0M65.9,68.8a0.6,0.6 0 1,0 1.3,0a0.6,0.6 0 1,0 -1.3,0M83,63.8a1,1 0 1,0 1.9,0a1,1 0 1,0 -1.9,0M-0.4,16.6a1,1 0 1,0 1.9,0a1,1 0 1,0 -1.9,0M100.6,16.6a1,1 0 1,0 1.9,0a1,1 0 1,0 -1.9,0M80.9,4.2a1.2,1.2 0 1,0 2.3,0a1.2,1.2 0 1,0 -2.3,0M0.9,49.5a0.8,0.8 0 1,0 1.7,0a0.8,0.8 0 1,0 -1.7,0M77.4,14.4a1.3,1.3 0 1,0 2.6,0a1.3,1.3 0 1,0 -2.6,0M75.5,90.7a1,1 0 1,0 2.1,0a1,1 0 1,0 -2.1,0M21.2,69.1a1,1 0 1,0 2.1,0a1,1 0 1,0 -2.1,0M1.4,16.8a0.8,0.8 0 1,0 1.6,0a0.8,0.8 0 1,0 -1.6,0M69.1,83.1a0.7,0.7 0 1,0 1.5,0a0.7,0.7 0 1,0 -1.5,0M44.3,58.7a1.3,1.3 0 1,0 2.5,0a1.3,1.3 0 1,0 -2.5,0M87.8,43.6a0.7,0.7 0 1,0 1.5,0a0.7,0.7 0 1,0 -1.5,0M18.7,59.6a1,1 0 1,0 2,0a1,1 0 1,0 -2,0M5.1,88.6a1.1,1.1 0 1,0 2.3,0a1.1,1.1 0 1,0 -2.3,0M81,34.8a1,1 0 1,0 2,0a1,1 0 1,0 -2,0M33.6,17.9a1.3,1.3 0 1,0 2.7,0a1.3,1.3 0 1,0 -2.7,0M86.9,52.3a0.9,0.9 0 1,0 1.7,0a0.9,0.9 0 1,0 -1.7,0M28.3,12.2a1.2,1.2 0 1,0 2.3,0a1.2,1.2 0 1,0 -2.3,0M3.3,56.3a1.2,1.2 0 1,0 2.4,0a1.2,1.2 0 1,0 -2.4,0M-0.5,58.2a1.1,1.1 0 1,0 2.2,0a1.1,1.1 0 1,0 -2.2,0M100.5,58.2a1.1,1.1 0 1,0 2.2,0a1.1,1.1 0 1,0 -2.2,0" fill="#f3e4f4" opacity="0.75"/></pattern>
</defs>
<rect x="45.9" y="1403.3" width="302.2" height="302.3" fill="url(#pJdots)"/>
<clipPath id="cJ2"><rect x="363" y="1403.3" width="302.4" height="302.3"/></clipPath><g clip-path="url(#cJ2)">
<g filter="url(#blur3)" opacity="0.13"><ellipse cx="485" cy="1500" rx="70" ry="75" fill="#b0609a"/><ellipse cx="640" cy="1670" rx="45" ry="60" fill="#b0609a"/><ellipse cx="370" cy="1690" rx="18" ry="35" fill="#b0609a"/></g>
<path d="M483.1,1417a3.4,3.4 0 1,0 6.8,0a3.4,3.4 0 1,0 -6.8,0M556.9,1474.2a3.3,3.3 0 1,0 6.7,0a3.3,3.3 0 1,0 -6.7,0M509.8,1607.9a2.3,2.3 0 1,0 4.7,0a2.3,2.3 0 1,0 -4.7,0M442.5,1669.2a2.6,2.6 0 1,0 5.3,0a2.6,2.6 0 1,0 -5.3,0M496.9,1644.8a1.8,1.8 0 1,0 3.5,0a1.8,1.8 0 1,0 -3.5,0M565.4,1610.1a1.5,1.5 0 1,0 3.1,0a1.5,1.5 0 1,0 -3.1,0M474.8,1618.9a3.3,3.3 0 1,0 6.5,0a3.3,3.3 0 1,0 -6.5,0M481,1570.5a3.3,3.3 0 1,0 6.6,0a3.3,3.3 0 1,0 -6.6,0M456.9,1524.9a2,2 0 1,0 4,0a2,2 0 1,0 -4,0M459,1702.2a3,3 0 1,0 6,0a3,3 0 1,0 -6,0M407.5,1525.8a3.1,3.1 0 1,0 6.1,0a3.1,3.1 0 1,0 -6.1,0M393.1,1664.6a2.1,2.1 0 1,0 4.1,0a2.1,2.1 0 1,0 -4.1,0M378.5,1404.1a1.8,1.8 0 1,0 3.6,0a1.8,1.8 0 1,0 -3.6,0M462.6,1643.2a2.4,2.4 0 1,0 4.9,0a2.4,2.4 0 1,0 -4.9,0M572.5,1405a1.4,1.4 0 1,0 2.7,0a1.4,1.4 0 1,0 -2.7,0M426.1,1464.7a1.5,1.5 0 1,0 3,0a1.5,1.5 0 1,0 -3,0M542.8,1671.2a1.9,1.9 0 1,0 3.8,0a1.9,1.9 0 1,0 -3.8,0M485.8,1609a3.3,3.3 0 1,0 6.5,0a3.3,3.3 0 1,0 -6.5,0M473.6,1617a3,3 0 1,0 6,0a3,3 0 1,0 -6,0M430,1666.6a2.7,2.7 0 1,0 5.5,0a2.7,2.7 0 1,0 -5.5,0M505,1655.2a2.3,2.3 0 1,0 4.7,0a2.3,2.3 0 1,0 -4.7,0M509.1,1584.1a2.3,2.3 0 1,0 4.5,0a2.3,2.3 0 1,0 -4.5,0M531.7,1552a1.6,1.6 0 1,0 3.2,0a1.6,1.6 0 1,0 -3.2,0M526.7,1606.6a3.4,3.4 0 1,0 6.8,0a3.4,3.4 0 1,0 -6.8,0M496.1,1482.3a1,1 0 1,0 2.1,0a1,1 0 1,0 -2.1,0M435,1663.7a2.7,2.7 0 1,0 5.3,0a2.7,2.7 0 1,0 -5.3,0M435.8,1423.1a2.6,2.6 0 1,0 5.3,0a2.6,2.6 0 1,0 -5.3,0M513,1569.3a1.7,1.7 0 1,0 3.3,0a1.7,1.7 0 1,0 -3.3,0M507.9,1682.2a2.8,2.8 0 1,0 5.5,0a2.8,2.8 0 1,0 -5.5,0M437.7,1461.8a1.2,1.2 0 1,0 2.4,0a1.2,1.2 0 1,0 -2.4,0M480.3,1639.6a2.5,2.5 0 1,0 5,0a2.5,2.5 0 1,0 -5,0M568.3,1482.2a1.6,1.6 0 1,0 3.2,0a1.6,1.6 0 1,0 -3.2,0M585.3,1618.9a1.8,1.8 0 1,0 3.6,0a1.8,1.8 0 1,0 -3.6,0M600.2,1504.7a1.2,1.2 0 1,0 2.3,0a1.2,1.2 0 1,0 -2.3,0M471.6,1689.6a2.3,2.3 0 1,0 4.7,0a2.3,2.3 0 1,0 -4.7,0M544.7,1574.8a1.6,1.6 0 1,0 3.2,0a1.6,1.6 0 1,0 -3.2,0M455.4,1671.4a3.3,3.3 0 1,0 6.6,0a3.3,3.3 0 1,0 -6.6,0M504.1,1669.6a2.2,2.2 0 1,0 4.5,0a2.2,2.2 0 1,0 -4.5,0M480,1640.4a3.4,3.4 0 1,0 6.8,0a3.4,3.4 0 1,0 -6.8,0M560.5,1460.8a1.1,1.1 0 1,0 2.2,0a1.1,1.1 0 1,0 -2.2,0M381.2,1451a3,3 0 1,0 6,0a3,3 0 1,0 -6,0M435.7,1652.8a1.1,1.1 0 1,0 2.3,0a1.1,1.1 0 1,0 -2.3,0M439.7,1580a3.3,3.3 0 1,0 6.7,0a3.3,3.3 0 1,0 -6.7,0M472.1,1575.9a1.7,1.7 0 1,0 3.4,0a1.7,1.7 0 1,0 -3.4,0M509.4,1601.1a1.7,1.7 0 1,0 3.5,0a1.7,1.7 0 1,0 -3.5,0M462.4,1579.6a1.2,1.2 0 1,0 2.4,0a1.2,1.2 0 1,0 -2.4,0M569.7,1560.8a2.8,2.8 0 1,0 5.5,0a2.8,2.8 0 1,0 -5.5,0M451.9,1480.5a1.7,1.7 0 1,0 3.5,0a1.7,1.7 0 1,0 -3.5,0M474.8,1624.3a3.2,3.2 0 1,0 6.3,0a3.2,3.2 0 1,0 -6.3,0M627.8,1441.6a2.6,2.6 0 1,0 5.2,0a2.6,2.6 0 1,0 -5.2,0M609.7,1693.6a1.5,1.5 0 1,0 2.9,0a1.5,1.5 0 1,0 -2.9,0M528.8,1560.1a2.6,2.6 0 1,0 5.1,0a2.6,2.6 0 1,0 -5.1,0M537.8,1689.2a1.3,1.3 0 1,0 2.6,0a1.3,1.3 0 1,0 -2.6,0M363.2,1678.5a1.7,1.7 0 1,0 3.5,0a1.7,1.7 0 1,0 -3.5,0M409.6,1560.2a3.3,3.3 0 1,0 6.5,0a3.3,3.3 0 1,0 -6.5,0M536.3,1673.7a1,1 0 1,0 2.1,0a1,1 0 1,0 -2.1,0M427.8,1541.7a1.7,1.7 0 1,0 3.3,0a1.7,1.7 0 1,0 -3.3,0M584.5,1517.2a1.6,1.6 0 1,0 3.1,0a1.6,1.6 0 1,0 -3.1,0M520.7,1704.2a3,3 0 1,0 6,0a3,3 0 1,0 -6,0M495.4,1666.2a1.5,1.5 0 1,0 3,0a1.5,1.5 0 1,0 -3,0M646.8,1422.1a1.2,1.2 0 1,0 2.5,0a1.2,1.2 0 1,0 -2.5,0M497.4,1688.5a3,3 0 1,0 5.9,0a3,3 0 1,0 -5.9,0M383.9,1505.8a2,2 0 1,0 3.9,0a2,2 0 1,0 -3.9,0M566.4,1577.9a2.7,2.7 0 1,0 5.4,0a2.7,2.7 0 1,0 -5.4,0M413.7,1655.6a1.7,1.7 0 1,0 3.4,0a1.7,1.7 0 1,0 -3.4,0M641.9,1495.6a1.9,1.9 0 1,0 3.8,0a1.9,1.9 0 1,0 -3.8,0M516.3,1589a2.6,2.6 0 1,0 5.3,0a2.6,2.6 0 1,0 -5.3,0M607.6,1540.2a1.8,1.8 0 1,0 3.7,0a1.8,1.8 0 1,0 -3.7,0M506.5,1512a3.1,3.1 0 1,0 6.3,0a3.1,3.1 0 1,0 -6.3,0M406.5,1623.7a2.2,2.2 0 1,0 4.4,0a2.2,2.2 0 1,0 -4.4,0M500.8,1533a1,1 0 1,0 2.1,0a1,1 0 1,0 -2.1,0M609,1634.4a1.8,1.8 0 1,0 3.6,0a1.8,1.8 0 1,0 -3.6,0M508,1649.5a2.9,2.9 0 1,0 5.8,0a2.9,2.9 0 1,0 -5.8,0M528.4,1585.8a3.2,3.2 0 1,0 6.3,0a3.2,3.2 0 1,0 -6.3,0M430.4,1654.2a3.2,3.2 0 1,0 6.5,0a3.2,3.2 0 1,0 -6.5,0M608,1433.7a3,3 0 1,0 6.1,0a3,3 0 1,0 -6.1,0M607,1480.4a1.1,1.1 0 1,0 2.2,0a1.1,1.1 0 1,0 -2.2,0M508.9,1584.5a1.5,1.5 0 1,0 3,0a1.5,1.5 0 1,0 -3,0M589.6,1525a2.3,2.3 0 1,0 4.7,0a2.3,2.3 0 1,0 -4.7,0M558.7,1551.1a2.2,2.2 0 1,0 4.5,0a2.2,2.2 0 1,0 -4.5,0M385.7,1424.5a1.4,1.4 0 1,0 2.9,0a1.4,1.4 0 1,0 -2.9,0M512.1,1688.8a3.4,3.4 0 1,0 6.7,0a3.4,3.4 0 1,0 -6.7,0M465.8,1655.9a2.9,2.9 0 1,0 5.7,0a2.9,2.9 0 1,0 -5.7,0M374.3,1494.1a2.5,2.5 0 1,0 5,0a2.5,2.5 0 1,0 -5,0M456.3,1574.5a2,2 0 1,0 3.9,0a2,2 0 1,0 -3.9,0M394.2,1476.1a2,2 0 1,0 3.9,0a2,2 0 1,0 -3.9,0M586,1635a1.4,1.4 0 1,0 2.8,0a1.4,1.4 0 1,0 -2.8,0M469.6,1658.5a2.3,2.3 0 1,0 4.6,0a2.3,2.3 0 1,0 -4.6,0M468.4,1541.1a1.6,1.6 0 1,0 3.2,0a1.6,1.6 0 1,0 -3.2,0M372.1,1420.3a3.2,3.2 0 1,0 6.3,0a3.2,3.2 0 1,0 -6.3,0M502.9,1547.6a3.2,3.2 0 1,0 6.5,0a3.2,3.2 0 1,0 -6.5,0M536.2,1559.5a1.3,1.3 0 1,0 2.5,0a1.3,1.3 0 1,0 -2.5,0M547.5,1572.8a1.4,1.4 0 1,0 2.8,0a1.4,1.4 0 1,0 -2.8,0M537.8,1406.4a1.8,1.8 0 1,0 3.6,0a1.8,1.8 0 1,0 -3.6,0M538.4,1684.3a1.7,1.7 0 1,0 3.5,0a1.7,1.7 0 1,0 -3.5,0M621.7,1522.5a2.6,2.6 0 1,0 5.2,0a2.6,2.6 0 1,0 -5.2,0M369.9,1559.1a2,2 0 1,0 4,0a2,2 0 1,0 -4,0M477.3,1507.1a2.1,2.1 0 1,0 4.2,0a2.1,2.1 0 1,0 -4.2,0M484.8,1634.5a2.7,2.7 0 1,0 5.4,0a2.7,2.7 0 1,0 -5.4,0M548.2,1621.2a2.6,2.6 0 1,0 5.2,0a2.6,2.6 0 1,0 -5.2,0M402.5,1598.4a1.2,1.2 0 1,0 2.3,0a1.2,1.2 0 1,0 -2.3,0M543.6,1406a1.9,1.9 0 1,0 3.9,0a1.9,1.9 0 1,0 -3.9,0M416.1,1604.2a1.6,1.6 0 1,0 3.2,0a1.6,1.6 0 1,0 -3.2,0M377.6,1563.6a1.5,1.5 0 1,0 3,0a1.5,1.5 0 1,0 -3,0M561.4,1625.2a2.6,2.6 0 1,0 5.2,0a2.6,2.6 0 1,0 -5.2,0M429.2,1671a2.1,2.1 0 1,0 4.3,0a2.1,2.1 0 1,0 -4.3,0M410.9,1543.7a2.9,2.9 0 1,0 5.8,0a2.9,2.9 0 1,0 -5.8,0M400.7,1564.7a3.2,3.2 0 1,0 6.4,0a3.2,3.2 0 1,0 -6.4,0M559.7,1573.4a1.2,1.2 0 1,0 2.5,0a1.2,1.2 0 1,0 -2.5,0M544,1681.5a2,2 0 1,0 4,0a2,2 0 1,0 -4,0M529.2,1599.1a2.8,2.8 0 1,0 5.5,0a2.8,2.8 0 1,0 -5.5,0M424.5,1455.6a3.1,3.1 0 1,0 6.1,0a3.1,3.1 0 1,0 -6.1,0M531.3,1574.9a2.9,2.9 0 1,0 5.9,0a2.9,2.9 0 1,0 -5.9,0M595.6,1483.4a3.4,3.4 0 1,0 6.8,0a3.4,3.4 0 1,0 -6.8,0M567.9,1466a2.8,2.8 0 1,0 5.6,0a2.8,2.8 0 1,0 -5.6,0M534.3,1679.1a3.4,3.4 0 1,0 6.7,0a3.4,3.4 0 1,0 -6.7,0M511.1,1492.7a1.2,1.2 0 1,0 2.3,0a1.2,1.2 0 1,0 -2.3,0M523,1475.7a2.3,2.3 0 1,0 4.7,0a2.3,2.3 0 1,0 -4.7,0M648.8,1694.3a1.7,1.7 0 1,0 3.5,0a1.7,1.7 0 1,0 -3.5,0M598.6,1420a3.1,3.1 0 1,0 6.2,0a3.1,3.1 0 1,0 -6.2,0M567.9,1665.5a2.3,2.3 0 1,0 4.5,0a2.3,2.3 0 1,0 -4.5,0M365.3,1451a1.5,1.5 0 1,0 2.9,0a1.5,1.5 0 1,0 -2.9,0M431.2,1443.8a3.2,3.2 0 1,0 6.3,0a3.2,3.2 0 1,0 -6.3,0M439.6,1633.8a1.9,1.9 0 1,0 3.8,0a1.9,1.9 0 1,0 -3.8,0M439.8,1521.2a2,2 0 1,0 3.9,0a2,2 0 1,0 -3.9,0M524.2,1681.7a2.7,2.7 0 1,0 5.3,0a2.7,2.7 0 1,0 -5.3,0M476.2,1686.3a1.6,1.6 0 1,0 3.2,0a1.6,1.6 0 1,0 -3.2,0M443.6,1585.8a1.3,1.3 0 1,0 2.7,0a1.3,1.3 0 1,0 -2.7,0M557.5,1592.5a1.7,1.7 0 1,0 3.4,0a1.7,1.7 0 1,0 -3.4,0M396,1465.9a3.4,3.4 0 1,0 6.7,0a3.4,3.4 0 1,0 -6.7,0M437,1415a1.2,1.2 0 1,0 2.3,0a1.2,1.2 0 1,0 -2.3,0M402.7,1433.2a3,3 0 1,0 6,0a3,3 0 1,0 -6,0M596.7,1563.5a3.3,3.3 0 1,0 6.5,0a3.3,3.3 0 1,0 -6.5,0M549.1,1632.4a3.1,3.1 0 1,0 6.3,0a3.1,3.1 0 1,0 -6.3,0M496.1,1663a1.4,1.4 0 1,0 2.8,0a1.4,1.4 0 1,0 -2.8,0M410.6,1460.1a3.3,3.3 0 1,0 6.5,0a3.3,3.3 0 1,0 -6.5,0M436.6,1565.3a1.3,1.3 0 1,0 2.5,0a1.3,1.3 0 1,0 -2.5,0M440.3,1534a1.9,1.9 0 1,0 3.9,0a1.9,1.9 0 1,0 -3.9,0M397.5,1648.3a2.1,2.1 0 1,0 4.2,0a2.1,2.1 0 1,0 -4.2,0M457.6,1566.4a3.4,3.4 0 1,0 6.8,0a3.4,3.4 0 1,0 -6.8,0M374.7,1407a2.5,2.5 0 1,0 5,0a2.5,2.5 0 1,0 -5,0M424.1,1681.5a1.5,1.5 0 1,0 3,0a1.5,1.5 0 1,0 -3,0M629,1692.6a1.6,1.6 0 1,0 3.2,0a1.6,1.6 0 1,0 -3.2,0M479.5,1601.5a1.5,1.5 0 1,0 3,0a1.5,1.5 0 1,0 -3,0M500.2,1661.7a2.8,2.8 0 1,0 5.6,0a2.8,2.8 0 1,0 -5.6,0M459.7,1585.9a1.8,1.8 0 1,0 3.6,0a1.8,1.8 0 1,0 -3.6,0M490.2,1566a2.6,2.6 0 1,0 5.2,0a2.6,2.6 0 1,0 -5.2,0M547.4,1595.6a1.2,1.2 0 1,0 2.4,0a1.2,1.2 0 1,0 -2.4,0M494.2,1592.4a1.2,1.2 0 1,0 2.3,0a1.2,1.2 0 1,0 -2.3,0M443.8,1656.5a2.1,2.1 0 1,0 4.1,0a2.1,2.1 0 1,0 -4.1,0M531.7,1442.2a2.3,2.3 0 1,0 4.5,0a2.3,2.3 0 1,0 -4.5,0M553.4,1571.7a1.4,1.4 0 1,0 2.7,0a1.4,1.4 0 1,0 -2.7,0M532.6,1596a2,2 0 1,0 4,0a2,2 0 1,0 -4,0M609.9,1636.5a3.2,3.2 0 1,0 6.4,0a3.2,3.2 0 1,0 -6.4,0M468.1,1587.8a2.9,2.9 0 1,0 5.8,0a2.9,2.9 0 1,0 -5.8,0M453.5,1585.4a1.2,1.2 0 1,0 2.5,0a1.2,1.2 0 1,0 -2.5,0M517.5,1561.6a2.2,2.2 0 1,0 4.5,0a2.2,2.2 0 1,0 -4.5,0M495.2,1649.5a1.4,1.4 0 1,0 2.7,0a1.4,1.4 0 1,0 -2.7,0M480.3,1620.5a1.9,1.9 0 1,0 3.7,0a1.9,1.9 0 1,0 -3.7,0M437.7,1679.4a2.3,2.3 0 1,0 4.5,0a2.3,2.3 0 1,0 -4.5,0M395.4,1486.1a3.2,3.2 0 1,0 6.5,0a3.2,3.2 0 1,0 -6.5,0M517.2,1557.8a1.8,1.8 0 1,0 3.7,0a1.8,1.8 0 1,0 -3.7,0M575.2,1598.4a3.2,3.2 0 1,0 6.4,0a3.2,3.2 0 1,0 -6.4,0M556.7,1474.1a2.4,2.4 0 1,0 4.9,0a2.4,2.4 0 1,0 -4.9,0M384.6,1485.1a2.3,2.3 0 1,0 4.6,0a2.3,2.3 0 1,0 -4.6,0M483.3,1689.7a2.3,2.3 0 1,0 4.5,0a2.3,2.3 0 1,0 -4.5,0M451.9,1624.5a1.3,1.3 0 1,0 2.6,0a1.3,1.3 0 1,0 -2.6,0M563.5,1577.6a1.7,1.7 0 1,0 3.3,0a1.7,1.7 0 1,0 -3.3,0M400.8,1421.3a1.6,1.6 0 1,0 3.2,0a1.6,1.6 0 1,0 -3.2,0M537.4,1584.4a1.8,1.8 0 1,0 3.6,0a1.8,1.8 0 1,0 -3.6,0M557.9,1533.4a2,2 0 1,0 4.1,0a2,2 0 1,0 -4.1,0M395.9,1457.7a2.9,2.9 0 1,0 5.8,0a2.9,2.9 0 1,0 -5.8,0M585.2,1503.5a1.6,1.6 0 1,0 3.3,0a1.6,1.6 0 1,0 -3.3,0M540.6,1443.9a1.7,1.7 0 1,0 3.4,0a1.7,1.7 0 1,0 -3.4,0M478,1571.7a1,1 0 1,0 2.1,0a1,1 0 1,0 -2.1,0M452,1451.3a1.4,1.4 0 1,0 2.8,0a1.4,1.4 0 1,0 -2.8,0M434.6,1512a1.2,1.2 0 1,0 2.4,0a1.2,1.2 0 1,0 -2.4,0M547.4,1690.9a3,3 0 1,0 5.9,0a3,3 0 1,0 -5.9,0M417.9,1553.6a2.1,2.1 0 1,0 4.3,0a2.1,2.1 0 1,0 -4.3,0M567.8,1558.2a1.3,1.3 0 1,0 2.5,0a1.3,1.3 0 1,0 -2.5,0M465.8,1464.2a1.8,1.8 0 1,0 3.5,0a1.8,1.8 0 1,0 -3.5,0M569.3,1528.1a1.6,1.6 0 1,0 3.1,0a1.6,1.6 0 1,0 -3.1,0M511.6,1656.3a2.3,2.3 0 1,0 4.6,0a2.3,2.3 0 1,0 -4.6,0M530.6,1451.8a2.3,2.3 0 1,0 4.6,0a2.3,2.3 0 1,0 -4.6,0M491.2,1629a1.9,1.9 0 1,0 3.8,0a1.9,1.9 0 1,0 -3.8,0M547.8,1591.6a1.6,1.6 0 1,0 3.2,0a1.6,1.6 0 1,0 -3.2,0M628.1,1516.7a1.5,1.5 0 1,0 3,0a1.5,1.5 0 1,0 -3,0M445.5,1626.4a3.2,3.2 0 1,0 6.4,0a3.2,3.2 0 1,0 -6.4,0M458.2,1410.5a1.3,1.3 0 1,0 2.5,0a1.3,1.3 0 1,0 -2.5,0M560.4,1419a2.8,2.8 0 1,0 5.7,0a2.8,2.8 0 1,0 -5.7,0M375.2,1581.2a2,2 0 1,0 4.1,0a2,2 0 1,0 -4.1,0M541.3,1640.3a2.3,2.3 0 1,0 4.7,0a2.3,2.3 0 1,0 -4.7,0M575.4,1424.1a1.1,1.1 0 1,0 2.2,0a1.1,1.1 0 1,0 -2.2,0M501.6,1614.1a2,2 0 1,0 4,0a2,2 0 1,0 -4,0M487.7,1484.4a3.3,3.3 0 1,0 6.6,0a3.3,3.3 0 1,0 -6.6,0M504.3,1548.9a1.2,1.2 0 1,0 2.4,0a1.2,1.2 0 1,0 -2.4,0M573.1,1498.6a1.8,1.8 0 1,0 3.7,0a1.8,1.8 0 1,0 -3.7,0M414.7,1478.9a2.5,2.5 0 1,0 5,0a2.5,2.5 0 1,0 -5,0M492.4,1596.2a1.1,1.1 0 1,0 2.2,0a1.1,1.1 0 1,0 -2.2,0M511.9,1600.5a1.7,1.7 0 1,0 3.4,0a1.7,1.7 0 1,0 -3.4,0M384,1408.9a1.6,1.6 0 1,0 3.2,0a1.6,1.6 0 1,0 -3.2,0M432.5,1405.6a3.3,3.3 0 1,0 6.7,0a3.3,3.3 0 1,0 -6.7,0M583.2,1495.3a1.6,1.6 0 1,0 3.1,0a1.6,1.6 0 1,0 -3.1,0M472.6,1636a3.4,3.4 0 1,0 6.8,0a3.4,3.4 0 1,0 -6.8,0M447.9,1635.9a1.8,1.8 0 1,0 3.6,0a1.8,1.8 0 1,0 -3.6,0M458.9,1653.8a2.1,2.1 0 1,0 4.3,0a2.1,2.1 0 1,0 -4.3,0M618.8,1441.4a2.8,2.8 0 1,0 5.5,0a2.8,2.8 0 1,0 -5.5,0M564.5,1464.2a1.1,1.1 0 1,0 2.1,0a1.1,1.1 0 1,0 -2.1,0M368.3,1574.6a2.6,2.6 0 1,0 5.3,0a2.6,2.6 0 1,0 -5.3,0M457.4,1657.8a2.4,2.4 0 1,0 4.9,0a2.4,2.4 0 1,0 -4.9,0M658.2,1642.2a2.2,2.2 0 1,0 4.5,0a2.2,2.2 0 1,0 -4.5,0M486.5,1680.5a1.7,1.7 0 1,0 3.4,0a1.7,1.7 0 1,0 -3.4,0M460.7,1545a3,3 0 1,0 5.9,0a3,3 0 1,0 -5.9,0M508.8,1617.5a1.7,1.7 0 1,0 3.5,0a1.7,1.7 0 1,0 -3.5,0M570.9,1569.3a1.9,1.9 0 1,0 3.8,0a1.9,1.9 0 1,0 -3.8,0M522.6,1575.4a2.7,2.7 0 1,0 5.3,0a2.7,2.7 0 1,0 -5.3,0M426.2,1618.8a1.2,1.2 0 1,0 2.3,0a1.2,1.2 0 1,0 -2.3,0M421.1,1655.7a1.7,1.7 0 1,0 3.3,0a1.7,1.7 0 1,0 -3.3,0M510.7,1704.4a2.7,2.7 0 1,0 5.5,0a2.7,2.7 0 1,0 -5.5,0M385.2,1580.5a2.4,2.4 0 1,0 4.8,0a2.4,2.4 0 1,0 -4.8,0M400,1553.4a2.3,2.3 0 1,0 4.5,0a2.3,2.3 0 1,0 -4.5,0M438.1,1435.2a3.4,3.4 0 1,0 6.7,0a3.4,3.4 0 1,0 -6.7,0M529.2,1585.5a1.7,1.7 0 1,0 3.4,0a1.7,1.7 0 1,0 -3.4,0M570.6,1595.7a2.9,2.9 0 1,0 5.9,0a2.9,2.9 0 1,0 -5.9,0M526.4,1657.3a2.4,2.4 0 1,0 4.8,0a2.4,2.4 0 1,0 -4.8,0M591,1518a3.2,3.2 0 1,0 6.4,0a3.2,3.2 0 1,0 -6.4,0M450.1,1647.1a3.2,3.2 0 1,0 6.5,0a3.2,3.2 0 1,0 -6.5,0M509.9,1557.9a1.8,1.8 0 1,0 3.7,0a1.8,1.8 0 1,0 -3.7,0M580.1,1550.1a2.1,2.1 0 1,0 4.2,0a2.1,2.1 0 1,0 -4.2,0M431.9,1411.1a1.2,1.2 0 1,0 2.4,0a1.2,1.2 0 1,0 -2.4,0M533.6,1622.6a2.3,2.3 0 1,0 4.6,0a2.3,2.3 0 1,0 -4.6,0M608.2,1682.2a2.8,2.8 0 1,0 5.6,0a2.8,2.8 0 1,0 -5.6,0M410.7,1605.7a2.8,2.8 0 1,0 5.7,0a2.8,2.8 0 1,0 -5.7,0M624.4,1543.2a2.7,2.7 0 1,0 5.5,0a2.7,2.7 0 1,0 -5.5,0M570.4,1515.9a1.8,1.8 0 1,0 3.7,0a1.8,1.8 0 1,0 -3.7,0M444.5,1617.9a2.8,2.8 0 1,0 5.6,0a2.8,2.8 0 1,0 -5.6,0M518.5,1607.2a2.1,2.1 0 1,0 4.2,0a2.1,2.1 0 1,0 -4.2,0M402.5,1418.5a2.5,2.5 0 1,0 4.9,0a2.5,2.5 0 1,0 -4.9,0M502,1595.1a2.5,2.5 0 1,0 4.9,0a2.5,2.5 0 1,0 -4.9,0M434.5,1613.1a1.4,1.4 0 1,0 2.8,0a1.4,1.4 0 1,0 -2.8,0M511.1,1635.9a3.2,3.2 0 1,0 6.3,0a3.2,3.2 0 1,0 -6.3,0M408.4,1469.1a2.1,2.1 0 1,0 4.2,0a2.1,2.1 0 1,0 -4.2,0M532.5,1678.4a2.5,2.5 0 1,0 5.1,0a2.5,2.5 0 1,0 -5.1,0M499.3,1545.1a1.9,1.9 0 1,0 3.9,0a1.9,1.9 0 1,0 -3.9,0M446.3,1541.7a3.1,3.1 0 1,0 6.2,0a3.1,3.1 0 1,0 -6.2,0M531.1,1589.3a1.4,1.4 0 1,0 2.7,0a1.4,1.4 0 1,0 -2.7,0M492.5,1554.3a2,2 0 1,0 4,0a2,2 0 1,0 -4,0M580.4,1581a2.7,2.7 0 1,0 5.4,0a2.7,2.7 0 1,0 -5.4,0M519.9,1557.9a3.4,3.4 0 1,0 6.8,0a3.4,3.4 0 1,0 -6.8,0M639.6,1478.8a2.2,2.2 0 1,0 4.4,0a2.2,2.2 0 1,0 -4.4,0M512.5,1625.9a3.2,3.2 0 1,0 6.4,0a3.2,3.2 0 1,0 -6.4,0M420.4,1435.2a3.4,3.4 0 1,0 6.8,0a3.4,3.4 0 1,0 -6.8,0M533.4,1621.3a3.3,3.3 0 1,0 6.5,0a3.3,3.3 0 1,0 -6.5,0M548.4,1565.2a1.5,1.5 0 1,0 3.1,0a1.5,1.5 0 1,0 -3.1,0M455.3,1409.9a2.7,2.7 0 1,0 5.5,0a2.7,2.7 0 1,0 -5.5,0M503.3,1460a2.3,2.3 0 1,0 4.5,0a2.3,2.3 0 1,0 -4.5,0M606.7,1501.1a2,2 0 1,0 4,0a2,2 0 1,0 -4,0M581.9,1472.6a2.5,2.5 0 1,0 4.9,0a2.5,2.5 0 1,0 -4.9,0M632.7,1418.6a2.7,2.7 0 1,0 5.5,0a2.7,2.7 0 1,0 -5.5,0M498,1619.3a1.1,1.1 0 1,0 2.2,0a1.1,1.1 0 1,0 -2.2,0M548.8,1704.8a3.2,3.2 0 1,0 6.3,0a3.2,3.2 0 1,0 -6.3,0M467.8,1628.6a1.3,1.3 0 1,0 2.7,0a1.3,1.3 0 1,0 -2.7,0M543.1,1679.1a1.1,1.1 0 1,0 2.1,0a1.1,1.1 0 1,0 -2.1,0M417,1571.3a1.2,1.2 0 1,0 2.3,0a1.2,1.2 0 1,0 -2.3,0M499.5,1624.2a2.1,2.1 0 1,0 4.2,0a2.1,2.1 0 1,0 -4.2,0M540.4,1598.4a1.5,1.5 0 1,0 2.9,0a1.5,1.5 0 1,0 -2.9,0M585.5,1564a2.5,2.5 0 1,0 5,0a2.5,2.5 0 1,0 -5,0M489.7,1510.1a1.8,1.8 0 1,0 3.7,0a1.8,1.8 0 1,0 -3.7,0M602.4,1465a2.5,2.5 0 1,0 5,0a2.5,2.5 0 1,0 -5,0M552.5,1588.3a3.1,3.1 0 1,0 6.1,0a3.1,3.1 0 1,0 -6.1,0M473,1630.4a1.3,1.3 0 1,0 2.5,0a1.3,1.3 0 1,0 -2.5,0M386.8,1521.3a1.2,1.2 0 1,0 2.4,0a1.2,1.2 0 1,0 -2.4,0M393.8,1693.3a3.3,3.3 0 1,0 6.6,0a3.3,3.3 0 1,0 -6.6,0M431.4,1590.7a2.9,2.9 0 1,0 5.7,0a2.9,2.9 0 1,0 -5.7,0M368.1,1627.7a2.5,2.5 0 1,0 5.1,0a2.5,2.5 0 1,0 -5.1,0M484.5,1700.9a1.4,1.4 0 1,0 2.8,0a1.4,1.4 0 1,0 -2.8,0M597.9,1675.1a1.9,1.9 0 1,0 3.8,0a1.9,1.9 0 1,0 -3.8,0M376.6,1520.8a3.2,3.2 0 1,0 6.4,0a3.2,3.2 0 1,0 -6.4,0M392.3,1428.4a1,1 0 1,0 2,0a1,1 0 1,0 -2,0M528.2,1579.8a1.9,1.9 0 1,0 3.8,0a1.9,1.9 0 1,0 -3.8,0M547.7,1582.3a2.7,2.7 0 1,0 5.3,0a2.7,2.7 0 1,0 -5.3,0M406.1,1636.5a3.2,3.2 0 1,0 6.4,0a3.2,3.2 0 1,0 -6.4,0M392.5,1509.3a2.5,2.5 0 1,0 5,0a2.5,2.5 0 1,0 -5,0M438.7,1462.2a2.9,2.9 0 1,0 5.7,0a2.9,2.9 0 1,0 -5.7,0M456.8,1555.3a2.5,2.5 0 1,0 5.1,0a2.5,2.5 0 1,0 -5.1,0M426.2,1511a2.8,2.8 0 1,0 5.6,0a2.8,2.8 0 1,0 -5.6,0M516,1644.1a1.3,1.3 0 1,0 2.5,0a1.3,1.3 0 1,0 -2.5,0M410.9,1540a2.8,2.8 0 1,0 5.5,0a2.8,2.8 0 1,0 -5.5,0M554.8,1581.9a2.6,2.6 0 1,0 5.2,0a2.6,2.6 0 1,0 -5.2,0M531.4,1430a3.2,3.2 0 1,0 6.4,0a3.2,3.2 0 1,0 -6.4,0M438.2,1693.4a1.2,1.2 0 1,0 2.4,0a1.2,1.2 0 1,0 -2.4,0M571.2,1642a3.4,3.4 0 1,0 6.8,0a3.4,3.4 0 1,0 -6.8,0M559.9,1457.1a3,3 0 1,0 6,0a3,3 0 1,0 -6,0M470.5,1611.7a2.4,2.4 0 1,0 4.9,0a2.4,2.4 0 1,0 -4.9,0M440.5,1663.8a1.7,1.7 0 1,0 3.4,0a1.7,1.7 0 1,0 -3.4,0M415.6,1540.5a1.8,1.8 0 1,0 3.6,0a1.8,1.8 0 1,0 -3.6,0M547.2,1574.9a3.2,3.2 0 1,0 6.3,0a3.2,3.2 0 1,0 -6.3,0M515.6,1648.6a2.9,2.9 0 1,0 5.9,0a2.9,2.9 0 1,0 -5.9,0M446.6,1624.3a1.9,1.9 0 1,0 3.9,0a1.9,1.9 0 1,0 -3.9,0M481.3,1695.8a2.3,2.3 0 1,0 4.6,0a2.3,2.3 0 1,0 -4.6,0M440,1598.5a3.1,3.1 0 1,0 6.2,0a3.1,3.1 0 1,0 -6.2,0M409.5,1550.3a2.3,2.3 0 1,0 4.5,0a2.3,2.3 0 1,0 -4.5,0M389.4,1647.1a2.4,2.4 0 1,0 4.9,0a2.4,2.4 0 1,0 -4.9,0M521.3,1659.8a1.1,1.1 0 1,0 2.2,0a1.1,1.1 0 1,0 -2.2,0M376.7,1418.7a2.7,2.7 0 1,0 5.5,0a2.7,2.7 0 1,0 -5.5,0M601.6,1664.6a2.8,2.8 0 1,0 5.7,0a2.8,2.8 0 1,0 -5.7,0M514.4,1621a3.3,3.3 0 1,0 6.6,0a3.3,3.3 0 1,0 -6.6,0M479,1567.4a1.5,1.5 0 1,0 2.9,0a1.5,1.5 0 1,0 -2.9,0M533.6,1551.8a1.8,1.8 0 1,0 3.5,0a1.8,1.8 0 1,0 -3.5,0M403.6,1685a1.5,1.5 0 1,0 2.9,0a1.5,1.5 0 1,0 -2.9,0M563.8,1691.3a2.4,2.4 0 1,0 4.8,0a2.4,2.4 0 1,0 -4.8,0M560.1,1501a1.4,1.4 0 1,0 2.8,0a1.4,1.4 0 1,0 -2.8,0M542.4,1479.1a1.4,1.4 0 1,0 2.7,0a1.4,1.4 0 1,0 -2.7,0M411.9,1574.2a1.1,1.1 0 1,0 2.2,0a1.1,1.1 0 1,0 -2.2,0M387.7,1655.9a1.6,1.6 0 1,0 3.2,0a1.6,1.6 0 1,0 -3.2,0M537.4,1516.4a3,3 0 1,0 5.9,0a3,3 0 1,0 -5.9,0M382,1441.9a1.2,1.2 0 1,0 2.4,0a1.2,1.2 0 1,0 -2.4,0M571.8,1560.4a1.2,1.2 0 1,0 2.4,0a1.2,1.2 0 1,0 -2.4,0M517.9,1639.7a1.1,1.1 0 1,0 2.2,0a1.1,1.1 0 1,0 -2.2,0M536.5,1635a3.3,3.3 0 1,0 6.7,0a3.3,3.3 0 1,0 -6.7,0M521.8,1633.6a1.8,1.8 0 1,0 3.6,0a1.8,1.8 0 1,0 -3.6,0M427.1,1447.8a3.3,3.3 0 1,0 6.6,0a3.3,3.3 0 1,0 -6.6,0M635.8,1505.4a2.5,2.5 0 1,0 4.9,0a2.5,2.5 0 1,0 -4.9,0M401,1508.4a1.2,1.2 0 1,0 2.3,0a1.2,1.2 0 1,0 -2.3,0M449,1636.6a2.3,2.3 0 1,0 4.6,0a2.3,2.3 0 1,0 -4.6,0M401.4,1480.6a3.1,3.1 0 1,0 6.2,0a3.1,3.1 0 1,0 -6.2,0M530.6,1649.6a3.1,3.1 0 1,0 6.2,0a3.1,3.1 0 1,0 -6.2,0M648.6,1657.6a1.4,1.4 0 1,0 2.8,0a1.4,1.4 0 1,0 -2.8,0M597.9,1504.5a1.8,1.8 0 1,0 3.5,0a1.8,1.8 0 1,0 -3.5,0M384.6,1560.7a2.2,2.2 0 1,0 4.3,0a2.2,2.2 0 1,0 -4.3,0M614.9,1492.6a1.2,1.2 0 1,0 2.3,0a1.2,1.2 0 1,0 -2.3,0M443.9,1600.8a2.2,2.2 0 1,0 4.5,0a2.2,2.2 0 1,0 -4.5,0M422.4,1457.1a2.9,2.9 0 1,0 5.8,0a2.9,2.9 0 1,0 -5.8,0M422.2,1564.6a2.2,2.2 0 1,0 4.4,0a2.2,2.2 0 1,0 -4.4,0M425.7,1679a2.4,2.4 0 1,0 4.9,0a2.4,2.4 0 1,0 -4.9,0M539.9,1458.8a1.5,1.5 0 1,0 3,0a1.5,1.5 0 1,0 -3,0M655.6,1616.5a2.1,2.1 0 1,0 4.1,0a2.1,2.1 0 1,0 -4.1,0M477.2,1548.4a2.1,2.1 0 1,0 4.2,0a2.1,2.1 0 1,0 -4.2,0M417,1613.4a3.1,3.1 0 1,0 6.2,0a3.1,3.1 0 1,0 -6.2,0M405.9,1613.5a1.5,1.5 0 1,0 3.1,0a1.5,1.5 0 1,0 -3.1,0M548.5,1534.4a2.2,2.2 0 1,0 4.5,0a2.2,2.2 0 1,0 -4.5,0M373.1,1527.1a1.1,1.1 0 1,0 2.2,0a1.1,1.1 0 1,0 -2.2,0M480.2,1536.9a1.1,1.1 0 1,0 2.2,0a1.1,1.1 0 1,0 -2.2,0M637.7,1494.2a2.3,2.3 0 1,0 4.6,0a2.3,2.3 0 1,0 -4.6,0M519.8,1549.1a2,2 0 1,0 3.9,0a2,2 0 1,0 -3.9,0M369.6,1416.7a2.4,2.4 0 1,0 4.9,0a2.4,2.4 0 1,0 -4.9,0M533.3,1608.3a1.6,1.6 0 1,0 3.2,0a1.6,1.6 0 1,0 -3.2,0M361.5,1557.1a1.9,1.9 0 1,0 3.8,0a1.9,1.9 0 1,0 -3.8,0M367,1556.1a1.9,1.9 0 1,0 3.7,0a1.9,1.9 0 1,0 -3.7,0M390.7,1422.6a1.8,1.8 0 1,0 3.6,0a1.8,1.8 0 1,0 -3.6,0M569.4,1546a1.4,1.4 0 1,0 2.8,0a1.4,1.4 0 1,0 -2.8,0M460.4,1699.3a1.8,1.8 0 1,0 3.6,0a1.8,1.8 0 1,0 -3.6,0M385.4,1621a3.3,3.3 0 1,0 6.6,0a3.3,3.3 0 1,0 -6.6,0M531.4,1648.3a1.9,1.9 0 1,0 3.7,0a1.9,1.9 0 1,0 -3.7,0M570.4,1484.7a3,3 0 1,0 6.1,0a3,3 0 1,0 -6.1,0M437,1667.3a2.8,2.8 0 1,0 5.7,0a2.8,2.8 0 1,0 -5.7,0M380.2,1625.2a3.2,3.2 0 1,0 6.5,0a3.2,3.2 0 1,0 -6.5,0M463.3,1429.5a2.1,2.1 0 1,0 4.2,0a2.1,2.1 0 1,0 -4.2,0M471.8,1623.3a1.9,1.9 0 1,0 3.8,0a1.9,1.9 0 1,0 -3.8,0M517.1,1614.2a2.6,2.6 0 1,0 5.2,0a2.6,2.6 0 1,0 -5.2,0M472.2,1637.8a1.8,1.8 0 1,0 3.5,0a1.8,1.8 0 1,0 -3.5,0M393.4,1463.5a1.1,1.1 0 1,0 2.2,0a1.1,1.1 0 1,0 -2.2,0M401.6,1440.6a1.1,1.1 0 1,0 2.2,0a1.1,1.1 0 1,0 -2.2,0M477,1442.9a1.2,1.2 0 1,0 2.5,0a1.2,1.2 0 1,0 -2.5,0M415.5,1640.1a2,2 0 1,0 4,0a2,2 0 1,0 -4,0M612.4,1628.3a2.3,2.3 0 1,0 4.6,0a2.3,2.3 0 1,0 -4.6,0M433.8,1564.3a1,1 0 1,0 2,0a1,1 0 1,0 -2,0M478.3,1534.2a2.7,2.7 0 1,0 5.4,0a2.7,2.7 0 1,0 -5.4,0M569.4,1452a3.1,3.1 0 1,0 6.2,0a3.1,3.1 0 1,0 -6.2,0M480,1623.1a3.2,3.2 0 1,0 6.5,0a3.2,3.2 0 1,0 -6.5,0M563.6,1669.9a1.9,1.9 0 1,0 3.9,0a1.9,1.9 0 1,0 -3.9,0M472.1,1676.7a2,2 0 1,0 4,0a2,2 0 1,0 -4,0M629.1,1539.9a1.1,1.1 0 1,0 2.2,0a1.1,1.1 0 1,0 -2.2,0M400.1,1458.4a2.8,2.8 0 1,0 5.6,0a2.8,2.8 0 1,0 -5.6,0M489.5,1702.5a1.7,1.7 0 1,0 3.4,0a1.7,1.7 0 1,0 -3.4,0M388.1,1468.5a3.1,3.1 0 1,0 6.1,0a3.1,3.1 0 1,0 -6.1,0M391,1680.6a2.2,2.2 0 1,0 4.5,0a2.2,2.2 0 1,0 -4.5,0M565.5,1556.5a1.9,1.9 0 1,0 3.8,0a1.9,1.9 0 1,0 -3.8,0M518,1686.4a2,2 0 1,0 4,0a2,2 0 1,0 -4,0M400.9,1654.6a2.2,2.2 0 1,0 4.4,0a2.2,2.2 0 1,0 -4.4,0M545.5,1635.6a1.5,1.5 0 1,0 2.9,0a1.5,1.5 0 1,0 -2.9,0M433,1638a1.3,1.3 0 1,0 2.7,0a1.3,1.3 0 1,0 -2.7,0M416.3,1649.2a3.3,3.3 0 1,0 6.5,0a3.3,3.3 0 1,0 -6.5,0M498.8,1669a1.2,1.2 0 1,0 2.3,0a1.2,1.2 0 1,0 -2.3,0M503,1612.4a2.3,2.3 0 1,0 4.7,0a2.3,2.3 0 1,0 -4.7,0M381,1673.1a1.7,1.7 0 1,0 3.4,0a1.7,1.7 0 1,0 -3.4,0M601,1409.4a1,1 0 1,0 2,0a1,1 0 1,0 -2,0M465.2,1636.6a2.4,2.4 0 1,0 4.8,0a2.4,2.4 0 1,0 -4.8,0M423.6,1589.1a3.2,3.2 0 1,0 6.4,0a3.2,3.2 0 1,0 -6.4,0M447.1,1610.3a3.3,3.3 0 1,0 6.5,0a3.3,3.3 0 1,0 -6.5,0M416.8,1433.2a2.3,2.3 0 1,0 4.5,0a2.3,2.3 0 1,0 -4.5,0M394.8,1518.9a2.4,2.4 0 1,0 4.8,0a2.4,2.4 0 1,0 -4.8,0M531.6,1609.9a1.3,1.3 0 1,0 2.6,0a1.3,1.3 0 1,0 -2.6,0M452.1,1628.3a2.1,2.1 0 1,0 4.2,0a2.1,2.1 0 1,0 -4.2,0M507.1,1569.2a3.3,3.3 0 1,0 6.7,0a3.3,3.3 0 1,0 -6.7,0M511.7,1614.5a1.7,1.7 0 1,0 3.4,0a1.7,1.7 0 1,0 -3.4,0M408,1473a1.5,1.5 0 1,0 3,0a1.5,1.5 0 1,0 -3,0M470.2,1695a1.6,1.6 0 1,0 3.2,0a1.6,1.6 0 1,0 -3.2,0M481.9,1674a2.3,2.3 0 1,0 4.7,0a2.3,2.3 0 1,0 -4.7,0M543.6,1571.2a1.6,1.6 0 1,0 3.2,0a1.6,1.6 0 1,0 -3.2,0M603.3,1427.3a2.9,2.9 0 1,0 5.9,0a2.9,2.9 0 1,0 -5.9,0M512.6,1469.7a2.7,2.7 0 1,0 5.4,0a2.7,2.7 0 1,0 -5.4,0M469.2,1613.4a3.3,3.3 0 1,0 6.5,0a3.3,3.3 0 1,0 -6.5,0M507.3,1657a1.2,1.2 0 1,0 2.5,0a1.2,1.2 0 1,0 -2.5,0M552,1567.9a3.2,3.2 0 1,0 6.4,0a3.2,3.2 0 1,0 -6.4,0M545.5,1583.4a3.1,3.1 0 1,0 6.2,0a3.1,3.1 0 1,0 -6.2,0M430.9,1549.9a1.1,1.1 0 1,0 2.1,0a1.1,1.1 0 1,0 -2.1,0M467.7,1682.7a3,3 0 1,0 6,0a3,3 0 1,0 -6,0M453.8,1460.4a1.6,1.6 0 1,0 3.2,0a1.6,1.6 0 1,0 -3.2,0M570.6,1431.9a1.1,1.1 0 1,0 2.2,0a1.1,1.1 0 1,0 -2.2,0M437.8,1555.5a3,3 0 1,0 6,0a3,3 0 1,0 -6,0M442,1610.7a1.2,1.2 0 1,0 2.4,0a1.2,1.2 0 1,0 -2.4,0M584.2,1577.5a2.6,2.6 0 1,0 5.3,0a2.6,2.6 0 1,0 -5.3,0M571.2,1452.2a2.6,2.6 0 1,0 5.2,0a2.6,2.6 0 1,0 -5.2,0M507.6,1625.2a1.4,1.4 0 1,0 2.9,0a1.4,1.4 0 1,0 -2.9,0M412.5,1442.6a2.4,2.4 0 1,0 4.8,0a2.4,2.4 0 1,0 -4.8,0M463.8,1627.9a1.5,1.5 0 1,0 3,0a1.5,1.5 0 1,0 -3,0M569.3,1566.7a2.6,2.6 0 1,0 5.3,0a2.6,2.6 0 1,0 -5.3,0M416.9,1600.6a2.4,2.4 0 1,0 4.7,0a2.4,2.4 0 1,0 -4.7,0M531.5,1701.3a3.2,3.2 0 1,0 6.3,0a3.2,3.2 0 1,0 -6.3,0M474.4,1652.8a1.6,1.6 0 1,0 3.3,0a1.6,1.6 0 1,0 -3.3,0M525.6,1573.4a1.3,1.3 0 1,0 2.5,0a1.3,1.3 0 1,0 -2.5,0M537.1,1482.3a3.4,3.4 0 1,0 6.7,0a3.4,3.4 0 1,0 -6.7,0M440.4,1670.1a2.5,2.5 0 1,0 5.1,0a2.5,2.5 0 1,0 -5.1,0M365,1552.5a1.7,1.7 0 1,0 3.4,0a1.7,1.7 0 1,0 -3.4,0M409.1,1431.4a2.5,2.5 0 1,0 5,0a2.5,2.5 0 1,0 -5,0M433.5,1440.4a1.3,1.3 0 1,0 2.5,0a1.3,1.3 0 1,0 -2.5,0M551,1576.8a1.4,1.4 0 1,0 2.8,0a1.4,1.4 0 1,0 -2.8,0M372.8,1426.8a2.7,2.7 0 1,0 5.5,0a2.7,2.7 0 1,0 -5.5,0M384.8,1700.4a1.9,1.9 0 1,0 3.8,0a1.9,1.9 0 1,0 -3.8,0M611.8,1424.5a1.2,1.2 0 1,0 2.3,0a1.2,1.2 0 1,0 -2.3,0M446.9,1607.2a2.1,2.1 0 1,0 4.2,0a2.1,2.1 0 1,0 -4.2,0M541.5,1541a2.8,2.8 0 1,0 5.6,0a2.8,2.8 0 1,0 -5.6,0M438.3,1592.8a2.8,2.8 0 1,0 5.6,0a2.8,2.8 0 1,0 -5.6,0M441.8,1604.9a3.2,3.2 0 1,0 6.3,0a3.2,3.2 0 1,0 -6.3,0M565.6,1497.6a1.7,1.7 0 1,0 3.3,0a1.7,1.7 0 1,0 -3.3,0M571,1514.7a1.8,1.8 0 1,0 3.6,0a1.8,1.8 0 1,0 -3.6,0M455.9,1608.9a2.4,2.4 0 1,0 4.8,0a2.4,2.4 0 1,0 -4.8,0M410.5,1419.4a2.8,2.8 0 1,0 5.6,0a2.8,2.8 0 1,0 -5.6,0M468.1,1668.5a2.4,2.4 0 1,0 4.8,0a2.4,2.4 0 1,0 -4.8,0M525,1687.4a1.8,1.8 0 1,0 3.6,0a1.8,1.8 0 1,0 -3.6,0M413.3,1432.2a2.5,2.5 0 1,0 4.9,0a2.5,2.5 0 1,0 -4.9,0M451.9,1676.5a2.9,2.9 0 1,0 5.7,0a2.9,2.9 0 1,0 -5.7,0M405.2,1598.4a1.9,1.9 0 1,0 3.9,0a1.9,1.9 0 1,0 -3.9,0M437.1,1491.4a2.1,2.1 0 1,0 4.2,0a2.1,2.1 0 1,0 -4.2,0M427.2,1595.9a1.6,1.6 0 1,0 3.2,0a1.6,1.6 0 1,0 -3.2,0M513.2,1482a2.1,2.1 0 1,0 4.2,0a2.1,2.1 0 1,0 -4.2,0M589.8,1596.4a2.5,2.5 0 1,0 5,0a2.5,2.5 0 1,0 -5,0M587.2,1607.6a2.9,2.9 0 1,0 5.9,0a2.9,2.9 0 1,0 -5.9,0M392.2,1405.8a1.7,1.7 0 1,0 3.3,0a1.7,1.7 0 1,0 -3.3,0M463,1442.5a3.3,3.3 0 1,0 6.6,0a3.3,3.3 0 1,0 -6.6,0M506.6,1554.6a1.2,1.2 0 1,0 2.5,0a1.2,1.2 0 1,0 -2.5,0M562.2,1459a2.8,2.8 0 1,0 5.6,0a2.8,2.8 0 1,0 -5.6,0M367.6,1454.9a2.1,2.1 0 1,0 4.2,0a2.1,2.1 0 1,0 -4.2,0M606.1,1474.9a2.6,2.6 0 1,0 5.1,0a2.6,2.6 0 1,0 -5.1,0M412.4,1537.4a2.1,2.1 0 1,0 4.1,0a2.1,2.1 0 1,0 -4.1,0M413.6,1461a3.3,3.3 0 1,0 6.5,0a3.3,3.3 0 1,0 -6.5,0M549.9,1618.1a1,1 0 1,0 2,0a1,1 0 1,0 -2,0M624.2,1547.5a2.3,2.3 0 1,0 4.7,0a2.3,2.3 0 1,0 -4.7,0M402.7,1625.3a1.2,1.2 0 1,0 2.4,0a1.2,1.2 0 1,0 -2.4,0M429.2,1635a1.3,1.3 0 1,0 2.6,0a1.3,1.3 0 1,0 -2.6,0M609.7,1504.2a2.2,2.2 0 1,0 4.4,0a2.2,2.2 0 1,0 -4.4,0M419,1533.1a2.3,2.3 0 1,0 4.6,0a2.3,2.3 0 1,0 -4.6,0M506.5,1643a3.3,3.3 0 1,0 6.6,0a3.3,3.3 0 1,0 -6.6,0M467.4,1586.4a2.5,2.5 0 1,0 5.1,0a2.5,2.5 0 1,0 -5.1,0M502.2,1682a2,2 0 1,0 3.9,0a2,2 0 1,0 -3.9,0M437.5,1655.9a1.9,1.9 0 1,0 3.8,0a1.9,1.9 0 1,0 -3.8,0M550.7,1608.3a1.2,1.2 0 1,0 2.3,0a1.2,1.2 0 1,0 -2.3,0M503.3,1701.4a3,3 0 1,0 6,0a3,3 0 1,0 -6,0M547,1561.4a1.2,1.2 0 1,0 2.3,0a1.2,1.2 0 1,0 -2.3,0M526.5,1595.9a1.2,1.2 0 1,0 2.4,0a1.2,1.2 0 1,0 -2.4,0M489.7,1604.5a1.4,1.4 0 1,0 2.7,0a1.4,1.4 0 1,0 -2.7,0M447.4,1431.5a2.1,2.1 0 1,0 4.3,0a2.1,2.1 0 1,0 -4.3,0M536.7,1566.2a1.4,1.4 0 1,0 2.9,0a1.4,1.4 0 1,0 -2.9,0M482,1704.4a2.2,2.2 0 1,0 4.4,0a2.2,2.2 0 1,0 -4.4,0M613.3,1697.2a2.2,2.2 0 1,0 4.4,0a2.2,2.2 0 1,0 -4.4,0M549.6,1514.2a3,3 0 1,0 5.9,0a3,3 0 1,0 -5.9,0M498.8,1572.2a3.1,3.1 0 1,0 6.3,0a3.1,3.1 0 1,0 -6.3,0M405,1436.3a3.4,3.4 0 1,0 6.8,0a3.4,3.4 0 1,0 -6.8,0M470.1,1566.4a2.1,2.1 0 1,0 4.2,0a2.1,2.1 0 1,0 -4.2,0M486.7,1462.7a1.5,1.5 0 1,0 3,0a1.5,1.5 0 1,0 -3,0M413.4,1494.1a2,2 0 1,0 4.1,0a2,2 0 1,0 -4.1,0M436.9,1626.7a2.8,2.8 0 1,0 5.6,0a2.8,2.8 0 1,0 -5.6,0M435.7,1506.5a2.2,2.2 0 1,0 4.4,0a2.2,2.2 0 1,0 -4.4,0M425.4,1616.4a1.8,1.8 0 1,0 3.7,0a1.8,1.8 0 1,0 -3.7,0M426.8,1450.4a3,3 0 1,0 6.1,0a3,3 0 1,0 -6.1,0M413.2,1504.6a2.8,2.8 0 1,0 5.6,0a2.8,2.8 0 1,0 -5.6,0M575.2,1512.5a3.1,3.1 0 1,0 6.3,0a3.1,3.1 0 1,0 -6.3,0M487.4,1675.4a1.6,1.6 0 1,0 3.1,0a1.6,1.6 0 1,0 -3.1,0M470.7,1525.9a2.4,2.4 0 1,0 4.8,0a2.4,2.4 0 1,0 -4.8,0M524.2,1548.1a1.4,1.4 0 1,0 2.8,0a1.4,1.4 0 1,0 -2.8,0M510.5,1548.4a2.2,2.2 0 1,0 4.5,0a2.2,2.2 0 1,0 -4.5,0M484.7,1579.3a2.3,2.3 0 1,0 4.5,0a2.3,2.3 0 1,0 -4.5,0M457.5,1635.4a3.2,3.2 0 1,0 6.3,0a3.2,3.2 0 1,0 -6.3,0M479.3,1613.4a2,2 0 1,0 4.1,0a2,2 0 1,0 -4.1,0M444.3,1683.3a2.8,2.8 0 1,0 5.6,0a2.8,2.8 0 1,0 -5.6,0M378.9,1540.4a1.6,1.6 0 1,0 3.2,0a1.6,1.6 0 1,0 -3.2,0M463,1561.3a2.1,2.1 0 1,0 4.2,0a2.1,2.1 0 1,0 -4.2,0M395.1,1654.8a2.9,2.9 0 1,0 5.8,0a2.9,2.9 0 1,0 -5.8,0M420.4,1528.5a1.7,1.7 0 1,0 3.5,0a1.7,1.7 0 1,0 -3.5,0M465.7,1627.3a2.3,2.3 0 1,0 4.6,0a2.3,2.3 0 1,0 -4.6,0M553.2,1554.1a3.1,3.1 0 1,0 6.2,0a3.1,3.1 0 1,0 -6.2,0M428.4,1654.2a2.5,2.5 0 1,0 4.9,0a2.5,2.5 0 1,0 -4.9,0M400,1629.5a1.7,1.7 0 1,0 3.3,0a1.7,1.7 0 1,0 -3.3,0M576.7,1619.6a2.8,2.8 0 1,0 5.7,0a2.8,2.8 0 1,0 -5.7,0M412.1,1687.8a2.8,2.8 0 1,0 5.5,0a2.8,2.8 0 1,0 -5.5,0M497.2,1596.4a1.5,1.5 0 1,0 2.9,0a1.5,1.5 0 1,0 -2.9,0M520.8,1583.7a3,3 0 1,0 6,0a3,3 0 1,0 -6,0M559.1,1486.9a2.5,2.5 0 1,0 5,0a2.5,2.5 0 1,0 -5,0M530.4,1531a2.8,2.8 0 1,0 5.6,0a2.8,2.8 0 1,0 -5.6,0M420.6,1515.3a3.2,3.2 0 1,0 6.4,0a3.2,3.2 0 1,0 -6.4,0M608.3,1517.5a1.6,1.6 0 1,0 3.1,0a1.6,1.6 0 1,0 -3.1,0M527.9,1579.3a1.6,1.6 0 1,0 3.2,0a1.6,1.6 0 1,0 -3.2,0M468.4,1650.9a1.4,1.4 0 1,0 2.9,0a1.4,1.4 0 1,0 -2.9,0M393.1,1568.8a3.3,3.3 0 1,0 6.6,0a3.3,3.3 0 1,0 -6.6,0M533.1,1659.4a1.9,1.9 0 1,0 3.8,0a1.9,1.9 0 1,0 -3.8,0M412.8,1581.9a1.6,1.6 0 1,0 3.2,0a1.6,1.6 0 1,0 -3.2,0M455.9,1678.5a2.2,2.2 0 1,0 4.5,0a2.2,2.2 0 1,0 -4.5,0M523.9,1593.9a1.3,1.3 0 1,0 2.5,0a1.3,1.3 0 1,0 -2.5,0M405.8,1637.9a2.1,2.1 0 1,0 4.2,0a2.1,2.1 0 1,0 -4.2,0M368,1414.2a3.4,3.4 0 1,0 6.8,0a3.4,3.4 0 1,0 -6.8,0M587.9,1583.6a1.8,1.8 0 1,0 3.5,0a1.8,1.8 0 1,0 -3.5,0M421.3,1518.7a2,2 0 1,0 4.1,0a2,2 0 1,0 -4.1,0M545.2,1604.4a2.1,2.1 0 1,0 4.2,0a2.1,2.1 0 1,0 -4.2,0M536,1687.8a1.2,1.2 0 1,0 2.4,0a1.2,1.2 0 1,0 -2.4,0M526.9,1631.4a1.8,1.8 0 1,0 3.6,0a1.8,1.8 0 1,0 -3.6,0M606.4,1502.5a1.5,1.5 0 1,0 3.1,0a1.5,1.5 0 1,0 -3.1,0M636.6,1592.6a3.3,3.3 0 1,0 6.7,0a3.3,3.3 0 1,0 -6.7,0M362.8,1513.4a2.5,2.5 0 1,0 5,0a2.5,2.5 0 1,0 -5,0M528.3,1569.3a3.2,3.2 0 1,0 6.4,0a3.2,3.2 0 1,0 -6.4,0M443.2,1602.4a2.6,2.6 0 1,0 5.1,0a2.6,2.6 0 1,0 -5.1,0M591.5,1497.6a2.6,2.6 0 1,0 5.2,0a2.6,2.6 0 1,0 -5.2,0M424.4,1608.8a2.5,2.5 0 1,0 4.9,0a2.5,2.5 0 1,0 -4.9,0M457.4,1599.3a1.7,1.7 0 1,0 3.4,0a1.7,1.7 0 1,0 -3.4,0M489.8,1653.8a1.7,1.7 0 1,0 3.3,0a1.7,1.7 0 1,0 -3.3,0M503.4,1609.5a3.4,3.4 0 1,0 6.7,0a3.4,3.4 0 1,0 -6.7,0M440.7,1548.8a1.8,1.8 0 1,0 3.6,0a1.8,1.8 0 1,0 -3.6,0M525.9,1511.1a2.2,2.2 0 1,0 4.3,0a2.2,2.2 0 1,0 -4.3,0M447.6,1691.5a2,2 0 1,0 3.9,0a2,2 0 1,0 -3.9,0M594.4,1474.5a1.7,1.7 0 1,0 3.3,0a1.7,1.7 0 1,0 -3.3,0M612.1,1527.8a2.6,2.6 0 1,0 5.1,0a2.6,2.6 0 1,0 -5.1,0M576.8,1666a2.4,2.4 0 1,0 4.8,0a2.4,2.4 0 1,0 -4.8,0M518,1680.5a2.3,2.3 0 1,0 4.5,0a2.3,2.3 0 1,0 -4.5,0M526.1,1661.8a2,2 0 1,0 4,0a2,2 0 1,0 -4,0M628.9,1477.1a3,3 0 1,0 5.9,0a3,3 0 1,0 -5.9,0M507.9,1640.2a1.7,1.7 0 1,0 3.3,0a1.7,1.7 0 1,0 -3.3,0M537.4,1593.9a1.3,1.3 0 1,0 2.6,0a1.3,1.3 0 1,0 -2.6,0M434.7,1692.9a3.3,3.3 0 1,0 6.6,0a3.3,3.3 0 1,0 -6.6,0M544.2,1563.1a1.8,1.8 0 1,0 3.5,0a1.8,1.8 0 1,0 -3.5,0M373.1,1568.3a2.2,2.2 0 1,0 4.4,0a2.2,2.2 0 1,0 -4.4,0M506.6,1663.4a3.1,3.1 0 1,0 6.1,0a3.1,3.1 0 1,0 -6.1,0M596.1,1490.7a2,2 0 1,0 4,0a2,2 0 1,0 -4,0M553.2,1553.3a1.2,1.2 0 1,0 2.3,0a1.2,1.2 0 1,0 -2.3,0M515.5,1621.1a3.1,3.1 0 1,0 6.3,0a3.1,3.1 0 1,0 -6.3,0M568.4,1520.2a3,3 0 1,0 6.1,0a3,3 0 1,0 -6.1,0M572.4,1587.9a1.6,1.6 0 1,0 3.2,0a1.6,1.6 0 1,0 -3.2,0M419.7,1546.8a1.4,1.4 0 1,0 2.8,0a1.4,1.4 0 1,0 -2.8,0M489.5,1613a1.1,1.1 0 1,0 2.2,0a1.1,1.1 0 1,0 -2.2,0M454.6,1628.6a1.3,1.3 0 1,0 2.5,0a1.3,1.3 0 1,0 -2.5,0M514.4,1528.4a2.5,2.5 0 1,0 5.1,0a2.5,2.5 0 1,0 -5.1,0M426.7,1620.5a3.3,3.3 0 1,0 6.5,0a3.3,3.3 0 1,0 -6.5,0M599.6,1547.6a1.4,1.4 0 1,0 2.8,0a1.4,1.4 0 1,0 -2.8,0M555.4,1508.9a3,3 0 1,0 6,0a3,3 0 1,0 -6,0M432.8,1644.5a1.1,1.1 0 1,0 2.3,0a1.1,1.1 0 1,0 -2.3,0M476.5,1652.2a1.8,1.8 0 1,0 3.5,0a1.8,1.8 0 1,0 -3.5,0M554.2,1443a2.1,2.1 0 1,0 4.2,0a2.1,2.1 0 1,0 -4.2,0M473.7,1608.5a1.6,1.6 0 1,0 3.2,0a1.6,1.6 0 1,0 -3.2,0M540.1,1443.2a1.4,1.4 0 1,0 2.8,0a1.4,1.4 0 1,0 -2.8,0M477.8,1643.6a2.4,2.4 0 1,0 4.8,0a2.4,2.4 0 1,0 -4.8,0M430.4,1418.6a1.2,1.2 0 1,0 2.3,0a1.2,1.2 0 1,0 -2.3,0M543.2,1541.3a2.2,2.2 0 1,0 4.5,0a2.2,2.2 0 1,0 -4.5,0M536.2,1486.1a2.2,2.2 0 1,0 4.4,0a2.2,2.2 0 1,0 -4.4,0M399.5,1577.2a2.7,2.7 0 1,0 5.5,0a2.7,2.7 0 1,0 -5.5,0M546.3,1578.4a2.4,2.4 0 1,0 4.8,0a2.4,2.4 0 1,0 -4.8,0M422.6,1630.6a3,3 0 1,0 6.1,0a3,3 0 1,0 -6.1,0M380.7,1663.8a1.5,1.5 0 1,0 3.1,0a1.5,1.5 0 1,0 -3.1,0M456.5,1502.7a1.1,1.1 0 1,0 2.1,0a1.1,1.1 0 1,0 -2.1,0M552.2,1621.6a1.1,1.1 0 1,0 2.2,0a1.1,1.1 0 1,0 -2.2,0M589.1,1480.9a2.5,2.5 0 1,0 5,0a2.5,2.5 0 1,0 -5,0M416.7,1618a2.4,2.4 0 1,0 4.8,0a2.4,2.4 0 1,0 -4.8,0M607.2,1491a2.2,2.2 0 1,0 4.5,0a2.2,2.2 0 1,0 -4.5,0M375,1447.9a3.3,3.3 0 1,0 6.7,0a3.3,3.3 0 1,0 -6.7,0M478.9,1594a2.4,2.4 0 1,0 4.7,0a2.4,2.4 0 1,0 -4.7,0M427.2,1649.8a1.9,1.9 0 1,0 3.9,0a1.9,1.9 0 1,0 -3.9,0M435.1,1560.3a2.3,2.3 0 1,0 4.6,0a2.3,2.3 0 1,0 -4.6,0M499.5,1598.1a2.2,2.2 0 1,0 4.4,0a2.2,2.2 0 1,0 -4.4,0M448.4,1610.7a2.7,2.7 0 1,0 5.4,0a2.7,2.7 0 1,0 -5.4,0M527.8,1620.1a1.1,1.1 0 1,0 2.3,0a1.1,1.1 0 1,0 -2.3,0M476.1,1628.3a1.2,1.2 0 1,0 2.5,0a1.2,1.2 0 1,0 -2.5,0M595.2,1594.9a1.8,1.8 0 1,0 3.7,0a1.8,1.8 0 1,0 -3.7,0M441.9,1594.8a2,2 0 1,0 4.1,0a2,2 0 1,0 -4.1,0M436.9,1571.4a2.4,2.4 0 1,0 4.8,0a2.4,2.4 0 1,0 -4.8,0M403.7,1405.1a2.9,2.9 0 1,0 5.8,0a2.9,2.9 0 1,0 -5.8,0M464.9,1694.9a2.5,2.5 0 1,0 4.9,0a2.5,2.5 0 1,0 -4.9,0M499.6,1650.7a1.2,1.2 0 1,0 2.3,0a1.2,1.2 0 1,0 -2.3,0M547.2,1567.6a2.9,2.9 0 1,0 5.8,0a2.9,2.9 0 1,0 -5.8,0M526.7,1652.4a1.7,1.7 0 1,0 3.3,0a1.7,1.7 0 1,0 -3.3,0M602.1,1463.9a1.8,1.8 0 1,0 3.7,0a1.8,1.8 0 1,0 -3.7,0M456.3,1563.1a1.4,1.4 0 1,0 2.9,0a1.4,1.4 0 1,0 -2.9,0M583.3,1502.2a1.5,1.5 0 1,0 3,0a1.5,1.5 0 1,0 -3,0M464.1,1612.5a2.8,2.8 0 1,0 5.6,0a2.8,2.8 0 1,0 -5.6,0M383.4,1606.5a2.4,2.4 0 1,0 4.8,0a2.4,2.4 0 1,0 -4.8,0M491.6,1641.4a2,2 0 1,0 3.9,0a2,2 0 1,0 -3.9,0M597.3,1437.9a2.4,2.4 0 1,0 4.7,0a2.4,2.4 0 1,0 -4.7,0M393.4,1682.4a1.5,1.5 0 1,0 3,0a1.5,1.5 0 1,0 -3,0M462.5,1562a2.1,2.1 0 1,0 4.1,0a2.1,2.1 0 1,0 -4.1,0M520.7,1608.2a2.3,2.3 0 1,0 4.6,0a2.3,2.3 0 1,0 -4.6,0M446.4,1605.8a1.3,1.3 0 1,0 2.7,0a1.3,1.3 0 1,0 -2.7,0M630.6,1673.3a1.8,1.8 0 1,0 3.7,0a1.8,1.8 0 1,0 -3.7,0M431.6,1578.8a1.8,1.8 0 1,0 3.7,0a1.8,1.8 0 1,0 -3.7,0M573,1446.5a3.2,3.2 0 1,0 6.3,0a3.2,3.2 0 1,0 -6.3,0M409.6,1440.2a3,3 0 1,0 6.1,0a3,3 0 1,0 -6.1,0M500.1,1664.5a3.1,3.1 0 1,0 6.3,0a3.1,3.1 0 1,0 -6.3,0M476.7,1686.3a2.8,2.8 0 1,0 5.5,0a2.8,2.8 0 1,0 -5.5,0M478.3,1698.2a2.9,2.9 0 1,0 5.9,0a2.9,2.9 0 1,0 -5.9,0M583.7,1458.3a1.5,1.5 0 1,0 2.9,0a1.5,1.5 0 1,0 -2.9,0M544.3,1418.1a3.3,3.3 0 1,0 6.6,0a3.3,3.3 0 1,0 -6.6,0M541.3,1608.4a1.9,1.9 0 1,0 3.7,0a1.9,1.9 0 1,0 -3.7,0M556.1,1544.5a2.1,2.1 0 1,0 4.2,0a2.1,2.1 0 1,0 -4.2,0M651.2,1669.9a2.7,2.7 0 1,0 5.4,0a2.7,2.7 0 1,0 -5.4,0M611.1,1536.5a2.4,2.4 0 1,0 4.8,0a2.4,2.4 0 1,0 -4.8,0M383.7,1440.4a3.2,3.2 0 1,0 6.4,0a3.2,3.2 0 1,0 -6.4,0M548.9,1529.8a2.9,2.9 0 1,0 5.9,0a2.9,2.9 0 1,0 -5.9,0M479.5,1626.7a2.5,2.5 0 1,0 5,0a2.5,2.5 0 1,0 -5,0M460.2,1590.4a2.9,2.9 0 1,0 5.8,0a2.9,2.9 0 1,0 -5.8,0M551.4,1592a2.9,2.9 0 1,0 5.9,0a2.9,2.9 0 1,0 -5.9,0M574.2,1452.6a2.5,2.5 0 1,0 4.9,0a2.5,2.5 0 1,0 -4.9,0M500.2,1592a1.4,1.4 0 1,0 2.8,0a1.4,1.4 0 1,0 -2.8,0M568.8,1639.4a1.6,1.6 0 1,0 3.1,0a1.6,1.6 0 1,0 -3.1,0M638.1,1543.3a3.2,3.2 0 1,0 6.3,0a3.2,3.2 0 1,0 -6.3,0M608.2,1498.1a1.8,1.8 0 1,0 3.7,0a1.8,1.8 0 1,0 -3.7,0M556.1,1563a2.4,2.4 0 1,0 4.9,0a2.4,2.4 0 1,0 -4.9,0M374.1,1577.8a2.8,2.8 0 1,0 5.6,0a2.8,2.8 0 1,0 -5.6,0M419.5,1443.2a2.6,2.6 0 1,0 5.3,0a2.6,2.6 0 1,0 -5.3,0M560,1556.7a2.4,2.4 0 1,0 4.9,0a2.4,2.4 0 1,0 -4.9,0M592.4,1473.2a2.9,2.9 0 1,0 5.9,0a2.9,2.9 0 1,0 -5.9,0M607.6,1500a2.3,2.3 0 1,0 4.6,0a2.3,2.3 0 1,0 -4.6,0M398,1610.5a3.3,3.3 0 1,0 6.7,0a3.3,3.3 0 1,0 -6.7,0M560.8,1627a2.9,2.9 0 1,0 5.7,0a2.9,2.9 0 1,0 -5.7,0M474.2,1619.1a2.1,2.1 0 1,0 4.2,0a2.1,2.1 0 1,0 -4.2,0M376.4,1450.2a1,1 0 1,0 2.1,0a1,1 0 1,0 -2.1,0M519.7,1692.1a1.7,1.7 0 1,0 3.5,0a1.7,1.7 0 1,0 -3.5,0M542.4,1429.3a1.3,1.3 0 1,0 2.7,0a1.3,1.3 0 1,0 -2.7,0M612,1495.9a3,3 0 1,0 6,0a3,3 0 1,0 -6,0M573.7,1612a2.3,2.3 0 1,0 4.5,0a2.3,2.3 0 1,0 -4.5,0M457.2,1503.3a2,2 0 1,0 4.1,0a2,2 0 1,0 -4.1,0M390.5,1553a1.9,1.9 0 1,0 3.9,0a1.9,1.9 0 1,0 -3.9,0M508.4,1691.7a1.6,1.6 0 1,0 3.1,0a1.6,1.6 0 1,0 -3.1,0M400.1,1483.9a2,2 0 1,0 4.1,0a2,2 0 1,0 -4.1,0M389.5,1466.3a1.7,1.7 0 1,0 3.4,0a1.7,1.7 0 1,0 -3.4,0M522.5,1576.8a1,1 0 1,0 2.1,0a1,1 0 1,0 -2.1,0M574.6,1640.9a2.3,2.3 0 1,0 4.7,0a2.3,2.3 0 1,0 -4.7,0M441.9,1616.3a2.3,2.3 0 1,0 4.7,0a2.3,2.3 0 1,0 -4.7,0M380.4,1594.1a1.3,1.3 0 1,0 2.6,0a1.3,1.3 0 1,0 -2.6,0M446.3,1664a2.4,2.4 0 1,0 4.8,0a2.4,2.4 0 1,0 -4.8,0M573.1,1480.8a2,2 0 1,0 4.1,0a2,2 0 1,0 -4.1,0M513.7,1528a2.5,2.5 0 1,0 5.1,0a2.5,2.5 0 1,0 -5.1,0M465.9,1700a3.3,3.3 0 1,0 6.6,0a3.3,3.3 0 1,0 -6.6,0M431.2,1412.9a1.9,1.9 0 1,0 3.7,0a1.9,1.9 0 1,0 -3.7,0M482.9,1660.9a3.2,3.2 0 1,0 6.3,0a3.2,3.2 0 1,0 -6.3,0M430.2,1562a1.7,1.7 0 1,0 3.3,0a1.7,1.7 0 1,0 -3.3,0M538.7,1490.4a1.6,1.6 0 1,0 3.2,0a1.6,1.6 0 1,0 -3.2,0M483.3,1698.2a1.4,1.4 0 1,0 2.7,0a1.4,1.4 0 1,0 -2.7,0M525.4,1586.6a3.1,3.1 0 1,0 6.2,0a3.1,3.1 0 1,0 -6.2,0M489.6,1675.7a2.9,2.9 0 1,0 5.9,0a2.9,2.9 0 1,0 -5.9,0M487.7,1599.7a1.9,1.9 0 1,0 3.8,0a1.9,1.9 0 1,0 -3.8,0M554,1626.3a1.3,1.3 0 1,0 2.6,0a1.3,1.3 0 1,0 -2.6,0M431.3,1605.3a1.5,1.5 0 1,0 2.9,0a1.5,1.5 0 1,0 -2.9,0M531,1607.5a1,1 0 1,0 2.1,0a1,1 0 1,0 -2.1,0M432.9,1500a2.7,2.7 0 1,0 5.3,0a2.7,2.7 0 1,0 -5.3,0M418.8,1545.9a3.2,3.2 0 1,0 6.4,0a3.2,3.2 0 1,0 -6.4,0M433.3,1604a3.4,3.4 0 1,0 6.8,0a3.4,3.4 0 1,0 -6.8,0M363.3,1483a3.4,3.4 0 1,0 6.8,0a3.4,3.4 0 1,0 -6.8,0M435.1,1449.7a3.2,3.2 0 1,0 6.3,0a3.2,3.2 0 1,0 -6.3,0M391.4,1426.1a2.2,2.2 0 1,0 4.4,0a2.2,2.2 0 1,0 -4.4,0M538.8,1489.6a1.2,1.2 0 1,0 2.4,0a1.2,1.2 0 1,0 -2.4,0M598.7,1504.2a2.3,2.3 0 1,0 4.6,0a2.3,2.3 0 1,0 -4.6,0M397.1,1557.3a3.2,3.2 0 1,0 6.4,0a3.2,3.2 0 1,0 -6.4,0M397.9,1550a3.1,3.1 0 1,0 6.2,0a3.1,3.1 0 1,0 -6.2,0M468.5,1644.5a3.1,3.1 0 1,0 6.1,0a3.1,3.1 0 1,0 -6.1,0M529,1692.5a2.1,2.1 0 1,0 4.1,0a2.1,2.1 0 1,0 -4.1,0M569.5,1575.3a3.1,3.1 0 1,0 6.1,0a3.1,3.1 0 1,0 -6.1,0M504.6,1594.1a1.9,1.9 0 1,0 3.7,0a1.9,1.9 0 1,0 -3.7,0M406.6,1629.7a2.4,2.4 0 1,0 4.9,0a2.4,2.4 0 1,0 -4.9,0M564,1598.8a2.3,2.3 0 1,0 4.6,0a2.3,2.3 0 1,0 -4.6,0M563.1,1497.2a2.8,2.8 0 1,0 5.7,0a2.8,2.8 0 1,0 -5.7,0M546.3,1668.1a1.5,1.5 0 1,0 3,0a1.5,1.5 0 1,0 -3,0M397.5,1653.6a1.4,1.4 0 1,0 2.8,0a1.4,1.4 0 1,0 -2.8,0M443.5,1612.3a2.6,2.6 0 1,0 5.2,0a2.6,2.6 0 1,0 -5.2,0M414.7,1554.6a1,1 0 1,0 2,0a1,1 0 1,0 -2,0M411.2,1552.3a3.4,3.4 0 1,0 6.7,0a3.4,3.4 0 1,0 -6.7,0M419,1595.7a1.2,1.2 0 1,0 2.4,0a1.2,1.2 0 1,0 -2.4,0M556.1,1563.4a1.3,1.3 0 1,0 2.7,0a1.3,1.3 0 1,0 -2.7,0M397.2,1575.9a2.9,2.9 0 1,0 5.8,0a2.9,2.9 0 1,0 -5.8,0M409.8,1632.9a1.6,1.6 0 1,0 3.2,0a1.6,1.6 0 1,0 -3.2,0M502.5,1688a1.6,1.6 0 1,0 3.2,0a1.6,1.6 0 1,0 -3.2,0M461.1,1668.9a2.4,2.4 0 1,0 4.9,0a2.4,2.4 0 1,0 -4.9,0M442.2,1602.8a1.5,1.5 0 1,0 3,0a1.5,1.5 0 1,0 -3,0M411.7,1676.8a2.9,2.9 0 1,0 5.9,0a2.9,2.9 0 1,0 -5.9,0M363.2,1561a1.8,1.8 0 1,0 3.6,0a1.8,1.8 0 1,0 -3.6,0M568.8,1477.8a1.3,1.3 0 1,0 2.5,0a1.3,1.3 0 1,0 -2.5,0M512.7,1634.1a2.8,2.8 0 1,0 5.5,0a2.8,2.8 0 1,0 -5.5,0M536.5,1488.9a1.6,1.6 0 1,0 3.1,0a1.6,1.6 0 1,0 -3.1,0M565.6,1576a3.3,3.3 0 1,0 6.6,0a3.3,3.3 0 1,0 -6.6,0M649.2,1644.6a2.1,2.1 0 1,0 4.1,0a2.1,2.1 0 1,0 -4.1,0M475.4,1662.4a1.4,1.4 0 1,0 2.8,0a1.4,1.4 0 1,0 -2.8,0M574.1,1553.3a2.9,2.9 0 1,0 5.7,0a2.9,2.9 0 1,0 -5.7,0M473.8,1592.9a1.8,1.8 0 1,0 3.5,0a1.8,1.8 0 1,0 -3.5,0M495.9,1591.4a1.5,1.5 0 1,0 2.9,0a1.5,1.5 0 1,0 -2.9,0M517.9,1644.7a2.3,2.3 0 1,0 4.6,0a2.3,2.3 0 1,0 -4.6,0M471.3,1665a1.2,1.2 0 1,0 2.5,0a1.2,1.2 0 1,0 -2.5,0M367.2,1468.9a2.1,2.1 0 1,0 4.2,0a2.1,2.1 0 1,0 -4.2,0M462.6,1643.3a1.9,1.9 0 1,0 3.9,0a1.9,1.9 0 1,0 -3.9,0M575.9,1502.2a3.2,3.2 0 1,0 6.5,0a3.2,3.2 0 1,0 -6.5,0M430,1606.2a1.5,1.5 0 1,0 3.1,0a1.5,1.5 0 1,0 -3.1,0M584,1570a2.3,2.3 0 1,0 4.6,0a2.3,2.3 0 1,0 -4.6,0M590.4,1546.7a1.3,1.3 0 1,0 2.5,0a1.3,1.3 0 1,0 -2.5,0M398.1,1514.2a3.3,3.3 0 1,0 6.7,0a3.3,3.3 0 1,0 -6.7,0M545.8,1669.7a3.4,3.4 0 1,0 6.7,0a3.4,3.4 0 1,0 -6.7,0M543.2,1682.5a2.7,2.7 0 1,0 5.4,0a2.7,2.7 0 1,0 -5.4,0M549.9,1563.7a2.6,2.6 0 1,0 5.1,0a2.6,2.6 0 1,0 -5.1,0M639.2,1486.4a1.2,1.2 0 1,0 2.4,0a1.2,1.2 0 1,0 -2.4,0M641.6,1527.2a3.3,3.3 0 1,0 6.7,0a3.3,3.3 0 1,0 -6.7,0M662.7,1546.6a1.8,1.8 0 1,0 3.6,0a1.8,1.8 0 1,0 -3.6,0M588.4,1565.5a2,2 0 1,0 4,0a2,2 0 1,0 -4,0M422.5,1423a3.4,3.4 0 1,0 6.7,0a3.4,3.4 0 1,0 -6.7,0M595.5,1471.8a1.9,1.9 0 1,0 3.8,0a1.9,1.9 0 1,0 -3.8,0M501.9,1691.4a3,3 0 1,0 6,0a3,3 0 1,0 -6,0M548.3,1582.8a2.9,2.9 0 1,0 5.9,0a2.9,2.9 0 1,0 -5.9,0M550.7,1589.9a3,3 0 1,0 5.9,0a3,3 0 1,0 -5.9,0M420.4,1650.5a2.9,2.9 0 1,0 5.9,0a2.9,2.9 0 1,0 -5.9,0M422,1566.5a3.1,3.1 0 1,0 6.2,0a3.1,3.1 0 1,0 -6.2,0M424.9,1633.7a2.9,2.9 0 1,0 5.8,0a2.9,2.9 0 1,0 -5.8,0M549,1593.7a1.8,1.8 0 1,0 3.5,0a1.8,1.8 0 1,0 -3.5,0M526.9,1597.8a3.1,3.1 0 1,0 6.2,0a3.1,3.1 0 1,0 -6.2,0M592.2,1520.9a2.3,2.3 0 1,0 4.5,0a2.3,2.3 0 1,0 -4.5,0M524.2,1571.9a2.8,2.8 0 1,0 5.5,0a2.8,2.8 0 1,0 -5.5,0M431.7,1681.9a2.1,2.1 0 1,0 4.2,0a2.1,2.1 0 1,0 -4.2,0M528,1435.5a2.4,2.4 0 1,0 4.8,0a2.4,2.4 0 1,0 -4.8,0M572.4,1429.3a1.9,1.9 0 1,0 3.7,0a1.9,1.9 0 1,0 -3.7,0M595,1537.4a2.4,2.4 0 1,0 4.7,0a2.4,2.4 0 1,0 -4.7,0M537.5,1544.8a2.2,2.2 0 1,0 4.4,0a2.2,2.2 0 1,0 -4.4,0M475,1675.7a2.2,2.2 0 1,0 4.3,0a2.2,2.2 0 1,0 -4.3,0M454.5,1625.4a3.1,3.1 0 1,0 6.2,0a3.1,3.1 0 1,0 -6.2,0M587.2,1451.8a3.3,3.3 0 1,0 6.6,0a3.3,3.3 0 1,0 -6.6,0M422.4,1478.6a1.5,1.5 0 1,0 3,0a1.5,1.5 0 1,0 -3,0M538.6,1613.9a2.2,2.2 0 1,0 4.4,0a2.2,2.2 0 1,0 -4.4,0M360.6,1517.8a2.6,2.6 0 1,0 5.1,0a2.6,2.6 0 1,0 -5.1,0M389.7,1611.3a3.4,3.4 0 1,0 6.8,0a3.4,3.4 0 1,0 -6.8,0M555.4,1547.6a2.8,2.8 0 1,0 5.6,0a2.8,2.8 0 1,0 -5.6,0M617.9,1509.3a3.3,3.3 0 1,0 6.5,0a3.3,3.3 0 1,0 -6.5,0M494.2,1697.6a2.4,2.4 0 1,0 4.9,0a2.4,2.4 0 1,0 -4.9,0M610,1435.2a2.4,2.4 0 1,0 4.8,0a2.4,2.4 0 1,0 -4.8,0M467.8,1635.2a2.6,2.6 0 1,0 5.1,0a2.6,2.6 0 1,0 -5.1,0M457.9,1666.1a1.3,1.3 0 1,0 2.6,0a1.3,1.3 0 1,0 -2.6,0M431.6,1635.7a2,2 0 1,0 3.9,0a2,2 0 1,0 -3.9,0M463.9,1596.2a1.6,1.6 0 1,0 3.3,0a1.6,1.6 0 1,0 -3.3,0M496,1524.3a2.6,2.6 0 1,0 5.2,0a2.6,2.6 0 1,0 -5.2,0M407.3,1560.8a3.1,3.1 0 1,0 6.3,0a3.1,3.1 0 1,0 -6.3,0M429.1,1460.9a1.8,1.8 0 1,0 3.6,0a1.8,1.8 0 1,0 -3.6,0M413.4,1611.6a1.1,1.1 0 1,0 2.1,0a1.1,1.1 0 1,0 -2.1,0M502.3,1665.6a1.4,1.4 0 1,0 2.8,0a1.4,1.4 0 1,0 -2.8,0M500.8,1568.3a1.1,1.1 0 1,0 2.1,0a1.1,1.1 0 1,0 -2.1,0M506.9,1666.9a2.1,2.1 0 1,0 4.2,0a2.1,2.1 0 1,0 -4.2,0M505.5,1657.7a2,2 0 1,0 3.9,0a2,2 0 1,0 -3.9,0M564.1,1505.6a1.5,1.5 0 1,0 2.9,0a1.5,1.5 0 1,0 -2.9,0M538.7,1403.9a2.2,2.2 0 1,0 4.3,0a2.2,2.2 0 1,0 -4.3,0M367.4,1655.8a2.7,2.7 0 1,0 5.4,0a2.7,2.7 0 1,0 -5.4,0M419.3,1612.6a1.4,1.4 0 1,0 2.7,0a1.4,1.4 0 1,0 -2.7,0M495.3,1596.1a2.9,2.9 0 1,0 5.9,0a2.9,2.9 0 1,0 -5.9,0M566,1560.1a1.7,1.7 0 1,0 3.4,0a1.7,1.7 0 1,0 -3.4,0M417.4,1449.2a2.7,2.7 0 1,0 5.4,0a2.7,2.7 0 1,0 -5.4,0M388.9,1420.5a3.4,3.4 0 1,0 6.7,0a3.4,3.4 0 1,0 -6.7,0M511.7,1458.7a3,3 0 1,0 6,0a3,3 0 1,0 -6,0M551.7,1534.6a1.2,1.2 0 1,0 2.4,0a1.2,1.2 0 1,0 -2.4,0M382.9,1617.2a1.2,1.2 0 1,0 2.5,0a1.2,1.2 0 1,0 -2.5,0M442.1,1657.6a1.5,1.5 0 1,0 3.1,0a1.5,1.5 0 1,0 -3.1,0M449.1,1607.7a2,2 0 1,0 4,0a2,2 0 1,0 -4,0M499.9,1604.1a1.9,1.9 0 1,0 3.8,0a1.9,1.9 0 1,0 -3.8,0M520.9,1629.6a1.5,1.5 0 1,0 3,0a1.5,1.5 0 1,0 -3,0M396,1638.8a2.5,2.5 0 1,0 4.9,0a2.5,2.5 0 1,0 -4.9,0M407.5,1610.8a2.4,2.4 0 1,0 4.8,0a2.4,2.4 0 1,0 -4.8,0M448.9,1603.2a3.4,3.4 0 1,0 6.8,0a3.4,3.4 0 1,0 -6.8,0M589,1492.5a1.9,1.9 0 1,0 3.8,0a1.9,1.9 0 1,0 -3.8,0M556.4,1599.2a2.2,2.2 0 1,0 4.4,0a2.2,2.2 0 1,0 -4.4,0M462.9,1526.6a2,2 0 1,0 4,0a2,2 0 1,0 -4,0M459.3,1675.6a3,3 0 1,0 5.9,0a3,3 0 1,0 -5.9,0M393.8,1485.4a1.4,1.4 0 1,0 2.7,0a1.4,1.4 0 1,0 -2.7,0M430.5,1657.1a3.1,3.1 0 1,0 6.2,0a3.1,3.1 0 1,0 -6.2,0M552.5,1587.9a2.3,2.3 0 1,0 4.7,0a2.3,2.3 0 1,0 -4.7,0M466,1646.2a2.4,2.4 0 1,0 4.8,0a2.4,2.4 0 1,0 -4.8,0M583.4,1528.5a2.8,2.8 0 1,0 5.5,0a2.8,2.8 0 1,0 -5.5,0M644.4,1457.6a2.5,2.5 0 1,0 5.1,0a2.5,2.5 0 1,0 -5.1,0M427.9,1646.8a2.8,2.8 0 1,0 5.6,0a2.8,2.8 0 1,0 -5.6,0M514.3,1683.7a2.1,2.1 0 1,0 4.2,0a2.1,2.1 0 1,0 -4.2,0M504.1,1559.6a2.5,2.5 0 1,0 4.9,0a2.5,2.5 0 1,0 -4.9,0M470.8,1604.7a1.5,1.5 0 1,0 3,0a1.5,1.5 0 1,0 -3,0M590.6,1497.5a2.2,2.2 0 1,0 4.3,0a2.2,2.2 0 1,0 -4.3,0M572.1,1579.4a3.1,3.1 0 1,0 6.2,0a3.1,3.1 0 1,0 -6.2,0M613.3,1437.8a2.1,2.1 0 1,0 4.2,0a2.1,2.1 0 1,0 -4.2,0M479.6,1636.7a2.1,2.1 0 1,0 4.1,0a2.1,2.1 0 1,0 -4.1,0M473.5,1689.1a1.9,1.9 0 1,0 3.8,0a1.9,1.9 0 1,0 -3.8,0M493.6,1644.6a2.9,2.9 0 1,0 5.8,0a2.9,2.9 0 1,0 -5.8,0M417.6,1564.1a3.4,3.4 0 1,0 6.7,0a3.4,3.4 0 1,0 -6.7,0M530.9,1581.9a3.2,3.2 0 1,0 6.4,0a3.2,3.2 0 1,0 -6.4,0M426.9,1638.1a1.4,1.4 0 1,0 2.9,0a1.4,1.4 0 1,0 -2.9,0M536.2,1509.5a1.9,1.9 0 1,0 3.8,0a1.9,1.9 0 1,0 -3.8,0M573.2,1503.4a2.4,2.4 0 1,0 4.8,0a2.4,2.4 0 1,0 -4.8,0M607.5,1415.2a1.7,1.7 0 1,0 3.3,0a1.7,1.7 0 1,0 -3.3,0M413.7,1591.8a2.6,2.6 0 1,0 5.3,0a2.6,2.6 0 1,0 -5.3,0M530.2,1687.2a3.4,3.4 0 1,0 6.8,0a3.4,3.4 0 1,0 -6.8,0M534,1599.1a2.1,2.1 0 1,0 4.2,0a2.1,2.1 0 1,0 -4.2,0M419.8,1507.7a2.5,2.5 0 1,0 5,0a2.5,2.5 0 1,0 -5,0M470.5,1422.7a1.3,1.3 0 1,0 2.7,0a1.3,1.3 0 1,0 -2.7,0M443.4,1595a2,2 0 1,0 4,0a2,2 0 1,0 -4,0M502.9,1578.3a3.1,3.1 0 1,0 6.2,0a3.1,3.1 0 1,0 -6.2,0M491.4,1559.1a1.7,1.7 0 1,0 3.5,0a1.7,1.7 0 1,0 -3.5,0M585.1,1570.9a3,3 0 1,0 6,0a3,3 0 1,0 -6,0M572.5,1571a1.4,1.4 0 1,0 2.8,0a1.4,1.4 0 1,0 -2.8,0M573.8,1519.6a1.4,1.4 0 1,0 2.9,0a1.4,1.4 0 1,0 -2.9,0M377.9,1566.5a2.9,2.9 0 1,0 5.8,0a2.9,2.9 0 1,0 -5.8,0M431.8,1634.5a1.5,1.5 0 1,0 2.9,0a1.5,1.5 0 1,0 -2.9,0M381.1,1630.7a2.5,2.5 0 1,0 5,0a2.5,2.5 0 1,0 -5,0M475.1,1641.6a2.4,2.4 0 1,0 4.8,0a2.4,2.4 0 1,0 -4.8,0M570.2,1566a2.5,2.5 0 1,0 5.1,0a2.5,2.5 0 1,0 -5.1,0M466.5,1642.2a1.7,1.7 0 1,0 3.4,0a1.7,1.7 0 1,0 -3.4,0M525.6,1671.9a2.7,2.7 0 1,0 5.4,0a2.7,2.7 0 1,0 -5.4,0M465.6,1673.1a2.3,2.3 0 1,0 4.7,0a2.3,2.3 0 1,0 -4.7,0M498.7,1592.2a1.1,1.1 0 1,0 2.3,0a1.1,1.1 0 1,0 -2.3,0M440.2,1660.3a3.3,3.3 0 1,0 6.5,0a3.3,3.3 0 1,0 -6.5,0M381.3,1532.5a1.1,1.1 0 1,0 2.1,0a1.1,1.1 0 1,0 -2.1,0M472.7,1645.1a2.1,2.1 0 1,0 4.2,0a2.1,2.1 0 1,0 -4.2,0M402.8,1533.6a2,2 0 1,0 3.9,0a2,2 0 1,0 -3.9,0M511.9,1687.3a2.7,2.7 0 1,0 5.3,0a2.7,2.7 0 1,0 -5.3,0M553.1,1563.7a3.3,3.3 0 1,0 6.6,0a3.3,3.3 0 1,0 -6.6,0M472.5,1655.6a1.7,1.7 0 1,0 3.4,0a1.7,1.7 0 1,0 -3.4,0M369.2,1632.2a2.6,2.6 0 1,0 5.3,0a2.6,2.6 0 1,0 -5.3,0M528.2,1681.3a1.5,1.5 0 1,0 3.1,0a1.5,1.5 0 1,0 -3.1,0M551.8,1436.1a1.1,1.1 0 1,0 2.1,0a1.1,1.1 0 1,0 -2.1,0M533,1626.4a1.7,1.7 0 1,0 3.4,0a1.7,1.7 0 1,0 -3.4,0M425.8,1454.1a1.6,1.6 0 1,0 3.2,0a1.6,1.6 0 1,0 -3.2,0M489.1,1621.1a2.9,2.9 0 1,0 5.7,0a2.9,2.9 0 1,0 -5.7,0M545.1,1578.8a2.5,2.5 0 1,0 5,0a2.5,2.5 0 1,0 -5,0M498,1647.9a2,2 0 1,0 4,0a2,2 0 1,0 -4,0M518,1663.5a2.6,2.6 0 1,0 5.2,0a2.6,2.6 0 1,0 -5.2,0M393.1,1535.7a2.2,2.2 0 1,0 4.5,0a2.2,2.2 0 1,0 -4.5,0M394,1430.9a1.8,1.8 0 1,0 3.5,0a1.8,1.8 0 1,0 -3.5,0M405.3,1516.3a3.3,3.3 0 1,0 6.6,0a3.3,3.3 0 1,0 -6.6,0M517.1,1663.3a1.9,1.9 0 1,0 3.9,0a1.9,1.9 0 1,0 -3.9,0M610.1,1586.6a1.1,1.1 0 1,0 2.1,0a1.1,1.1 0 1,0 -2.1,0M545.9,1694a1.8,1.8 0 1,0 3.6,0a1.8,1.8 0 1,0 -3.6,0M623.1,1463.3a3.3,3.3 0 1,0 6.6,0a3.3,3.3 0 1,0 -6.6,0M555.7,1694.1a2.4,2.4 0 1,0 4.8,0a2.4,2.4 0 1,0 -4.8,0M486,1452.9a3.3,3.3 0 1,0 6.7,0a3.3,3.3 0 1,0 -6.7,0M449,1506.2a2.7,2.7 0 1,0 5.4,0a2.7,2.7 0 1,0 -5.4,0M527,1679.5a2.5,2.5 0 1,0 5,0a2.5,2.5 0 1,0 -5,0M628.7,1577.1a1.5,1.5 0 1,0 3.1,0a1.5,1.5 0 1,0 -3.1,0M536.4,1447.3a1.9,1.9 0 1,0 3.8,0a1.9,1.9 0 1,0 -3.8,0M490.7,1684.8a1.3,1.3 0 1,0 2.6,0a1.3,1.3 0 1,0 -2.6,0M520.7,1640.5a3.3,3.3 0 1,0 6.6,0a3.3,3.3 0 1,0 -6.6,0M412.4,1505.1a1.9,1.9 0 1,0 3.9,0a1.9,1.9 0 1,0 -3.9,0M410.7,1440.6a3.3,3.3 0 1,0 6.5,0a3.3,3.3 0 1,0 -6.5,0M390,1652.3a2.9,2.9 0 1,0 5.8,0a2.9,2.9 0 1,0 -5.8,0M455.2,1676.9a3.3,3.3 0 1,0 6.7,0a3.3,3.3 0 1,0 -6.7,0M469.1,1665.6a1.5,1.5 0 1,0 3,0a1.5,1.5 0 1,0 -3,0M522.1,1549.3a3,3 0 1,0 6,0a3,3 0 1,0 -6,0M460.9,1646.5a3.2,3.2 0 1,0 6.3,0a3.2,3.2 0 1,0 -6.3,0M472.4,1681.9a2.7,2.7 0 1,0 5.5,0a2.7,2.7 0 1,0 -5.5,0M478.5,1690.1a2.8,2.8 0 1,0 5.7,0a2.8,2.8 0 1,0 -5.7,0M412,1413.9a3.3,3.3 0 1,0 6.5,0a3.3,3.3 0 1,0 -6.5,0M595.5,1476.8a2.5,2.5 0 1,0 5,0a2.5,2.5 0 1,0 -5,0M410.2,1449a1.8,1.8 0 1,0 3.6,0a1.8,1.8 0 1,0 -3.6,0M496.1,1641.5a2.8,2.8 0 1,0 5.6,0a2.8,2.8 0 1,0 -5.6,0M412.5,1694a1.4,1.4 0 1,0 2.7,0a1.4,1.4 0 1,0 -2.7,0M525.8,1548.6a2.5,2.5 0 1,0 4.9,0a2.5,2.5 0 1,0 -4.9,0M472.7,1621a2.2,2.2 0 1,0 4.5,0a2.2,2.2 0 1,0 -4.5,0M380,1491a2.1,2.1 0 1,0 4.1,0a2.1,2.1 0 1,0 -4.1,0M477.8,1640.2a1,1 0 1,0 2,0a1,1 0 1,0 -2,0M647,1525.1a2.2,2.2 0 1,0 4.3,0a2.2,2.2 0 1,0 -4.3,0M522.2,1563.1a3.2,3.2 0 1,0 6.4,0a3.2,3.2 0 1,0 -6.4,0M420.1,1524.8a1.5,1.5 0 1,0 3.1,0a1.5,1.5 0 1,0 -3.1,0M430.2,1421.3a2.3,2.3 0 1,0 4.7,0a2.3,2.3 0 1,0 -4.7,0M426.8,1672.4a2,2 0 1,0 3.9,0a2,2 0 1,0 -3.9,0M571.1,1482.7a2.7,2.7 0 1,0 5.3,0a2.7,2.7 0 1,0 -5.3,0M559.6,1505.2a1.1,1.1 0 1,0 2.1,0a1.1,1.1 0 1,0 -2.1,0M367,1562.5a2.4,2.4 0 1,0 4.7,0a2.4,2.4 0 1,0 -4.7,0M613.1,1430.6a1.8,1.8 0 1,0 3.6,0a1.8,1.8 0 1,0 -3.6,0M429.5,1549.8a1.6,1.6 0 1,0 3.2,0a1.6,1.6 0 1,0 -3.2,0M367.9,1550.3a3.1,3.1 0 1,0 6.2,0a3.1,3.1 0 1,0 -6.2,0M427.9,1591.6a3.3,3.3 0 1,0 6.6,0a3.3,3.3 0 1,0 -6.6,0M617.2,1543.3a3.1,3.1 0 1,0 6.2,0a3.1,3.1 0 1,0 -6.2,0M534.4,1619.7a1.6,1.6 0 1,0 3.3,0a1.6,1.6 0 1,0 -3.3,0M415.7,1526.2a3.3,3.3 0 1,0 6.7,0a3.3,3.3 0 1,0 -6.7,0M534.7,1563.4a1.2,1.2 0 1,0 2.4,0a1.2,1.2 0 1,0 -2.4,0M467.6,1694.9a1.4,1.4 0 1,0 2.8,0a1.4,1.4 0 1,0 -2.8,0M523.2,1681.9a3.1,3.1 0 1,0 6.2,0a3.1,3.1 0 1,0 -6.2,0M428,1676.2a2.5,2.5 0 1,0 5,0a2.5,2.5 0 1,0 -5,0M420.4,1445.9a2.6,2.6 0 1,0 5.3,0a2.6,2.6 0 1,0 -5.3,0M411.6,1429.1a2.2,2.2 0 1,0 4.4,0a2.2,2.2 0 1,0 -4.4,0M541.6,1421a3,3 0 1,0 6.1,0a3,3 0 1,0 -6.1,0M405.3,1702.6a2.3,2.3 0 1,0 4.5,0a2.3,2.3 0 1,0 -4.5,0M486.1,1610.2a1.1,1.1 0 1,0 2.2,0a1.1,1.1 0 1,0 -2.2,0M506.3,1603.1a1.3,1.3 0 1,0 2.7,0a1.3,1.3 0 1,0 -2.7,0M362.3,1583.1a2.3,2.3 0 1,0 4.5,0a2.3,2.3 0 1,0 -4.5,0M444.6,1630.9a1.4,1.4 0 1,0 2.8,0a1.4,1.4 0 1,0 -2.8,0M403.7,1648.5a2.8,2.8 0 1,0 5.5,0a2.8,2.8 0 1,0 -5.5,0M479.4,1569.4a3.4,3.4 0 1,0 6.8,0a3.4,3.4 0 1,0 -6.8,0M527,1419.3a2.4,2.4 0 1,0 4.8,0a2.4,2.4 0 1,0 -4.8,0M526.8,1405.3a1.3,1.3 0 1,0 2.7,0a1.3,1.3 0 1,0 -2.7,0M504.4,1661.7a2,2 0 1,0 4,0a2,2 0 1,0 -4,0M580.2,1435.9a1.1,1.1 0 1,0 2.3,0a1.1,1.1 0 1,0 -2.3,0M502.3,1643.7a2.1,2.1 0 1,0 4.3,0a2.1,2.1 0 1,0 -4.3,0M574.8,1470.6a1.1,1.1 0 1,0 2.2,0a1.1,1.1 0 1,0 -2.2,0M607.3,1468.3a1.2,1.2 0 1,0 2.3,0a1.2,1.2 0 1,0 -2.3,0M488.6,1622.5a2.7,2.7 0 1,0 5.4,0a2.7,2.7 0 1,0 -5.4,0M495.8,1635.6a2.5,2.5 0 1,0 4.9,0a2.5,2.5 0 1,0 -4.9,0M382.3,1474.3a2.3,2.3 0 1,0 4.6,0a2.3,2.3 0 1,0 -4.6,0M466.2,1551.6a3.2,3.2 0 1,0 6.3,0a3.2,3.2 0 1,0 -6.3,0M567.8,1577.2a2.6,2.6 0 1,0 5.1,0a2.6,2.6 0 1,0 -5.1,0M408.9,1511.3a1.7,1.7 0 1,0 3.3,0a1.7,1.7 0 1,0 -3.3,0M472.2,1586.2a2.7,2.7 0 1,0 5.5,0a2.7,2.7 0 1,0 -5.5,0M499.4,1565.1a2.7,2.7 0 1,0 5.4,0a2.7,2.7 0 1,0 -5.4,0M484.8,1635.7a1.1,1.1 0 1,0 2.2,0a1.1,1.1 0 1,0 -2.2,0M512.2,1668.8a3,3 0 1,0 5.9,0a3,3 0 1,0 -5.9,0M459.8,1546.8a3,3 0 1,0 6,0a3,3 0 1,0 -6,0M437.6,1414.2a3,3 0 1,0 6.1,0a3,3 0 1,0 -6.1,0M475.9,1665.1a2.9,2.9 0 1,0 5.9,0a2.9,2.9 0 1,0 -5.9,0M423.7,1570.2a1.5,1.5 0 1,0 2.9,0a1.5,1.5 0 1,0 -2.9,0M539.5,1444.9a1.9,1.9 0 1,0 3.8,0a1.9,1.9 0 1,0 -3.8,0M400.6,1496.8a1.9,1.9 0 1,0 3.8,0a1.9,1.9 0 1,0 -3.8,0M505.7,1654.1a1.1,1.1 0 1,0 2.2,0a1.1,1.1 0 1,0 -2.2,0M534.6,1608.5a2,2 0 1,0 4,0a2,2 0 1,0 -4,0M485.4,1548.6a2,2 0 1,0 4,0a2,2 0 1,0 -4,0M367.6,1442.7a1.6,1.6 0 1,0 3.2,0a1.6,1.6 0 1,0 -3.2,0M529.7,1503.1a3.3,3.3 0 1,0 6.6,0a3.3,3.3 0 1,0 -6.6,0M555.3,1570.2a2.9,2.9 0 1,0 5.9,0a2.9,2.9 0 1,0 -5.9,0M397.6,1500.7a2.4,2.4 0 1,0 4.9,0a2.4,2.4 0 1,0 -4.9,0M641.1,1620.2a2.9,2.9 0 1,0 5.9,0a2.9,2.9 0 1,0 -5.9,0M555,1598.5a1.9,1.9 0 1,0 3.7,0a1.9,1.9 0 1,0 -3.7,0M443.5,1625.1a3.3,3.3 0 1,0 6.6,0a3.3,3.3 0 1,0 -6.6,0M613.3,1459.6a1.8,1.8 0 1,0 3.6,0a1.8,1.8 0 1,0 -3.6,0M520.7,1606.5a1.6,1.6 0 1,0 3.1,0a1.6,1.6 0 1,0 -3.1,0M376.8,1499.4a2.2,2.2 0 1,0 4.4,0a2.2,2.2 0 1,0 -4.4,0M403.7,1610.7a1.9,1.9 0 1,0 3.7,0a1.9,1.9 0 1,0 -3.7,0M483.6,1641.1a1.9,1.9 0 1,0 3.7,0a1.9,1.9 0 1,0 -3.7,0M401.3,1452.6a1.6,1.6 0 1,0 3.3,0a1.6,1.6 0 1,0 -3.3,0M599.3,1426.7a2.7,2.7 0 1,0 5.5,0a2.7,2.7 0 1,0 -5.5,0M414.1,1550.2a2.5,2.5 0 1,0 4.9,0a2.5,2.5 0 1,0 -4.9,0M448.9,1690a1.4,1.4 0 1,0 2.7,0a1.4,1.4 0 1,0 -2.7,0M465.1,1616.6a1.1,1.1 0 1,0 2.2,0a1.1,1.1 0 1,0 -2.2,0M521.5,1677.4a1,1 0 1,0 2.1,0a1,1 0 1,0 -2.1,0M420.7,1475.3a2.4,2.4 0 1,0 4.9,0a2.4,2.4 0 1,0 -4.9,0M395.9,1568.8a1.5,1.5 0 1,0 3,0a1.5,1.5 0 1,0 -3,0M427.5,1590a1.1,1.1 0 1,0 2.2,0a1.1,1.1 0 1,0 -2.2,0M486.7,1560.4a3.1,3.1 0 1,0 6.3,0a3.1,3.1 0 1,0 -6.3,0M528.5,1590.2a1.4,1.4 0 1,0 2.8,0a1.4,1.4 0 1,0 -2.8,0M507.7,1620.4a2.2,2.2 0 1,0 4.3,0a2.2,2.2 0 1,0 -4.3,0M458,1559.2a2.9,2.9 0 1,0 5.8,0a2.9,2.9 0 1,0 -5.8,0M595.4,1425.5a1.7,1.7 0 1,0 3.4,0a1.7,1.7 0 1,0 -3.4,0M385,1672a1.4,1.4 0 1,0 2.8,0a1.4,1.4 0 1,0 -2.8,0M469.4,1605.2a1.6,1.6 0 1,0 3.3,0a1.6,1.6 0 1,0 -3.3,0M457.8,1667.1a1.3,1.3 0 1,0 2.5,0a1.3,1.3 0 1,0 -2.5,0M450.6,1430.8a1,1 0 1,0 2.1,0a1,1 0 1,0 -2.1,0M528.5,1565.4a2.2,2.2 0 1,0 4.4,0a2.2,2.2 0 1,0 -4.4,0M597.2,1516.6a2.9,2.9 0 1,0 5.9,0a2.9,2.9 0 1,0 -5.9,0M533.4,1422.6a2.4,2.4 0 1,0 4.9,0a2.4,2.4 0 1,0 -4.9,0M606.1,1512.7a2.4,2.4 0 1,0 4.8,0a2.4,2.4 0 1,0 -4.8,0M597.1,1486.7a3.1,3.1 0 1,0 6.2,0a3.1,3.1 0 1,0 -6.2,0M452.2,1595.8a2.8,2.8 0 1,0 5.6,0a2.8,2.8 0 1,0 -5.6,0M528.5,1566.9a2.1,2.1 0 1,0 4.3,0a2.1,2.1 0 1,0 -4.3,0M472,1638.2a1.2,1.2 0 1,0 2.3,0a1.2,1.2 0 1,0 -2.3,0M499.6,1579.1a1.6,1.6 0 1,0 3.1,0a1.6,1.6 0 1,0 -3.1,0M460.2,1605.8a2.6,2.6 0 1,0 5.3,0a2.6,2.6 0 1,0 -5.3,0M619,1514.3a1.3,1.3 0 1,0 2.6,0a1.3,1.3 0 1,0 -2.6,0M547.8,1523a1,1 0 1,0 2.1,0a1,1 0 1,0 -2.1,0M505.5,1681.4a1.9,1.9 0 1,0 3.9,0a1.9,1.9 0 1,0 -3.9,0M516.9,1612.8a2.5,2.5 0 1,0 4.9,0a2.5,2.5 0 1,0 -4.9,0M399.7,1700.9a1.6,1.6 0 1,0 3.2,0a1.6,1.6 0 1,0 -3.2,0M442,1616.9a1.7,1.7 0 1,0 3.5,0a1.7,1.7 0 1,0 -3.5,0M551.2,1696.7a2.8,2.8 0 1,0 5.5,0a2.8,2.8 0 1,0 -5.5,0M426.8,1569.8a2.5,2.5 0 1,0 4.9,0a2.5,2.5 0 1,0 -4.9,0M412.7,1504.3a1.7,1.7 0 1,0 3.4,0a1.7,1.7 0 1,0 -3.4,0M577,1504.7a2.4,2.4 0 1,0 4.7,0a2.4,2.4 0 1,0 -4.7,0M542,1623.8a1.6,1.6 0 1,0 3.1,0a1.6,1.6 0 1,0 -3.1,0M410.8,1633.5a3.2,3.2 0 1,0 6.4,0a3.2,3.2 0 1,0 -6.4,0M470.5,1611.8a2.8,2.8 0 1,0 5.5,0a2.8,2.8 0 1,0 -5.5,0M582,1598.8a3.3,3.3 0 1,0 6.6,0a3.3,3.3 0 1,0 -6.6,0M611.2,1599.4a3.2,3.2 0 1,0 6.4,0a3.2,3.2 0 1,0 -6.4,0M549.6,1547.2a1.9,1.9 0 1,0 3.8,0a1.9,1.9 0 1,0 -3.8,0M516.8,1659.5a1.4,1.4 0 1,0 2.8,0a1.4,1.4 0 1,0 -2.8,0M423.7,1559.9a1,1 0 1,0 2.1,0a1,1 0 1,0 -2.1,0M463.7,1643.5a1.9,1.9 0 1,0 3.7,0a1.9,1.9 0 1,0 -3.7,0M593.4,1471a2.8,2.8 0 1,0 5.6,0a2.8,2.8 0 1,0 -5.6,0M515.2,1674.8a2.9,2.9 0 1,0 5.9,0a2.9,2.9 0 1,0 -5.9,0M588.6,1506.6a1.3,1.3 0 1,0 2.7,0a1.3,1.3 0 1,0 -2.7,0M528.4,1663a3.2,3.2 0 1,0 6.4,0a3.2,3.2 0 1,0 -6.4,0M371.1,1498.3a3.1,3.1 0 1,0 6.1,0a3.1,3.1 0 1,0 -6.1,0M573,1643.7a1.7,1.7 0 1,0 3.5,0a1.7,1.7 0 1,0 -3.5,0M544.6,1453.7a3,3 0 1,0 6.1,0a3,3 0 1,0 -6.1,0M511,1639.1a2.9,2.9 0 1,0 5.8,0a2.9,2.9 0 1,0 -5.8,0M540,1615.3a2.9,2.9 0 1,0 5.9,0a2.9,2.9 0 1,0 -5.9,0M587.8,1476.1a1.9,1.9 0 1,0 3.9,0a1.9,1.9 0 1,0 -3.9,0M579.1,1569.6a1,1 0 1,0 2.1,0a1,1 0 1,0 -2.1,0M493.7,1685.5a1.6,1.6 0 1,0 3.2,0a1.6,1.6 0 1,0 -3.2,0M513.6,1692.4a3.3,3.3 0 1,0 6.6,0a3.3,3.3 0 1,0 -6.6,0M585.3,1497.1a1.4,1.4 0 1,0 2.9,0a1.4,1.4 0 1,0 -2.9,0M496.7,1667a3.3,3.3 0 1,0 6.6,0a3.3,3.3 0 1,0 -6.6,0M391.6,1452.5a1.4,1.4 0 1,0 2.8,0a1.4,1.4 0 1,0 -2.8,0M590.1,1475.6a2.1,2.1 0 1,0 4.2,0a2.1,2.1 0 1,0 -4.2,0M466.6,1575.3a3.2,3.2 0 1,0 6.3,0a3.2,3.2 0 1,0 -6.3,0M442.4,1599.2a1.1,1.1 0 1,0 2.1,0a1.1,1.1 0 1,0 -2.1,0M475.6,1563a1.3,1.3 0 1,0 2.7,0a1.3,1.3 0 1,0 -2.7,0M559.6,1583.4a2.2,2.2 0 1,0 4.5,0a2.2,2.2 0 1,0 -4.5,0M519.8,1575.4a3.3,3.3 0 1,0 6.7,0a3.3,3.3 0 1,0 -6.7,0M485.7,1525.2a1.9,1.9 0 1,0 3.9,0a1.9,1.9 0 1,0 -3.9,0M537.8,1466.3a1.3,1.3 0 1,0 2.6,0a1.3,1.3 0 1,0 -2.6,0M433.3,1628.8a2.4,2.4 0 1,0 4.8,0a2.4,2.4 0 1,0 -4.8,0M365,1425a1.8,1.8 0 1,0 3.7,0a1.8,1.8 0 1,0 -3.7,0M628.5,1491.8a1.7,1.7 0 1,0 3.4,0a1.7,1.7 0 1,0 -3.4,0M550.8,1680a2.1,2.1 0 1,0 4.2,0a2.1,2.1 0 1,0 -4.2,0M554,1468.4a1.1,1.1 0 1,0 2.3,0a1.1,1.1 0 1,0 -2.3,0M541.1,1663.2a2.9,2.9 0 1,0 5.8,0a2.9,2.9 0 1,0 -5.8,0M422.6,1603.7a2.9,2.9 0 1,0 5.8,0a2.9,2.9 0 1,0 -5.8,0M502.1,1679.4a3.2,3.2 0 1,0 6.4,0a3.2,3.2 0 1,0 -6.4,0M363.5,1560.9a2.5,2.5 0 1,0 5,0a2.5,2.5 0 1,0 -5,0M569.2,1553.7a2.3,2.3 0 1,0 4.5,0a2.3,2.3 0 1,0 -4.5,0M416,1499.6a1.9,1.9 0 1,0 3.8,0a1.9,1.9 0 1,0 -3.8,0M405.7,1471.7a2.2,2.2 0 1,0 4.3,0a2.2,2.2 0 1,0 -4.3,0M461,1445.4a2.8,2.8 0 1,0 5.6,0a2.8,2.8 0 1,0 -5.6,0M447.2,1616.8a1.2,1.2 0 1,0 2.4,0a1.2,1.2 0 1,0 -2.4,0M536.5,1546.9a3.3,3.3 0 1,0 6.7,0a3.3,3.3 0 1,0 -6.7,0M607.2,1491.7a1.4,1.4 0 1,0 2.9,0a1.4,1.4 0 1,0 -2.9,0M440.3,1589a2.2,2.2 0 1,0 4.5,0a2.2,2.2 0 1,0 -4.5,0M544.2,1675.3a2.8,2.8 0 1,0 5.6,0a2.8,2.8 0 1,0 -5.6,0M412.7,1417.4a2.8,2.8 0 1,0 5.6,0a2.8,2.8 0 1,0 -5.6,0M484.1,1455.8a2.3,2.3 0 1,0 4.7,0a2.3,2.3 0 1,0 -4.7,0M416.4,1445.6a1.4,1.4 0 1,0 2.9,0a1.4,1.4 0 1,0 -2.9,0M451.5,1593.1a3.3,3.3 0 1,0 6.7,0a3.3,3.3 0 1,0 -6.7,0M507.1,1672.4a1.5,1.5 0 1,0 2.9,0a1.5,1.5 0 1,0 -2.9,0M449.8,1599.3a1.2,1.2 0 1,0 2.3,0a1.2,1.2 0 1,0 -2.3,0M576.3,1490.3a1.1,1.1 0 1,0 2.2,0a1.1,1.1 0 1,0 -2.2,0M537.9,1514.6a1.8,1.8 0 1,0 3.5,0a1.8,1.8 0 1,0 -3.5,0M555.1,1478.8a2.2,2.2 0 1,0 4.5,0a2.2,2.2 0 1,0 -4.5,0M490.8,1685.5a2.7,2.7 0 1,0 5.4,0a2.7,2.7 0 1,0 -5.4,0M560.8,1545.4a3.4,3.4 0 1,0 6.7,0a3.4,3.4 0 1,0 -6.7,0M459.7,1665.5a1.4,1.4 0 1,0 2.8,0a1.4,1.4 0 1,0 -2.8,0M393.7,1434.6a1,1 0 1,0 2,0a1,1 0 1,0 -2,0M370.5,1602.2a2.5,2.5 0 1,0 5,0a2.5,2.5 0 1,0 -5,0M417.9,1615.5a1.3,1.3 0 1,0 2.6,0a1.3,1.3 0 1,0 -2.6,0M554.2,1587.6a2.9,2.9 0 1,0 5.7,0a2.9,2.9 0 1,0 -5.7,0M437.3,1573.6a3,3 0 1,0 6,0a3,3 0 1,0 -6,0M453.4,1632a2.5,2.5 0 1,0 5,0a2.5,2.5 0 1,0 -5,0M593,1468.5a1.4,1.4 0 1,0 2.8,0a1.4,1.4 0 1,0 -2.8,0M538.7,1650a3.2,3.2 0 1,0 6.4,0a3.2,3.2 0 1,0 -6.4,0M615,1500.3a2.1,2.1 0 1,0 4.1,0a2.1,2.1 0 1,0 -4.1,0M640.6,1549.8a1,1 0 1,0 2.1,0a1,1 0 1,0 -2.1,0M401.1,1631.5a2.1,2.1 0 1,0 4.2,0a2.1,2.1 0 1,0 -4.2,0M519.3,1583a1.3,1.3 0 1,0 2.5,0a1.3,1.3 0 1,0 -2.5,0M404.8,1406.2a1.6,1.6 0 1,0 3.2,0a1.6,1.6 0 1,0 -3.2,0M657.6,1454a1.7,1.7 0 1,0 3.5,0a1.7,1.7 0 1,0 -3.5,0M399.2,1547.2a3,3 0 1,0 6,0a3,3 0 1,0 -6,0M634,1501.6a2.2,2.2 0 1,0 4.4,0a2.2,2.2 0 1,0 -4.4,0M491.4,1654.8a2,2 0 1,0 4,0a2,2 0 1,0 -4,0M589,1471.7a1.6,1.6 0 1,0 3.2,0a1.6,1.6 0 1,0 -3.2,0M415.4,1646.1a2.3,2.3 0 1,0 4.7,0a2.3,2.3 0 1,0 -4.7,0M629.1,1475.2a3,3 0 1,0 6,0a3,3 0 1,0 -6,0M621.9,1494.4a1.7,1.7 0 1,0 3.4,0a1.7,1.7 0 1,0 -3.4,0M490.7,1673.3a3.4,3.4 0 1,0 6.8,0a3.4,3.4 0 1,0 -6.8,0M489,1552.7a3.2,3.2 0 1,0 6.4,0a3.2,3.2 0 1,0 -6.4,0M415.6,1610.9a2.7,2.7 0 1,0 5.4,0a2.7,2.7 0 1,0 -5.4,0M441.1,1616.8a1.7,1.7 0 1,0 3.4,0a1.7,1.7 0 1,0 -3.4,0M558.9,1465.4a1.9,1.9 0 1,0 3.8,0a1.9,1.9 0 1,0 -3.8,0M647.5,1516.6a3.4,3.4 0 1,0 6.7,0a3.4,3.4 0 1,0 -6.7,0M455.3,1624.1a2.3,2.3 0 1,0 4.6,0a2.3,2.3 0 1,0 -4.6,0M531.1,1437.3a2,2 0 1,0 4.1,0a2,2 0 1,0 -4.1,0M578.5,1460.6a3.3,3.3 0 1,0 6.6,0a3.3,3.3 0 1,0 -6.6,0M587.6,1530a3,3 0 1,0 5.9,0a3,3 0 1,0 -5.9,0M473.5,1650.8a2.9,2.9 0 1,0 5.8,0a2.9,2.9 0 1,0 -5.8,0M558.3,1619.5a2.7,2.7 0 1,0 5.5,0a2.7,2.7 0 1,0 -5.5,0M518.6,1627.5a2.7,2.7 0 1,0 5.4,0a2.7,2.7 0 1,0 -5.4,0M546.2,1520.9a2.4,2.4 0 1,0 4.7,0a2.4,2.4 0 1,0 -4.7,0M388.3,1482.3a2,2 0 1,0 3.9,0a2,2 0 1,0 -3.9,0M494.1,1611.1a1.8,1.8 0 1,0 3.6,0a1.8,1.8 0 1,0 -3.6,0M481.2,1620.9a3.3,3.3 0 1,0 6.5,0a3.3,3.3 0 1,0 -6.5,0M526.6,1652.3a2,2 0 1,0 4,0a2,2 0 1,0 -4,0M584,1581.3a2.5,2.5 0 1,0 5,0a2.5,2.5 0 1,0 -5,0M418.4,1415.6a1.9,1.9 0 1,0 3.7,0a1.9,1.9 0 1,0 -3.7,0M566.5,1583.4a2.6,2.6 0 1,0 5.3,0a2.6,2.6 0 1,0 -5.3,0M427.3,1613.4a1.7,1.7 0 1,0 3.4,0a1.7,1.7 0 1,0 -3.4,0M491.2,1626.7a2,2 0 1,0 4.1,0a2,2 0 1,0 -4.1,0M473.3,1609.2a1.3,1.3 0 1,0 2.6,0a1.3,1.3 0 1,0 -2.6,0M479.3,1696.9a1.5,1.5 0 1,0 3.1,0a1.5,1.5 0 1,0 -3.1,0M543.8,1591.1a1.6,1.6 0 1,0 3.2,0a1.6,1.6 0 1,0 -3.2,0M558.5,1506.6a1.1,1.1 0 1,0 2.1,0a1.1,1.1 0 1,0 -2.1,0M531.2,1610a1.3,1.3 0 1,0 2.6,0a1.3,1.3 0 1,0 -2.6,0M597.3,1521.9a3.1,3.1 0 1,0 6.1,0a3.1,3.1 0 1,0 -6.1,0M436.3,1473.6a1.7,1.7 0 1,0 3.4,0a1.7,1.7 0 1,0 -3.4,0M507.8,1701.1a1.9,1.9 0 1,0 3.8,0a1.9,1.9 0 1,0 -3.8,0M384.7,1513.3a3.3,3.3 0 1,0 6.6,0a3.3,3.3 0 1,0 -6.6,0M536.1,1554.1a1.6,1.6 0 1,0 3.1,0a1.6,1.6 0 1,0 -3.1,0M579.9,1470.1a2.7,2.7 0 1,0 5.3,0a2.7,2.7 0 1,0 -5.3,0M424.3,1675.5a1.1,1.1 0 1,0 2.2,0a1.1,1.1 0 1,0 -2.2,0M430.4,1425.9a1.6,1.6 0 1,0 3.3,0a1.6,1.6 0 1,0 -3.3,0M593.6,1410.7a1,1 0 1,0 2,0a1,1 0 1,0 -2,0M527.6,1550.6a2.9,2.9 0 1,0 5.9,0a2.9,2.9 0 1,0 -5.9,0M539.1,1589.2a2.3,2.3 0 1,0 4.6,0a2.3,2.3 0 1,0 -4.6,0M563.7,1570.8a1.7,1.7 0 1,0 3.5,0a1.7,1.7 0 1,0 -3.5,0M484.9,1565.9a3,3 0 1,0 6.1,0a3,3 0 1,0 -6.1,0M498.2,1604.7a2.6,2.6 0 1,0 5.1,0a2.6,2.6 0 1,0 -5.1,0M573.8,1611.5a1.9,1.9 0 1,0 3.9,0a1.9,1.9 0 1,0 -3.9,0M622.9,1495.1a1.5,1.5 0 1,0 3,0a1.5,1.5 0 1,0 -3,0M564.4,1451.9a2.8,2.8 0 1,0 5.6,0a2.8,2.8 0 1,0 -5.6,0M411.3,1618.2a2.6,2.6 0 1,0 5.2,0a2.6,2.6 0 1,0 -5.2,0M524.3,1592.6a2,2 0 1,0 4,0a2,2 0 1,0 -4,0M525.2,1644.5a1.4,1.4 0 1,0 2.8,0a1.4,1.4 0 1,0 -2.8,0M585.4,1464.7a3.1,3.1 0 1,0 6.2,0a3.1,3.1 0 1,0 -6.2,0M430.9,1673a2.1,2.1 0 1,0 4.2,0a2.1,2.1 0 1,0 -4.2,0M441.1,1667.5a1.7,1.7 0 1,0 3.4,0a1.7,1.7 0 1,0 -3.4,0M384.3,1545.8a3.1,3.1 0 1,0 6.2,0a3.1,3.1 0 1,0 -6.2,0M566.4,1440.9a1.8,1.8 0 1,0 3.7,0a1.8,1.8 0 1,0 -3.7,0M414.5,1569.4a3.1,3.1 0 1,0 6.1,0a3.1,3.1 0 1,0 -6.1,0M542.1,1556a2.8,2.8 0 1,0 5.6,0a2.8,2.8 0 1,0 -5.6,0M508.8,1593a1.1,1.1 0 1,0 2.1,0a1.1,1.1 0 1,0 -2.1,0M489.7,1596.3a1.4,1.4 0 1,0 2.9,0a1.4,1.4 0 1,0 -2.9,0M539.1,1550a1.4,1.4 0 1,0 2.7,0a1.4,1.4 0 1,0 -2.7,0M424.3,1648.9a1.4,1.4 0 1,0 2.9,0a1.4,1.4 0 1,0 -2.9,0M471.2,1603.2a2,2 0 1,0 3.9,0a2,2 0 1,0 -3.9,0M448.5,1606.2a1.4,1.4 0 1,0 2.8,0a1.4,1.4 0 1,0 -2.8,0M432.4,1594.2a1.7,1.7 0 1,0 3.4,0a1.7,1.7 0 1,0 -3.4,0M578.8,1568.7a1.5,1.5 0 1,0 3,0a1.5,1.5 0 1,0 -3,0M403.1,1624a2.8,2.8 0 1,0 5.6,0a2.8,2.8 0 1,0 -5.6,0M565.8,1487.6a2.6,2.6 0 1,0 5.1,0a2.6,2.6 0 1,0 -5.1,0M390.4,1409.7a2.7,2.7 0 1,0 5.4,0a2.7,2.7 0 1,0 -5.4,0M547.9,1537.8a2.9,2.9 0 1,0 5.7,0a2.9,2.9 0 1,0 -5.7,0M543,1494.7a3.2,3.2 0 1,0 6.5,0a3.2,3.2 0 1,0 -6.5,0M504.8,1693.6a2.8,2.8 0 1,0 5.5,0a2.8,2.8 0 1,0 -5.5,0M377.4,1496a3.3,3.3 0 1,0 6.6,0a3.3,3.3 0 1,0 -6.6,0M595.3,1565.1a1.3,1.3 0 1,0 2.5,0a1.3,1.3 0 1,0 -2.5,0M539.4,1469a1.6,1.6 0 1,0 3.3,0a1.6,1.6 0 1,0 -3.3,0M450.4,1406.7a2.6,2.6 0 1,0 5.3,0a2.6,2.6 0 1,0 -5.3,0M420.1,1643.1a1.6,1.6 0 1,0 3.1,0a1.6,1.6 0 1,0 -3.1,0M483.2,1617.6a2.4,2.4 0 1,0 4.9,0a2.4,2.4 0 1,0 -4.9,0M484.1,1642.1a1.5,1.5 0 1,0 3,0a1.5,1.5 0 1,0 -3,0M492.8,1668.7a2.2,2.2 0 1,0 4.4,0a2.2,2.2 0 1,0 -4.4,0M553.2,1569.8a2.8,2.8 0 1,0 5.5,0a2.8,2.8 0 1,0 -5.5,0M587.1,1536.6a1.8,1.8 0 1,0 3.5,0a1.8,1.8 0 1,0 -3.5,0M533.9,1588a1.2,1.2 0 1,0 2.4,0a1.2,1.2 0 1,0 -2.4,0M390.6,1547a1.5,1.5 0 1,0 3.1,0a1.5,1.5 0 1,0 -3.1,0M419.5,1421.3a2.8,2.8 0 1,0 5.6,0a2.8,2.8 0 1,0 -5.6,0M508.6,1664.5a2.4,2.4 0 1,0 4.9,0a2.4,2.4 0 1,0 -4.9,0M576.3,1568.9a2.3,2.3 0 1,0 4.5,0a2.3,2.3 0 1,0 -4.5,0M532.2,1542.8a1.2,1.2 0 1,0 2.4,0a1.2,1.2 0 1,0 -2.4,0M628.5,1454.4a2.3,2.3 0 1,0 4.6,0a2.3,2.3 0 1,0 -4.6,0M469.7,1644a1.4,1.4 0 1,0 2.9,0a1.4,1.4 0 1,0 -2.9,0M462.1,1503a3,3 0 1,0 6,0a3,3 0 1,0 -6,0M464.6,1705.1a1.4,1.4 0 1,0 2.9,0a1.4,1.4 0 1,0 -2.9,0M534.6,1594.7a3,3 0 1,0 6.1,0a3,3 0 1,0 -6.1,0M584.1,1474.9a1.1,1.1 0 1,0 2.2,0a1.1,1.1 0 1,0 -2.2,0M426.2,1442a1,1 0 1,0 2,0a1,1 0 1,0 -2,0M406.8,1463.6a2.9,2.9 0 1,0 5.8,0a2.9,2.9 0 1,0 -5.8,0M393.8,1520.8a1.4,1.4 0 1,0 2.9,0a1.4,1.4 0 1,0 -2.9,0M542.3,1554.2a1.7,1.7 0 1,0 3.4,0a1.7,1.7 0 1,0 -3.4,0M456.1,1562.4a1.7,1.7 0 1,0 3.4,0a1.7,1.7 0 1,0 -3.4,0M539.6,1543.5a2.5,2.5 0 1,0 5.1,0a2.5,2.5 0 1,0 -5.1,0M563.9,1587.8a1.7,1.7 0 1,0 3.3,0a1.7,1.7 0 1,0 -3.3,0M530.8,1640.8a1.7,1.7 0 1,0 3.3,0a1.7,1.7 0 1,0 -3.3,0M427,1469.1a2.9,2.9 0 1,0 5.8,0a2.9,2.9 0 1,0 -5.8,0M403.4,1635.7a2,2 0 1,0 4.1,0a2,2 0 1,0 -4.1,0M418.2,1700.5a2.2,2.2 0 1,0 4.4,0a2.2,2.2 0 1,0 -4.4,0M399,1610.4a2.8,2.8 0 1,0 5.5,0a2.8,2.8 0 1,0 -5.5,0M458.4,1645a1.6,1.6 0 1,0 3.2,0a1.6,1.6 0 1,0 -3.2,0M604.1,1551a2.7,2.7 0 1,0 5.4,0a2.7,2.7 0 1,0 -5.4,0M464.6,1669.7a1.6,1.6 0 1,0 3.1,0a1.6,1.6 0 1,0 -3.1,0M579.6,1582.5a1.9,1.9 0 1,0 3.8,0a1.9,1.9 0 1,0 -3.8,0M636.4,1495.5a1.1,1.1 0 1,0 2.3,0a1.1,1.1 0 1,0 -2.3,0M432.1,1537.2a1.6,1.6 0 1,0 3.2,0a1.6,1.6 0 1,0 -3.2,0M504.4,1551.2a3.4,3.4 0 1,0 6.7,0a3.4,3.4 0 1,0 -6.7,0M526.1,1556.2a2.5,2.5 0 1,0 4.9,0a2.5,2.5 0 1,0 -4.9,0M413.4,1533.4a1.8,1.8 0 1,0 3.7,0a1.8,1.8 0 1,0 -3.7,0M520.6,1617a2.6,2.6 0 1,0 5.1,0a2.6,2.6 0 1,0 -5.1,0M421,1474.5a2.7,2.7 0 1,0 5.4,0a2.7,2.7 0 1,0 -5.4,0M434.7,1670.6a2.2,2.2 0 1,0 4.5,0a2.2,2.2 0 1,0 -4.5,0M587.4,1518.9a2.4,2.4 0 1,0 4.8,0a2.4,2.4 0 1,0 -4.8,0M505,1678a2.5,2.5 0 1,0 5.1,0a2.5,2.5 0 1,0 -5.1,0M442.2,1464a1.3,1.3 0 1,0 2.7,0a1.3,1.3 0 1,0 -2.7,0M557.8,1560.7a2.1,2.1 0 1,0 4.3,0a2.1,2.1 0 1,0 -4.3,0M461,1691.4a3.3,3.3 0 1,0 6.7,0a3.3,3.3 0 1,0 -6.7,0M438,1425.8a3.3,3.3 0 1,0 6.5,0a3.3,3.3 0 1,0 -6.5,0M537.5,1525a2.1,2.1 0 1,0 4.1,0a2.1,2.1 0 1,0 -4.1,0M441.2,1659.1a2,2 0 1,0 4.1,0a2,2 0 1,0 -4.1,0M423.2,1513.9a2.1,2.1 0 1,0 4.2,0a2.1,2.1 0 1,0 -4.2,0M560.3,1622a2.9,2.9 0 1,0 5.7,0a2.9,2.9 0 1,0 -5.7,0M507.3,1584.3a2,2 0 1,0 4.1,0a2,2 0 1,0 -4.1,0M461.1,1586.8a2.3,2.3 0 1,0 4.7,0a2.3,2.3 0 1,0 -4.7,0M587.6,1479.3a3.2,3.2 0 1,0 6.3,0a3.2,3.2 0 1,0 -6.3,0M546,1691.7a1.4,1.4 0 1,0 2.8,0a1.4,1.4 0 1,0 -2.8,0M544.4,1575.4a1.5,1.5 0 1,0 3,0a1.5,1.5 0 1,0 -3,0M518.9,1693.5a2.7,2.7 0 1,0 5.4,0a2.7,2.7 0 1,0 -5.4,0M545.5,1512.4a1,1 0 1,0 2,0a1,1 0 1,0 -2,0M429.2,1589.6a2.9,2.9 0 1,0 5.9,0a2.9,2.9 0 1,0 -5.9,0M536.3,1550.3a2.6,2.6 0 1,0 5.2,0a2.6,2.6 0 1,0 -5.2,0M500.4,1636.6a3,3 0 1,0 6,0a3,3 0 1,0 -6,0M453.5,1591.2a2.6,2.6 0 1,0 5.3,0a2.6,2.6 0 1,0 -5.3,0M485.6,1592.1a1.3,1.3 0 1,0 2.5,0a1.3,1.3 0 1,0 -2.5,0M448.9,1596.6a3.3,3.3 0 1,0 6.5,0a3.3,3.3 0 1,0 -6.5,0M545.9,1550.5a2.9,2.9 0 1,0 5.8,0a2.9,2.9 0 1,0 -5.8,0M455.5,1558.2a2,2 0 1,0 3.9,0a2,2 0 1,0 -3.9,0M632.1,1519.5a1.1,1.1 0 1,0 2.2,0a1.1,1.1 0 1,0 -2.2,0M610.1,1473.3a3,3 0 1,0 6,0a3,3 0 1,0 -6,0M574.2,1693.3a2.8,2.8 0 1,0 5.6,0a2.8,2.8 0 1,0 -5.6,0M483.1,1592a2.6,2.6 0 1,0 5.3,0a2.6,2.6 0 1,0 -5.3,0M394.4,1451.6a3,3 0 1,0 6.1,0a3,3 0 1,0 -6.1,0M614.5,1476.2a3,3 0 1,0 6,0a3,3 0 1,0 -6,0M409.9,1449.7a2.1,2.1 0 1,0 4.2,0a2.1,2.1 0 1,0 -4.2,0M385.4,1438.6a2.8,2.8 0 1,0 5.6,0a2.8,2.8 0 1,0 -5.6,0M475.1,1463.2a2.8,2.8 0 1,0 5.7,0a2.8,2.8 0 1,0 -5.7,0M558.3,1510.6a1.8,1.8 0 1,0 3.5,0a1.8,1.8 0 1,0 -3.5,0M414.2,1668.1a2.1,2.1 0 1,0 4.2,0a2.1,2.1 0 1,0 -4.2,0M545,1621.6a1.9,1.9 0 1,0 3.8,0a1.9,1.9 0 1,0 -3.8,0M529.4,1595.7a3.1,3.1 0 1,0 6.1,0a3.1,3.1 0 1,0 -6.1,0M428.1,1457.8a1.6,1.6 0 1,0 3.1,0a1.6,1.6 0 1,0 -3.1,0M601.4,1543.1a1.7,1.7 0 1,0 3.3,0a1.7,1.7 0 1,0 -3.3,0M529.2,1607.5a2,2 0 1,0 4.1,0a2,2 0 1,0 -4.1,0M611,1490.4a2.3,2.3 0 1,0 4.7,0a2.3,2.3 0 1,0 -4.7,0M432.8,1528.3a2.3,2.3 0 1,0 4.6,0a2.3,2.3 0 1,0 -4.6,0M543.4,1673.4a2.9,2.9 0 1,0 5.7,0a2.9,2.9 0 1,0 -5.7,0M494.7,1604a2,2 0 1,0 4.1,0a2,2 0 1,0 -4.1,0M411.9,1558.1a3.4,3.4 0 1,0 6.7,0a3.4,3.4 0 1,0 -6.7,0M624.4,1454.2a1.3,1.3 0 1,0 2.6,0a1.3,1.3 0 1,0 -2.6,0M519.3,1480.6a1.6,1.6 0 1,0 3.2,0a1.6,1.6 0 1,0 -3.2,0M474.7,1582.6a1.9,1.9 0 1,0 3.8,0a1.9,1.9 0 1,0 -3.8,0M514.9,1693.6a1.9,1.9 0 1,0 3.8,0a1.9,1.9 0 1,0 -3.8,0M590.4,1504a1.9,1.9 0 1,0 3.7,0a1.9,1.9 0 1,0 -3.7,0M391.6,1502.3a2,2 0 1,0 3.9,0a2,2 0 1,0 -3.9,0M390.6,1611.6a2.1,2.1 0 1,0 4.3,0a2.1,2.1 0 1,0 -4.3,0M438.6,1560.1a3.1,3.1 0 1,0 6.2,0a3.1,3.1 0 1,0 -6.2,0M447.6,1621.8a3.1,3.1 0 1,0 6.1,0a3.1,3.1 0 1,0 -6.1,0M556.1,1561.5a3,3 0 1,0 6.1,0a3,3 0 1,0 -6.1,0M367.5,1404.5a1.3,1.3 0 1,0 2.5,0a1.3,1.3 0 1,0 -2.5,0M485.7,1688.1a1.1,1.1 0 1,0 2.1,0a1.1,1.1 0 1,0 -2.1,0M576.7,1609a1.7,1.7 0 1,0 3.4,0a1.7,1.7 0 1,0 -3.4,0M461.8,1468.5a2.7,2.7 0 1,0 5.3,0a2.7,2.7 0 1,0 -5.3,0M558.2,1576.1a3.3,3.3 0 1,0 6.6,0a3.3,3.3 0 1,0 -6.6,0M574.1,1531a1.3,1.3 0 1,0 2.5,0a1.3,1.3 0 1,0 -2.5,0M386.5,1670.8a1.1,1.1 0 1,0 2.3,0a1.1,1.1 0 1,0 -2.3,0M428.8,1631.6a1.7,1.7 0 1,0 3.4,0a1.7,1.7 0 1,0 -3.4,0M580.4,1621.2a1.3,1.3 0 1,0 2.7,0a1.3,1.3 0 1,0 -2.7,0M384.7,1451.7a1,1 0 1,0 2.1,0a1,1 0 1,0 -2.1,0M440.9,1591.1a3.3,3.3 0 1,0 6.6,0a3.3,3.3 0 1,0 -6.6,0M381.5,1544a2.7,2.7 0 1,0 5.4,0a2.7,2.7 0 1,0 -5.4,0M541.4,1588.6a1.7,1.7 0 1,0 3.4,0a1.7,1.7 0 1,0 -3.4,0M430.3,1446.2a2,2 0 1,0 4,0a2,2 0 1,0 -4,0M508.1,1645.3a2.5,2.5 0 1,0 4.9,0a2.5,2.5 0 1,0 -4.9,0M447.2,1649.8a2,2 0 1,0 4.1,0a2,2 0 1,0 -4.1,0M545.2,1456.1a1.3,1.3 0 1,0 2.6,0a1.3,1.3 0 1,0 -2.6,0M506.4,1429.9a1.8,1.8 0 1,0 3.7,0a1.8,1.8 0 1,0 -3.7,0M482.7,1605.4a1.4,1.4 0 1,0 2.9,0a1.4,1.4 0 1,0 -2.9,0M492.2,1608a1.8,1.8 0 1,0 3.6,0a1.8,1.8 0 1,0 -3.6,0M440.1,1572.1a2,2 0 1,0 4,0a2,2 0 1,0 -4,0M578.1,1444.7a3.3,3.3 0 1,0 6.6,0a3.3,3.3 0 1,0 -6.6,0M462.1,1575.5a2.4,2.4 0 1,0 4.7,0a2.4,2.4 0 1,0 -4.7,0M438.1,1659.1a2.6,2.6 0 1,0 5.3,0a2.6,2.6 0 1,0 -5.3,0M657.4,1650.4a2.9,2.9 0 1,0 5.7,0a2.9,2.9 0 1,0 -5.7,0M456.4,1470.1a2,2 0 1,0 3.9,0a2,2 0 1,0 -3.9,0M430.5,1687.5a1.6,1.6 0 1,0 3.2,0a1.6,1.6 0 1,0 -3.2,0M388.4,1530.7a1.2,1.2 0 1,0 2.4,0a1.2,1.2 0 1,0 -2.4,0M376.6,1634.7a3,3 0 1,0 5.9,0a3,3 0 1,0 -5.9,0M593.3,1478.7a1.3,1.3 0 1,0 2.6,0a1.3,1.3 0 1,0 -2.6,0M486.1,1659.9a2,2 0 1,0 4,0a2,2 0 1,0 -4,0M403.3,1663.9a1.5,1.5 0 1,0 3.1,0a1.5,1.5 0 1,0 -3.1,0M549,1563.6a2.4,2.4 0 1,0 4.9,0a2.4,2.4 0 1,0 -4.9,0M441.1,1604a2.8,2.8 0 1,0 5.5,0a2.8,2.8 0 1,0 -5.5,0M374.6,1542.9a2.8,2.8 0 1,0 5.6,0a2.8,2.8 0 1,0 -5.6,0M482.9,1577.4a2.4,2.4 0 1,0 4.8,0a2.4,2.4 0 1,0 -4.8,0M556.5,1670.2a1.2,1.2 0 1,0 2.3,0a1.2,1.2 0 1,0 -2.3,0M454.6,1652.8a1.7,1.7 0 1,0 3.4,0a1.7,1.7 0 1,0 -3.4,0M542.1,1505.2a1.5,1.5 0 1,0 2.9,0a1.5,1.5 0 1,0 -2.9,0M639.7,1485.6a3.2,3.2 0 1,0 6.3,0a3.2,3.2 0 1,0 -6.3,0M398.9,1485.6a3.3,3.3 0 1,0 6.5,0a3.3,3.3 0 1,0 -6.5,0M564.7,1476.6a2.2,2.2 0 1,0 4.3,0a2.2,2.2 0 1,0 -4.3,0M605.6,1577.1a3.1,3.1 0 1,0 6.3,0a3.1,3.1 0 1,0 -6.3,0M425.6,1455.7a1.4,1.4 0 1,0 2.8,0a1.4,1.4 0 1,0 -2.8,0M465.9,1652.1a1.4,1.4 0 1,0 2.8,0a1.4,1.4 0 1,0 -2.8,0M471,1680.9a1.4,1.4 0 1,0 2.8,0a1.4,1.4 0 1,0 -2.8,0M389.8,1545.9a3,3 0 1,0 6,0a3,3 0 1,0 -6,0M437.8,1453.6a1.3,1.3 0 1,0 2.6,0a1.3,1.3 0 1,0 -2.6,0M449.8,1666.6a1.8,1.8 0 1,0 3.5,0a1.8,1.8 0 1,0 -3.5,0M434.6,1594.7a3.2,3.2 0 1,0 6.5,0a3.2,3.2 0 1,0 -6.5,0M566.9,1635a2,2 0 1,0 4,0a2,2 0 1,0 -4,0M411.6,1407.7a1.3,1.3 0 1,0 2.7,0a1.3,1.3 0 1,0 -2.7,0M479.5,1611.3a1.3,1.3 0 1,0 2.6,0a1.3,1.3 0 1,0 -2.6,0M429.8,1643.7a1.1,1.1 0 1,0 2.3,0a1.1,1.1 0 1,0 -2.3,0M468.7,1543.8a1.4,1.4 0 1,0 2.8,0a1.4,1.4 0 1,0 -2.8,0M495.6,1439.4a3.3,3.3 0 1,0 6.6,0a3.3,3.3 0 1,0 -6.6,0M436,1488.5a2.9,2.9 0 1,0 5.8,0a2.9,2.9 0 1,0 -5.8,0M590.4,1463.4a2.8,2.8 0 1,0 5.6,0a2.8,2.8 0 1,0 -5.6,0M651.9,1515.7a1.7,1.7 0 1,0 3.4,0a1.7,1.7 0 1,0 -3.4,0M459,1570.8a1,1 0 1,0 2,0a1,1 0 1,0 -2,0M518.5,1465.3a1.4,1.4 0 1,0 2.8,0a1.4,1.4 0 1,0 -2.8,0M620.9,1453.6a1.1,1.1 0 1,0 2.2,0a1.1,1.1 0 1,0 -2.2,0M469.6,1639.4a2.4,2.4 0 1,0 4.8,0a2.4,2.4 0 1,0 -4.8,0M485.4,1689.3a1.1,1.1 0 1,0 2.3,0a1.1,1.1 0 1,0 -2.3,0M511.7,1602.1a1.6,1.6 0 1,0 3.2,0a1.6,1.6 0 1,0 -3.2,0M452.8,1605.8a3.1,3.1 0 1,0 6.1,0a3.1,3.1 0 1,0 -6.1,0M400.5,1431.3a2.5,2.5 0 1,0 4.9,0a2.5,2.5 0 1,0 -4.9,0M498.4,1547.6a2.8,2.8 0 1,0 5.7,0a2.8,2.8 0 1,0 -5.7,0M537.9,1499.5a2,2 0 1,0 3.9,0a2,2 0 1,0 -3.9,0M398.8,1598.2a2.3,2.3 0 1,0 4.6,0a2.3,2.3 0 1,0 -4.6,0M438.3,1546.8a1.3,1.3 0 1,0 2.5,0a1.3,1.3 0 1,0 -2.5,0M437,1525.3a1.9,1.9 0 1,0 3.7,0a1.9,1.9 0 1,0 -3.7,0M437.9,1659.4a3.4,3.4 0 1,0 6.7,0a3.4,3.4 0 1,0 -6.7,0M550.2,1419.5a1.1,1.1 0 1,0 2.3,0a1.1,1.1 0 1,0 -2.3,0M489.4,1615.4a2.2,2.2 0 1,0 4.4,0a2.2,2.2 0 1,0 -4.4,0M552,1428.2a3.2,3.2 0 1,0 6.4,0a3.2,3.2 0 1,0 -6.4,0M617.1,1417.5a3,3 0 1,0 6,0a3,3 0 1,0 -6,0M445.4,1479.8a2.7,2.7 0 1,0 5.5,0a2.7,2.7 0 1,0 -5.5,0M368.7,1618.7a2.9,2.9 0 1,0 5.7,0a2.9,2.9 0 1,0 -5.7,0M511.8,1580.7a3.1,3.1 0 1,0 6.1,0a3.1,3.1 0 1,0 -6.1,0M360.1,1615.2a3.1,3.1 0 1,0 6.2,0a3.1,3.1 0 1,0 -6.2,0M410.8,1585.6a2,2 0 1,0 4.1,0a2,2 0 1,0 -4.1,0M376.7,1530.8a2.6,2.6 0 1,0 5.3,0a2.6,2.6 0 1,0 -5.3,0M496.3,1418.2a2.5,2.5 0 1,0 5,0a2.5,2.5 0 1,0 -5,0M407.6,1523.4a2.6,2.6 0 1,0 5.2,0a2.6,2.6 0 1,0 -5.2,0M432.4,1422.2a3.4,3.4 0 1,0 6.7,0a3.4,3.4 0 1,0 -6.7,0M441,1439.7a2.7,2.7 0 1,0 5.4,0a2.7,2.7 0 1,0 -5.4,0M544.5,1472.1a1,1 0 1,0 2.1,0a1,1 0 1,0 -2.1,0M573,1440.2a1.3,1.3 0 1,0 2.5,0a1.3,1.3 0 1,0 -2.5,0M548.9,1693.6a3.3,3.3 0 1,0 6.7,0a3.3,3.3 0 1,0 -6.7,0M463.4,1653.8a2.9,2.9 0 1,0 5.8,0a2.9,2.9 0 1,0 -5.8,0M608,1551.8a2.5,2.5 0 1,0 4.9,0a2.5,2.5 0 1,0 -4.9,0M505.8,1658.3a1.2,1.2 0 1,0 2.4,0a1.2,1.2 0 1,0 -2.4,0M535.1,1494.1a3,3 0 1,0 5.9,0a3,3 0 1,0 -5.9,0M657.2,1470.3a2.7,2.7 0 1,0 5.4,0a2.7,2.7 0 1,0 -5.4,0M570.1,1489.3a2.1,2.1 0 1,0 4.2,0a2.1,2.1 0 1,0 -4.2,0M492,1690.6a2.3,2.3 0 1,0 4.5,0a2.3,2.3 0 1,0 -4.5,0M408.4,1659.4a2.5,2.5 0 1,0 5,0a2.5,2.5 0 1,0 -5,0M520.3,1617a3,3 0 1,0 6.1,0a3,3 0 1,0 -6.1,0M534.3,1456.4a2.7,2.7 0 1,0 5.4,0a2.7,2.7 0 1,0 -5.4,0M590.1,1453a3.2,3.2 0 1,0 6.3,0a3.2,3.2 0 1,0 -6.3,0M543.9,1608.6a3.3,3.3 0 1,0 6.6,0a3.3,3.3 0 1,0 -6.6,0M385,1434.1a2.4,2.4 0 1,0 4.7,0a2.4,2.4 0 1,0 -4.7,0M419.4,1649.6a2.5,2.5 0 1,0 5,0a2.5,2.5 0 1,0 -5,0M545.6,1588.5a1.1,1.1 0 1,0 2.1,0a1.1,1.1 0 1,0 -2.1,0M532.1,1576.9a2.4,2.4 0 1,0 4.8,0a2.4,2.4 0 1,0 -4.8,0M412,1456a1.6,1.6 0 1,0 3.3,0a1.6,1.6 0 1,0 -3.3,0M531.6,1691.8a3.2,3.2 0 1,0 6.5,0a3.2,3.2 0 1,0 -6.5,0M500,1644.9a1.8,1.8 0 1,0 3.6,0a1.8,1.8 0 1,0 -3.6,0M476.9,1653.2a1.6,1.6 0 1,0 3.2,0a1.6,1.6 0 1,0 -3.2,0M578.2,1458.5a1.5,1.5 0 1,0 3,0a1.5,1.5 0 1,0 -3,0M412.6,1696.4a2.7,2.7 0 1,0 5.4,0a2.7,2.7 0 1,0 -5.4,0M518.6,1465.3a3.1,3.1 0 1,0 6.1,0a3.1,3.1 0 1,0 -6.1,0M464.3,1550a1.2,1.2 0 1,0 2.4,0a1.2,1.2 0 1,0 -2.4,0M563.7,1518.1a2.7,2.7 0 1,0 5.4,0a2.7,2.7 0 1,0 -5.4,0M455.5,1674.8a1.2,1.2 0 1,0 2.4,0a1.2,1.2 0 1,0 -2.4,0M530.4,1649.5a2.2,2.2 0 1,0 4.4,0a2.2,2.2 0 1,0 -4.4,0M595.1,1510.7a2.6,2.6 0 1,0 5.2,0a2.6,2.6 0 1,0 -5.2,0M407.9,1460.6a1.6,1.6 0 1,0 3.2,0a1.6,1.6 0 1,0 -3.2,0M511.9,1697a1.1,1.1 0 1,0 2.2,0a1.1,1.1 0 1,0 -2.2,0M642.8,1555.5a2.6,2.6 0 1,0 5.1,0a2.6,2.6 0 1,0 -5.1,0M588,1451.1a2.5,2.5 0 1,0 5,0a2.5,2.5 0 1,0 -5,0M565.1,1539.9a2.3,2.3 0 1,0 4.5,0a2.3,2.3 0 1,0 -4.5,0M502.7,1646.6a2.3,2.3 0 1,0 4.5,0a2.3,2.3 0 1,0 -4.5,0M568.4,1452.6a3.4,3.4 0 1,0 6.8,0a3.4,3.4 0 1,0 -6.8,0M446.2,1629a3.2,3.2 0 1,0 6.5,0a3.2,3.2 0 1,0 -6.5,0M422.2,1535a1.4,1.4 0 1,0 2.7,0a1.4,1.4 0 1,0 -2.7,0M499.6,1566.9a1.4,1.4 0 1,0 2.9,0a1.4,1.4 0 1,0 -2.9,0M458.3,1634a3,3 0 1,0 6.1,0a3,3 0 1,0 -6.1,0M411,1593.3a3,3 0 1,0 5.9,0a3,3 0 1,0 -5.9,0M509.1,1695.8a2.3,2.3 0 1,0 4.5,0a2.3,2.3 0 1,0 -4.5,0M435,1569.5a2,2 0 1,0 4,0a2,2 0 1,0 -4,0M501,1674.2a2.8,2.8 0 1,0 5.6,0a2.8,2.8 0 1,0 -5.6,0M566.2,1608.3a2.3,2.3 0 1,0 4.6,0a2.3,2.3 0 1,0 -4.6,0M413.9,1597.6a2,2 0 1,0 4,0a2,2 0 1,0 -4,0M481.1,1655.9a2.5,2.5 0 1,0 5.1,0a2.5,2.5 0 1,0 -5.1,0M366.3,1516.9a3.2,3.2 0 1,0 6.5,0a3.2,3.2 0 1,0 -6.5,0M614.6,1457.9a1.1,1.1 0 1,0 2.2,0a1.1,1.1 0 1,0 -2.2,0M534.7,1695.5a2,2 0 1,0 4,0a2,2 0 1,0 -4,0M577.1,1459.6a3.3,3.3 0 1,0 6.6,0a3.3,3.3 0 1,0 -6.6,0M585,1500.7a2.7,2.7 0 1,0 5.5,0a2.7,2.7 0 1,0 -5.5,0M392.4,1579.2a1.4,1.4 0 1,0 2.8,0a1.4,1.4 0 1,0 -2.8,0M573.9,1466.3a1.5,1.5 0 1,0 3.1,0a1.5,1.5 0 1,0 -3.1,0M434.3,1676.2a2.3,2.3 0 1,0 4.6,0a2.3,2.3 0 1,0 -4.6,0M584.8,1562a2.7,2.7 0 1,0 5.4,0a2.7,2.7 0 1,0 -5.4,0M402.9,1478.6a2.2,2.2 0 1,0 4.4,0a2.2,2.2 0 1,0 -4.4,0M399.7,1563.6a2,2 0 1,0 4,0a2,2 0 1,0 -4,0M515.2,1551.2a1.3,1.3 0 1,0 2.6,0a1.3,1.3 0 1,0 -2.6,0M513.1,1673.5a2.6,2.6 0 1,0 5.3,0a2.6,2.6 0 1,0 -5.3,0M604.2,1694.9a2.7,2.7 0 1,0 5.4,0a2.7,2.7 0 1,0 -5.4,0M607.2,1485.8a3.2,3.2 0 1,0 6.4,0a3.2,3.2 0 1,0 -6.4,0M644.7,1485.1a1.5,1.5 0 1,0 2.9,0a1.5,1.5 0 1,0 -2.9,0M380,1613.8a1.7,1.7 0 1,0 3.5,0a1.7,1.7 0 1,0 -3.5,0M414.5,1564.6a2.4,2.4 0 1,0 4.9,0a2.4,2.4 0 1,0 -4.9,0M401.6,1419.3a2,2 0 1,0 4,0a2,2 0 1,0 -4,0M548.4,1524.6a3.2,3.2 0 1,0 6.4,0a3.2,3.2 0 1,0 -6.4,0M532.2,1676.4a2.9,2.9 0 1,0 5.9,0a2.9,2.9 0 1,0 -5.9,0M385.3,1655.1a1.5,1.5 0 1,0 3.1,0a1.5,1.5 0 1,0 -3.1,0M518.1,1703.6a3.1,3.1 0 1,0 6.3,0a3.1,3.1 0 1,0 -6.3,0M404.4,1494.6a3.2,3.2 0 1,0 6.5,0a3.2,3.2 0 1,0 -6.5,0M564.1,1501.5a2.8,2.8 0 1,0 5.6,0a2.8,2.8 0 1,0 -5.6,0M378.6,1465.6a3.3,3.3 0 1,0 6.6,0a3.3,3.3 0 1,0 -6.6,0M464,1668.8a2.7,2.7 0 1,0 5.4,0a2.7,2.7 0 1,0 -5.4,0M493.1,1444.3a2.3,2.3 0 1,0 4.6,0a2.3,2.3 0 1,0 -4.6,0M570.8,1569.7a1.4,1.4 0 1,0 2.9,0a1.4,1.4 0 1,0 -2.9,0M435.2,1548.8a2.6,2.6 0 1,0 5.2,0a2.6,2.6 0 1,0 -5.2,0M471.2,1558.2a1.6,1.6 0 1,0 3.3,0a1.6,1.6 0 1,0 -3.3,0M446.8,1614.8a2.5,2.5 0 1,0 5.1,0a2.5,2.5 0 1,0 -5.1,0M468.8,1644.5a2.4,2.4 0 1,0 4.9,0a2.4,2.4 0 1,0 -4.9,0M501.9,1683.5a1.3,1.3 0 1,0 2.6,0a1.3,1.3 0 1,0 -2.6,0M564.2,1467.6a1.9,1.9 0 1,0 3.8,0a1.9,1.9 0 1,0 -3.8,0M373.5,1541.5a2.8,2.8 0 1,0 5.5,0a2.8,2.8 0 1,0 -5.5,0M418.1,1580.1a1.8,1.8 0 1,0 3.7,0a1.8,1.8 0 1,0 -3.7,0M648.4,1498.7a1.7,1.7 0 1,0 3.4,0a1.7,1.7 0 1,0 -3.4,0M416.2,1431.3a3,3 0 1,0 5.9,0a3,3 0 1,0 -5.9,0M515,1619.4a3.4,3.4 0 1,0 6.7,0a3.4,3.4 0 1,0 -6.7,0M519.9,1694.1a2.5,2.5 0 1,0 5,0a2.5,2.5 0 1,0 -5,0M454.9,1582.6a1.1,1.1 0 1,0 2.2,0a1.1,1.1 0 1,0 -2.2,0M378.1,1560a2,2 0 1,0 4,0a2,2 0 1,0 -4,0M518.4,1681.4a1.5,1.5 0 1,0 3,0a1.5,1.5 0 1,0 -3,0M432.1,1591.5a3.1,3.1 0 1,0 6.2,0a3.1,3.1 0 1,0 -6.2,0M438,1430.1a1.2,1.2 0 1,0 2.5,0a1.2,1.2 0 1,0 -2.5,0M524.2,1607.6a3.3,3.3 0 1,0 6.7,0a3.3,3.3 0 1,0 -6.7,0M432.2,1475.4a1.3,1.3 0 1,0 2.6,0a1.3,1.3 0 1,0 -2.6,0M596.2,1529.9a1.7,1.7 0 1,0 3.3,0a1.7,1.7 0 1,0 -3.3,0M650.8,1445.8a1.3,1.3 0 1,0 2.6,0a1.3,1.3 0 1,0 -2.6,0M582.3,1499a2.5,2.5 0 1,0 5.1,0a2.5,2.5 0 1,0 -5.1,0M572.2,1596.4a2.4,2.4 0 1,0 4.8,0a2.4,2.4 0 1,0 -4.8,0M537.9,1699.5a2.1,2.1 0 1,0 4.2,0a2.1,2.1 0 1,0 -4.2,0M538.6,1681.9a1,1 0 1,0 2.1,0a1,1 0 1,0 -2.1,0M444.1,1673.1a1.4,1.4 0 1,0 2.8,0a1.4,1.4 0 1,0 -2.8,0M562,1572.1a1.6,1.6 0 1,0 3.2,0a1.6,1.6 0 1,0 -3.2,0M534.7,1591.6a2.6,2.6 0 1,0 5.2,0a2.6,2.6 0 1,0 -5.2,0M411,1495.1a2.6,2.6 0 1,0 5.1,0a2.6,2.6 0 1,0 -5.1,0M593.4,1514.9a1.3,1.3 0 1,0 2.5,0a1.3,1.3 0 1,0 -2.5,0M427,1449.7a2.5,2.5 0 1,0 5,0a2.5,2.5 0 1,0 -5,0M414.8,1701.2a1.6,1.6 0 1,0 3.2,0a1.6,1.6 0 1,0 -3.2,0M559.3,1587.8a3.1,3.1 0 1,0 6.2,0a3.1,3.1 0 1,0 -6.2,0M528,1616.4a1.8,1.8 0 1,0 3.6,0a1.8,1.8 0 1,0 -3.6,0M602.4,1475.9a3.2,3.2 0 1,0 6.4,0a3.2,3.2 0 1,0 -6.4,0M426.5,1452a3,3 0 1,0 6,0a3,3 0 1,0 -6,0M364.9,1633.5a1.8,1.8 0 1,0 3.6,0a1.8,1.8 0 1,0 -3.6,0M497.9,1664.3a3.1,3.1 0 1,0 6.3,0a3.1,3.1 0 1,0 -6.3,0M474.5,1637.7a1.1,1.1 0 1,0 2.2,0a1.1,1.1 0 1,0 -2.2,0M426.6,1410.9a2.7,2.7 0 1,0 5.5,0a2.7,2.7 0 1,0 -5.5,0M462.7,1626.6a3,3 0 1,0 5.9,0a3,3 0 1,0 -5.9,0M607.1,1481.3a3.1,3.1 0 1,0 6.1,0a3.1,3.1 0 1,0 -6.1,0M472.3,1591.6a2.6,2.6 0 1,0 5.3,0a2.6,2.6 0 1,0 -5.3,0M456.5,1588.7a2.4,2.4 0 1,0 4.9,0a2.4,2.4 0 1,0 -4.9,0M394.8,1544.9a2.3,2.3 0 1,0 4.7,0a2.3,2.3 0 1,0 -4.7,0M438.5,1468.4a1.3,1.3 0 1,0 2.6,0a1.3,1.3 0 1,0 -2.6,0M614,1473.3a3.2,3.2 0 1,0 6.4,0a3.2,3.2 0 1,0 -6.4,0M472.4,1625.8a1.3,1.3 0 1,0 2.6,0a1.3,1.3 0 1,0 -2.6,0M509.8,1614.8a2.7,2.7 0 1,0 5.4,0a2.7,2.7 0 1,0 -5.4,0M454.7,1634.2a2.4,2.4 0 1,0 4.9,0a2.4,2.4 0 1,0 -4.9,0M483.6,1530a2.3,2.3 0 1,0 4.6,0a2.3,2.3 0 1,0 -4.6,0M522.1,1697.4a1.2,1.2 0 1,0 2.4,0a1.2,1.2 0 1,0 -2.4,0M425.3,1615a2.2,2.2 0 1,0 4.4,0a2.2,2.2 0 1,0 -4.4,0M398.8,1452a2,2 0 1,0 3.9,0a2,2 0 1,0 -3.9,0M431.5,1628.9a2.7,2.7 0 1,0 5.5,0a2.7,2.7 0 1,0 -5.5,0M384.1,1685.5a3.2,3.2 0 1,0 6.5,0a3.2,3.2 0 1,0 -6.5,0M616.5,1480.5a2.5,2.5 0 1,0 5.1,0a2.5,2.5 0 1,0 -5.1,0M384.3,1616.4a1.1,1.1 0 1,0 2.3,0a1.1,1.1 0 1,0 -2.3,0M465.2,1643.1a1.3,1.3 0 1,0 2.6,0a1.3,1.3 0 1,0 -2.6,0M587.5,1455.5a3.1,3.1 0 1,0 6.1,0a3.1,3.1 0 1,0 -6.1,0M633,1640.1a3.2,3.2 0 1,0 6.3,0a3.2,3.2 0 1,0 -6.3,0M538.6,1604.6a1.7,1.7 0 1,0 3.3,0a1.7,1.7 0 1,0 -3.3,0M381.7,1560.3a2.2,2.2 0 1,0 4.4,0a2.2,2.2 0 1,0 -4.4,0M451.3,1695.2a2.8,2.8 0 1,0 5.6,0a2.8,2.8 0 1,0 -5.6,0M448.9,1557.3a1.6,1.6 0 1,0 3.2,0a1.6,1.6 0 1,0 -3.2,0M399.5,1424a1.8,1.8 0 1,0 3.5,0a1.8,1.8 0 1,0 -3.5,0M412.8,1547.6a2.9,2.9 0 1,0 5.8,0a2.9,2.9 0 1,0 -5.8,0M422.8,1460a1.7,1.7 0 1,0 3.5,0a1.7,1.7 0 1,0 -3.5,0M549.8,1509.3a1.5,1.5 0 1,0 3.1,0a1.5,1.5 0 1,0 -3.1,0M497.7,1667.5a3,3 0 1,0 6,0a3,3 0 1,0 -6,0M415.5,1403.7a2.7,2.7 0 1,0 5.4,0a2.7,2.7 0 1,0 -5.4,0M425.8,1584.1a2.8,2.8 0 1,0 5.7,0a2.8,2.8 0 1,0 -5.7,0M546.5,1459.4a1.5,1.5 0 1,0 3,0a1.5,1.5 0 1,0 -3,0M407,1465.5a3.3,3.3 0 1,0 6.7,0a3.3,3.3 0 1,0 -6.7,0M383.7,1582.6a3,3 0 1,0 6,0a3,3 0 1,0 -6,0M402.1,1612.5a2.1,2.1 0 1,0 4.2,0a2.1,2.1 0 1,0 -4.2,0M591.2,1517.6a3.1,3.1 0 1,0 6.3,0a3.1,3.1 0 1,0 -6.3,0M534.5,1638.5a1.6,1.6 0 1,0 3.2,0a1.6,1.6 0 1,0 -3.2,0M543,1442.4a1.4,1.4 0 1,0 2.9,0a1.4,1.4 0 1,0 -2.9,0M412.2,1483.5a2.6,2.6 0 1,0 5.1,0a2.6,2.6 0 1,0 -5.1,0M627.4,1641.4a2.8,2.8 0 1,0 5.5,0a2.8,2.8 0 1,0 -5.5,0M429.6,1406.3a3.2,3.2 0 1,0 6.4,0a3.2,3.2 0 1,0 -6.4,0M569.1,1574.2a2.8,2.8 0 1,0 5.7,0a2.8,2.8 0 1,0 -5.7,0M494.4,1519.6a1.9,1.9 0 1,0 3.9,0a1.9,1.9 0 1,0 -3.9,0M467.6,1632.7a1.3,1.3 0 1,0 2.6,0a1.3,1.3 0 1,0 -2.6,0M470.9,1412.6a2.4,2.4 0 1,0 4.8,0a2.4,2.4 0 1,0 -4.8,0M363.5,1505.2a3.1,3.1 0 1,0 6.2,0a3.1,3.1 0 1,0 -6.2,0M512,1547.5a2.5,2.5 0 1,0 5,0a2.5,2.5 0 1,0 -5,0M466.2,1619.3a1.1,1.1 0 1,0 2.1,0a1.1,1.1 0 1,0 -2.1,0M427.2,1441.2a1.3,1.3 0 1,0 2.7,0a1.3,1.3 0 1,0 -2.7,0M471.4,1518a2.5,2.5 0 1,0 4.9,0a2.5,2.5 0 1,0 -4.9,0M440.1,1626.7a3,3 0 1,0 5.9,0a3,3 0 1,0 -5.9,0M625.4,1490.3a3,3 0 1,0 6.1,0a3,3 0 1,0 -6.1,0M483.5,1689.7a3.1,3.1 0 1,0 6.2,0a3.1,3.1 0 1,0 -6.2,0M522,1658.7a2.6,2.6 0 1,0 5.3,0a2.6,2.6 0 1,0 -5.3,0M435.9,1412.9a2,2 0 1,0 4,0a2,2 0 1,0 -4,0M515.1,1549.5a1.4,1.4 0 1,0 2.8,0a1.4,1.4 0 1,0 -2.8,0" fill="#f8ecf8" opacity="0.9" filter="url(#blur05)"/>
<circle cx="553" cy="1612.7" r="9" fill="#f8f4f8"/><circle cx="455.6" cy="1622.6" r="5" fill="#f8f4f8"/><circle cx="630" cy="1640" r="5" fill="#f8f4f8"/></g>
<line x1="620.0" y1="1697.5" x2="659.8" y2="1697.5" stroke="#000" stroke-width="3.2" stroke-linecap="butt"/>
<text x="196.6" y="1389.5" font-size="22.3" text-anchor="middle" stroke="#000" stroke-width="0.35">Ctrl</text>
<text x="514.2" y="1389.5" font-size="22.3" text-anchor="middle" stroke="#000" stroke-width="0.35">STAM</text>
<text transform="translate(29.0,1554.0) rotate(-90)" font-size="22" text-anchor="middle" stroke="#000" stroke-width="0.35">H&amp;E</text>
<rect x="1098.5" y="1403.3" width="301.5" height="302.3" filter="url(#fK1)"/>
<rect x="1415.3" y="1403.3" width="301.7" height="302.3" filter="url(#fK2)"/>
<defs>
<pattern id="pKdots" width="97" height="89" patternUnits="userSpaceOnUse"><path d="M41.9,50.6a1.2,1.2 0 1,0 2.3,0a1.2,1.2 0 1,0 -2.3,0M23.8,52.4a0.9,0.9 0 1,0 1.8,0a0.9,0.9 0 1,0 -1.8,0M72.6,48.3a0.8,0.8 0 1,0 1.6,0a0.8,0.8 0 1,0 -1.6,0M49.3,21.5a0.7,0.7 0 1,0 1.4,0a0.7,0.7 0 1,0 -1.4,0M10.2,30.5a0.7,0.7 0 1,0 1.4,0a0.7,0.7 0 1,0 -1.4,0M74.2,71.5a0.7,0.7 0 1,0 1.4,0a0.7,0.7 0 1,0 -1.4,0M50.1,38.4a0.9,0.9 0 1,0 1.8,0a0.9,0.9 0 1,0 -1.8,0M6.1,83.7a0.8,0.8 0 1,0 1.7,0a0.8,0.8 0 1,0 -1.7,0M89.6,35.9a0.8,0.8 0 1,0 1.6,0a0.8,0.8 0 1,0 -1.6,0M23.3,22a1.1,1.1 0 1,0 2.2,0a1.1,1.1 0 1,0 -2.2,0M79.6,71.9a0.8,0.8 0 1,0 1.7,0a0.8,0.8 0 1,0 -1.7,0M27.6,47.9a1.1,1.1 0 1,0 2.1,0a1.1,1.1 0 1,0 -2.1,0M67.5,75a1.1,1.1 0 1,0 2.2,0a1.1,1.1 0 1,0 -2.2,0M48.8,61.7a1.1,1.1 0 1,0 2.2,0a1.1,1.1 0 1,0 -2.2,0M17.7,87a1,1 0 1,0 1.9,0a1,1 0 1,0 -1.9,0M60.6,59.7a1.1,1.1 0 1,0 2.1,0a1.1,1.1 0 1,0 -2.1,0M7.6,6.8a0.8,0.8 0 1,0 1.7,0a0.8,0.8 0 1,0 -1.7,0M11.9,66.5a0.9,0.9 0 1,0 1.9,0a0.9,0.9 0 1,0 -1.9,0M16.9,35.9a0.8,0.8 0 1,0 1.6,0a0.8,0.8 0 1,0 -1.6,0M71.4,35.7a1.1,1.1 0 1,0 2.3,0a1.1,1.1 0 1,0 -2.3,0M67.9,41.3a1,1 0 1,0 2,0a1,1 0 1,0 -2,0M96,64.1a0.9,0.9 0 1,0 1.8,0a0.9,0.9 0 1,0 -1.8,0M-1,64.1a0.9,0.9 0 1,0 1.8,0a0.9,0.9 0 1,0 -1.8,0M37.3,75.8a1,1 0 1,0 2,0a1,1 0 1,0 -2,0M66.4,14.3a0.9,0.9 0 1,0 1.8,0a0.9,0.9 0 1,0 -1.8,0M0.9,47.7a0.7,0.7 0 1,0 1.4,0a0.7,0.7 0 1,0 -1.4,0M62.4,12.9a0.7,0.7 0 1,0 1.5,0a0.7,0.7 0 1,0 -1.5,0M15,37.1a0.9,0.9 0 1,0 1.9,0a0.9,0.9 0 1,0 -1.9,0M23.4,55.5a1,1 0 1,0 2,0a1,1 0 1,0 -2,0M19.7,34a1.2,1.2 0 1,0 2.3,0a1.2,1.2 0 1,0 -2.3,0M47,72.5a1,1 0 1,0 2.1,0a1,1 0 1,0 -2.1,0M62.5,78.6a0.7,0.7 0 1,0 1.4,0a0.7,0.7 0 1,0 -1.4,0M52.5,79.7a1,1 0 1,0 2,0a1,1 0 1,0 -2,0M0.5,83.6a1.1,1.1 0 1,0 2.1,0a1.1,1.1 0 1,0 -2.1,0M36.1,16.1a0.7,0.7 0 1,0 1.4,0a0.7,0.7 0 1,0 -1.4,0M89.5,74.3a0.8,0.8 0 1,0 1.5,0a0.8,0.8 0 1,0 -1.5,0M14.9,63.1a0.8,0.8 0 1,0 1.5,0a0.8,0.8 0 1,0 -1.5,0M54.4,32.3a1,1 0 1,0 2,0a1,1 0 1,0 -2,0M61.6,26.7a0.9,0.9 0 1,0 1.7,0a0.9,0.9 0 1,0 -1.7,0M17.3,85.3a0.9,0.9 0 1,0 1.8,0a0.9,0.9 0 1,0 -1.8,0M5.2,44a1,1 0 1,0 2.1,0a1,1 0 1,0 -2.1,0M85.3,28.9a1.1,1.1 0 1,0 2.2,0a1.1,1.1 0 1,0 -2.2,0M64.1,82.6a0.9,0.9 0 1,0 1.7,0a0.9,0.9 0 1,0 -1.7,0M18.6,1a1,1 0 1,0 2,0a1,1 0 1,0 -2,0M56.7,35.1a1.1,1.1 0 1,0 2.3,0a1.1,1.1 0 1,0 -2.3,0M22.3,71.9a1.2,1.2 0 1,0 2.3,0a1.2,1.2 0 1,0 -2.3,0M41.5,3.7a1,1 0 1,0 2,0a1,1 0 1,0 -2,0M62.1,84.5a1.1,1.1 0 1,0 2.3,0a1.1,1.1 0 1,0 -2.3,0M43,60a0.8,0.8 0 1,0 1.6,0a0.8,0.8 0 1,0 -1.6,0M62.6,69.7a1,1 0 1,0 1.9,0a1,1 0 1,0 -1.9,0M31.9,3.3a0.9,0.9 0 1,0 1.8,0a0.9,0.9 0 1,0 -1.8,0M30.6,80.5a0.8,0.8 0 1,0 1.6,0a0.8,0.8 0 1,0 -1.6,0M1,26.7a0.9,0.9 0 1,0 1.9,0a0.9,0.9 0 1,0 -1.9,0M25.1,65.1a0.9,0.9 0 1,0 1.7,0a0.9,0.9 0 1,0 -1.7,0M17,17.2a1.1,1.1 0 1,0 2.2,0a1.1,1.1 0 1,0 -2.2,0M10.7,55.4a1,1 0 1,0 1.9,0a1,1 0 1,0 -1.9,0M27.8,74a1,1 0 1,0 2.1,0a1,1 0 1,0 -2.1,0M79.5,28.1a1.1,1.1 0 1,0 2.1,0a1.1,1.1 0 1,0 -2.1,0M49.2,64.9a1.1,1.1 0 1,0 2.2,0a1.1,1.1 0 1,0 -2.2,0M33.4,53.6a1.1,1.1 0 1,0 2.3,0a1.1,1.1 0 1,0 -2.3,0M8.8,81.3a0.8,0.8 0 1,0 1.7,0a0.8,0.8 0 1,0 -1.7,0M71.8,16.3a1.2,1.2 0 1,0 2.4,0a1.2,1.2 0 1,0 -2.4,0M52.8,4.4a0.9,0.9 0 1,0 1.8,0a0.9,0.9 0 1,0 -1.8,0M60.9,61.2a0.9,0.9 0 1,0 1.7,0a0.9,0.9 0 1,0 -1.7,0M91.4,37a0.8,0.8 0 1,0 1.6,0a0.8,0.8 0 1,0 -1.6,0M77.2,83.2a1.1,1.1 0 1,0 2.1,0a1.1,1.1 0 1,0 -2.1,0M21.5,27.4a1.1,1.1 0 1,0 2.1,0a1.1,1.1 0 1,0 -2.1,0M2.3,25.4a0.9,0.9 0 1,0 1.9,0a0.9,0.9 0 1,0 -1.9,0" fill="#d28aa6" opacity="0.55"/></pattern>
</defs>
<rect x="1099" y="1404" width="300.5" height="301.3" fill="url(#pKdots)"/>
<rect x="1416" y="1404" width="300.7" height="301.3" fill="url(#pKdots)" transform="translate(0,0)"/>
<path d="M1198,1517 c8,-6 18,-2 20,9 c2,12 -3,23 -10,24 c-8,1 -15,-9 -14,-20 c0,-5 1,-10 4,-13z" fill="#f8eef0"/>
<g stroke="#dc6f94" fill="none" stroke-linecap="round" filter="url(#blur1)"><path d="M1485,1560 C1505,1548 1528,1548 1546,1538 C1565,1527 1580,1505 1590,1485 C1595,1472 1594,1462 1588,1455" stroke-width="4" opacity="0.75"/><path d="M1530,1552 C1540,1560 1555,1566 1566,1578" stroke-width="2.5" opacity="0.7"/><path d="M1560,1520 C1570,1510 1582,1503 1594,1503" stroke-width="2.5" opacity="0.7"/><path d="M1500,1560 C1507,1572 1518,1580 1530,1583" stroke-width="2" opacity="0.6"/><path d="M1570,1540 C1575,1552 1580,1565 1578,1580" stroke-width="2" opacity="0.6"/></g>
<ellipse cx="1540" cy="1535" rx="40" ry="28" fill="#e58aa8" opacity="0.25" filter="url(#blur3)"/>
<ellipse cx="1561.5" cy="1525" rx="10" ry="6" transform="rotate(-35 1561.5 1525)" fill="#f7e8ec"/>
<path d="M1615.8,1462.9a3.5,3.5 0 1,0 7,0a3.5,3.5 0 1,0 -7,0M1509.4,1681.3a1.5,1.5 0 1,0 3,0a1.5,1.5 0 1,0 -3,0M1583.8,1603.5a1.8,1.8 0 1,0 3.7,0a1.8,1.8 0 1,0 -3.7,0M1586.3,1487.8a2.3,2.3 0 1,0 4.7,0a2.3,2.3 0 1,0 -4.7,0M1509.8,1653.3a2.8,2.8 0 1,0 5.6,0a2.8,2.8 0 1,0 -5.6,0M1646.4,1620.9a2.1,2.1 0 1,0 4.1,0a2.1,2.1 0 1,0 -4.1,0M1517.1,1647.5a1.8,1.8 0 1,0 3.5,0a1.8,1.8 0 1,0 -3.5,0M1617.7,1473.9a3.4,3.4 0 1,0 6.7,0a3.4,3.4 0 1,0 -6.7,0M1592,1427.2a2.8,2.8 0 1,0 5.7,0a2.8,2.8 0 1,0 -5.7,0M1555.5,1631.9a2.6,2.6 0 1,0 5.1,0a2.6,2.6 0 1,0 -5.1,0M1582.7,1483a3,3 0 1,0 5.9,0a3,3 0 1,0 -5.9,0M1507.2,1664.6a1.6,1.6 0 1,0 3.2,0a1.6,1.6 0 1,0 -3.2,0M1415.9,1480.2a2.6,2.6 0 1,0 5.2,0a2.6,2.6 0 1,0 -5.2,0M1471.9,1668.5a3,3 0 1,0 6.1,0a3,3 0 1,0 -6.1,0M1509.7,1638.1a2.9,2.9 0 1,0 5.7,0a2.9,2.9 0 1,0 -5.7,0M1484.9,1643.1a3.3,3.3 0 1,0 6.5,0a3.3,3.3 0 1,0 -6.5,0M1647,1489.9a1.7,1.7 0 1,0 3.4,0a1.7,1.7 0 1,0 -3.4,0M1579.1,1606.1a3.4,3.4 0 1,0 6.8,0a3.4,3.4 0 1,0 -6.8,0M1512.7,1592.5a2,2 0 1,0 3.9,0a2,2 0 1,0 -3.9,0M1428.9,1493.7a3.4,3.4 0 1,0 6.9,0a3.4,3.4 0 1,0 -6.9,0M1604.3,1444a1.9,1.9 0 1,0 3.8,0a1.9,1.9 0 1,0 -3.8,0M1518.7,1570.8a2.6,2.6 0 1,0 5.3,0a2.6,2.6 0 1,0 -5.3,0M1619.6,1494.2a3.5,3.5 0 1,0 6.9,0a3.5,3.5 0 1,0 -6.9,0M1483,1583.9a2.5,2.5 0 1,0 5.1,0a2.5,2.5 0 1,0 -5.1,0M1630.3,1468.3a3.2,3.2 0 1,0 6.5,0a3.2,3.2 0 1,0 -6.5,0M1660.1,1474a1.7,1.7 0 1,0 3.4,0a1.7,1.7 0 1,0 -3.4,0M1592.2,1610.7a1.7,1.7 0 1,0 3.3,0a1.7,1.7 0 1,0 -3.3,0M1633.6,1468.4a3,3 0 1,0 6,0a3,3 0 1,0 -6,0M1626.8,1468.6a2,2 0 1,0 3.9,0a2,2 0 1,0 -3.9,0M1504.1,1520.7a3.5,3.5 0 1,0 6.9,0a3.5,3.5 0 1,0 -6.9,0M1553.6,1614.9a3.4,3.4 0 1,0 6.7,0a3.4,3.4 0 1,0 -6.7,0M1515.7,1495.1a2.6,2.6 0 1,0 5.2,0a2.6,2.6 0 1,0 -5.2,0M1435.8,1511.7a1.6,1.6 0 1,0 3.2,0a1.6,1.6 0 1,0 -3.2,0M1607,1410.2a2.4,2.4 0 1,0 4.8,0a2.4,2.4 0 1,0 -4.8,0M1544.8,1650a3.3,3.3 0 1,0 6.7,0a3.3,3.3 0 1,0 -6.7,0M1546.3,1633.8a3,3 0 1,0 6,0a3,3 0 1,0 -6,0M1599.8,1466.5a2.7,2.7 0 1,0 5.4,0a2.7,2.7 0 1,0 -5.4,0M1598.6,1457.5a3,3 0 1,0 6.1,0a3,3 0 1,0 -6.1,0M1554.3,1633.2a2.6,2.6 0 1,0 5.2,0a2.6,2.6 0 1,0 -5.2,0M1504.2,1617.9a2.1,2.1 0 1,0 4.2,0a2.1,2.1 0 1,0 -4.2,0M1624.1,1467.4a1.5,1.5 0 1,0 3,0a1.5,1.5 0 1,0 -3,0M1485.1,1684.1a2.2,2.2 0 1,0 4.4,0a2.2,2.2 0 1,0 -4.4,0M1636.4,1414.7a1.7,1.7 0 1,0 3.4,0a1.7,1.7 0 1,0 -3.4,0M1644.2,1523.6a3.4,3.4 0 1,0 6.9,0a3.4,3.4 0 1,0 -6.9,0M1507.7,1673.5a3.2,3.2 0 1,0 6.3,0a3.2,3.2 0 1,0 -6.3,0M1511.7,1578.5a2.2,2.2 0 1,0 4.3,0a2.2,2.2 0 1,0 -4.3,0M1538.2,1661.9a2.3,2.3 0 1,0 4.7,0a2.3,2.3 0 1,0 -4.7,0M1440.7,1567a2.8,2.8 0 1,0 5.7,0a2.8,2.8 0 1,0 -5.7,0M1505.9,1697.7a1.8,1.8 0 1,0 3.6,0a1.8,1.8 0 1,0 -3.6,0M1477.4,1646.4a3.3,3.3 0 1,0 6.6,0a3.3,3.3 0 1,0 -6.6,0M1618.3,1429.8a3.5,3.5 0 1,0 7,0a3.5,3.5 0 1,0 -7,0M1574.5,1545a3.4,3.4 0 1,0 6.8,0a3.4,3.4 0 1,0 -6.8,0M1508.7,1654.3a3.1,3.1 0 1,0 6.2,0a3.1,3.1 0 1,0 -6.2,0M1530.7,1653.8a3.4,3.4 0 1,0 6.7,0a3.4,3.4 0 1,0 -6.7,0M1679,1528a1.6,1.6 0 1,0 3.1,0a1.6,1.6 0 1,0 -3.1,0M1517.4,1643.6a2.3,2.3 0 1,0 4.5,0a2.3,2.3 0 1,0 -4.5,0M1601.2,1429.6a2.1,2.1 0 1,0 4.2,0a2.1,2.1 0 1,0 -4.2,0M1667.3,1512a2.5,2.5 0 1,0 5,0a2.5,2.5 0 1,0 -5,0M1479,1661.1a2.1,2.1 0 1,0 4.1,0a2.1,2.1 0 1,0 -4.1,0M1536.1,1606.1a2.1,2.1 0 1,0 4.1,0a2.1,2.1 0 1,0 -4.1,0M1565.5,1461.8a2.8,2.8 0 1,0 5.7,0a2.8,2.8 0 1,0 -5.7,0M1560,1636.4a2.8,2.8 0 1,0 5.6,0a2.8,2.8 0 1,0 -5.6,0M1679.6,1443a2.6,2.6 0 1,0 5.1,0a2.6,2.6 0 1,0 -5.1,0M1592.2,1441.1a1.9,1.9 0 1,0 3.8,0a1.9,1.9 0 1,0 -3.8,0M1601.2,1475.6a3.2,3.2 0 1,0 6.3,0a3.2,3.2 0 1,0 -6.3,0M1652.3,1405a1.6,1.6 0 1,0 3.3,0a1.6,1.6 0 1,0 -3.3,0M1584.1,1417.6a3.4,3.4 0 1,0 6.9,0a3.4,3.4 0 1,0 -6.9,0M1676.3,1480.1a2.7,2.7 0 1,0 5.5,0a2.7,2.7 0 1,0 -5.5,0M1621.3,1464.4a2.8,2.8 0 1,0 5.7,0a2.8,2.8 0 1,0 -5.7,0M1505.5,1610.7a1.5,1.5 0 1,0 3,0a1.5,1.5 0 1,0 -3,0M1556.2,1428.4a2.8,2.8 0 1,0 5.5,0a2.8,2.8 0 1,0 -5.5,0M1524.9,1650.4a3.5,3.5 0 1,0 6.9,0a3.5,3.5 0 1,0 -6.9,0M1563.9,1442.3a2.1,2.1 0 1,0 4.1,0a2.1,2.1 0 1,0 -4.1,0M1628.2,1463a2.1,2.1 0 1,0 4.1,0a2.1,2.1 0 1,0 -4.1,0M1625.2,1435.1a2,2 0 1,0 4.1,0a2,2 0 1,0 -4.1,0M1570,1532a3.3,3.3 0 1,0 6.5,0a3.3,3.3 0 1,0 -6.5,0M1507.8,1636.2a2.4,2.4 0 1,0 4.8,0a2.4,2.4 0 1,0 -4.8,0M1589.3,1442.9a2.6,2.6 0 1,0 5.2,0a2.6,2.6 0 1,0 -5.2,0M1496.6,1534.7a2.7,2.7 0 1,0 5.4,0a2.7,2.7 0 1,0 -5.4,0M1651.3,1486.5a3.4,3.4 0 1,0 6.9,0a3.4,3.4 0 1,0 -6.9,0M1542.4,1465.1a2.1,2.1 0 1,0 4.2,0a2.1,2.1 0 1,0 -4.2,0M1699.6,1484.1a3.2,3.2 0 1,0 6.4,0a3.2,3.2 0 1,0 -6.4,0M1492.2,1638.6a3.4,3.4 0 1,0 6.8,0a3.4,3.4 0 1,0 -6.8,0M1421.5,1411a3.3,3.3 0 1,0 6.7,0a3.3,3.3 0 1,0 -6.7,0M1695.8,1487.3a2.3,2.3 0 1,0 4.6,0a2.3,2.3 0 1,0 -4.6,0M1634.6,1436.2a3.1,3.1 0 1,0 6.2,0a3.1,3.1 0 1,0 -6.2,0M1586.5,1482.3a3,3 0 1,0 6,0a3,3 0 1,0 -6,0M1524,1611.8a3.4,3.4 0 1,0 6.7,0a3.4,3.4 0 1,0 -6.7,0M1690.4,1479.8a3.5,3.5 0 1,0 7,0a3.5,3.5 0 1,0 -7,0M1587.6,1419.5a2.1,2.1 0 1,0 4.1,0a2.1,2.1 0 1,0 -4.1,0M1542,1642a3,3 0 1,0 6,0a3,3 0 1,0 -6,0M1611.4,1569.8a3.2,3.2 0 1,0 6.4,0a3.2,3.2 0 1,0 -6.4,0M1524.6,1603.4a3.4,3.4 0 1,0 6.8,0a3.4,3.4 0 1,0 -6.8,0M1546.4,1634.2a3,3 0 1,0 6,0a3,3 0 1,0 -6,0M1614.5,1452.2a3.4,3.4 0 1,0 6.9,0a3.4,3.4 0 1,0 -6.9,0M1645.5,1581a2.9,2.9 0 1,0 5.8,0a2.9,2.9 0 1,0 -5.8,0M1516.3,1649.1a2.5,2.5 0 1,0 5,0a2.5,2.5 0 1,0 -5,0M1597.7,1448.3a3.2,3.2 0 1,0 6.4,0a3.2,3.2 0 1,0 -6.4,0M1556.7,1625.6a3.2,3.2 0 1,0 6.3,0a3.2,3.2 0 1,0 -6.3,0M1601.9,1570.4a2.1,2.1 0 1,0 4.1,0a2.1,2.1 0 1,0 -4.1,0M1486.4,1704.8a2.5,2.5 0 1,0 5,0a2.5,2.5 0 1,0 -5,0M1541.6,1596.9a2.6,2.6 0 1,0 5.2,0a2.6,2.6 0 1,0 -5.2,0M1517.1,1671.5a1.6,1.6 0 1,0 3.1,0a1.6,1.6 0 1,0 -3.1,0M1627.6,1564.4a2.7,2.7 0 1,0 5.4,0a2.7,2.7 0 1,0 -5.4,0M1646.4,1477.4a2.5,2.5 0 1,0 5,0a2.5,2.5 0 1,0 -5,0M1702.7,1649.7a2.6,2.6 0 1,0 5.2,0a2.6,2.6 0 1,0 -5.2,0M1512.5,1698.9a3.1,3.1 0 1,0 6.2,0a3.1,3.1 0 1,0 -6.2,0M1538.1,1626.6a3.4,3.4 0 1,0 6.9,0a3.4,3.4 0 1,0 -6.9,0M1592.9,1654.3a2.7,2.7 0 1,0 5.5,0a2.7,2.7 0 1,0 -5.5,0M1636.6,1489.4a2.6,2.6 0 1,0 5.2,0a2.6,2.6 0 1,0 -5.2,0M1529.9,1663.8a1.7,1.7 0 1,0 3.4,0a1.7,1.7 0 1,0 -3.4,0M1536.9,1682.5a1.5,1.5 0 1,0 3.1,0a1.5,1.5 0 1,0 -3.1,0M1624.2,1564.9a2.9,2.9 0 1,0 5.7,0a2.9,2.9 0 1,0 -5.7,0M1532.8,1611.6a2,2 0 1,0 4,0a2,2 0 1,0 -4,0M1700.3,1567.3a3.4,3.4 0 1,0 6.9,0a3.4,3.4 0 1,0 -6.9,0M1489.5,1689.3a1.8,1.8 0 1,0 3.6,0a1.8,1.8 0 1,0 -3.6,0M1561.1,1636.9a2.1,2.1 0 1,0 4.2,0a2.1,2.1 0 1,0 -4.2,0M1541.5,1665.1a2.9,2.9 0 1,0 5.9,0a2.9,2.9 0 1,0 -5.9,0M1671.6,1466.1a3.3,3.3 0 1,0 6.5,0a3.3,3.3 0 1,0 -6.5,0M1519.9,1609.3a1.7,1.7 0 1,0 3.3,0a1.7,1.7 0 1,0 -3.3,0M1484.1,1690.7a3.5,3.5 0 1,0 7,0a3.5,3.5 0 1,0 -7,0M1619.1,1439.3a1.6,1.6 0 1,0 3.3,0a1.6,1.6 0 1,0 -3.3,0M1498,1670.9a1.7,1.7 0 1,0 3.4,0a1.7,1.7 0 1,0 -3.4,0M1645.9,1524.1a3.4,3.4 0 1,0 6.7,0a3.4,3.4 0 1,0 -6.7,0M1415.3,1607.9a1.6,1.6 0 1,0 3.1,0a1.6,1.6 0 1,0 -3.1,0M1544.4,1468.2a1.9,1.9 0 1,0 3.8,0a1.9,1.9 0 1,0 -3.8,0M1489.1,1602.5a2.4,2.4 0 1,0 4.7,0a2.4,2.4 0 1,0 -4.7,0M1514.8,1598.9a1.9,1.9 0 1,0 3.9,0a1.9,1.9 0 1,0 -3.9,0M1558,1416.5a2.2,2.2 0 1,0 4.4,0a2.2,2.2 0 1,0 -4.4,0M1609,1493.7a2.8,2.8 0 1,0 5.5,0a2.8,2.8 0 1,0 -5.5,0M1506.2,1611.7a2,2 0 1,0 4,0a2,2 0 1,0 -4,0M1594.3,1470.2a3.4,3.4 0 1,0 6.8,0a3.4,3.4 0 1,0 -6.8,0M1643.5,1479.4a3,3 0 1,0 6.1,0a3,3 0 1,0 -6.1,0M1538.5,1670.8a2.8,2.8 0 1,0 5.7,0a2.8,2.8 0 1,0 -5.7,0M1602.6,1467.3a2.5,2.5 0 1,0 5.1,0a2.5,2.5 0 1,0 -5.1,0M1573.7,1664.3a2.9,2.9 0 1,0 5.8,0a2.9,2.9 0 1,0 -5.8,0M1482.9,1697.4a1.7,1.7 0 1,0 3.3,0a1.7,1.7 0 1,0 -3.3,0M1595.9,1457.2a3.3,3.3 0 1,0 6.7,0a3.3,3.3 0 1,0 -6.7,0M1532.2,1637.6a1.7,1.7 0 1,0 3.3,0a1.7,1.7 0 1,0 -3.3,0M1563.4,1653a3.1,3.1 0 1,0 6.3,0a3.1,3.1 0 1,0 -6.3,0M1555.1,1640.6a2.2,2.2 0 1,0 4.3,0a2.2,2.2 0 1,0 -4.3,0M1596.7,1480.3a2.1,2.1 0 1,0 4.1,0a2.1,2.1 0 1,0 -4.1,0M1572.9,1627.5a2.5,2.5 0 1,0 5.1,0a2.5,2.5 0 1,0 -5.1,0M1638.6,1493.4a2.2,2.2 0 1,0 4.5,0a2.2,2.2 0 1,0 -4.5,0M1525.1,1650.6a2.1,2.1 0 1,0 4.2,0a2.1,2.1 0 1,0 -4.2,0M1607.7,1455.6a1.8,1.8 0 1,0 3.6,0a1.8,1.8 0 1,0 -3.6,0M1617.3,1549.2a1.5,1.5 0 1,0 3.1,0a1.5,1.5 0 1,0 -3.1,0M1602.9,1572.1a3.2,3.2 0 1,0 6.4,0a3.2,3.2 0 1,0 -6.4,0M1690,1540.9a2.6,2.6 0 1,0 5.1,0a2.6,2.6 0 1,0 -5.1,0M1516.3,1592.9a2.4,2.4 0 1,0 4.7,0a2.4,2.4 0 1,0 -4.7,0" fill="#fbf0f3" opacity="0.9"/>
<rect x="1425" y="1476" width="5" height="2.5" fill="#703040"/>
<line x1="1671.9" y1="1697.5" x2="1712.0" y2="1697.5" stroke="#000" stroke-width="3.2" stroke-linecap="butt"/>
<text x="1249.3" y="1389.5" font-size="22.3" text-anchor="middle" stroke="#000" stroke-width="0.35">Ctrl</text>
<text x="1566.5" y="1389.5" font-size="22.3" text-anchor="middle" stroke="#000" stroke-width="0.35">STAM</text>
<text transform="translate(1086.5,1554.0) rotate(-90)" font-size="22.3" text-anchor="middle" stroke="#000" stroke-width="0.35">Sirius red</text>
<defs>
<pattern id="mfur" width="2" height="2" patternUnits="userSpaceOnUse"><rect width="2" height="2" fill="#ababab"/><rect width="1" height="1" fill="#a0a0a0"/></pattern>
<g id="mouse">
<path d="M118.5,146.5 C110,145.5 100,145 90,144.6 C78,144.2 66,144.5 59,148 C53,151 50,157 51.5,165.5" fill="none" stroke="#ddd2d4" stroke-width="2.6" stroke-linecap="round"/>
<path d="M118,148 C117.5,138 121,126 131,118 C140,112.5 152,110.5 162,111.2 C168,111.6 172,113.5 176,116.5 C179,116 181.5,117 183,117.8 C184,116 186.5,115.5 188.5,117 C190,118.5 190,121 189.5,123 C194,128 198.5,135 202.5,142 C204.5,145.5 203.5,148.5 200,149.5 C196,150.5 191,150.5 187.5,150.5 L187,152.5 C189,152.8 192,153 193,153.8 L184,154 C181,153.5 180,152 179.5,151 C168,152.5 155,152.5 144,152 C136,151.8 127,150.8 121,149.5 Z" fill="url(#mfur)"/>
<ellipse cx="174.5" cy="125" rx="6" ry="7" fill="#e6c8d0" opacity="0.6" filter="url(#blur1)"/>
<path d="M129,150.5 C132,153.2 140,153.6 146,152.3" fill="none" stroke="#b3abad" stroke-width="2" stroke-linecap="round"/>
<path d="M170,113.5 L176,111.3" stroke="#8fb5b0" stroke-width="1.2"/>
<path d="M176,111.3 L241.5,86.8" stroke="#b4b8b8" stroke-width="1.6"/>
<path d="M216.5,92.5 L220,98 M217.5,93.6 L219,97" stroke="#a8acac" stroke-width="1.2"/>
<path d="M239.5,85 L242.8,90" stroke="#a8acac" stroke-width="1.2"/>
</g>
</defs>
<use href="#mouse"/>
<use href="#mouse" transform="translate(-5.5,114)"/>
<text x="92.8" y="103.8" font-size="23.9" stroke="#000" stroke-width="0.75">Ctrl</text>
<text x="83.4" y="212.8" font-size="22.7" stroke="#000" stroke-width="0.75">STAM</text>
<text x="93.3" y="310.6" font-size="23.7" stroke="#000" stroke-width="0.75">C57BL/6J</text>
<text x="340.5" y="116.0" font-size="23.7" text-anchor="middle" stroke="#000" stroke-width="0.75">Vehicle / STZ</text>
<text x="339.8" y="142.5" font-size="25" text-anchor="middle" stroke="#000" stroke-width="0.75">injection</text>
<rect x="441.8" y="166" width="145.7" height="28" fill="#f8e4b0"/>
<text x="515.0" y="185.2" font-size="21.5" font-weight="bold" text-anchor="middle" stroke="#000" stroke-width="0.35">HFD</text>
<line x1="269.0" y1="194.0" x2="630.0" y2="194.0" stroke="#333" stroke-width="2.2" stroke-linecap="butt"/>
<line x1="441.0" y1="194.0" x2="587.5" y2="194.0" stroke="#222" stroke-width="3.2" stroke-linecap="butt"/>
<path d="M627,188.5 L641,194 L627,199.5 Z" fill="#333"/>
<rect x="384" y="188" width="7" height="12" fill="#fff"/>
<line x1="381.5" y1="199.5" x2="387.0" y2="188.5" stroke="#333" stroke-width="1.8" stroke-linecap="butt"/>
<line x1="387.5" y1="199.5" x2="393.0" y2="188.5" stroke="#333" stroke-width="1.8" stroke-linecap="butt"/>
<circle cx="269" cy="194" r="4.8" fill="#fff" stroke="#333" stroke-width="2.2"/>
<circle cx="441" cy="194" r="4.8" fill="#fff" stroke="#333" stroke-width="2.2"/>
<circle cx="587.5" cy="194" r="4.8" fill="#fff" stroke="#333" stroke-width="2.2"/>
<circle cx="337.7" cy="194" r="5.6" fill="#d23238"/>
<line x1="337.7" y1="185.5" x2="337.7" y2="163.0" stroke="#777" stroke-width="2.4" stroke-linecap="butt"/>
<path d="M332.5,165 L337.7,156 L342.9,165 Z" fill="#777"/>
<text x="274.0" y="222.0" font-size="22" text-anchor="middle" stroke="#000" stroke-width="0.75">0W</text>
<text x="274.5" y="245.5" font-size="25" text-anchor="middle" stroke="#000" stroke-width="0.75">(Birth)</text>
<text x="343.3" y="222.0" font-size="22.5" text-anchor="middle" fill="#c2505a" stroke="#c2505a" stroke-width="0.75">Day2</text>
<text x="447.8" y="222.0" font-size="22.4" text-anchor="middle" stroke="#000" stroke-width="0.75">4W</text>
<text x="588.5" y="224.0" font-size="21" text-anchor="middle" stroke="#000" stroke-width="0.75">7W</text>
</svg></body></html>
